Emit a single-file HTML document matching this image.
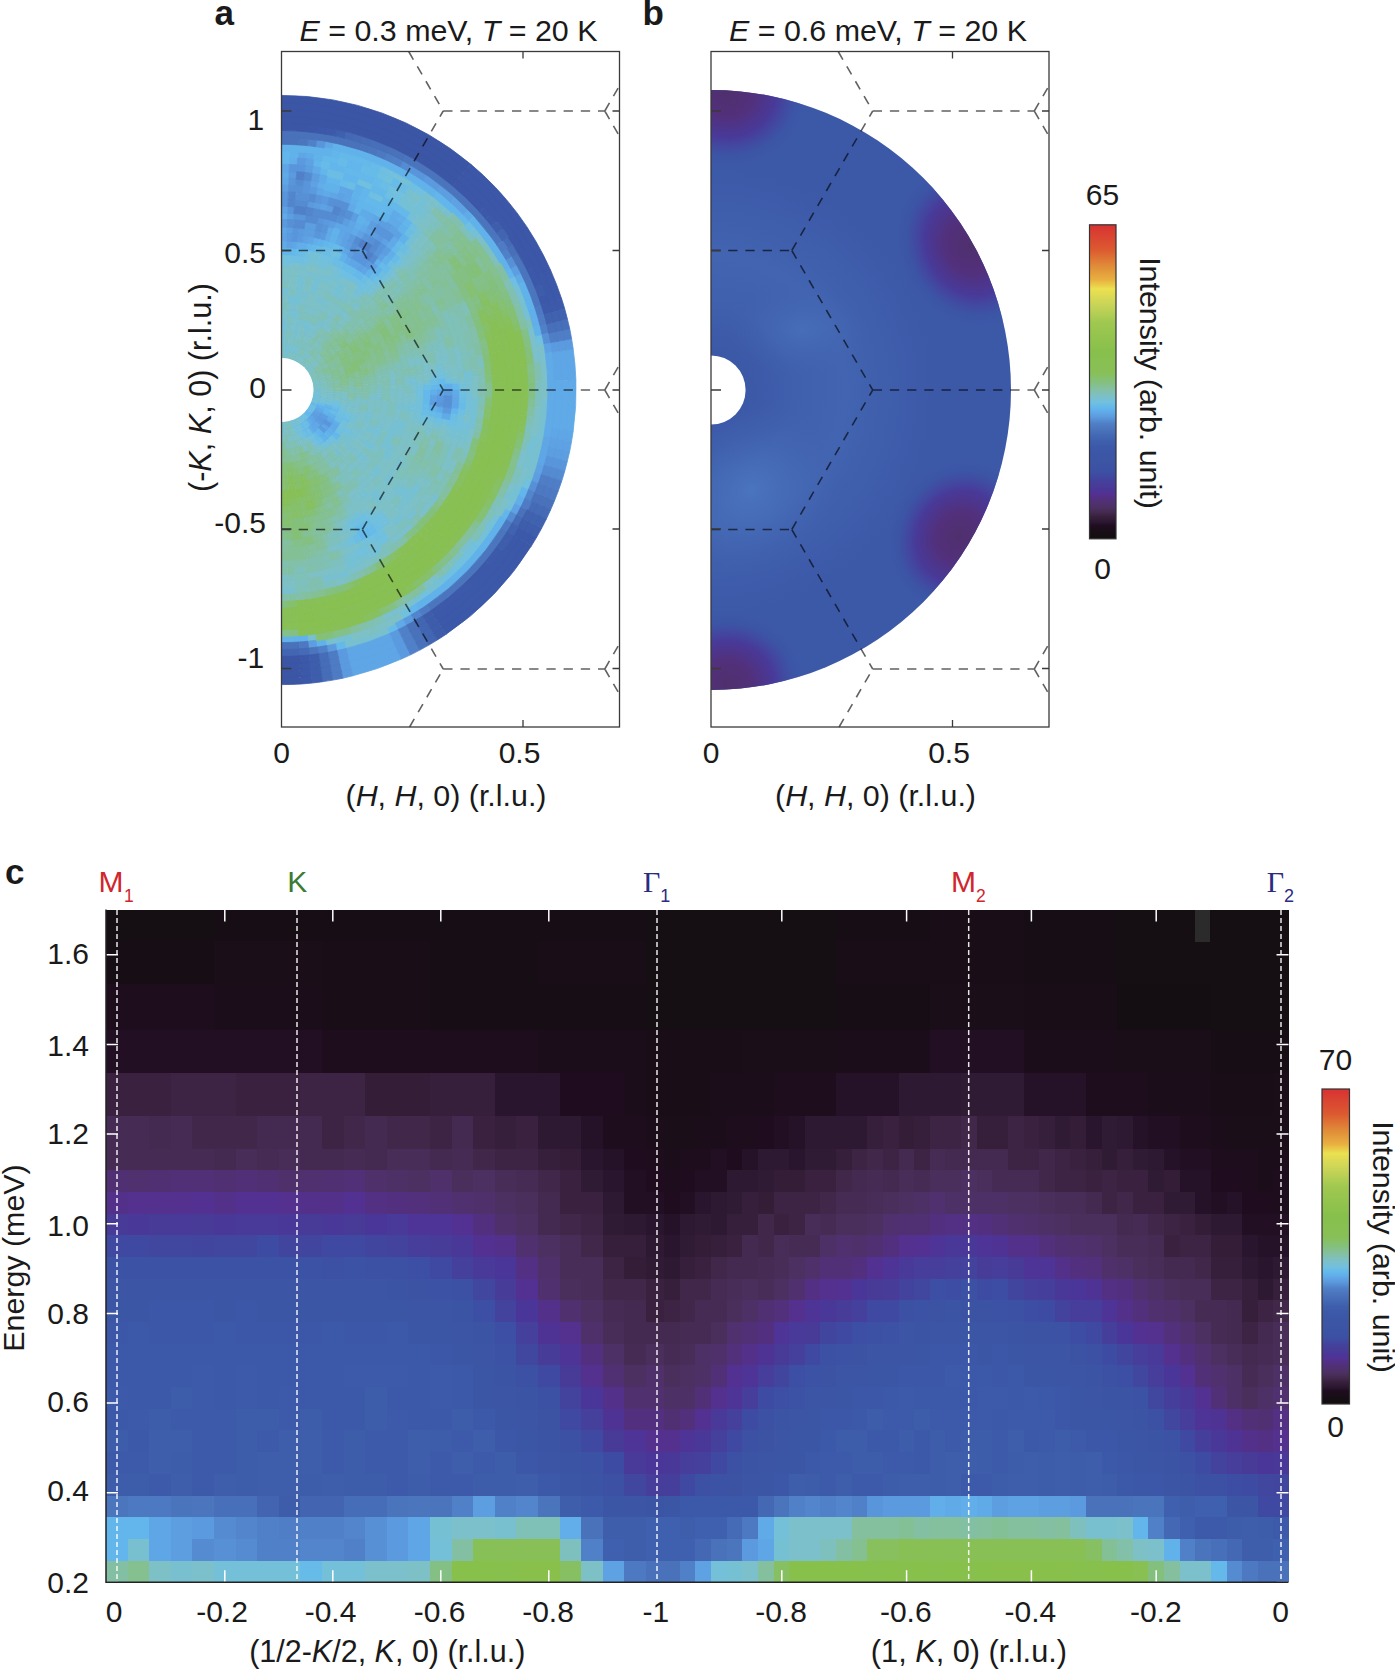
<!DOCTYPE html><html><head><meta charset="utf-8"><title>Figure</title><style>html,body{margin:0;padding:0;background:#fff;width:1395px;height:1672px;overflow:hidden}svg{display:block}text{font-family:"Liberation Sans",Arial,Helvetica,sans-serif;fill:#1a1a1a}</style></head><body><svg width="1395" height="1672" viewBox="0 0 1395 1672"><defs><linearGradient id="cm" x1="0" y1="0" x2="0" y2="1"><stop offset="0.000" stop-color="#d83232"/><stop offset="0.080" stop-color="#dc5a30"/><stop offset="0.130" stop-color="#e08a38"/><stop offset="0.175" stop-color="#e8b040"/><stop offset="0.204" stop-color="#ece050"/><stop offset="0.255" stop-color="#c8d458"/><stop offset="0.310" stop-color="#a0c850"/><stop offset="0.400" stop-color="#88c04c"/><stop offset="0.472" stop-color="#88c058"/><stop offset="0.502" stop-color="#84c080"/><stop offset="0.522" stop-color="#84c0a0"/><stop offset="0.546" stop-color="#7cc0c8"/><stop offset="0.566" stop-color="#70c0e0"/><stop offset="0.582" stop-color="#62b8ec"/><stop offset="0.598" stop-color="#60a8e8"/><stop offset="0.614" stop-color="#5a98dc"/><stop offset="0.632" stop-color="#5080c8"/><stop offset="0.652" stop-color="#4a74bc"/><stop offset="0.672" stop-color="#4468b4"/><stop offset="0.692" stop-color="#3e5eac"/><stop offset="0.712" stop-color="#3c58a8"/><stop offset="0.732" stop-color="#3c56a6"/><stop offset="0.760" stop-color="#3c54a4"/><stop offset="0.787" stop-color="#3c50a4"/><stop offset="0.802" stop-color="#4048a0"/><stop offset="0.816" stop-color="#44409c"/><stop offset="0.830" stop-color="#483c98"/><stop offset="0.844" stop-color="#4a3698"/><stop offset="0.859" stop-color="#543090"/><stop offset="0.873" stop-color="#52307e"/><stop offset="0.887" stop-color="#503070"/><stop offset="0.901" stop-color="#4c3060"/><stop offset="0.916" stop-color="#442a50"/><stop offset="0.930" stop-color="#38203c"/><stop offset="0.945" stop-color="#2c1830"/><stop offset="0.959" stop-color="#200c20"/><stop offset="0.973" stop-color="#1a0e18"/><stop offset="0.987" stop-color="#140e12"/><stop offset="1.000" stop-color="#140e12"/></linearGradient><clipPath id="ca"><rect x="281.5" y="51.5" width="338" height="675.5"/></clipPath><clipPath id="cb"><rect x="711" y="51.5" width="338" height="675.5"/></clipPath></defs><rect width="1395" height="1672" fill="#fff"/><g clip-path="url(#ca)" stroke-width="0.8"><path fill="#78c0cf" stroke="#78c0cf" d="M281.5 429.5A39.5 39.5 0 0 0 284.3 429.4L283.7 421.9A32 32 0 0 1 281.5 422ZM295 427.1A39.5 39.5 0 0 0 300 424.9L296.5 418.3A32 32 0 0 1 292.4 420.1ZM320.8 385.9A39.5 39.5 0 0 0 320.4 383.1L313 384.4A32 32 0 0 1 313.3 386.7ZM300 355.1A39.5 39.5 0 0 0 297.6 353.9L294.5 360.8A32 32 0 0 1 296.5 361.7ZM295 352.9A39.5 39.5 0 0 0 292.4 352L290.3 359.2A32 32 0 0 1 292.4 359.9ZM289.7 351.4A39.5 39.5 0 0 0 284.3 350.6L283.7 358.1A32 32 0 0 1 288.2 358.7ZM294.3 434.6A46.4 46.4 0 0 0 295.8 434.1L293.5 427A38.9 38.9 0 0 1 292.2 427.4ZM327.6 394.8A46.4 46.4 0 0 0 327.8 393.2L320.3 392.7A38.9 38.9 0 0 1 320.2 394.1ZM308.8 352.5A46.4 46.4 0 0 0 306.1 350.7L302.1 357A38.9 38.9 0 0 1 304.4 358.5ZM297.4 346.4A46.4 46.4 0 0 0 294.3 345.4L292.2 352.6A38.9 38.9 0 0 1 294.8 353.5ZM291.1 344.6A46.4 46.4 0 0 0 288 344.1L286.9 351.5A38.9 38.9 0 0 1 289.6 352ZM299.7 440.1A53.3 53.3 0 0 0 301.5 439.4L298.7 432.5A45.8 45.8 0 0 1 297.2 433ZM333.2 402.9A53.3 53.3 0 0 0 333.6 401.1L326.3 399.5A45.8 45.8 0 0 1 325.9 401.1ZM334 399.3A53.3 53.3 0 0 0 334.3 397.4L326.8 396.4A45.8 45.8 0 0 1 326.6 398ZM334.5 395.6A53.3 53.3 0 0 0 334.7 393.7L327.2 393.2A45.8 45.8 0 0 1 327 394.8ZM341.3 396.3A60.2 60.2 0 0 0 341.5 394.2L334.1 393.7A52.7 52.7 0 0 1 333.9 395.5ZM285.7 330A60.2 60.2 0 0 0 281.5 329.8L281.5 337.3A52.7 52.7 0 0 1 285.2 337.4ZM315 448.1A67.1 67.1 0 0 0 317 446.9L313.1 440.5A59.6 59.6 0 0 1 311.3 441.6ZM347.6 401.6A67.1 67.1 0 0 0 347.9 399.3L340.5 398.3A59.6 59.6 0 0 1 340.2 400.3ZM310.9 329.7A67.1 67.1 0 0 0 304.4 327L301.9 334A59.6 59.6 0 0 1 307.6 336.5ZM290.8 323.6A67.1 67.1 0 0 0 286.2 323.1L285.7 330.6A59.6 59.6 0 0 1 289.8 331ZM322.9 451.3A74 74 0 0 0 325 449.8L320.6 443.8A66.5 66.5 0 0 1 318.7 445.1ZM353.9 405.4A74 74 0 0 0 354.3 402.8L347 401.5A66.5 66.5 0 0 1 346.5 403.8ZM306.8 320.5A74 74 0 0 0 296.9 317.6L295.3 325A66.5 66.5 0 0 1 304.2 327.5ZM337.7 448.2A80.9 80.9 0 0 0 348.5 435.2L342.3 431A73.4 73.4 0 0 1 332.5 442.8ZM326.7 323A80.9 80.9 0 0 0 319.5 318.6L315.9 325.2A73.4 73.4 0 0 1 322.5 329.2ZM292.8 309.9A80.9 80.9 0 0 0 287.1 309.3L286.6 316.8A73.4 73.4 0 0 1 291.7 317.3ZM337.9 457.2A87.8 87.8 0 0 0 342.5 453.1L337.3 447.7A80.3 80.3 0 0 1 333.1 451.5ZM348.7 446.4A87.8 87.8 0 0 0 354.3 439.1L348 434.9A80.3 80.3 0 0 1 343 441.6ZM357.5 433.9A87.8 87.8 0 0 0 360.4 428.5L353.6 425.2A80.3 80.3 0 0 1 351 430.1ZM351.8 453.3A94.7 94.7 0 0 0 356.1 448.3L350.2 443.7A87.2 87.2 0 0 1 346.3 448.3ZM363.5 437.3A94.7 94.7 0 0 0 366.6 431.5L359.8 428.2A87.2 87.2 0 0 1 357 433.6ZM369.3 425.5A94.7 94.7 0 0 0 371.5 419.2L364.4 416.9A87.2 87.2 0 0 1 362.3 422.6ZM372.5 416.1A94.7 94.7 0 0 0 373.3 412.9L366.1 411.1A87.2 87.2 0 0 1 365.3 414ZM359.3 455.3A101.5 101.5 0 0 0 361.5 452.5L355.6 447.9A94.1 94.1 0 0 1 353.5 450.5ZM365.7 446.8A101.5 101.5 0 0 0 369.4 440.8L363 437A94.1 94.1 0 0 1 359.5 442.6ZM382.5 400.6A101.5 101.5 0 0 0 382.8 397.1L375.3 396.6A94.1 94.1 0 0 1 375 399.8ZM346.8 312.2A101.5 101.5 0 0 0 341.2 307.8L336.8 313.9A94.1 94.1 0 0 1 342 318ZM329.2 300.3A101.5 101.5 0 0 0 316.2 294.6L313.7 301.6A94.1 94.1 0 0 1 325.7 307ZM309.5 292.4A101.5 101.5 0 0 0 295.6 289.4L294.6 296.9A94.1 94.1 0 0 1 307.4 299.6ZM362.1 462.6A108.4 108.4 0 0 0 364.6 459.7L358.8 454.9A100.9 100.9 0 0 1 356.5 457.5ZM382 430.6A108.4 108.4 0 0 0 384.6 423.5L377.5 421.2A100.9 100.9 0 0 1 375.1 427.8ZM358.7 304.3A115.3 115.3 0 0 0 355.6 301.6L350.8 307.4A107.8 107.8 0 0 1 353.7 309.9ZM349.3 296.7A115.3 115.3 0 0 0 342.6 292.2L338.6 298.5A107.8 107.8 0 0 1 344.9 302.8ZM397.7 427.8A122.2 122.2 0 0 0 400.1 419.6L392.8 417.8A114.7 114.7 0 0 1 390.6 425.5ZM401.9 411.2A122.2 122.2 0 0 0 403.1 402.8L395.6 402A114.7 114.7 0 0 1 394.5 409.9ZM323.3 275.1A122.2 122.2 0 0 0 306.9 270.4L305.4 277.8A114.7 114.7 0 0 1 320.7 282.2ZM374.4 479.7A129.1 129.1 0 0 0 377.5 476.4L371.9 471.4A121.6 121.6 0 0 1 369 474.5ZM393.3 454.6A129.1 129.1 0 0 0 397.6 446.6L390.8 443.3A121.6 121.6 0 0 1 386.8 450.8ZM401.2 438.4A129.1 129.1 0 0 0 404.3 429.9L397.2 427.6A121.6 121.6 0 0 1 394.3 435.6ZM408.7 412.4A129.1 129.1 0 0 0 409.9 403.5L402.5 402.7A121.6 121.6 0 0 1 401.3 411.1ZM308.3 263.7A129.1 129.1 0 0 0 299.5 262.1L298.4 269.6A121.6 121.6 0 0 1 306.8 271ZM361.5 500A136 136 0 0 0 365.2 497.2L360.6 491.3A128.5 128.5 0 0 1 357 494ZM417.4 394.7A136 136 0 0 0 417.5 390L410 390A128.5 128.5 0 0 1 409.9 394.5ZM417.2 380.5A136 136 0 0 0 416.8 375.8L409.3 376.6A128.5 128.5 0 0 1 409.7 381ZM336.8 265.7A136 136 0 0 0 328 262.2L325.5 269.2A128.5 128.5 0 0 1 333.8 272.6ZM400 469.9A142.9 142.9 0 0 0 405.3 461.5L398.8 457.7A135.4 135.4 0 0 1 393.8 465.7ZM420.2 424.6A142.9 142.9 0 0 0 421.3 419.7L414 418.2A135.4 135.4 0 0 1 412.9 422.8ZM380.8 287.2A142.9 142.9 0 0 0 377.1 283.8L372.1 289.4A135.4 135.4 0 0 1 375.6 292.6ZM347.2 524.6A149.8 149.8 0 0 0 351.8 522.3L348.3 515.7A142.3 142.3 0 0 1 343.9 517.9ZM360.9 517A149.8 149.8 0 0 0 365.3 514.2L361.1 508A142.3 142.3 0 0 1 356.9 510.7ZM431.2 384.8A149.8 149.8 0 0 0 430.9 379.5L423.5 380.1A142.3 142.3 0 0 1 423.7 385ZM345.2 533.2A156.7 156.7 0 0 0 350.2 530.8L346.9 524.1A149.2 149.2 0 0 1 342.2 526.3ZM373.6 516.8A156.7 156.7 0 0 0 378 513.5L373.4 507.6A149.2 149.2 0 0 1 369.2 510.7ZM401.5 490.7A156.7 156.7 0 0 0 405 486.5L399.1 481.9A149.2 149.2 0 0 1 395.8 485.9ZM432.1 433.2A156.7 156.7 0 0 0 433.6 427.9L426.3 426.1A149.2 149.2 0 0 1 424.9 431.1ZM443.5 367.2A163.6 163.6 0 0 0 442.6 361.6L435.2 362.9A156.1 156.1 0 0 1 436.1 368.3ZM339.8 550.2A170.5 170.5 0 0 0 345.4 548.1L342.6 541.1A163 163 0 0 1 337.2 543.2ZM399.9 512.6A170.5 170.5 0 0 0 408.2 504.1L402.6 499.1A163 163 0 0 1 394.7 507.3ZM419.4 490.2A170.5 170.5 0 0 0 422.8 485.3L416.6 481.1A163 163 0 0 1 413.4 485.8ZM451.6 378.1A170.5 170.5 0 0 0 451.1 372.2L443.6 373A163 163 0 0 1 444.1 378.6ZM399.9 267.4A170.5 170.5 0 0 0 395.6 263.3L390.6 268.9A163 163 0 0 1 394.7 272.7ZM359.3 549.4A177.4 177.4 0 0 0 364.8 546.6L361.3 540A169.9 169.9 0 0 1 356 542.7ZM452 438.9A177.4 177.4 0 0 0 453.6 432.9L446.3 431.1A169.9 169.9 0 0 1 444.8 436.8ZM344.5 563.2A184.3 184.3 0 0 0 350.5 560.9L347.7 553.9A176.8 176.8 0 0 1 342 556.1ZM368 552.7A184.3 184.3 0 0 0 379.2 546.3L375.2 539.9A176.8 176.8 0 0 1 364.5 546.1ZM409.5 522.6A184.3 184.3 0 0 0 418.4 513.3L412.9 508.3A176.8 176.8 0 0 1 404.3 517.2ZM458.6 440.8A184.3 184.3 0 0 0 460.3 434.6L453 432.8A176.8 176.8 0 0 1 451.4 438.7ZM409.5 257.4A184.3 184.3 0 0 0 404.8 253.1L399.8 258.6A176.8 176.8 0 0 1 404.3 262.8ZM359.3 564.7A191.2 191.2 0 0 0 371.3 558.8L367.7 552.2A183.7 183.7 0 0 1 356.2 557.8ZM436.2 502.4A191.2 191.2 0 0 0 440 496.9L433.8 492.7A183.7 183.7 0 0 1 430.1 498ZM465.3 442.7A191.2 191.2 0 0 0 467 436.3L459.7 434.4A183.7 183.7 0 0 1 458.1 440.6ZM470.8 416.6A191.2 191.2 0 0 0 471.6 410L464.2 409.2A183.7 183.7 0 0 1 463.4 415.6ZM472.7 390A191.2 191.2 0 0 0 472.6 383.3L465.1 383.6A183.7 183.7 0 0 1 465.2 390ZM322.7 583.7A198.1 198.1 0 0 0 342.7 578.4L340.4 571.3A190.6 190.6 0 0 1 321.1 576.4ZM475.2 431.2A198.1 198.1 0 0 0 476.6 424.4L469.2 423.1A190.6 190.6 0 0 1 467.9 429.6ZM281.5 595A205 205 0 0 0 295.8 594.5L295.3 587A197.5 197.5 0 0 1 281.5 587.5ZM426.5 217.1A225.7 225.7 0 0 0 420.4 212.2L415.8 218.1A218.2 218.2 0 0 1 421.7 222.9ZM431 211.9A232.5 232.5 0 0 0 424.7 206.8L420.1 212.7A225.1 225.1 0 0 1 426.2 217.6ZM418.2 201.9A232.5 232.5 0 0 0 411.5 197.2L407.3 203.4A225.1 225.1 0 0 1 413.8 207.9ZM415.4 191.5A239.4 239.4 0 0 0 408.4 186.9L404.4 193.3A231.9 231.9 0 0 1 411.2 197.7ZM464.6 554.8A246.3 246.3 0 0 0 475.6 541.7L469.7 537A238.8 238.8 0 0 1 459 549.8ZM452.6 212.8A246.3 246.3 0 0 0 446.3 206.9L441.3 212.5A238.8 238.8 0 0 1 447.4 218.2ZM433.2 195.9A246.3 246.3 0 0 0 426.3 190.7L421.9 196.8A238.8 238.8 0 0 1 428.5 201.8ZM308 641.8A253.2 253.2 0 0 0 316.7 640.8L315.7 633.3A245.7 245.7 0 0 1 307.2 634.4ZM392.5 617.6A253.2 253.2 0 0 0 400.4 613.6L396.9 607A245.7 245.7 0 0 1 389.2 610.9ZM509.1 501A253.2 253.2 0 0 0 512.8 493L506 490A245.7 245.7 0 0 1 502.4 497.7ZM326.7 646.2A260.1 260.1 0 0 0 335.6 644.4L334 637.1A252.6 252.6 0 0 1 325.4 638.8ZM528.9 470.4A260.1 260.1 0 0 0 533.9 452.9L526.6 451.1A252.6 252.6 0 0 1 521.8 468.1ZM525.9 301A260.1 260.1 0 0 0 522.7 292.6L515.7 295.4A252.6 252.6 0 0 1 518.9 303.6ZM346.1 649.1A267 267 0 0 0 390.1 633.9L387.1 627.1A259.5 259.5 0 0 1 344.3 641.8ZM532.4 481.3A267 267 0 0 0 544.5 436.4L537.1 435.1A259.5 259.5 0 0 1 525.4 478.8ZM545.9 427.2A267 267 0 0 0 548.4 399.3L540.9 399.1A259.5 259.5 0 0 1 538.5 426.1Z"/><path fill="#7bc0ca" stroke="#7bc0ca" d="M284.3 429.4A39.5 39.5 0 0 0 287 429.1L286 421.7A32 32 0 0 1 283.7 421.9ZM315.7 370.3A39.5 39.5 0 0 0 314.2 367.9L308 372.1A32 32 0 0 1 309.2 374ZM310.9 363.6A39.5 39.5 0 0 0 308.9 361.6L303.7 367A32 32 0 0 1 305.3 368.6ZM302.4 356.5A39.5 39.5 0 0 0 300 355.1L296.5 361.7A32 32 0 0 1 298.5 362.9ZM281.5 436.4A46.4 46.4 0 0 0 284.7 436.3L284.2 428.8A38.9 38.9 0 0 1 281.5 428.9ZM327.2 398.1A46.4 46.4 0 0 0 327.4 396.5L320 395.4A38.9 38.9 0 0 1 319.8 396.8ZM327.8 393.2A46.4 46.4 0 0 0 327.9 391.6L320.4 391.4A38.9 38.9 0 0 1 320.3 392.7ZM318.1 361.4A46.4 46.4 0 0 0 316 359L310.4 364A38.9 38.9 0 0 1 312.1 366.1ZM313.7 356.6A46.4 46.4 0 0 0 311.3 354.5L306.5 360.2A38.9 38.9 0 0 1 308.5 362ZM290.8 442.5A53.3 53.3 0 0 0 296.2 441.2L294.1 434A45.8 45.8 0 0 1 289.5 435.1ZM298 440.7A53.3 53.3 0 0 0 299.7 440.1L297.2 433A45.8 45.8 0 0 1 295.6 433.5ZM333.6 401.1A53.3 53.3 0 0 0 334 399.3L326.6 398A45.8 45.8 0 0 1 326.3 399.5ZM334.3 397.4A53.3 53.3 0 0 0 334.5 395.6L327 394.8A45.8 45.8 0 0 1 326.8 396.4ZM334.7 393.7A53.3 53.3 0 0 0 334.8 391.9L327.3 391.6A45.8 45.8 0 0 1 327.2 393.2ZM312.8 346.9A53.3 53.3 0 0 0 309.7 344.8L305.8 351.2A45.8 45.8 0 0 1 308.4 353ZM300.1 447.2A60.2 60.2 0 0 0 302.1 446.5L299.5 439.5A52.7 52.7 0 0 1 297.8 440.1ZM304 445.8A60.2 60.2 0 0 0 306 445L302.9 438.1A52.7 52.7 0 0 1 301.2 438.8ZM307.9 444.1A60.2 60.2 0 0 0 309.8 443.1L306.2 436.5A52.7 52.7 0 0 1 304.6 437.4ZM341.5 394.2A60.2 60.2 0 0 0 341.6 392.1L334.2 391.8A52.7 52.7 0 0 1 334.1 393.7ZM313 449.2A67.1 67.1 0 0 0 315 448.1L311.3 441.6A59.6 59.6 0 0 1 309.5 442.6ZM346.6 406.2A67.1 67.1 0 0 0 347.1 403.9L339.8 402.4A59.6 59.6 0 0 1 339.3 404.4ZM347.9 399.3A67.1 67.1 0 0 0 348.5 392.3L341 392.1A59.6 59.6 0 0 1 340.5 398.3ZM317 333.1A67.1 67.1 0 0 0 310.9 329.7L307.6 336.5A59.6 59.6 0 0 1 313.1 339.5ZM320.7 452.7A74 74 0 0 0 322.9 451.3L318.7 445.1A66.5 66.5 0 0 1 316.7 446.4ZM351.8 412.9A74 74 0 0 0 352.6 410.4L345.4 408.3A66.5 66.5 0 0 1 344.7 410.5ZM320.7 327.3A74 74 0 0 0 311.6 322.4L308.5 329.3A66.5 66.5 0 0 1 316.7 333.6ZM296.9 317.6A74 74 0 0 0 291.8 316.8L290.8 324.2A66.5 66.5 0 0 1 295.3 325ZM326.7 457A80.9 80.9 0 0 0 329 455.4L324.6 449.4A73.4 73.4 0 0 1 322.5 450.8ZM351.5 430.4A80.9 80.9 0 0 0 354.2 425.4L347.4 422.2A73.4 73.4 0 0 1 345 426.7ZM358.4 415A80.9 80.9 0 0 0 359.2 412.3L352 410.2A73.4 73.4 0 0 1 351.3 412.7ZM360 409.6A80.9 80.9 0 0 0 361.9 398.5L354.5 397.7A73.4 73.4 0 0 1 352.7 407.7ZM331.3 326.3A80.9 80.9 0 0 0 326.7 323L322.5 329.2A73.4 73.4 0 0 1 326.7 332.2ZM346.7 448.7A87.8 87.8 0 0 0 348.7 446.4L343 441.6A80.3 80.3 0 0 1 341.1 443.7ZM362.9 422.9A87.8 87.8 0 0 0 366.7 411.2L359.4 409.4A80.3 80.3 0 0 1 355.9 420.1ZM367.9 405.2A87.8 87.8 0 0 0 368.8 399.2L361.3 398.4A80.3 80.3 0 0 1 360.5 403.9ZM333.1 319A87.8 87.8 0 0 0 328 315.6L324 321.9A80.3 80.3 0 0 1 328.7 325.1ZM317.2 309.8A87.8 87.8 0 0 0 305.7 305.6L303.6 312.8A80.3 80.3 0 0 1 314.1 316.7ZM299.7 304.2A87.8 87.8 0 0 0 287.6 302.5L287.1 309.9A80.3 80.3 0 0 1 298.2 311.5ZM360 442.9A94.7 94.7 0 0 0 363.5 437.3L357 433.6A87.2 87.2 0 0 1 353.8 438.7ZM366.6 431.5A94.7 94.7 0 0 0 369.3 425.5L362.3 422.6A87.2 87.2 0 0 1 359.8 428.2ZM373.3 412.9A94.7 94.7 0 0 0 374.7 406.4L367.3 405.1A87.2 87.2 0 0 1 366.1 411.1ZM375.6 399.9A94.7 94.7 0 0 0 376.1 393.3L368.6 393A87.2 87.2 0 0 1 368.2 399.1ZM337.1 313.4A94.7 94.7 0 0 0 331.7 309.7L327.7 316.1A87.2 87.2 0 0 1 332.7 319.5ZM325.9 306.4A94.7 94.7 0 0 0 320 303.5L317 310.4A87.2 87.2 0 0 1 322.4 313ZM307.6 299A94.7 94.7 0 0 0 301.2 297.4L299.6 304.7A87.2 87.2 0 0 1 305.5 306.2ZM344 470A101.5 101.5 0 0 0 346.8 467.8L342 462A94.1 94.1 0 0 1 339.4 464.1ZM357 457.9A101.5 101.5 0 0 0 359.3 455.3L353.5 450.5A94.1 94.1 0 0 1 351.4 452.9ZM382.8 397.1A101.5 101.5 0 0 0 383 393.5L375.5 393.3A94.1 94.1 0 0 1 375.3 396.6ZM349.4 314.5A101.5 101.5 0 0 0 346.8 312.2L342 318A94.1 94.1 0 0 1 344.4 320.1ZM351.2 473.1A108.4 108.4 0 0 0 356.8 468L351.6 462.6A100.9 100.9 0 0 1 346.4 467.3ZM359.5 465.3A108.4 108.4 0 0 0 362.1 462.6L356.5 457.5A100.9 100.9 0 0 1 354.1 460.1ZM375.4 444.2A108.4 108.4 0 0 0 379 437.5L372.2 434.3A100.9 100.9 0 0 1 368.9 440.5ZM384.6 423.5A108.4 108.4 0 0 0 389.3 401.3L381.9 400.6A100.9 100.9 0 0 1 377.5 421.2ZM361.6 473A115.3 115.3 0 0 0 372.4 461L366.5 456.4A107.8 107.8 0 0 1 356.4 467.6ZM377.1 454.5A115.3 115.3 0 0 0 381.4 447.7L374.9 443.9A107.8 107.8 0 0 1 370.9 450.3ZM388.4 433.2A115.3 115.3 0 0 0 393.4 417.9L386.1 416.1A107.8 107.8 0 0 1 381.5 430.4ZM396.8 394A115.3 115.3 0 0 0 396.8 390L389.3 390A107.8 107.8 0 0 1 389.3 393.8ZM396.8 386A115.3 115.3 0 0 0 396.2 377.9L388.8 378.7A107.8 107.8 0 0 1 389.3 386.2ZM361.6 307A115.3 115.3 0 0 0 358.7 304.3L353.7 309.9A107.8 107.8 0 0 1 356.4 312.4ZM335.6 288.2A115.3 115.3 0 0 0 328.4 284.6L325.4 291.5A107.8 107.8 0 0 1 332.1 294.8ZM289.5 274.9A115.3 115.3 0 0 0 281.5 274.7L281.5 282.2A107.8 107.8 0 0 1 289 282.4ZM360.1 483.6A122.2 122.2 0 0 0 366.4 477.9L361.2 472.5A114.7 114.7 0 0 1 355.3 477.9ZM400.1 419.6A122.2 122.2 0 0 0 401.9 411.2L394.5 409.9A114.7 114.7 0 0 1 392.8 417.8ZM403.1 402.8A122.2 122.2 0 0 0 403.7 390L396.2 390A114.7 114.7 0 0 1 395.6 402ZM360.1 296.4A122.2 122.2 0 0 0 353.3 291.1L348.9 297.2A114.7 114.7 0 0 1 355.3 302.1ZM338.9 282.1A122.2 122.2 0 0 0 331.2 278.3L328.2 285.2A114.7 114.7 0 0 1 335.4 288.7ZM306.9 270.4A122.2 122.2 0 0 0 298.5 269L297.5 276.4A114.7 114.7 0 0 1 305.4 277.8ZM353.7 497.1A129.1 129.1 0 0 0 357.4 494.5L353 488.4A121.6 121.6 0 0 1 349.5 490.8ZM361 491.8A129.1 129.1 0 0 0 374.4 479.7L369 474.5A121.6 121.6 0 0 1 356.4 485.8ZM409.9 403.5A129.1 129.1 0 0 0 410.5 394.5L403.1 394.2A121.6 121.6 0 0 1 402.5 402.7ZM410.5 385.5A129.1 129.1 0 0 0 409.9 376.5L402.5 377.3A121.6 121.6 0 0 1 403.1 385.8ZM349.9 280.5A129.1 129.1 0 0 0 342.1 276L338.6 282.6A121.6 121.6 0 0 1 346 286.9ZM334 272A129.1 129.1 0 0 0 317.1 265.9L315 273.1A121.6 121.6 0 0 1 331 278.9ZM299.5 262.1A129.1 129.1 0 0 0 290.5 261.2L290 268.7A121.6 121.6 0 0 1 298.4 269.6ZM353.6 505.4A136 136 0 0 0 361.5 500L357 494A128.5 128.5 0 0 1 349.6 499ZM409.3 436.5A136 136 0 0 0 410.9 432L403.7 429.7A128.5 128.5 0 0 1 402.3 434ZM413.5 422.9A136 136 0 0 0 415.5 413.6L408.1 412.3A128.5 128.5 0 0 1 406.2 421.1ZM416.8 404.2A136 136 0 0 0 417.4 394.7L409.9 394.5A128.5 128.5 0 0 1 409.3 403.4ZM417.5 390A136 136 0 0 0 417.4 385.3L409.9 385.5A128.5 128.5 0 0 1 410 390ZM415.5 366.4A136 136 0 0 0 414.5 361.7L407.2 363.3A128.5 128.5 0 0 1 408.1 367.7ZM365.5 505.6A142.9 142.9 0 0 0 373.4 499.5L368.5 493.7A135.4 135.4 0 0 1 361.1 499.6ZM394.1 478A142.9 142.9 0 0 0 400 469.9L393.8 465.7A135.4 135.4 0 0 1 388.2 473.4ZM424.3 385A142.9 142.9 0 0 0 424.1 380L416.6 380.6A135.4 135.4 0 0 1 416.8 385.3ZM422.2 365.2A142.9 142.9 0 0 0 421.3 360.3L414 361.8A135.4 135.4 0 0 1 414.9 366.5ZM342.4 526.9A149.8 149.8 0 0 0 347.2 524.6L343.9 517.9A142.3 142.3 0 0 1 339.4 520ZM365.3 514.2A149.8 149.8 0 0 0 369.6 511.2L365.2 505.1A142.3 142.3 0 0 1 361.1 508ZM385.6 497.8A149.8 149.8 0 0 0 392.8 490.2L387.3 485.2A142.3 142.3 0 0 1 380.4 492.4ZM430.5 374.3A149.8 149.8 0 0 0 429 364L421.7 365.3A142.3 142.3 0 0 1 423 375.1ZM340.2 535.3A156.7 156.7 0 0 0 345.2 533.2L342.2 526.3A149.2 149.2 0 0 1 337.4 528.3ZM378 513.5A156.7 156.7 0 0 0 382.2 510L377.4 504.3A149.2 149.2 0 0 1 373.4 507.6ZM390.4 502.7A156.7 156.7 0 0 0 398 494.9L392.4 489.8A149.2 149.2 0 0 1 385.2 497.3ZM433.6 427.9A156.7 156.7 0 0 0 434.8 422.6L427.4 421A149.2 149.2 0 0 1 426.3 426.1ZM437.3 373.6A156.7 156.7 0 0 0 436.7 368.2L429.3 369.2A149.2 149.2 0 0 1 429.9 374.4ZM348 539.5A163.6 163.6 0 0 0 353.2 537L349.9 530.3A156.1 156.1 0 0 1 345 532.6ZM442.6 361.6A163.6 163.6 0 0 0 441.5 356L434.2 357.5A156.1 156.1 0 0 1 435.2 362.9ZM399.2 276.4A163.6 163.6 0 0 0 395.1 272.3L389.9 277.7A156.1 156.1 0 0 1 393.8 281.6ZM334.2 552.2A170.5 170.5 0 0 0 339.8 550.2L337.2 543.2A163 163 0 0 1 331.9 545ZM446.9 431.2A170.5 170.5 0 0 0 448.3 425.4L440.9 423.9A163 163 0 0 1 439.7 429.4ZM451.1 372.2A170.5 170.5 0 0 0 450.3 366.3L442.9 367.3A163 163 0 0 1 443.6 373ZM449.4 360.4A170.5 170.5 0 0 0 448.3 354.6L440.9 356.1A163 163 0 0 1 442 361.7ZM348 554.5A177.4 177.4 0 0 0 359.3 549.4L356 542.7A169.9 169.9 0 0 1 345.1 547.5ZM385.8 533.5A177.4 177.4 0 0 0 395.5 525.9L390.7 520.1A169.9 169.9 0 0 1 381.4 527.4ZM404.7 517.6A177.4 177.4 0 0 0 413.3 508.7L407.8 503.7A169.9 169.9 0 0 1 399.5 512.2ZM452.4 459A184.3 184.3 0 0 0 458.6 440.8L451.4 438.7A176.8 176.8 0 0 1 445.4 456.2ZM465.7 383.6A184.3 184.3 0 0 0 465.3 377.1L457.9 377.7A176.8 176.8 0 0 1 458.2 383.8ZM464.8 370.7A184.3 184.3 0 0 0 464 364.4L456.6 365.4A176.8 176.8 0 0 1 457.3 371.5ZM463 358A184.3 184.3 0 0 0 461.8 351.7L454.4 353.2A176.8 176.8 0 0 1 455.6 359.3ZM414.1 262A184.3 184.3 0 0 0 409.5 257.4L404.3 262.8A176.8 176.8 0 0 1 408.7 267.2ZM327.8 575.5A191.2 191.2 0 0 0 334.2 573.8L332.1 566.6A183.7 183.7 0 0 1 325.9 568.2ZM393.9 544.7A191.2 191.2 0 0 0 414.3 527.5L409.1 522.1A183.7 183.7 0 0 1 389.5 538.6ZM423.6 517.9A191.2 191.2 0 0 0 436.2 502.4L430.1 498A183.7 183.7 0 0 1 418 512.9ZM463.3 449.1A191.2 191.2 0 0 0 465.3 442.7L458.1 440.6A183.7 183.7 0 0 1 456.2 446.8ZM469.8 423.2A191.2 191.2 0 0 0 470.8 416.6L463.4 415.6A183.7 183.7 0 0 1 462.4 421.9ZM349.2 576.1A198.1 198.1 0 0 0 368.3 568L365 561.3A190.6 190.6 0 0 1 346.7 569.1ZM471.9 444.6A198.1 198.1 0 0 0 475.2 431.2L467.9 429.6A190.6 190.6 0 0 1 464.7 442.5ZM422.1 222.4A218.8 218.8 0 0 0 416.2 217.6L411.6 223.5A211.3 211.3 0 0 1 417.3 228.2ZM435.4 206.6A239.4 239.4 0 0 0 428.9 201.3L424.3 207.2A231.9 231.9 0 0 1 430.6 212.3ZM422.2 196.3A239.4 239.4 0 0 0 415.4 191.5L411.2 197.7A231.9 231.9 0 0 1 417.8 202.4ZM433.2 584.1A246.3 246.3 0 0 0 439.8 578.7L435 573A238.8 238.8 0 0 1 428.5 578.2ZM439.8 201.3A246.3 246.3 0 0 0 433.2 195.9L428.5 201.8A238.8 238.8 0 0 1 435 207ZM384.5 621.3A253.2 253.2 0 0 0 392.5 617.6L389.2 610.9A245.7 245.7 0 0 1 381.5 614.5ZM400.4 613.6A253.2 253.2 0 0 0 415.7 604.8L411.7 598.4A245.7 245.7 0 0 1 396.9 607ZM512.8 493A253.2 253.2 0 0 0 516.3 484.9L509.3 482.1A245.7 245.7 0 0 1 506 490ZM522.3 468.3A253.2 253.2 0 0 0 527.2 451.3L519.9 449.4A245.7 245.7 0 0 1 515.2 465.9ZM486.4 241.2A253.2 253.2 0 0 0 481 234.1L475.1 238.7A245.7 245.7 0 0 1 480.3 245.6ZM522.7 487.4A260.1 260.1 0 0 0 528.9 470.4L521.8 468.1A252.6 252.6 0 0 1 515.7 484.6ZM540.2 362.8A260.1 260.1 0 0 0 533.9 327.1L526.6 328.9A252.6 252.6 0 0 1 532.7 363.6ZM548.4 380.7A267 267 0 0 0 544.5 343.6L537.1 344.9A259.5 259.5 0 0 1 540.9 380.9Z"/><path fill="#7ec0be" stroke="#7ec0be" d="M287 429.1A39.5 39.5 0 0 0 292.4 428L290.3 420.8A32 32 0 0 1 286 421.7ZM321 388.6A39.5 39.5 0 0 0 320.8 385.9L313.3 386.7A32 32 0 0 1 313.5 388.9ZM319.8 380.4A39.5 39.5 0 0 0 319.1 377.8L311.9 380.1A32 32 0 0 1 312.5 382.3ZM306.9 359.7A39.5 39.5 0 0 0 304.7 358L300.3 364.1A32 32 0 0 1 302.1 365.5ZM297.6 353.9A39.5 39.5 0 0 0 295 352.9L292.4 359.9A32 32 0 0 1 294.5 360.8ZM292.4 352A39.5 39.5 0 0 0 289.7 351.4L288.2 358.7A32 32 0 0 1 290.3 359.2ZM284.3 350.6A39.5 39.5 0 0 0 281.5 350.5L281.5 358A32 32 0 0 1 283.7 358.1ZM288 435.9A46.4 46.4 0 0 0 292.7 435L290.9 427.7A38.9 38.9 0 0 1 286.9 428.5ZM327.8 386.8A46.4 46.4 0 0 0 327.2 381.9L319.8 383.2A38.9 38.9 0 0 1 320.3 387.3ZM311.3 354.5A46.4 46.4 0 0 0 308.8 352.5L304.4 358.5A38.9 38.9 0 0 1 306.5 360.2ZM306.1 350.7A46.4 46.4 0 0 0 303.3 349L299.8 355.7A38.9 38.9 0 0 1 302.1 357ZM334.8 391.9A53.3 53.3 0 0 0 334.8 388.1L327.3 388.4A45.8 45.8 0 0 1 327.3 391.6ZM333.2 377.1A53.3 53.3 0 0 0 332.7 375.3L325.5 377.4A45.8 45.8 0 0 1 325.9 378.9ZM322.3 355.7A53.3 53.3 0 0 0 318.5 351.7L313.3 357.1A45.8 45.8 0 0 1 316.6 360.6ZM309.7 344.8A53.3 53.3 0 0 0 292.6 337.9L291 345.2A45.8 45.8 0 0 1 305.8 351.2ZM288.9 337.2A53.3 53.3 0 0 0 285.2 336.8L284.7 344.3A45.8 45.8 0 0 1 287.9 344.7ZM285.7 450A60.2 60.2 0 0 0 289.9 449.6L288.8 442.2A52.7 52.7 0 0 1 285.2 442.6ZM341.1 398.4A60.2 60.2 0 0 0 341.3 396.3L333.9 395.5A52.7 52.7 0 0 1 333.7 397.3ZM323.3 346.7A60.2 60.2 0 0 0 318.5 342.6L313.9 348.5A52.7 52.7 0 0 1 318.1 352.1ZM313.4 339A60.2 60.2 0 0 0 309.8 336.9L306.2 343.5A52.7 52.7 0 0 1 309.4 345.3ZM306 335A60.2 60.2 0 0 0 302.1 333.5L299.5 340.5A52.7 52.7 0 0 1 302.9 341.9ZM294 331.1A60.2 60.2 0 0 0 285.7 330L285.2 337.4A52.7 52.7 0 0 1 292.5 338.5ZM324.6 338.6A67.1 67.1 0 0 0 320.9 335.7L316.5 341.8A59.6 59.6 0 0 1 319.8 344.4ZM313.9 456.5A74 74 0 0 0 320.7 452.7L316.7 446.4A66.5 66.5 0 0 1 310.6 449.7ZM354.3 402.8A74 74 0 0 0 354.7 400.3L347.3 399.3A66.5 66.5 0 0 1 347 401.5ZM355.4 392.6A74 74 0 0 0 355.4 387.4L347.9 387.7A66.5 66.5 0 0 1 347.9 392.3ZM291.8 316.8A74 74 0 0 0 286.7 316.2L286.1 323.7A66.5 66.5 0 0 1 290.8 324.2ZM331.3 453.7A80.9 80.9 0 0 0 333.5 451.9L328.7 446.2A73.4 73.4 0 0 1 326.7 447.8ZM361.9 398.5A80.9 80.9 0 0 0 362.2 395.6L354.7 395.1A73.4 73.4 0 0 1 354.5 397.7ZM316.9 317.3A80.9 80.9 0 0 0 314.4 316.1L311.3 323A73.4 73.4 0 0 1 313.7 324.1ZM311.8 315A80.9 80.9 0 0 0 298.3 310.9L296.8 318.2A73.4 73.4 0 0 1 309 322ZM330.6 462.8A87.8 87.8 0 0 0 333.1 461L328.7 454.9A80.3 80.3 0 0 1 326.4 456.5ZM342.5 453.1A87.8 87.8 0 0 0 346.7 448.7L341.1 443.7A80.3 80.3 0 0 1 337.3 447.7ZM360.4 428.5A87.8 87.8 0 0 0 362.9 422.9L355.9 420.1A80.3 80.3 0 0 1 353.6 425.2ZM342.5 326.9A87.8 87.8 0 0 0 337.9 322.8L333.1 328.5A80.3 80.3 0 0 1 337.3 332.3ZM335.5 320.8A87.8 87.8 0 0 0 333.1 319L328.7 325.1A80.3 80.3 0 0 1 330.9 326.8ZM322.7 312.5A87.8 87.8 0 0 0 320 311.1L316.7 317.9A80.3 80.3 0 0 1 319.2 319.1ZM305.7 305.6A87.8 87.8 0 0 0 299.7 304.2L298.2 311.5A80.3 80.3 0 0 1 303.6 312.8ZM287.6 302.5A87.8 87.8 0 0 0 281.5 302.2L281.5 309.7A80.3 80.3 0 0 1 287.1 309.9ZM331.7 470.3A94.7 94.7 0 0 0 334.4 468.5L330.2 462.3A87.2 87.2 0 0 1 327.7 463.9ZM339.8 464.6A94.7 94.7 0 0 0 342.3 462.5L337.5 456.8A87.2 87.2 0 0 1 335.2 458.7ZM344.8 460.3A94.7 94.7 0 0 0 347.3 458.1L342 452.7A87.2 87.2 0 0 1 339.8 454.8ZM347.3 321.9A94.7 94.7 0 0 0 344.8 319.7L339.8 325.2A87.2 87.2 0 0 1 342 327.3ZM346.8 467.8A101.5 101.5 0 0 0 349.4 465.5L344.4 459.9A94.1 94.1 0 0 1 342 462ZM375.7 428A101.5 101.5 0 0 0 378.1 421.4L370.9 419.1A94.1 94.1 0 0 1 368.7 425.2ZM380 414.6A101.5 101.5 0 0 0 381.5 407.6L374.1 406.3A94.1 94.1 0 0 1 372.8 412.8ZM383 390A101.5 101.5 0 0 0 382.8 382.9L375.3 383.4A94.1 94.1 0 0 1 375.6 390ZM295.6 289.4A101.5 101.5 0 0 0 288.6 288.7L288.1 296.2A94.1 94.1 0 0 1 294.6 296.9ZM339 482A108.4 108.4 0 0 0 351.2 473.1L346.4 467.3A100.9 100.9 0 0 1 335 475.6ZM367 456.8A108.4 108.4 0 0 0 371.4 450.6L365.2 446.4A100.9 100.9 0 0 1 361 452.1ZM389.9 393.8A108.4 108.4 0 0 0 389.9 390L382.4 390A100.9 100.9 0 0 1 382.4 393.5ZM345.2 302.3A108.4 108.4 0 0 0 325.6 290.9L322.6 297.8A100.9 100.9 0 0 1 340.8 308.3ZM289.1 281.8A108.4 108.4 0 0 0 281.5 281.6L281.5 289.1A100.9 100.9 0 0 1 288.5 289.3ZM346 485.6A115.3 115.3 0 0 0 352.5 480.9L347.9 475A107.8 107.8 0 0 1 341.8 479.4ZM372.4 461A115.3 115.3 0 0 0 377.1 454.5L370.9 450.3A107.8 107.8 0 0 1 366.5 456.4ZM381.4 447.7A115.3 115.3 0 0 0 388.4 433.2L381.5 430.4A107.8 107.8 0 0 1 374.9 443.9ZM393.4 417.9A115.3 115.3 0 0 0 396.2 402.1L388.8 401.3A107.8 107.8 0 0 1 386.1 416.1ZM355.6 301.6A115.3 115.3 0 0 0 352.5 299.1L347.9 305A107.8 107.8 0 0 1 350.8 307.4ZM313.3 279.1A115.3 115.3 0 0 0 305.5 277.2L303.9 284.5A107.8 107.8 0 0 1 311.2 286.3ZM342.6 495.9A122.2 122.2 0 0 0 346.3 493.7L342.3 487.3A114.7 114.7 0 0 1 338.9 489.4ZM366.4 477.9A122.2 122.2 0 0 0 369.4 474.9L364 469.7A114.7 114.7 0 0 1 361.2 472.5ZM372.3 471.8A122.2 122.2 0 0 0 387.4 451.1L380.9 447.4A114.7 114.7 0 0 1 366.8 466.8ZM403.1 377.2A122.2 122.2 0 0 0 402.5 373L395.1 374A114.7 114.7 0 0 1 395.6 378ZM401.9 368.8A122.2 122.2 0 0 0 401.1 364.6L393.7 366.1A114.7 114.7 0 0 1 394.5 370.1ZM363.3 299.2A122.2 122.2 0 0 0 360.1 296.4L355.3 302.1A114.7 114.7 0 0 1 358.3 304.7ZM406.8 421.2A129.1 129.1 0 0 0 408.7 412.4L401.3 411.1A121.6 121.6 0 0 1 399.5 419.4ZM410.5 394.5A129.1 129.1 0 0 0 410.5 385.5L403.1 385.8A121.6 121.6 0 0 1 403.1 394.2ZM374.4 300.3A129.1 129.1 0 0 0 371.2 297.1L366 302.5A121.6 121.6 0 0 1 369 305.5ZM367.9 294A129.1 129.1 0 0 0 364.5 291.1L359.7 296.8A121.6 121.6 0 0 1 362.9 299.6ZM345.4 510.1A136 136 0 0 0 353.6 505.4L349.6 499A128.5 128.5 0 0 1 341.8 503.5ZM376 487.8A136 136 0 0 0 382.6 481L377 476A128.5 128.5 0 0 1 370.8 482.5ZM407.7 457.1A142.9 142.9 0 0 0 410 452.7L403.2 449.4A135.4 135.4 0 0 1 401.1 453.6ZM417.4 434.2A142.9 142.9 0 0 0 418.9 429.4L411.7 427.3A135.4 135.4 0 0 1 410.3 431.8ZM423.6 375.1A142.9 142.9 0 0 0 423 370.1L415.6 371.2A135.4 135.4 0 0 1 416.2 375.8ZM337.6 528.9A149.8 149.8 0 0 0 342.4 526.9L339.4 520A142.3 142.3 0 0 1 334.8 522ZM373.7 508.1A149.8 149.8 0 0 0 377.8 504.8L373 499A142.3 142.3 0 0 1 369.1 502.1ZM399.6 482.2A149.8 149.8 0 0 0 402.7 478.1L396.6 473.7A142.3 142.3 0 0 1 393.6 477.6ZM405.7 473.8A149.8 149.8 0 0 0 411.2 464.9L404.7 461.2A142.3 142.3 0 0 1 399.5 469.6ZM422.3 441.2A149.8 149.8 0 0 0 424 436.3L416.9 434A142.3 142.3 0 0 1 415.2 438.7ZM428 358.9A149.8 149.8 0 0 0 426.9 353.8L419.6 355.6A142.3 142.3 0 0 1 420.7 360.4ZM329.9 539A156.7 156.7 0 0 0 340.2 535.3L337.4 528.3A149.2 149.2 0 0 1 327.6 531.9ZM408.3 482.1A156.7 156.7 0 0 0 411.4 477.6L405.2 473.4A149.2 149.2 0 0 1 402.2 477.7ZM433.6 352.1A156.7 156.7 0 0 0 432.1 346.8L424.9 348.9A149.2 149.2 0 0 1 426.3 353.9ZM401.5 289.3A156.7 156.7 0 0 0 398 285.1L392.4 290.2A149.2 149.2 0 0 1 395.8 294.1ZM394.2 281.1A156.7 156.7 0 0 0 390.4 277.3L385.2 282.7A149.2 149.2 0 0 1 388.8 286.3ZM332.1 545.6A163.6 163.6 0 0 0 342.8 541.7L340 534.7A156.1 156.1 0 0 1 329.7 538.5ZM395.1 507.7A163.6 163.6 0 0 0 403.1 499.5L397.5 494.5A156.1 156.1 0 0 1 389.9 502.3ZM410.4 490.7A163.6 163.6 0 0 0 420.2 476.7L413.9 472.7A156.1 156.1 0 0 1 404.5 486.1ZM433.2 451.3A163.6 163.6 0 0 0 435.2 446L428.2 443.4A156.1 156.1 0 0 1 426.2 448.5ZM438.8 435.1A163.6 163.6 0 0 0 440.2 429.6L433 427.8A156.1 156.1 0 0 1 431.6 433ZM440.2 350.4A163.6 163.6 0 0 0 437.1 339.4L430 341.8A156.1 156.1 0 0 1 433 352.2ZM403.1 280.5A163.6 163.6 0 0 0 399.2 276.4L393.8 281.6A156.1 156.1 0 0 1 397.5 285.5ZM426.1 480.3A170.5 170.5 0 0 0 429.2 475.2L422.7 471.5A163 163 0 0 1 419.7 476.4ZM443.7 442.7A170.5 170.5 0 0 0 445.4 437L438.2 434.9A163 163 0 0 1 436.5 440.4ZM445.4 343A170.5 170.5 0 0 0 439.6 326.1L432.6 328.9A163 163 0 0 1 438.2 345.1ZM421.3 499.2A177.4 177.4 0 0 0 428.6 489.2L422.3 485A169.9 169.9 0 0 1 415.4 494.6ZM431.9 484A177.4 177.4 0 0 0 435.1 478.7L428.6 474.9A169.9 169.9 0 0 1 425.6 480ZM448.2 450.7A177.4 177.4 0 0 0 450.2 444.8L443.1 442.5A169.9 169.9 0 0 1 441.1 448.1ZM457.2 365.3A177.4 177.4 0 0 0 453.6 347.1L446.3 348.9A169.9 169.9 0 0 1 449.7 366.4ZM294.4 573.8A184.3 184.3 0 0 0 307.1 572.5L306.1 565.1A176.8 176.8 0 0 1 293.8 566.4ZM332.3 567.1A184.3 184.3 0 0 0 344.5 563.2L342 556.1A176.8 176.8 0 0 1 330.2 559.9ZM400 531.2A184.3 184.3 0 0 0 409.5 522.6L404.3 517.2A176.8 176.8 0 0 1 395.1 525.4ZM418.4 513.3A184.3 184.3 0 0 0 426.7 503.5L420.8 498.8A176.8 176.8 0 0 1 412.9 508.3ZM430.6 498.3A184.3 184.3 0 0 0 434.3 493.1L428.1 488.9A176.8 176.8 0 0 1 424.5 493.9ZM444.2 476.5A184.3 184.3 0 0 0 447.1 470.8L440.4 467.5A176.8 176.8 0 0 1 437.6 473ZM465.3 377.1A184.3 184.3 0 0 0 464.8 370.7L457.3 371.5A176.8 176.8 0 0 1 457.9 377.7ZM452.4 321A184.3 184.3 0 0 0 449.9 315L443 318.1A176.8 176.8 0 0 1 445.4 323.8ZM418.4 266.7A184.3 184.3 0 0 0 414.1 262L408.7 267.2A176.8 176.8 0 0 1 412.9 271.7ZM288.2 581.1A191.2 191.2 0 0 0 294.8 580.7L294.3 573.2A183.7 183.7 0 0 1 287.9 573.6ZM382.8 552.1A191.2 191.2 0 0 0 393.9 544.7L389.5 538.6A183.7 183.7 0 0 1 378.8 545.8ZM469.8 356.8A191.2 191.2 0 0 0 468.5 350.3L461.2 351.8A183.7 183.7 0 0 1 462.4 358.1ZM295.3 587.6A198.1 198.1 0 0 0 309.1 586.1L308 578.7A190.6 190.6 0 0 1 294.8 580.1ZM374.5 564.9A198.1 198.1 0 0 0 380.5 561.5L376.8 555A190.6 190.6 0 0 1 371 558.3ZM386.5 558A198.1 198.1 0 0 0 392.3 554.2L388.1 548A190.6 190.6 0 0 1 382.5 551.6ZM467.6 457.7A198.1 198.1 0 0 0 469.9 451.2L462.8 448.9A190.6 190.6 0 0 1 460.6 455.2ZM479.1 376.2A198.1 198.1 0 0 0 478.5 369.3L471 370.1A190.6 190.6 0 0 1 471.6 376.7ZM324.1 590.5A205 205 0 0 0 338 587L335.9 579.8A197.5 197.5 0 0 1 322.6 583.2ZM344.8 584.9A205 205 0 0 0 351.6 582.6L349 575.6A197.5 197.5 0 0 1 342.5 577.8ZM485.3 368.6A205 205 0 0 0 483.4 354.4L476 355.7A197.5 197.5 0 0 1 477.9 369.4ZM428.9 247.6A205 205 0 0 0 423.9 242.6L418.7 247.9A197.5 197.5 0 0 1 423.6 252.8ZM433.9 242.8A211.9 211.9 0 0 0 428.7 237.6L423.5 243A204.4 204.4 0 0 1 428.5 248ZM438.3 227.7A225.7 225.7 0 0 0 432.5 222.3L427.5 227.9A218.2 218.2 0 0 1 433 233.1ZM443 222.7A232.5 232.5 0 0 0 437.1 217.2L432.1 222.8A225.1 225.1 0 0 1 437.8 228.1ZM452.6 567.2A246.3 246.3 0 0 0 464.6 554.8L459 549.8A238.8 238.8 0 0 1 447.4 561.8ZM485.7 527.7A246.3 246.3 0 0 0 490.4 520.5L484 516.6A238.8 238.8 0 0 1 479.5 523.6ZM494.8 513.2A246.3 246.3 0 0 0 499 505.6L492.4 502.1A238.8 238.8 0 0 1 488.3 509.4ZM475.6 238.3A246.3 246.3 0 0 0 464.6 225.2L459 230.2A238.8 238.8 0 0 1 469.7 243ZM516.3 484.9A253.2 253.2 0 0 0 522.3 468.3L515.2 465.9A245.7 245.7 0 0 1 509.3 482.1ZM527.2 451.3A253.2 253.2 0 0 0 529.2 442.6L521.9 441.1A245.7 245.7 0 0 1 519.9 449.4ZM530.9 434A253.2 253.2 0 0 0 532.3 425.2L524.8 424.2A245.7 245.7 0 0 1 523.5 432.7ZM500.8 263.4A253.2 253.2 0 0 0 486.4 241.2L480.3 245.6A245.7 245.7 0 0 1 494.3 267.1ZM370.5 634.4A260.1 260.1 0 0 0 378.9 631.2L376.1 624.2A252.6 252.6 0 0 1 367.9 627.4ZM541 408.1A260.1 260.1 0 0 0 541.5 380.9L534 381.2A252.6 252.6 0 0 1 533.5 407.6Z"/><path fill="#74c0d9" stroke="#74c0d9" d="M292.4 428A39.5 39.5 0 0 0 295 427.1L292.4 420.1A32 32 0 0 1 290.3 420.8ZM301.2 424.2A39.5 39.5 0 0 0 302.4 423.5L298.5 417.1A32 32 0 0 1 297.5 417.7ZM318.1 404.8A39.5 39.5 0 0 0 318.6 403.5L311.6 400.9A32 32 0 0 1 311.2 402ZM319.1 402.2A39.5 39.5 0 0 0 320.8 394.1L313.3 393.3A32 32 0 0 1 311.9 399.9ZM301.8 431.7A46.4 46.4 0 0 0 303.3 431L299.8 424.3A38.9 38.9 0 0 1 298.6 425ZM325.6 404.3A46.4 46.4 0 0 0 326.1 402.8L318.9 400.7A38.9 38.9 0 0 1 318.5 402ZM326.5 401.2A46.4 46.4 0 0 0 326.9 399.6L319.5 398.1A38.9 38.9 0 0 1 319.2 399.4ZM311.6 442.1A60.2 60.2 0 0 0 313.4 441L309.4 434.7A52.7 52.7 0 0 1 307.8 435.6ZM340.4 402.5A60.2 60.2 0 0 0 340.8 400.4L333.4 399.1A52.7 52.7 0 0 1 333 401ZM317 446.9A67.1 67.1 0 0 0 319 445.6L314.8 439.4A59.6 59.6 0 0 1 313.1 440.5ZM346 408.5A67.1 67.1 0 0 0 346.6 406.2L339.3 404.4A59.6 59.6 0 0 1 338.8 406.4ZM327 448.3A74 74 0 0 0 329 446.7L324.2 440.9A66.5 66.5 0 0 1 322.4 442.4ZM345.6 427A74 74 0 0 0 348 422.4L341.2 419.1A66.5 66.5 0 0 1 339.1 423.2ZM351 415.3A74 74 0 0 0 351.8 412.9L344.7 410.5A66.5 66.5 0 0 1 344 412.7ZM364.5 291.1A129.1 129.1 0 0 0 357.4 285.5L353 291.6A121.6 121.6 0 0 1 359.7 296.8ZM290.5 261.2A129.1 129.1 0 0 0 281.5 260.9L281.5 268.4A121.6 121.6 0 0 1 290 268.7ZM416.2 408.9A136 136 0 0 0 416.8 404.2L409.3 403.4A128.5 128.5 0 0 1 408.8 407.9ZM372.5 288.9A136 136 0 0 0 368.9 285.8L364.1 291.5A128.5 128.5 0 0 1 367.5 294.5ZM341.1 267.7A136 136 0 0 0 336.8 265.7L333.8 272.6A128.5 128.5 0 0 1 337.8 274.5ZM328 262.2A136 136 0 0 0 319 259.2L316.9 266.5A128.5 128.5 0 0 1 325.5 269.2ZM422.2 414.8A142.9 142.9 0 0 0 424.3 395L416.8 394.7A135.4 135.4 0 0 1 414.9 413.5ZM424.4 390A142.9 142.9 0 0 0 424.3 385L416.8 385.3A135.4 135.4 0 0 1 416.9 390ZM377.1 283.8A142.9 142.9 0 0 0 373.4 280.5L368.5 286.3A135.4 135.4 0 0 1 372.1 289.4ZM316.1 251.3A142.9 142.9 0 0 0 311.2 250.2L309.7 257.5A135.4 135.4 0 0 1 314.3 258.6ZM356.4 519.7A149.8 149.8 0 0 0 360.9 517L356.9 510.7A142.3 142.3 0 0 1 352.7 513.2ZM369.1 519.9A156.7 156.7 0 0 0 373.6 516.8L369.2 510.7A149.2 149.2 0 0 1 364.9 513.7ZM434.8 422.6A156.7 156.7 0 0 0 435.8 417.2L428.4 415.9A149.2 149.2 0 0 1 427.4 421ZM437.8 379.1A156.7 156.7 0 0 0 437.3 373.6L429.9 374.4A149.2 149.2 0 0 1 430.3 379.6ZM390.4 277.3A156.7 156.7 0 0 0 386.4 273.5L381.3 279.1A149.2 149.2 0 0 1 385.2 282.7ZM382.2 518.9A163.6 163.6 0 0 0 386.7 515.3L381.8 509.6A156.1 156.1 0 0 1 377.6 513ZM395.1 272.3A163.6 163.6 0 0 0 391 268.4L386 274A156.1 156.1 0 0 1 389.9 277.7ZM386.5 524.4A170.5 170.5 0 0 0 391.1 520.6L386.3 514.9A163 163 0 0 1 381.9 518.4ZM364.8 546.6A177.4 177.4 0 0 0 370.2 543.6L366.4 537.1A169.9 169.9 0 0 1 361.3 540ZM356.5 558.4A184.3 184.3 0 0 0 362.3 555.6L359 548.9A176.8 176.8 0 0 1 353.4 551.5ZM463 422A184.3 184.3 0 0 0 464 415.6L456.6 414.6A176.8 176.8 0 0 1 455.6 420.7ZM465.8 390A184.3 184.3 0 0 0 465.7 383.6L458.2 383.8A176.8 176.8 0 0 1 458.3 390ZM377.1 555.6A191.2 191.2 0 0 0 382.8 552.1L378.8 545.8A183.7 183.7 0 0 1 373.3 549.1ZM468.5 429.7A191.2 191.2 0 0 0 469.8 423.2L462.4 421.9A183.7 183.7 0 0 1 461.2 428.2ZM471.6 410A191.2 191.2 0 0 0 472.7 390L465.2 390A183.7 183.7 0 0 1 464.2 409.2ZM414 242.8A198.1 198.1 0 0 0 408.8 238.3L404 244A190.6 190.6 0 0 1 409 248.4ZM416.2 217.6A218.8 218.8 0 0 0 410.1 213L405.7 219.1A211.3 211.3 0 0 1 411.6 223.5ZM407.7 202.9A225.7 225.7 0 0 0 401.1 198.6L397.1 205A218.2 218.2 0 0 1 403.5 209.1ZM424.7 206.8A232.5 232.5 0 0 0 418.2 201.9L413.8 207.9A225.1 225.1 0 0 1 420.1 212.7ZM404.7 176.7A246.3 246.3 0 0 0 397.1 172.5L393.6 179.1A238.8 238.8 0 0 1 400.9 183.2ZM481 545.9A253.2 253.2 0 0 0 496.3 524.2L489.9 520.2A245.7 245.7 0 0 1 475.1 541.3ZM511.2 512.1A260.1 260.1 0 0 0 515.3 504L508.6 500.7A252.6 252.6 0 0 1 504.6 508.6Z"/><path fill="#76c0d4" stroke="#76c0d4" d="M300 424.9A39.5 39.5 0 0 0 301.2 424.2L297.5 417.7A32 32 0 0 1 296.5 418.3ZM318.6 403.5A39.5 39.5 0 0 0 319.1 402.2L311.9 399.9A32 32 0 0 1 311.6 400.9ZM320.8 394.1A39.5 39.5 0 0 0 321 388.6L313.5 388.9A32 32 0 0 1 313.3 393.3ZM295.8 434.1A46.4 46.4 0 0 0 297.4 433.6L294.8 426.5A38.9 38.9 0 0 1 293.5 427ZM300.4 432.4A46.4 46.4 0 0 0 301.8 431.7L298.6 425A38.9 38.9 0 0 1 297.3 425.5ZM326.1 402.8A46.4 46.4 0 0 0 326.5 401.2L319.2 399.4A38.9 38.9 0 0 1 318.9 400.7ZM326.9 399.6A46.4 46.4 0 0 0 327.2 398.1L319.8 396.8A38.9 38.9 0 0 1 319.5 398.1ZM300.4 347.6A46.4 46.4 0 0 0 297.4 346.4L294.8 353.5A38.9 38.9 0 0 1 297.3 354.5ZM294.3 345.4A46.4 46.4 0 0 0 291.1 344.6L289.6 352A38.9 38.9 0 0 1 292.2 352.6ZM288 344.1A46.4 46.4 0 0 0 284.7 343.7L284.2 351.2A38.9 38.9 0 0 1 286.9 351.5ZM301.5 439.4A53.3 53.3 0 0 0 303.2 438.7L300.1 431.8A45.8 45.8 0 0 1 298.7 432.5ZM332.7 404.7A53.3 53.3 0 0 0 333.2 402.9L325.9 401.1A45.8 45.8 0 0 1 325.5 402.6ZM285.2 336.8A53.3 53.3 0 0 0 281.5 336.7L281.5 344.2A45.8 45.8 0 0 1 284.7 344.3ZM309.8 443.1A60.2 60.2 0 0 0 311.6 442.1L307.8 435.6A52.7 52.7 0 0 1 306.2 436.5ZM298.1 332.2A60.2 60.2 0 0 0 294 331.1L292.5 338.5A52.7 52.7 0 0 1 296 339.4ZM300 325.5A67.1 67.1 0 0 0 295.4 324.4L293.9 331.7A59.6 59.6 0 0 1 297.9 332.7ZM286.2 323.1A67.1 67.1 0 0 0 281.5 322.9L281.5 330.4A59.6 59.6 0 0 1 285.7 330.6ZM325 449.8A74 74 0 0 0 327 448.3L322.4 442.4A66.5 66.5 0 0 1 320.6 443.8ZM353.3 407.9A74 74 0 0 0 353.9 405.4L346.5 403.8A66.5 66.5 0 0 1 346 406.1ZM311.6 322.4A74 74 0 0 0 306.8 320.5L304.2 327.5A66.5 66.5 0 0 1 308.5 329.3ZM286.7 316.2A74 74 0 0 0 281.5 316L281.5 323.5A66.5 66.5 0 0 1 286.1 323.7ZM354.2 425.4A80.9 80.9 0 0 0 358.4 415L351.3 412.7A73.4 73.4 0 0 1 347.4 422.2ZM298.3 310.9A80.9 80.9 0 0 0 292.8 309.9L291.7 317.3A73.4 73.4 0 0 1 296.8 318.2ZM354.3 439.1A87.8 87.8 0 0 0 357.5 433.9L351 430.1A80.3 80.3 0 0 1 348 434.9ZM371.5 419.2A94.7 94.7 0 0 0 372.5 416.1L365.3 414A87.2 87.2 0 0 1 364.4 416.9ZM301.2 297.4A94.7 94.7 0 0 0 288.1 295.6L287.6 303.1A87.2 87.2 0 0 1 299.6 304.7ZM372.8 434.5A101.5 101.5 0 0 0 375.7 428L368.7 425.2A94.1 94.1 0 0 1 366 431.2ZM288.6 288.7A101.5 101.5 0 0 0 281.5 288.5L281.5 295.9A94.1 94.1 0 0 1 288.1 296.2ZM364.6 459.7A108.4 108.4 0 0 0 367 456.8L361 452.1A100.9 100.9 0 0 1 358.8 454.9ZM371.4 450.6A108.4 108.4 0 0 0 375.4 444.2L368.9 440.5A100.9 100.9 0 0 1 365.2 446.4ZM379 437.5A108.4 108.4 0 0 0 382 430.6L375.1 427.8A100.9 100.9 0 0 1 372.2 434.3ZM318.6 288.1A108.4 108.4 0 0 0 311.4 285.8L309.3 293A100.9 100.9 0 0 1 316 295.1ZM304 283.9A108.4 108.4 0 0 0 296.6 282.6L295.5 290A100.9 100.9 0 0 1 302.5 291.3ZM342.6 292.2A115.3 115.3 0 0 0 335.6 288.2L332.1 294.8A107.8 107.8 0 0 1 338.6 298.5ZM320.9 281.6A115.3 115.3 0 0 0 313.3 279.1L311.2 286.3A107.8 107.8 0 0 1 318.4 288.7ZM305.5 277.2A115.3 115.3 0 0 0 297.6 275.8L296.5 283.2A107.8 107.8 0 0 1 303.9 284.5ZM387.4 451.1A122.2 122.2 0 0 0 397.7 427.8L390.6 425.5A114.7 114.7 0 0 1 380.9 447.4ZM346.3 286.3A122.2 122.2 0 0 0 338.9 282.1L335.4 288.7A114.7 114.7 0 0 1 342.3 292.7ZM331.2 278.3A122.2 122.2 0 0 0 323.3 275.1L320.7 282.2A114.7 114.7 0 0 1 328.2 285.2ZM377.5 476.4A129.1 129.1 0 0 0 383.3 469.5L377.3 464.9A121.6 121.6 0 0 1 371.9 471.4ZM388.6 462.2A129.1 129.1 0 0 0 393.3 454.6L386.8 450.8A121.6 121.6 0 0 1 382.3 458ZM404.3 429.9A129.1 129.1 0 0 0 406.8 421.2L399.5 419.4A121.6 121.6 0 0 1 397.2 427.6ZM342.1 276A129.1 129.1 0 0 0 334 272L331 278.9A121.6 121.6 0 0 1 338.6 282.6ZM365.2 497.2A136 136 0 0 0 368.9 494.2L364.1 488.5A128.5 128.5 0 0 1 360.6 491.3ZM415.5 413.6A136 136 0 0 0 416.2 408.9L408.8 407.9A128.5 128.5 0 0 1 408.1 412.3ZM417.4 385.3A136 136 0 0 0 417.2 380.5L409.7 381A128.5 128.5 0 0 1 409.9 385.5ZM376 292.2A136 136 0 0 0 372.5 288.9L367.5 294.5A128.5 128.5 0 0 1 370.8 297.5ZM319 259.2A136 136 0 0 0 309.8 257L308.2 264.3A128.5 128.5 0 0 1 316.9 266.5ZM373.4 499.5A142.9 142.9 0 0 0 380.8 492.8L375.6 487.4A135.4 135.4 0 0 1 368.5 493.7ZM387.7 485.6A142.9 142.9 0 0 0 394.1 478L388.2 473.4A135.4 135.4 0 0 1 382.1 480.6ZM421.3 419.7A142.9 142.9 0 0 0 422.2 414.8L414.9 413.5A135.4 135.4 0 0 1 414 418.2ZM320.9 252.6A142.9 142.9 0 0 0 316.1 251.3L314.3 258.6A135.4 135.4 0 0 1 318.8 259.8ZM351.8 522.3A149.8 149.8 0 0 0 356.4 519.7L352.7 513.2A142.3 142.3 0 0 1 348.3 515.7ZM377.8 504.8A149.8 149.8 0 0 0 385.6 497.8L380.4 492.4A142.3 142.3 0 0 1 373 499ZM426.9 426.2A149.8 149.8 0 0 0 428 421.1L420.7 419.6A142.3 142.3 0 0 1 419.6 424.4ZM385.6 282.2A149.8 149.8 0 0 0 381.7 278.7L376.7 284.2A142.3 142.3 0 0 1 380.4 287.6ZM398 494.9A156.7 156.7 0 0 0 401.5 490.7L395.8 485.9A149.2 149.2 0 0 1 392.4 489.8ZM353.2 537A163.6 163.6 0 0 0 358.3 534.5L354.8 527.8A156.1 156.1 0 0 1 349.9 530.3ZM403.1 499.5A163.6 163.6 0 0 0 410.4 490.7L404.5 486.1A156.1 156.1 0 0 1 397.5 494.5ZM440.2 429.6A163.6 163.6 0 0 0 441.5 424L434.2 422.5A156.1 156.1 0 0 1 433 427.8ZM444.2 372.9A163.6 163.6 0 0 0 443.5 367.2L436.1 368.3A156.1 156.1 0 0 1 436.8 373.7ZM345.4 548.1A170.5 170.5 0 0 0 350.8 545.8L347.8 538.9A163 163 0 0 1 342.6 541.1ZM408.2 504.1A170.5 170.5 0 0 0 419.4 490.2L413.4 485.8A163 163 0 0 1 402.6 499.1ZM395.5 525.9A177.4 177.4 0 0 0 404.7 517.6L399.5 512.2A169.9 169.9 0 0 1 390.7 520.1ZM453.6 432.9A177.4 177.4 0 0 0 455 426.9L447.7 425.3A169.9 169.9 0 0 1 446.3 431.1ZM458.8 383.8A177.4 177.4 0 0 0 458.5 377.6L451 378.1A169.9 169.9 0 0 1 451.3 384.1ZM350.5 560.9A184.3 184.3 0 0 0 356.5 558.4L353.4 551.5A176.8 176.8 0 0 1 347.7 553.9ZM460.3 434.6A184.3 184.3 0 0 0 461.8 428.3L454.4 426.8A176.8 176.8 0 0 1 453 432.8ZM346.9 569.6A191.2 191.2 0 0 0 359.3 564.7L356.2 557.8A183.7 183.7 0 0 1 344.3 562.6ZM371.3 558.8A191.2 191.2 0 0 0 377.1 555.6L373.3 549.1A183.7 183.7 0 0 1 367.7 552.2ZM467 436.3A191.2 191.2 0 0 0 468.5 429.7L461.2 428.2A183.7 183.7 0 0 1 459.7 434.4ZM472.6 383.3A191.2 191.2 0 0 0 471.6 370L464.2 370.8A183.7 183.7 0 0 1 465.1 383.6ZM414.3 252.5A191.2 191.2 0 0 0 409.4 247.9L404.4 253.5A183.7 183.7 0 0 1 409.1 257.9ZM342.7 578.4A198.1 198.1 0 0 0 349.2 576.1L346.7 569.1A190.6 190.6 0 0 1 340.4 571.3ZM476.6 424.4A198.1 198.1 0 0 0 479.5 396.9L472 396.7A190.6 190.6 0 0 1 469.2 423.1ZM418.7 237.7A205 205 0 0 0 413.3 233L408.4 238.7A197.5 197.5 0 0 1 413.6 243.2ZM423.3 232.6A211.9 211.9 0 0 0 417.7 227.7L412.9 233.4A204.4 204.4 0 0 1 418.2 238.1ZM420.4 212.2A225.7 225.7 0 0 0 407.7 202.9L403.5 209.1A218.2 218.2 0 0 1 415.8 218.1ZM411.5 197.2A232.5 232.5 0 0 0 404.7 192.8L400.8 199.1A225.1 225.1 0 0 1 407.3 203.4ZM428.9 201.3A239.4 239.4 0 0 0 422.2 196.3L417.8 202.4A231.9 231.9 0 0 1 424.3 207.2ZM446.3 206.9A246.3 246.3 0 0 0 439.8 201.3L435 207A238.8 238.8 0 0 1 441.3 212.5ZM412 181.1A246.3 246.3 0 0 0 404.7 176.7L400.9 183.2A238.8 238.8 0 0 1 408.1 187.5ZM415.7 604.8A253.2 253.2 0 0 0 423.1 599.9L418.9 593.7A245.7 245.7 0 0 1 411.7 598.4ZM430.3 594.9A253.2 253.2 0 0 0 444.3 584L439.5 578.2A245.7 245.7 0 0 1 425.9 588.8ZM496.3 524.2A253.2 253.2 0 0 0 500.8 516.6L494.3 512.9A245.7 245.7 0 0 1 489.9 520.2ZM481 234.1A253.2 253.2 0 0 0 475.5 227.2L469.7 232A245.7 245.7 0 0 1 475.1 238.7ZM335.6 644.4A260.1 260.1 0 0 0 353.2 640L351.1 632.8A252.6 252.6 0 0 1 334 637.1ZM515.3 504A260.1 260.1 0 0 0 522.7 487.4L515.7 484.6A252.6 252.6 0 0 1 508.6 500.7ZM533.9 452.9A260.1 260.1 0 0 0 537.7 435.2L530.3 433.9A252.6 252.6 0 0 1 526.6 451.1ZM531.5 318.3A260.1 260.1 0 0 0 525.9 301L518.9 303.6A252.6 252.6 0 0 1 524.3 320.4ZM522.7 292.6A260.1 260.1 0 0 0 519.1 284.2L512.3 287.2A252.6 252.6 0 0 1 515.7 295.4ZM544.5 436.4A267 267 0 0 0 545.9 427.2L538.5 426.1A259.5 259.5 0 0 1 537.1 435.1Z"/><path fill="#71c0de" stroke="#71c0de" d="M302.4 423.5A39.5 39.5 0 0 0 303.6 422.7L299.4 416.5A32 32 0 0 1 298.5 417.1ZM304.7 422A39.5 39.5 0 0 0 305.8 421.1L301.2 415.2A32 32 0 0 1 300.3 415.9ZM306.9 420.3A39.5 39.5 0 0 0 307.9 419.4L302.9 413.8A32 32 0 0 1 302.1 414.5ZM316.4 408.5A39.5 39.5 0 0 0 317 407.3L310.3 404A32 32 0 0 1 309.8 405ZM297.4 433.6A46.4 46.4 0 0 0 300.4 432.4L297.3 425.5A38.9 38.9 0 0 1 294.8 426.5ZM303.2 438.7A53.3 53.3 0 0 0 304.9 437.9L301.6 431.2A45.8 45.8 0 0 1 300.1 431.8ZM309.7 435.2A53.3 53.3 0 0 0 311.3 434.2L307.1 428A45.8 45.8 0 0 1 305.8 428.8ZM332.2 406.5A53.3 53.3 0 0 0 332.7 404.7L325.5 402.6A45.8 45.8 0 0 1 325 404.1ZM313.4 441A60.2 60.2 0 0 0 315.2 439.9L311 433.7A52.7 52.7 0 0 1 309.4 434.7ZM339.3 406.6A60.2 60.2 0 0 0 340.4 402.5L333 401A52.7 52.7 0 0 1 332.1 404.5ZM344.5 412.9A67.1 67.1 0 0 0 346 408.5L338.8 406.4A59.6 59.6 0 0 1 337.5 410.4ZM329 446.7A74 74 0 0 0 331 445L326 439.4A66.5 66.5 0 0 1 324.2 440.9ZM332.9 443.2A74 74 0 0 0 336.5 439.5L330.9 434.5A66.5 66.5 0 0 1 327.7 437.8ZM342.8 431.4A74 74 0 0 0 345.6 427L339.1 423.2A66.5 66.5 0 0 1 336.6 427.2ZM350.1 417.7A74 74 0 0 0 351 415.3L344 412.7A66.5 66.5 0 0 1 343.1 414.9ZM348.5 435.2A80.9 80.9 0 0 0 351.5 430.4L345 426.7A73.4 73.4 0 0 1 342.3 431ZM368.9 285.8A136 136 0 0 0 365.2 282.8L360.6 288.7A128.5 128.5 0 0 1 364.1 291.5ZM345.4 269.9A136 136 0 0 0 341.1 267.7L337.8 274.5A128.5 128.5 0 0 1 341.8 276.5ZM309.8 257A136 136 0 0 0 305.1 256L303.8 263.4A128.5 128.5 0 0 1 308.2 264.3ZM291 254.3A136 136 0 0 0 281.5 254L281.5 261.5A128.5 128.5 0 0 1 290.5 261.8ZM424.3 395A142.9 142.9 0 0 0 424.4 390L416.9 390A135.4 135.4 0 0 1 416.8 394.7ZM373.4 280.5A142.9 142.9 0 0 0 369.5 277.4L364.9 283.3A135.4 135.4 0 0 1 368.5 286.3ZM330.4 255.7A142.9 142.9 0 0 0 320.9 252.6L318.8 259.8A135.4 135.4 0 0 1 327.8 262.7ZM311.2 250.2A142.9 142.9 0 0 0 306.3 249.3L305 256.6A135.4 135.4 0 0 1 309.7 257.5ZM428 421.1A149.8 149.8 0 0 0 429 416L421.7 414.7A142.3 142.3 0 0 1 420.7 419.6ZM337.6 251.1A149.8 149.8 0 0 0 332.7 249.2L330.2 256.3A142.3 142.3 0 0 1 334.8 258ZM350.2 530.8A156.7 156.7 0 0 0 355.1 528.4L351.6 521.7A149.2 149.2 0 0 1 346.9 524.1ZM373 525.6A163.6 163.6 0 0 0 382.2 518.9L377.6 513A156.1 156.1 0 0 1 368.8 519.4ZM444.7 378.6A163.6 163.6 0 0 0 444.2 372.9L436.8 373.7A156.1 156.1 0 0 1 437.2 379.1ZM350.8 545.8A170.5 170.5 0 0 0 356.2 543.2L353 536.5A163 163 0 0 1 347.8 538.9ZM381.7 527.9A170.5 170.5 0 0 0 386.5 524.4L381.9 518.4A163 163 0 0 1 377.3 521.9ZM448.3 425.4A170.5 170.5 0 0 0 449.4 419.6L442 418.3A163 163 0 0 1 440.9 423.9ZM451.9 384A170.5 170.5 0 0 0 451.6 378.1L444.1 378.6A163 163 0 0 1 444.4 384.3ZM370.2 543.6A177.4 177.4 0 0 0 375.5 540.4L371.5 534.1A169.9 169.9 0 0 1 366.4 537.1ZM380.7 537.1A177.4 177.4 0 0 0 385.8 533.5L381.4 527.4A169.9 169.9 0 0 1 376.5 530.8ZM404.7 262.4A177.4 177.4 0 0 0 400.2 258.2L395.2 263.7A169.9 169.9 0 0 1 399.5 267.8ZM362.3 555.6A184.3 184.3 0 0 0 368 552.7L364.5 546.1A176.8 176.8 0 0 1 359 548.9ZM379.2 546.3A184.3 184.3 0 0 0 389.8 539.1L385.4 533A176.8 176.8 0 0 1 375.2 539.9ZM461.8 428.3A184.3 184.3 0 0 0 463 422L455.6 420.7A176.8 176.8 0 0 1 454.4 426.8ZM404.8 253.1A184.3 184.3 0 0 0 400 248.8L395.1 254.6A176.8 176.8 0 0 1 399.8 258.6ZM384.2 196.8A218.8 218.8 0 0 0 377.4 193.4L374.1 200.1A211.3 211.3 0 0 1 380.7 203.5ZM373.3 183.9A225.7 225.7 0 0 0 358.7 178L356.1 185A218.2 218.2 0 0 1 370.2 190.7ZM404.7 192.8A232.5 232.5 0 0 0 390.7 184.7L387.2 191.3A225.1 225.1 0 0 1 400.8 199.1ZM393.9 178.6A239.4 239.4 0 0 0 386.5 174.8L383.2 181.5A231.9 231.9 0 0 1 390.4 185.2ZM426.3 190.7A246.3 246.3 0 0 0 419.2 185.8L415.1 192A238.8 238.8 0 0 1 421.9 196.8ZM397.1 172.5A246.3 246.3 0 0 0 389.5 168.6L386.2 175.3A238.8 238.8 0 0 1 393.6 179.1ZM423.1 599.9A253.2 253.2 0 0 0 430.3 594.9L425.9 588.8A245.7 245.7 0 0 1 418.9 593.7ZM457.4 572.2A253.2 253.2 0 0 0 481 545.9L475.1 541.3A245.7 245.7 0 0 1 452.2 566.8ZM403.6 619.7A260.1 260.1 0 0 0 411.6 615.3L407.8 608.8A252.6 252.6 0 0 1 400.1 613.1ZM529.1 490A267 267 0 0 0 532.4 481.3L525.4 478.8A259.5 259.5 0 0 1 522.1 487.2ZM544.5 343.6A267 267 0 0 0 542.7 334.5L535.4 336A259.5 259.5 0 0 1 537.1 344.9Z"/><path fill="#6ebfe2" stroke="#6ebfe2" d="M303.6 422.7A39.5 39.5 0 0 0 304.7 422L300.3 415.9A32 32 0 0 1 299.4 416.5ZM305.8 421.1A39.5 39.5 0 0 0 306.9 420.3L302.1 414.5A32 32 0 0 1 301.2 415.2ZM307.9 419.4A39.5 39.5 0 0 0 308.9 418.4L303.7 413A32 32 0 0 1 302.9 413.8ZM315.7 409.7A39.5 39.5 0 0 0 316.4 408.5L309.8 405A32 32 0 0 1 309.2 406ZM306.1 429.3A46.4 46.4 0 0 0 307.4 428.5L303.2 422.2A38.9 38.9 0 0 1 302.1 423ZM304.9 437.9A53.3 53.3 0 0 0 306.5 437L303 430.4A45.8 45.8 0 0 1 301.6 431.2ZM315.2 439.9A60.2 60.2 0 0 0 316.9 438.7L312.5 432.6A52.7 52.7 0 0 1 311 433.7ZM338.7 408.6A60.2 60.2 0 0 0 339.3 406.6L332.1 404.5A52.7 52.7 0 0 1 331.6 406.3ZM319 445.6A67.1 67.1 0 0 0 320.9 444.3L316.5 438.2A59.6 59.6 0 0 1 314.8 439.4ZM342.8 417.3A67.1 67.1 0 0 0 344.5 412.9L337.5 410.4A59.6 59.6 0 0 1 335.9 414.2ZM331 445A74 74 0 0 0 332.9 443.2L327.7 437.8A66.5 66.5 0 0 1 326 439.4ZM339.8 435.5A74 74 0 0 0 342.8 431.4L336.6 427.2A66.5 66.5 0 0 1 333.9 430.9ZM349.1 420.1A74 74 0 0 0 350.1 417.7L343.1 414.9A66.5 66.5 0 0 1 342.2 417ZM365.2 282.8A136 136 0 0 0 345.4 269.9L341.8 276.5A128.5 128.5 0 0 1 360.6 288.7ZM305.1 256A136 136 0 0 0 291 254.3L290.5 261.8A128.5 128.5 0 0 1 303.8 263.4ZM335 257.5A142.9 142.9 0 0 0 330.4 255.7L327.8 262.7A135.4 135.4 0 0 1 332.2 264.4ZM381.7 278.7A149.8 149.8 0 0 0 377.8 275.2L373 281A142.3 142.3 0 0 1 376.7 284.2ZM342.4 253.1A149.8 149.8 0 0 0 337.6 251.1L334.8 258A142.3 142.3 0 0 1 339.4 260ZM355.1 528.4A156.7 156.7 0 0 0 369.1 519.9L364.9 513.7A149.2 149.2 0 0 1 351.6 521.7ZM441.5 424A163.6 163.6 0 0 0 442.6 418.4L435.2 417.1A156.1 156.1 0 0 1 434.2 422.5ZM376.8 531.3A170.5 170.5 0 0 0 381.7 527.9L377.3 521.9A163 163 0 0 1 372.6 525.1ZM395.6 263.3A170.5 170.5 0 0 0 391.1 259.4L386.3 265.1A163 163 0 0 1 390.6 268.9ZM375.5 540.4A177.4 177.4 0 0 0 380.7 537.1L376.5 530.8A169.9 169.9 0 0 1 371.5 534.1ZM455 426.9A177.4 177.4 0 0 0 456.2 420.8L448.8 419.5A169.9 169.9 0 0 1 447.7 425.3ZM464 415.6A184.3 184.3 0 0 0 464.8 409.3L457.3 408.5A176.8 176.8 0 0 1 456.6 414.6ZM465.7 396.4A184.3 184.3 0 0 0 465.8 390L458.3 390A176.8 176.8 0 0 1 458.2 396.2ZM417.7 227.7A211.9 211.9 0 0 0 411.9 223L407.3 229A204.4 204.4 0 0 1 412.9 233.4ZM377.4 193.4A218.8 218.8 0 0 0 370.5 190.2L367.4 197A211.3 211.3 0 0 1 374.1 200.1ZM401.1 198.6A225.7 225.7 0 0 0 387.4 190.8L383.9 197.4A218.2 218.2 0 0 1 397.1 205ZM386.5 174.8A239.4 239.4 0 0 0 378.9 171.3L375.8 178.1A231.9 231.9 0 0 1 383.2 181.5ZM419.2 185.8A246.3 246.3 0 0 0 412 181.1L408.1 187.5A238.8 238.8 0 0 1 415.1 192ZM389.5 168.6A246.3 246.3 0 0 0 381.7 165L378.6 171.8A238.8 238.8 0 0 1 386.2 175.3ZM444.3 584A253.2 253.2 0 0 0 457.4 572.2L452.2 566.8A245.7 245.7 0 0 1 439.5 578.2ZM475.5 227.2A253.2 253.2 0 0 0 469.7 220.6L464.1 225.6A245.7 245.7 0 0 1 469.7 232ZM519.1 284.2A260.1 260.1 0 0 0 515.3 276L508.6 279.3A252.6 252.6 0 0 1 512.3 287.2Z"/><path fill="#64b9ea" stroke="#64b9ea" d="M308.9 418.4A39.5 39.5 0 0 0 311.8 415.4L306 410.6A32 32 0 0 1 303.7 413ZM317 407.3A39.5 39.5 0 0 0 318.1 404.8L311.2 402A32 32 0 0 1 310.3 404ZM310.1 426.6A46.4 46.4 0 0 0 311.3 425.5L306.5 419.8A38.9 38.9 0 0 1 305.4 420.6ZM330.2 411.7A53.3 53.3 0 0 0 330.9 410L324 407.2A45.8 45.8 0 0 1 323.3 408.6ZM335.6 416.4A60.2 60.2 0 0 0 336.5 414.5L329.6 411.4A52.7 52.7 0 0 1 328.9 413.1ZM336.5 439.5A74 74 0 0 0 338.2 437.5L332.4 432.7A66.5 66.5 0 0 1 330.9 434.5ZM365.5 274.4A142.9 142.9 0 0 0 357.2 268.8L353.3 275.2A135.4 135.4 0 0 1 361.1 280.4ZM296.4 247.9A142.9 142.9 0 0 0 291.5 247.4L290.9 254.9A135.4 135.4 0 0 1 295.7 255.3ZM430.5 405.7A149.8 149.8 0 0 0 431.3 390L423.8 390A142.3 142.3 0 0 1 423 404.9ZM317.7 244.6A149.8 149.8 0 0 0 312.6 243.5L311.1 250.8A142.3 142.3 0 0 1 315.9 251.9ZM438.2 390A156.7 156.7 0 0 0 438.1 384.5L430.6 384.8A149.2 149.2 0 0 1 430.7 390ZM335.1 242.7A156.7 156.7 0 0 0 329.9 241L327.6 248.1A149.2 149.2 0 0 1 332.5 249.8ZM442.6 418.4A163.6 163.6 0 0 0 443.5 412.8L436.1 411.7A156.1 156.1 0 0 1 435.2 417.1ZM361.5 540.5A170.5 170.5 0 0 0 371.8 534.6L367.9 528.2A163 163 0 0 1 358 533.9ZM458.9 390A177.4 177.4 0 0 0 458.8 383.8L451.3 384.1A169.9 169.9 0 0 1 451.4 390ZM400 248.8A184.3 184.3 0 0 0 395 244.8L390.3 250.7A176.8 176.8 0 0 1 395.1 254.6ZM384 212.5A205 205 0 0 0 377.7 209L374.2 215.6A197.5 197.5 0 0 1 380.2 219ZM387.4 206.5A211.9 211.9 0 0 0 367.7 196.5L364.6 203.3A204.4 204.4 0 0 1 383.7 213ZM410.1 213A218.8 218.8 0 0 0 384.2 196.8L380.7 203.5A211.3 211.3 0 0 1 405.7 219.1ZM387.4 190.8A225.7 225.7 0 0 0 373.3 183.9L370.2 190.7A218.2 218.2 0 0 1 383.9 197.4ZM376.1 177.6A232.5 232.5 0 0 0 345.6 166.5L343.5 173.7A225.1 225.1 0 0 1 373 184.4ZM339.4 157.7A239.4 239.4 0 0 0 323.1 154.2L321.8 161.6A231.9 231.9 0 0 1 337.6 164.9ZM373.8 161.6A246.3 246.3 0 0 0 341.1 151L339.3 158.3A238.8 238.8 0 0 1 371 168.5ZM469.7 220.6A253.2 253.2 0 0 0 463.7 214.1L458.3 219.3A245.7 245.7 0 0 1 464.1 225.6ZM337 651.2A267 267 0 0 0 346.1 649.1L344.3 641.8A259.5 259.5 0 0 1 335.5 643.9Z"/><path fill="#62b6ec" stroke="#62b6ec" d="M311.8 415.4A39.5 39.5 0 0 0 312.6 414.3L306.7 409.7A32 32 0 0 1 306 410.6ZM328.5 415A53.3 53.3 0 0 0 330.2 411.7L323.3 408.6A45.8 45.8 0 0 1 321.9 411.5ZM331.6 408.2A53.3 53.3 0 0 0 332.2 406.5L325 404.1A45.8 45.8 0 0 1 324.5 405.7ZM318.5 437.4A60.2 60.2 0 0 0 321.8 434.7L316.8 429.2A52.7 52.7 0 0 1 313.9 431.5ZM337.3 412.5A60.2 60.2 0 0 0 338 410.6L331 408A52.7 52.7 0 0 1 330.3 409.7ZM328.1 438.2A67.1 67.1 0 0 0 329.7 436.6L324.4 431.4A59.6 59.6 0 0 1 322.9 432.9ZM338.2 437.5A74 74 0 0 0 339.8 435.5L333.9 430.9A66.5 66.5 0 0 1 332.4 432.7ZM291.5 247.4A142.9 142.9 0 0 0 281.5 247.1L281.5 254.6A135.4 135.4 0 0 1 290.9 254.9ZM312.6 243.5A149.8 149.8 0 0 0 307.5 242.5L306.2 249.8A142.3 142.3 0 0 1 311.1 250.8ZM345.2 246.8A156.7 156.7 0 0 0 340.2 244.7L337.4 251.7A149.2 149.2 0 0 1 342.2 253.7ZM329.9 241A156.7 156.7 0 0 0 324.7 239.4L322.6 246.6A149.2 149.2 0 0 1 327.6 248.1ZM445.1 390A163.6 163.6 0 0 0 445 384.3L437.5 384.6A156.1 156.1 0 0 1 437.6 390ZM457.2 414.7A177.4 177.4 0 0 0 457.9 408.5L450.5 407.8A169.9 169.9 0 0 1 449.7 413.6ZM362.1 209.1A198.1 198.1 0 0 0 355.7 206.3L352.9 213.3A190.6 190.6 0 0 1 359 215.9ZM377.7 209A205 205 0 0 0 358.3 200L355.5 206.9A197.5 197.5 0 0 1 374.2 215.6ZM411.9 223A211.9 211.9 0 0 0 406 218.6L401.6 224.7A204.4 204.4 0 0 1 407.3 229ZM393.8 210.3A211.9 211.9 0 0 0 387.4 206.5L383.7 213A204.4 204.4 0 0 1 389.8 216.7ZM367.7 196.5A211.9 211.9 0 0 0 360.9 193.6L358.1 200.5A204.4 204.4 0 0 1 364.6 203.3ZM370.5 190.2A218.8 218.8 0 0 0 363.4 187.2L360.6 194.1A211.3 211.3 0 0 1 367.4 197ZM341.8 179.7A218.8 218.8 0 0 0 327 176L325.4 183.4A211.3 211.3 0 0 1 339.7 186.9ZM358.7 178A225.7 225.7 0 0 0 343.7 173.1L341.6 180.3A218.2 218.2 0 0 1 356.1 185ZM328.4 169.3A225.7 225.7 0 0 0 320.7 167.8L319.4 175.2A218.2 218.2 0 0 1 326.9 176.6ZM345.6 166.5A232.5 232.5 0 0 0 329.8 162.5L328.3 169.9A225.1 225.1 0 0 1 343.5 173.7ZM321.9 161A232.5 232.5 0 0 0 313.9 159.7L312.8 167.1A225.1 225.1 0 0 1 320.6 168.4ZM289.6 157.6A232.5 232.5 0 0 0 281.5 157.5L281.5 164.9A225.1 225.1 0 0 1 289.4 165.1ZM363.4 165A239.4 239.4 0 0 0 347.5 159.8L345.4 167A231.9 231.9 0 0 1 360.8 172ZM289.9 150.7A239.4 239.4 0 0 0 281.5 150.6L281.5 158.1A231.9 231.9 0 0 1 289.6 158.2ZM341.1 151A246.3 246.3 0 0 0 332.7 149L331.2 156.4A238.8 238.8 0 0 1 339.3 158.3ZM463.7 214.1A253.2 253.2 0 0 0 437.4 190.5L432.8 196.4A245.7 245.7 0 0 1 458.3 219.3ZM411.6 615.3A260.1 260.1 0 0 0 419.3 610.6L415.4 604.2A252.6 252.6 0 0 1 407.8 608.8ZM506.8 520.1A260.1 260.1 0 0 0 511.2 512.1L504.6 508.6A252.6 252.6 0 0 1 500.3 516.3ZM515.3 276A260.1 260.1 0 0 0 511.2 267.9L504.6 271.4A252.6 252.6 0 0 1 508.6 279.3ZM525.4 498.6A267 267 0 0 0 529.1 490L522.1 487.2A259.5 259.5 0 0 1 518.6 495.6Z"/><path fill="#67bbe8" stroke="#67bbe8" d="M312.6 414.3A39.5 39.5 0 0 0 313.5 413.2L307.4 408.8A32 32 0 0 1 306.7 409.7ZM314.2 412.1A39.5 39.5 0 0 0 315 410.9L308.6 407A32 32 0 0 1 308 407.9ZM304.7 430.2A46.4 46.4 0 0 0 306.1 429.3L302.1 423A38.9 38.9 0 0 1 300.9 423.7ZM308.8 427.5A46.4 46.4 0 0 0 310.1 426.6L305.4 420.6A38.9 38.9 0 0 1 304.4 421.5ZM324.5 407.4A46.4 46.4 0 0 0 325.1 405.9L318 403.3A38.9 38.9 0 0 1 317.6 404.6ZM308.1 436.1A53.3 53.3 0 0 0 309.7 435.2L305.8 428.8A45.8 45.8 0 0 1 304.4 429.7ZM316.9 438.7A60.2 60.2 0 0 0 318.5 437.4L313.9 431.5A52.7 52.7 0 0 1 312.5 432.6ZM338 410.6A60.2 60.2 0 0 0 338.7 408.6L331.6 406.3A52.7 52.7 0 0 1 331 408ZM322.8 442.9A67.1 67.1 0 0 0 324.6 441.4L319.8 435.6A59.6 59.6 0 0 1 318.2 436.9ZM339.6 423.5A67.1 67.1 0 0 0 340.7 421.5L334.1 418A59.6 59.6 0 0 1 333.1 419.8ZM357.2 268.8A142.9 142.9 0 0 0 344.2 261.5L340.9 268.3A135.4 135.4 0 0 1 353.3 275.2ZM301.4 248.5A142.9 142.9 0 0 0 296.4 247.9L295.7 255.3A135.4 135.4 0 0 1 300.3 255.9ZM429.9 410.8A149.8 149.8 0 0 0 430.5 405.7L423 404.9A142.3 142.3 0 0 1 422.4 409.8ZM377.8 275.2A149.8 149.8 0 0 0 373.7 271.9L369.1 277.9A142.3 142.3 0 0 1 373 281ZM322.8 246A149.8 149.8 0 0 0 317.7 244.6L315.9 251.9A142.3 142.3 0 0 1 320.7 253.2ZM435.8 417.2A156.7 156.7 0 0 0 436.7 411.8L429.3 410.8A149.2 149.2 0 0 1 428.4 415.9ZM340.2 244.7A156.7 156.7 0 0 0 335.1 242.7L332.5 249.8A149.2 149.2 0 0 1 337.4 251.7ZM358.3 534.5A163.6 163.6 0 0 0 368.2 528.7L364.2 522.4A156.1 156.1 0 0 1 354.8 527.8ZM445 384.3A163.6 163.6 0 0 0 444.7 378.6L437.2 379.1A156.1 156.1 0 0 1 437.5 384.6ZM391 268.4A163.6 163.6 0 0 0 382.2 261.1L377.6 267A156.1 156.1 0 0 1 386 274ZM371.8 534.6A170.5 170.5 0 0 0 376.8 531.3L372.6 525.1A163 163 0 0 1 367.9 528.2ZM400.2 258.2A177.4 177.4 0 0 0 395.5 254.1L390.7 259.9A169.9 169.9 0 0 1 395.2 263.7ZM464.8 409.3A184.3 184.3 0 0 0 465.3 402.9L457.9 402.3A176.8 176.8 0 0 1 457.3 408.5ZM404.4 243.5A191.2 191.2 0 0 0 399.2 239.3L394.6 245.3A183.7 183.7 0 0 1 399.6 249.3ZM349.1 181.9A218.8 218.8 0 0 0 341.8 179.7L339.7 186.9A211.3 211.3 0 0 1 346.8 189.1ZM383.4 181A232.5 232.5 0 0 0 376.1 177.6L373 184.4A225.1 225.1 0 0 1 380.2 187.7ZM329.8 162.5A232.5 232.5 0 0 0 321.9 161L320.6 168.4A225.1 225.1 0 0 1 328.3 169.9ZM401.2 182.6A239.4 239.4 0 0 0 393.9 178.6L390.4 185.2A231.9 231.9 0 0 1 397.5 189.1ZM378.9 171.3A239.4 239.4 0 0 0 363.4 165L360.8 172A231.9 231.9 0 0 1 375.8 178.1ZM347.5 159.8A239.4 239.4 0 0 0 339.4 157.7L337.6 164.9A231.9 231.9 0 0 1 345.4 167ZM381.7 165A246.3 246.3 0 0 0 373.8 161.6L371 168.5A238.8 238.8 0 0 1 378.6 171.8ZM390.1 633.9A267 267 0 0 0 398.6 630L395.3 623.3A259.5 259.5 0 0 1 387.1 627.1Z"/><path fill="#6bbde4" stroke="#6bbde4" d="M313.5 413.2A39.5 39.5 0 0 0 314.2 412.1L308 407.9A32 32 0 0 1 307.4 408.8ZM315 410.9A39.5 39.5 0 0 0 315.7 409.7L309.2 406A32 32 0 0 1 308.6 407ZM303.3 431A46.4 46.4 0 0 0 304.7 430.2L300.9 423.7A38.9 38.9 0 0 1 299.8 424.3ZM307.4 428.5A46.4 46.4 0 0 0 308.8 427.5L304.4 421.5A38.9 38.9 0 0 1 303.2 422.2ZM325.1 405.9A46.4 46.4 0 0 0 325.6 404.3L318.5 402A38.9 38.9 0 0 1 318 403.3ZM306.5 437A53.3 53.3 0 0 0 308.1 436.1L304.4 429.7A45.8 45.8 0 0 1 303 430.4ZM311.3 434.2A53.3 53.3 0 0 0 312.8 433.1L308.4 427A45.8 45.8 0 0 1 307.1 428ZM336.5 414.5A60.2 60.2 0 0 0 337.3 412.5L330.3 409.7A52.7 52.7 0 0 1 329.6 411.4ZM320.9 444.3A67.1 67.1 0 0 0 322.8 442.9L318.2 436.9A59.6 59.6 0 0 1 316.5 438.2ZM340.7 421.5A67.1 67.1 0 0 0 342.8 417.3L335.9 414.2A59.6 59.6 0 0 1 334.1 418ZM348 422.4A74 74 0 0 0 349.1 420.1L342.2 417A66.5 66.5 0 0 1 341.2 419.1ZM369.5 277.4A142.9 142.9 0 0 0 365.5 274.4L361.1 280.4A135.4 135.4 0 0 1 364.9 283.3ZM344.2 261.5A142.9 142.9 0 0 0 335 257.5L332.2 264.4A135.4 135.4 0 0 1 340.9 268.3ZM306.3 249.3A142.9 142.9 0 0 0 301.4 248.5L300.3 255.9A135.4 135.4 0 0 1 305 256.6ZM429 416A149.8 149.8 0 0 0 429.9 410.8L422.4 409.8A142.3 142.3 0 0 1 421.7 414.7ZM431.3 390A149.8 149.8 0 0 0 431.2 384.8L423.7 385A142.3 142.3 0 0 1 423.8 390ZM332.7 249.2A149.8 149.8 0 0 0 322.8 246L320.7 253.2A142.3 142.3 0 0 1 330.2 256.3ZM438.1 384.5A156.7 156.7 0 0 0 437.8 379.1L430.3 379.6A149.2 149.2 0 0 1 430.6 384.8ZM386.4 273.5A156.7 156.7 0 0 0 382.2 270L377.4 275.7A149.2 149.2 0 0 1 381.3 279.1ZM368.2 528.7A163.6 163.6 0 0 0 373 525.6L368.8 519.4A156.1 156.1 0 0 1 364.2 522.4ZM356.2 543.2A170.5 170.5 0 0 0 361.5 540.5L358 533.9A163 163 0 0 1 353 536.5ZM456.2 420.8A177.4 177.4 0 0 0 457.2 414.7L449.7 413.6A169.9 169.9 0 0 1 448.8 419.5ZM465.3 402.9A184.3 184.3 0 0 0 465.7 396.4L458.2 396.2A176.8 176.8 0 0 1 457.9 402.3ZM409.4 247.9A191.2 191.2 0 0 0 404.4 243.5L399.6 249.3A183.7 183.7 0 0 1 404.4 253.5ZM413.3 233A205 205 0 0 0 407.7 228.5L403.1 234.4A197.5 197.5 0 0 1 408.4 238.7ZM356.3 184.4A218.8 218.8 0 0 0 349.1 181.9L346.8 189.1A211.3 211.3 0 0 1 353.8 191.5ZM343.7 173.1A225.7 225.7 0 0 0 328.4 169.3L326.9 176.6A218.2 218.2 0 0 1 341.6 180.3ZM390.7 184.7A232.5 232.5 0 0 0 383.4 181L380.2 187.7A225.1 225.1 0 0 1 387.2 191.3ZM408.4 186.9A239.4 239.4 0 0 0 401.2 182.6L397.5 189.1A231.9 231.9 0 0 1 404.4 193.3Z"/><path fill="#7dc0c5" stroke="#7dc0c5" d="M320.4 383.1A39.5 39.5 0 0 0 319.8 380.4L312.5 382.3A32 32 0 0 1 313 384.4ZM318.1 375.2A39.5 39.5 0 0 0 317 372.7L310.3 376A32 32 0 0 1 311.2 378ZM314.2 367.9A39.5 39.5 0 0 0 310.9 363.6L305.3 368.6A32 32 0 0 1 308 372.1ZM304.7 358A39.5 39.5 0 0 0 302.4 356.5L298.5 362.9A32 32 0 0 1 300.3 364.1ZM284.7 436.3A46.4 46.4 0 0 0 288 435.9L286.9 428.5A38.9 38.9 0 0 1 284.2 428.8ZM292.7 435A46.4 46.4 0 0 0 294.3 434.6L292.2 427.4A38.9 38.9 0 0 1 290.9 427.7ZM327.4 396.5A46.4 46.4 0 0 0 327.6 394.8L320.2 394.1A38.9 38.9 0 0 1 320 395.4ZM327.9 391.6A46.4 46.4 0 0 0 327.8 386.8L320.3 387.3A38.9 38.9 0 0 1 320.4 391.4ZM327.2 381.9A46.4 46.4 0 0 0 326.5 378.8L319.2 380.6A38.9 38.9 0 0 1 319.8 383.2ZM320 364.1A46.4 46.4 0 0 0 318.1 361.4L312.1 366.1A38.9 38.9 0 0 1 313.7 368.3ZM284.7 343.7A46.4 46.4 0 0 0 281.5 343.6L281.5 351.1A38.9 38.9 0 0 1 284.2 351.2ZM281.5 443.3A53.3 53.3 0 0 0 285.2 443.2L284.7 435.7A45.8 45.8 0 0 1 281.5 435.8ZM288.9 442.8A53.3 53.3 0 0 0 290.8 442.5L289.5 435.1A45.8 45.8 0 0 1 287.9 435.3ZM296.2 441.2A53.3 53.3 0 0 0 298 440.7L295.6 433.5A45.8 45.8 0 0 1 294.1 434ZM292.6 337.9A53.3 53.3 0 0 0 288.9 337.2L287.9 344.7A45.8 45.8 0 0 1 291 345.2ZM298.1 447.8A60.2 60.2 0 0 0 300.1 447.2L297.8 440.1A52.7 52.7 0 0 1 296 440.6ZM302.1 446.5A60.2 60.2 0 0 0 304 445.8L301.2 438.8A52.7 52.7 0 0 1 299.5 439.5ZM306 445A60.2 60.2 0 0 0 307.9 444.1L304.6 437.4A52.7 52.7 0 0 1 302.9 438.1ZM340.8 400.4A60.2 60.2 0 0 0 341.1 398.4L333.7 397.3A52.7 52.7 0 0 1 333.4 399.1ZM318.5 342.6A60.2 60.2 0 0 0 316.9 341.3L312.5 347.4A52.7 52.7 0 0 1 313.9 348.5ZM309.8 336.9A60.2 60.2 0 0 0 306 335L302.9 341.9A52.7 52.7 0 0 1 306.2 343.5ZM302.1 333.5A60.2 60.2 0 0 0 298.1 332.2L296 339.4A52.7 52.7 0 0 1 299.5 340.5ZM304.4 453A67.1 67.1 0 0 0 308.8 451.3L305.7 444.4A59.6 59.6 0 0 1 301.9 446ZM347.1 403.9A67.1 67.1 0 0 0 347.6 401.6L340.2 400.3A59.6 59.6 0 0 1 339.8 402.4ZM304.4 327A67.1 67.1 0 0 0 300 325.5L297.9 332.7A59.6 59.6 0 0 1 301.9 334ZM295.4 324.4A67.1 67.1 0 0 0 290.8 323.6L289.8 331A59.6 59.6 0 0 1 293.9 331.7ZM352.6 410.4A74 74 0 0 0 353.3 407.9L346 406.1A66.5 66.5 0 0 1 345.4 408.3ZM324.4 458.6A80.9 80.9 0 0 0 326.7 457L322.5 450.8A73.4 73.4 0 0 1 320.4 452.2ZM333.5 451.9A80.9 80.9 0 0 0 337.7 448.2L332.5 442.8A73.4 73.4 0 0 1 328.7 446.2ZM359.2 412.3A80.9 80.9 0 0 0 360 409.6L352.7 407.7A73.4 73.4 0 0 1 352 410.2ZM333.5 328.1A80.9 80.9 0 0 0 331.3 326.3L326.7 332.2A73.4 73.4 0 0 1 328.7 333.8ZM287.1 309.3A80.9 80.9 0 0 0 281.5 309.1L281.5 316.6A73.4 73.4 0 0 1 286.6 316.8ZM320 311.1A87.8 87.8 0 0 0 317.2 309.8L314.1 316.7A80.3 80.3 0 0 1 316.7 317.9ZM334.4 468.5A94.7 94.7 0 0 0 337.1 466.6L332.7 460.5A87.2 87.2 0 0 1 330.2 462.3ZM347.3 458.1A94.7 94.7 0 0 0 351.8 453.3L346.3 448.3A87.2 87.2 0 0 1 342 452.7ZM356.1 448.3A94.7 94.7 0 0 0 360 442.9L353.8 438.7A87.2 87.2 0 0 1 350.2 443.7ZM374.7 406.4A94.7 94.7 0 0 0 375.6 399.9L368.2 399.1A87.2 87.2 0 0 1 367.3 405.1ZM344.8 319.7A94.7 94.7 0 0 0 342.3 317.5L337.5 323.2A87.2 87.2 0 0 1 339.8 325.2ZM331.7 309.7A94.7 94.7 0 0 0 325.9 306.4L322.4 313A87.2 87.2 0 0 1 327.7 316.1ZM320 303.5A94.7 94.7 0 0 0 307.6 299L305.5 306.2A87.2 87.2 0 0 1 317 310.4ZM288.1 295.6A94.7 94.7 0 0 0 281.5 295.3L281.5 302.8A87.2 87.2 0 0 1 287.6 303.1ZM341.2 472.2A101.5 101.5 0 0 0 344 470L339.4 464.1A94.1 94.1 0 0 1 336.8 466.1ZM349.4 465.5A101.5 101.5 0 0 0 352 463L346.8 457.7A94.1 94.1 0 0 1 344.4 459.9ZM361.5 452.5A101.5 101.5 0 0 0 365.7 446.8L359.5 442.6A94.1 94.1 0 0 1 355.6 447.9ZM369.4 440.8A101.5 101.5 0 0 0 372.8 434.5L366 431.2A94.1 94.1 0 0 1 363 437ZM378.1 421.4A101.5 101.5 0 0 0 380 414.6L372.8 412.8A94.1 94.1 0 0 1 370.9 419.1ZM381.5 407.6A101.5 101.5 0 0 0 382.5 400.6L375 399.8A94.1 94.1 0 0 1 374.1 406.3ZM383 393.5A101.5 101.5 0 0 0 383 390L375.6 390A94.1 94.1 0 0 1 375.5 393.3ZM352 317A101.5 101.5 0 0 0 349.4 314.5L344.4 320.1A94.1 94.1 0 0 1 346.8 322.3ZM341.2 307.8A101.5 101.5 0 0 0 329.2 300.3L325.7 307A94.1 94.1 0 0 1 336.8 313.9ZM316.2 294.6A101.5 101.5 0 0 0 309.5 292.4L307.4 299.6A94.1 94.1 0 0 1 313.7 301.6ZM356.8 468A108.4 108.4 0 0 0 359.5 465.3L354.1 460.1A100.9 100.9 0 0 1 351.6 462.6ZM325.6 290.9A108.4 108.4 0 0 0 318.6 288.1L316 295.1A100.9 100.9 0 0 1 322.6 297.8ZM311.4 285.8A108.4 108.4 0 0 0 304 283.9L302.5 291.3A100.9 100.9 0 0 1 309.3 293ZM296.6 282.6A108.4 108.4 0 0 0 289.1 281.8L288.5 289.3A100.9 100.9 0 0 1 295.5 290ZM352.5 480.9A115.3 115.3 0 0 0 355.6 478.4L350.8 472.6A107.8 107.8 0 0 1 347.9 475ZM396.2 402.1A115.3 115.3 0 0 0 396.8 394L389.3 393.8A107.8 107.8 0 0 1 388.8 401.3ZM396.8 390A115.3 115.3 0 0 0 396.8 386L389.3 386.2A107.8 107.8 0 0 1 389.3 390ZM396.2 377.9A115.3 115.3 0 0 0 395.1 370L387.7 371.3A107.8 107.8 0 0 1 388.8 378.7ZM352.5 299.1A115.3 115.3 0 0 0 349.3 296.7L344.9 302.8A107.8 107.8 0 0 1 347.9 305ZM328.4 284.6A115.3 115.3 0 0 0 320.9 281.6L318.4 288.7A107.8 107.8 0 0 1 325.4 291.5ZM297.6 275.8A115.3 115.3 0 0 0 289.5 274.9L289 282.4A107.8 107.8 0 0 1 296.5 283.2ZM369.4 474.9A122.2 122.2 0 0 0 372.3 471.8L366.8 466.8A114.7 114.7 0 0 1 364 469.7ZM403.7 390A122.2 122.2 0 0 0 403.7 385.7L396.2 386A114.7 114.7 0 0 1 396.2 390ZM353.3 291.1A122.2 122.2 0 0 0 346.3 286.3L342.3 292.7A114.7 114.7 0 0 1 348.9 297.2ZM298.5 269A122.2 122.2 0 0 0 281.5 267.8L281.5 275.3A114.7 114.7 0 0 1 297.5 276.4ZM349.9 499.5A129.1 129.1 0 0 0 353.7 497.1L349.5 490.8A121.6 121.6 0 0 1 346 493.1ZM357.4 494.5A129.1 129.1 0 0 0 361 491.8L356.4 485.8A121.6 121.6 0 0 1 353 488.4ZM383.3 469.5A129.1 129.1 0 0 0 388.6 462.2L382.3 458A121.6 121.6 0 0 1 377.3 464.9ZM357.4 285.5A129.1 129.1 0 0 0 349.9 280.5L346 286.9A121.6 121.6 0 0 1 353 291.6ZM317.1 265.9A129.1 129.1 0 0 0 308.3 263.7L306.8 271A121.6 121.6 0 0 1 315 273.1ZM368.9 494.2A136 136 0 0 0 376 487.8L370.8 482.5A128.5 128.5 0 0 1 364.1 488.5ZM382.6 481A136 136 0 0 0 409.3 436.5L402.3 434A128.5 128.5 0 0 1 377 476ZM410.9 432A136 136 0 0 0 413.5 422.9L406.2 421.1A128.5 128.5 0 0 1 403.7 429.7ZM414.5 361.7A136 136 0 0 0 413.5 357.1L406.2 358.9A128.5 128.5 0 0 1 407.2 363.3ZM348.6 516.2A142.9 142.9 0 0 0 365.5 505.6L361.1 499.6A135.4 135.4 0 0 1 345.1 509.6ZM380.8 492.8A142.9 142.9 0 0 0 387.7 485.6L382.1 480.6A135.4 135.4 0 0 1 375.6 487.4ZM405.3 461.5A142.9 142.9 0 0 0 407.7 457.1L401.1 453.6A135.4 135.4 0 0 1 398.8 457.7ZM410 452.7A142.9 142.9 0 0 0 417.4 434.2L410.3 431.8A135.4 135.4 0 0 1 403.2 449.4ZM418.9 429.4A142.9 142.9 0 0 0 420.2 424.6L412.9 422.8A135.4 135.4 0 0 1 411.7 427.3ZM424.1 380A142.9 142.9 0 0 0 423.6 375.1L416.2 375.8A135.4 135.4 0 0 1 416.6 380.6ZM421.3 360.3A142.9 142.9 0 0 0 420.2 355.4L412.9 357.2A135.4 135.4 0 0 1 414 361.8ZM369.6 511.2A149.8 149.8 0 0 0 373.7 508.1L369.1 502.1A142.3 142.3 0 0 1 365.2 505.1ZM392.8 490.2A149.8 149.8 0 0 0 399.6 482.2L393.6 477.6A142.3 142.3 0 0 1 387.3 485.2ZM416.1 455.7A149.8 149.8 0 0 0 420.4 446.1L413.5 443.3A142.3 142.3 0 0 1 409.4 452.4ZM425.5 431.3A149.8 149.8 0 0 0 426.9 426.2L419.6 424.4A142.3 142.3 0 0 1 418.3 429.2ZM430.9 379.5A149.8 149.8 0 0 0 430.5 374.3L423 375.1A142.3 142.3 0 0 1 423.5 380.1ZM429 364A149.8 149.8 0 0 0 428 358.9L420.7 360.4A142.3 142.3 0 0 1 421.7 365.3ZM382.2 510A156.7 156.7 0 0 0 390.4 502.7L385.2 497.3A149.2 149.2 0 0 1 377.4 504.3ZM405 486.5A156.7 156.7 0 0 0 408.3 482.1L402.2 477.7A149.2 149.2 0 0 1 399.1 481.9ZM430.5 438.4A156.7 156.7 0 0 0 432.1 433.2L424.9 431.1A149.2 149.2 0 0 1 423.4 436.1ZM436.7 368.2A156.7 156.7 0 0 0 435.8 362.8L428.4 364.1A149.2 149.2 0 0 1 429.3 369.2ZM342.8 541.7A163.6 163.6 0 0 0 348 539.5L345 532.6A156.1 156.1 0 0 1 340 534.7ZM386.7 515.3A163.6 163.6 0 0 0 395.1 507.7L389.9 502.3A156.1 156.1 0 0 1 381.8 509.6ZM435.2 446A163.6 163.6 0 0 0 437.1 440.6L430 438.2A156.1 156.1 0 0 1 428.2 443.4ZM441.5 356A163.6 163.6 0 0 0 440.2 350.4L433 352.2A156.1 156.1 0 0 1 434.2 357.5ZM328.5 553.9A170.5 170.5 0 0 0 334.2 552.2L331.9 545A163 163 0 0 1 326.4 546.7ZM391.1 520.6A170.5 170.5 0 0 0 399.9 512.6L394.7 507.3A163 163 0 0 1 386.3 514.9ZM422.8 485.3A170.5 170.5 0 0 0 426.1 480.3L419.7 476.4A163 163 0 0 1 416.6 481.1ZM445.4 437A170.5 170.5 0 0 0 446.9 431.2L439.7 429.4A163 163 0 0 1 438.2 434.9ZM450.3 366.3A170.5 170.5 0 0 0 449.4 360.4L442 361.7A163 163 0 0 1 442.9 367.3ZM448.3 354.6A170.5 170.5 0 0 0 445.4 343L438.2 345.1A163 163 0 0 1 440.9 356.1ZM342.2 556.7A177.4 177.4 0 0 0 348 554.5L345.1 547.5A169.9 169.9 0 0 1 339.6 549.6ZM413.3 508.7A177.4 177.4 0 0 0 421.3 499.2L415.4 494.6A169.9 169.9 0 0 1 407.8 503.7ZM428.6 489.2A177.4 177.4 0 0 0 431.9 484L425.6 480A169.9 169.9 0 0 1 422.3 485ZM450.2 444.8A177.4 177.4 0 0 0 452 438.9L444.8 436.8A169.9 169.9 0 0 1 443.1 442.5ZM458.5 377.6A177.4 177.4 0 0 0 457.2 365.3L449.7 366.4A169.9 169.9 0 0 1 451 378.1ZM409.1 266.8A177.4 177.4 0 0 0 404.7 262.4L399.5 267.8A169.9 169.9 0 0 1 403.7 272ZM389.8 539.1A184.3 184.3 0 0 0 400 531.2L395.1 525.4A176.8 176.8 0 0 1 385.4 533ZM426.7 503.5A184.3 184.3 0 0 0 430.6 498.3L424.5 493.9A176.8 176.8 0 0 1 420.8 498.8ZM441.1 482.1A184.3 184.3 0 0 0 444.2 476.5L437.6 473A176.8 176.8 0 0 1 434.6 478.4ZM447.1 470.8A184.3 184.3 0 0 0 452.4 459L445.4 456.2A176.8 176.8 0 0 1 440.4 467.5ZM464 364.4A184.3 184.3 0 0 0 463 358L455.6 359.3A176.8 176.8 0 0 1 456.6 365.4ZM461.8 351.7A184.3 184.3 0 0 0 460.3 345.4L453 347.2A176.8 176.8 0 0 1 454.4 353.2ZM281.5 581.2A191.2 191.2 0 0 0 288.2 581.1L287.9 573.6A183.7 183.7 0 0 1 281.5 573.7ZM308.1 579.3A191.2 191.2 0 0 0 327.8 575.5L325.9 568.2A183.7 183.7 0 0 1 307.1 571.9ZM334.2 573.8A191.2 191.2 0 0 0 346.9 569.6L344.3 562.6A183.7 183.7 0 0 1 332.1 566.6ZM453.3 473.8A191.2 191.2 0 0 0 458.8 461.6L451.8 458.8A183.7 183.7 0 0 1 446.6 470.5ZM419 257.2A191.2 191.2 0 0 0 414.3 252.5L409.1 257.9A183.7 183.7 0 0 1 413.6 262.4ZM281.5 588.1A198.1 198.1 0 0 0 295.3 587.6L294.8 580.1A190.6 190.6 0 0 1 281.5 580.6ZM368.3 568A198.1 198.1 0 0 0 374.5 564.9L371 558.3A190.6 190.6 0 0 1 365 561.3ZM469.9 451.2A198.1 198.1 0 0 0 471.9 444.6L464.7 442.5A190.6 190.6 0 0 1 462.8 448.9ZM479.5 396.9A198.1 198.1 0 0 0 479.1 376.2L471.6 376.7A190.6 190.6 0 0 1 472 396.7ZM424 252.4A198.1 198.1 0 0 0 414 242.8L409 248.4A190.6 190.6 0 0 1 418.6 257.6ZM338 587A205 205 0 0 0 344.8 584.9L342.5 577.8A197.5 197.5 0 0 1 335.9 579.8ZM423.9 242.6A205 205 0 0 0 418.7 237.7L413.6 243.2A197.5 197.5 0 0 1 418.7 247.9ZM428.7 237.6A211.9 211.9 0 0 0 423.3 232.6L418.2 238.1A204.4 204.4 0 0 1 423.5 243ZM427.9 227.4A218.8 218.8 0 0 0 422.1 222.4L417.3 228.2A211.3 211.3 0 0 1 422.9 233ZM432.5 222.3A225.7 225.7 0 0 0 426.5 217.1L421.7 222.9A218.2 218.2 0 0 1 427.5 227.9ZM437.1 217.2A232.5 232.5 0 0 0 431 211.9L426.2 217.6A225.1 225.1 0 0 1 432.1 222.8ZM426.3 589.3A246.3 246.3 0 0 0 433.2 584.1L428.5 578.2A238.8 238.8 0 0 1 421.9 583.2ZM500.8 516.6A253.2 253.2 0 0 0 509.1 501L502.4 497.7A245.7 245.7 0 0 1 494.3 512.9ZM353.2 640A260.1 260.1 0 0 0 370.5 634.4L367.9 627.4A252.6 252.6 0 0 1 351.1 632.8ZM378.9 631.2A260.1 260.1 0 0 0 403.6 619.7L400.1 613.1A252.6 252.6 0 0 1 376.1 624.2ZM537.7 435.2A260.1 260.1 0 0 0 541 408.1L533.5 407.6A252.6 252.6 0 0 1 530.3 433.9ZM548.4 399.3A267 267 0 0 0 548.4 380.7L540.9 380.9A259.5 259.5 0 0 1 540.9 399.1Z"/><path fill="#7fc0b7" stroke="#7fc0b7" d="M319.1 377.8A39.5 39.5 0 0 0 318.1 375.2L311.2 378A32 32 0 0 1 311.9 380.1ZM317 372.7A39.5 39.5 0 0 0 315.7 370.3L309.2 374A32 32 0 0 1 310.3 376ZM308.9 361.6A39.5 39.5 0 0 0 306.9 359.7L302.1 365.5A32 32 0 0 1 303.7 367ZM325.6 375.7A46.4 46.4 0 0 0 324.5 372.6L317.6 375.4A38.9 38.9 0 0 1 318.5 378ZM303.3 349A46.4 46.4 0 0 0 300.4 347.6L297.3 354.5A38.9 38.9 0 0 1 299.8 355.7ZM332.7 375.3A53.3 53.3 0 0 0 332.2 373.5L325 375.9A45.8 45.8 0 0 1 325.5 377.4ZM329.4 366.6A53.3 53.3 0 0 0 327.6 363.4L321.2 367.1A45.8 45.8 0 0 1 322.7 369.9ZM324.6 358.7A53.3 53.3 0 0 0 322.3 355.7L316.6 360.6A45.8 45.8 0 0 1 318.5 363.1ZM289.9 449.6A60.2 60.2 0 0 0 294 448.9L292.5 441.5A52.7 52.7 0 0 1 288.8 442.2ZM311.6 457.6A74 74 0 0 0 313.9 456.5L310.6 449.7A66.5 66.5 0 0 1 308.5 450.7ZM354.7 400.3A74 74 0 0 0 355.1 397.7L347.6 396.9A66.5 66.5 0 0 1 347.3 399.3ZM325 330.2A74 74 0 0 0 320.7 327.3L316.7 333.6A66.5 66.5 0 0 1 320.6 336.2ZM329 455.4A80.9 80.9 0 0 0 331.3 453.7L326.7 447.8A73.4 73.4 0 0 1 324.6 449.4ZM362.2 395.6A80.9 80.9 0 0 0 362.3 392.8L354.8 392.6A73.4 73.4 0 0 1 354.7 395.1ZM319.5 318.6A80.9 80.9 0 0 0 316.9 317.3L313.7 324.1A73.4 73.4 0 0 1 315.9 325.2ZM314.4 316.1A80.9 80.9 0 0 0 311.8 315L309 322A73.4 73.4 0 0 1 311.3 323ZM328 464.4A87.8 87.8 0 0 0 330.6 462.8L326.4 456.5A80.3 80.3 0 0 1 324 458.1ZM335.5 459.2A87.8 87.8 0 0 0 337.9 457.2L333.1 451.5A80.3 80.3 0 0 1 330.9 453.2ZM366.7 411.2A87.8 87.8 0 0 0 367.9 405.2L360.5 403.9A80.3 80.3 0 0 1 359.4 409.4ZM337.9 322.8A87.8 87.8 0 0 0 335.5 320.8L330.9 326.8A80.3 80.3 0 0 1 333.1 328.5ZM328 315.6A87.8 87.8 0 0 0 322.7 312.5L319.2 319.1A80.3 80.3 0 0 1 324 321.9ZM337.1 466.6A94.7 94.7 0 0 0 339.8 464.6L335.2 458.7A87.2 87.2 0 0 1 332.7 460.5ZM342.3 462.5A94.7 94.7 0 0 0 344.8 460.3L339.8 454.8A87.2 87.2 0 0 1 337.5 456.8ZM376.1 393.3A94.7 94.7 0 0 0 376.1 386.7L368.6 387A87.2 87.2 0 0 1 368.6 393ZM352 463A101.5 101.5 0 0 0 357 457.9L351.4 452.9A94.1 94.1 0 0 1 346.8 457.7ZM382.8 382.9A101.5 101.5 0 0 0 382.1 375.9L374.6 376.9A94.1 94.1 0 0 1 375.3 383.4ZM354.5 319.5A101.5 101.5 0 0 0 352 317L346.8 322.3A94.1 94.1 0 0 1 349.2 324.7ZM389.3 401.3A108.4 108.4 0 0 0 389.9 393.8L382.4 393.5A100.9 100.9 0 0 1 381.9 400.6ZM389.9 390A108.4 108.4 0 0 0 389.9 386.2L382.4 386.5A100.9 100.9 0 0 1 382.4 390ZM389.3 378.7A108.4 108.4 0 0 0 388.9 374.9L381.5 376A100.9 100.9 0 0 1 381.9 379.4ZM364.6 320.3A108.4 108.4 0 0 0 362.1 317.4L356.5 322.5A100.9 100.9 0 0 1 358.8 325.1ZM351.2 306.9A108.4 108.4 0 0 0 345.2 302.3L340.8 308.3A100.9 100.9 0 0 1 346.4 312.7ZM342.6 487.8A115.3 115.3 0 0 0 346 485.6L341.8 479.4A107.8 107.8 0 0 1 338.6 481.5ZM355.6 478.4A115.3 115.3 0 0 0 361.6 473L356.4 467.6A107.8 107.8 0 0 1 350.8 472.6ZM338.9 497.9A122.2 122.2 0 0 0 342.6 495.9L338.9 489.4A114.7 114.7 0 0 1 335.4 491.3ZM356.8 486.3A122.2 122.2 0 0 0 360.1 483.6L355.3 477.9A114.7 114.7 0 0 1 352.1 480.4ZM403.7 385.7A122.2 122.2 0 0 0 403.4 381.5L396 382A114.7 114.7 0 0 1 396.2 386ZM402.5 373A122.2 122.2 0 0 0 401.9 368.8L394.5 370.1A114.7 114.7 0 0 1 395.1 374ZM401.1 364.6A122.2 122.2 0 0 0 400.1 360.4L392.8 362.2A114.7 114.7 0 0 1 393.7 366.1ZM369.4 305.1A122.2 122.2 0 0 0 363.3 299.2L358.3 304.7A114.7 114.7 0 0 1 364 310.3ZM397.6 446.6A129.1 129.1 0 0 0 401.2 438.4L394.3 435.6A121.6 121.6 0 0 1 390.8 443.3ZM409.9 376.5A129.1 129.1 0 0 0 409.4 372L401.9 373.1A121.6 121.6 0 0 1 402.5 377.3ZM408.7 367.6A129.1 129.1 0 0 0 405.6 354.4L398.4 356.5A121.6 121.6 0 0 1 401.3 368.9ZM377.5 303.6A129.1 129.1 0 0 0 374.4 300.3L369 305.5A121.6 121.6 0 0 1 371.9 308.6ZM371.2 297.1A129.1 129.1 0 0 0 367.9 294L362.9 299.6A121.6 121.6 0 0 1 366 302.5ZM416.8 375.8A136 136 0 0 0 416.2 371.1L408.8 372.1A128.5 128.5 0 0 1 409.3 376.6ZM413.5 357.1A136 136 0 0 0 412.3 352.5L405 354.6A128.5 128.5 0 0 1 406.2 358.9ZM335 522.5A142.9 142.9 0 0 0 339.6 520.6L336.6 513.7A135.4 135.4 0 0 1 332.2 515.6ZM344.2 518.5A142.9 142.9 0 0 0 348.6 516.2L345.1 509.6A135.4 135.4 0 0 1 340.9 511.7ZM423 370.1A142.9 142.9 0 0 0 422.2 365.2L414.9 366.5A135.4 135.4 0 0 1 415.6 371.2ZM420.2 355.4A142.9 142.9 0 0 0 418.9 350.6L411.7 352.7A135.4 135.4 0 0 1 412.9 357.2ZM391 298.1A142.9 142.9 0 0 0 387.7 294.4L382.1 299.4A135.4 135.4 0 0 1 385.2 303ZM384.3 290.7A142.9 142.9 0 0 0 380.8 287.2L375.6 292.6A135.4 135.4 0 0 1 378.9 295.9ZM402.7 478.1A149.8 149.8 0 0 0 405.7 473.8L399.5 469.6A142.3 142.3 0 0 1 396.6 473.7ZM411.2 464.9A149.8 149.8 0 0 0 416.1 455.7L409.4 452.4A142.3 142.3 0 0 1 404.7 461.2ZM420.4 446.1A149.8 149.8 0 0 0 422.3 441.2L415.2 438.7A142.3 142.3 0 0 1 413.5 443.3ZM424 436.3A149.8 149.8 0 0 0 425.5 431.3L418.3 429.2A142.3 142.3 0 0 1 416.9 434ZM396.3 293.7A149.8 149.8 0 0 0 392.8 289.8L387.3 294.8A142.3 142.3 0 0 1 390.5 298.5ZM389.3 285.9A149.8 149.8 0 0 0 385.6 282.2L380.4 287.6A142.3 142.3 0 0 1 383.9 291.1ZM411.4 477.6A156.7 156.7 0 0 0 414.4 473L408 469.1A149.2 149.2 0 0 1 405.2 473.4ZM432.1 346.8A156.7 156.7 0 0 0 430.5 341.6L423.4 343.9A149.2 149.2 0 0 1 424.9 348.9ZM326.6 547.3A163.6 163.6 0 0 0 332.1 545.6L329.7 538.5A156.1 156.1 0 0 1 324.5 540.1ZM420.2 476.7A163.6 163.6 0 0 0 423.2 471.8L416.7 468.1A156.1 156.1 0 0 1 413.9 472.7ZM428.5 461.7A163.6 163.6 0 0 0 433.2 451.3L426.2 448.5A156.1 156.1 0 0 1 421.8 458.4ZM406.8 284.8A163.6 163.6 0 0 0 403.1 280.5L397.5 285.5A156.1 156.1 0 0 1 401.1 289.7ZM429.2 475.2A170.5 170.5 0 0 0 432 470L425.4 466.5A163 163 0 0 1 422.7 471.5ZM404.1 271.6A170.5 170.5 0 0 0 399.9 267.4L394.7 272.7A163 163 0 0 1 398.8 276.8ZM324.4 562.1A177.4 177.4 0 0 0 330.4 560.5L328.3 553.3A169.9 169.9 0 0 1 322.6 554.8ZM440.9 467.8A177.4 177.4 0 0 0 448.2 450.7L441.1 448.1A169.9 169.9 0 0 1 434.2 464.5ZM450.2 335.2A177.4 177.4 0 0 0 448.2 329.3L441.1 331.9A169.9 169.9 0 0 1 443.1 337.5ZM440.9 312.2A177.4 177.4 0 0 0 438.1 306.7L431.5 310.2A169.9 169.9 0 0 1 434.2 315.5ZM417.4 276A177.4 177.4 0 0 0 409.1 266.8L403.7 272A169.9 169.9 0 0 1 411.6 280.8ZM326.1 568.8A184.3 184.3 0 0 0 332.3 567.1L330.2 559.9A176.8 176.8 0 0 1 324.3 561.5ZM434.3 493.1A184.3 184.3 0 0 0 437.8 487.7L431.4 483.7A176.8 176.8 0 0 1 428.1 488.9ZM460.3 345.4A184.3 184.3 0 0 0 452.4 321L445.4 323.8A176.8 176.8 0 0 1 453 347.2ZM449.9 315A184.3 184.3 0 0 0 447.1 309.2L440.4 312.5A176.8 176.8 0 0 1 443 318.1ZM294.8 580.7A191.2 191.2 0 0 0 308.1 579.3L307.1 571.9A183.7 183.7 0 0 1 294.3 573.2ZM414.3 527.5A191.2 191.2 0 0 0 419 522.8L413.6 517.6A183.7 183.7 0 0 1 409.1 522.1ZM440 496.9A191.2 191.2 0 0 0 450.3 479.8L443.7 476.2A183.7 183.7 0 0 1 433.8 492.7ZM471.6 370A191.2 191.2 0 0 0 469.8 356.8L462.4 358.1A183.7 183.7 0 0 1 464.2 370.8ZM468.5 350.3A191.2 191.2 0 0 0 456.2 312.2L449.3 315.3A183.7 183.7 0 0 1 461.2 351.8ZM423.6 262.1A191.2 191.2 0 0 0 419 257.2L413.6 262.4A183.7 183.7 0 0 1 418 267.1ZM380.5 561.5A198.1 198.1 0 0 0 386.5 558L382.5 551.6A190.6 190.6 0 0 1 376.8 555ZM465.2 464.2A198.1 198.1 0 0 0 467.6 457.7L460.6 455.2A190.6 190.6 0 0 1 458.2 461.4ZM476.6 355.6A198.1 198.1 0 0 0 475.2 348.8L467.9 350.4A190.6 190.6 0 0 1 469.2 356.9ZM469.9 328.8A198.1 198.1 0 0 0 467.6 322.3L460.6 324.8A190.6 190.6 0 0 1 462.8 331.1ZM428.7 257.5A198.1 198.1 0 0 0 424 252.4L418.6 257.6A190.6 190.6 0 0 1 423.1 262.5ZM295.8 594.5A205 205 0 0 0 310 593L309 585.6A197.5 197.5 0 0 1 295.3 587ZM351.6 582.6A205 205 0 0 0 358.3 580L355.5 573.1A197.5 197.5 0 0 1 349 575.6ZM484.5 418.5A205 205 0 0 0 485.3 411.4L477.9 410.6A197.5 197.5 0 0 1 477.1 417.5ZM486 404.3A205 205 0 0 0 486.3 397.2L478.9 396.9A197.5 197.5 0 0 1 478.5 403.8ZM486.3 382.8A205 205 0 0 0 486 375.7L478.5 376.2A197.5 197.5 0 0 1 478.9 383.1ZM471.5 313.2A205 205 0 0 0 465.7 300.1L459 303.4A197.5 197.5 0 0 1 464.6 316ZM438.9 248.2A211.9 211.9 0 0 0 433.9 242.8L428.5 248A204.4 204.4 0 0 1 433.4 253.3ZM433.5 232.6A218.8 218.8 0 0 0 427.9 227.4L422.9 233A211.3 211.3 0 0 1 428.3 238ZM446.3 573.1A246.3 246.3 0 0 0 452.6 567.2L447.4 561.8A238.8 238.8 0 0 1 441.3 567.5ZM475.6 541.7A246.3 246.3 0 0 0 485.7 527.7L479.5 523.6A238.8 238.8 0 0 1 469.7 537ZM490.4 520.5A246.3 246.3 0 0 0 494.8 513.2L488.3 509.4A238.8 238.8 0 0 1 484 516.6ZM499 505.6A246.3 246.3 0 0 0 502.9 498L496.2 494.7A238.8 238.8 0 0 1 492.4 502.1ZM376.4 624.8A253.2 253.2 0 0 0 384.5 621.3L381.5 614.5A245.7 245.7 0 0 1 373.6 617.8ZM529.2 442.6A253.2 253.2 0 0 0 530.9 434L523.5 432.7A245.7 245.7 0 0 1 521.9 441.1ZM512.8 287A253.2 253.2 0 0 0 509.1 279L502.4 282.3A245.7 245.7 0 0 1 506 290ZM533.9 327.1A260.1 260.1 0 0 0 531.5 318.3L524.3 320.4A252.6 252.6 0 0 1 526.6 328.9Z"/><path fill="#61aeea" stroke="#61aeea" d="M311.3 425.5A46.4 46.4 0 0 0 312.5 424.5L307.5 418.9A38.9 38.9 0 0 1 306.5 419.8ZM323.2 410.3A46.4 46.4 0 0 0 323.9 408.9L317 405.8A38.9 38.9 0 0 1 316.5 407.1ZM312.8 433.1A53.3 53.3 0 0 0 314.3 432L309.7 426.1A45.8 45.8 0 0 1 308.4 427ZM327.6 416.6A53.3 53.3 0 0 0 328.5 415L321.9 411.5A45.8 45.8 0 0 1 321.2 412.9ZM333.6 420.1A60.2 60.2 0 0 0 334.6 418.3L328 414.7A52.7 52.7 0 0 1 327.1 416.3ZM326.4 439.8A67.1 67.1 0 0 0 328.1 438.2L322.9 432.9A59.6 59.6 0 0 1 321.4 434.3ZM331.3 434.9A67.1 67.1 0 0 0 334.4 431.3L328.4 426.7A59.6 59.6 0 0 1 325.8 429.9ZM338.4 425.5A67.1 67.1 0 0 0 339.6 423.5L333.1 419.8A59.6 59.6 0 0 1 332 421.6ZM307.5 242.5A149.8 149.8 0 0 0 297.2 241L296.4 248.5A142.3 142.3 0 0 1 306.2 249.8ZM438.1 395.5A156.7 156.7 0 0 0 438.2 390L430.7 390A149.2 149.2 0 0 1 430.6 395.2ZM319.4 237.9A156.7 156.7 0 0 0 314.1 236.7L312.5 244.1A149.2 149.2 0 0 1 317.6 245.2ZM382.2 261.1A163.6 163.6 0 0 0 377.7 257.6L373.3 263.7A156.1 156.1 0 0 1 377.6 267ZM452 390A170.5 170.5 0 0 0 451.9 384L444.4 384.3A163 163 0 0 1 444.5 390ZM395.5 254.1A177.4 177.4 0 0 0 390.7 250.2L386.1 256.1A169.9 169.9 0 0 1 390.7 259.9ZM362.3 224.4A184.3 184.3 0 0 0 356.5 221.6L353.4 228.5A176.8 176.8 0 0 1 359 231.1ZM371.3 221.2A191.2 191.2 0 0 0 365.3 218.2L362 224.9A183.7 183.7 0 0 1 367.7 227.8ZM358.3 200A205 205 0 0 0 351.6 197.4L349 204.4A197.5 197.5 0 0 1 355.5 206.9ZM406 218.6A211.9 211.9 0 0 0 400 214.4L395.8 220.6A204.4 204.4 0 0 1 401.6 224.7ZM325.5 182.8A211.9 211.9 0 0 0 318.3 181.4L317 188.7A204.4 204.4 0 0 1 324 190.1ZM297.7 158A232.5 232.5 0 0 0 289.6 157.6L289.4 165.1A225.1 225.1 0 0 1 297.2 165.5ZM521.5 507.1A267 267 0 0 0 525.4 498.6L518.6 495.6A259.5 259.5 0 0 1 514.8 503.8ZM540.6 325.4A267 267 0 0 0 535.5 307.5L528.3 309.8A259.5 259.5 0 0 1 533.3 327.2Z"/><path fill="#60aae8" stroke="#60aae8" d="M312.5 424.5A46.4 46.4 0 0 0 313.7 423.4L308.5 418A38.9 38.9 0 0 1 307.5 418.9ZM321.7 413.2A46.4 46.4 0 0 0 323.2 410.3L316.5 407.1A38.9 38.9 0 0 1 315.2 409.4ZM314.3 432A53.3 53.3 0 0 0 317.2 429.6L312.1 424A45.8 45.8 0 0 1 309.7 426.1ZM318.5 428.3A53.3 53.3 0 0 0 319.8 427L314.4 421.8A45.8 45.8 0 0 1 313.3 422.9ZM332.5 421.9A60.2 60.2 0 0 0 333.6 420.1L327.1 416.3A52.7 52.7 0 0 1 326.2 417.9ZM334.4 431.3A67.1 67.1 0 0 0 338.4 425.5L332 421.6A59.6 59.6 0 0 1 328.4 426.7ZM351.8 257.7A149.8 149.8 0 0 0 347.2 255.4L343.9 262.1A142.3 142.3 0 0 1 348.3 264.3ZM286.7 240.3A149.8 149.8 0 0 0 281.5 240.2L281.5 247.7A142.3 142.3 0 0 1 286.5 247.8ZM443.5 412.8A163.6 163.6 0 0 0 444.2 407.1L436.8 406.3A156.1 156.1 0 0 1 436.1 411.7ZM342.8 238.3A163.6 163.6 0 0 0 337.5 236.3L334.9 243.3A156.1 156.1 0 0 1 340 245.3ZM332.1 234.4A163.6 163.6 0 0 0 326.6 232.7L324.5 239.9A156.1 156.1 0 0 1 329.7 241.5ZM449.4 419.6A170.5 170.5 0 0 0 450.3 413.7L442.9 412.7A163 163 0 0 1 442 418.3ZM334.2 227.8A170.5 170.5 0 0 0 328.5 226.1L326.4 233.3A163 163 0 0 1 331.9 235ZM458.8 396.2A177.4 177.4 0 0 0 458.9 390L451.4 390A169.9 169.9 0 0 1 451.3 395.9ZM359.3 230.6A177.4 177.4 0 0 0 353.7 227.9L350.6 234.8A169.9 169.9 0 0 1 356 237.3ZM287.7 212.7A177.4 177.4 0 0 0 281.5 212.6L281.5 220.1A169.9 169.9 0 0 1 287.4 220.2ZM395 244.8A184.3 184.3 0 0 0 389.8 240.9L385.4 247A176.8 176.8 0 0 1 390.3 250.7ZM368 227.3A184.3 184.3 0 0 0 362.3 224.4L359 231.1A176.8 176.8 0 0 1 364.5 233.9ZM399.2 239.3A191.2 191.2 0 0 0 393.9 235.3L389.5 241.4A183.7 183.7 0 0 1 394.6 245.3ZM374.5 215.1A198.1 198.1 0 0 0 362.1 209.1L359 215.9A190.6 190.6 0 0 1 371 221.7ZM355.7 206.3A198.1 198.1 0 0 0 349.2 203.9L346.7 210.9A190.6 190.6 0 0 1 352.9 213.3ZM402 224.2A205 205 0 0 0 390.1 216.2L386.1 222.5A197.5 197.5 0 0 1 397.6 230.2ZM331.1 191.1A205 205 0 0 0 324.1 189.5L322.6 196.8A197.5 197.5 0 0 1 329.3 198.4ZM400 214.4A211.9 211.9 0 0 0 393.8 210.3L389.8 216.7A204.4 204.4 0 0 1 395.8 220.6ZM327 176A218.8 218.8 0 0 0 319.5 174.6L318.2 181.9A211.3 211.3 0 0 1 325.4 183.4ZM289.1 171.4A218.8 218.8 0 0 0 281.5 171.2L281.5 178.7A211.3 211.3 0 0 1 288.9 178.9ZM320.7 167.8A225.7 225.7 0 0 0 312.9 166.5L311.9 174A218.2 218.2 0 0 1 319.4 175.2ZM314.8 152.9A239.4 239.4 0 0 0 306.5 151.9L305.7 159.3A231.9 231.9 0 0 1 313.8 160.3ZM474.8 215.9A260.1 260.1 0 0 0 468.6 209.3L463.2 214.5A252.6 252.6 0 0 1 469.2 221ZM398.6 630A267 267 0 0 0 406.9 625.8L403.3 619.1A259.5 259.5 0 0 1 395.3 623.3ZM525.4 281.4A267 267 0 0 0 521.5 272.9L514.8 276.2A259.5 259.5 0 0 1 518.6 284.4ZM551.3 437.6A273.9 273.9 0 0 0 552.8 351.9L545.3 352.9A266.4 266.4 0 0 1 543.9 436.3ZM559.6 429.1A280.8 280.8 0 0 0 562.1 380.2L554.6 380.5A273.3 273.3 0 0 1 552.2 428ZM566.4 430A287.7 287.7 0 0 0 569 380L561.5 380.2A280.2 280.2 0 0 1 559 429ZM573.2 431A294.6 294.6 0 0 0 575.9 379.7L568.4 380A287.1 287.1 0 0 1 565.8 430Z"/><path fill="#5fa6e6" stroke="#5fa6e6" d="M313.7 423.4A46.4 46.4 0 0 0 316 421L310.4 416A38.9 38.9 0 0 1 308.5 418ZM317.2 429.6A53.3 53.3 0 0 0 318.5 428.3L313.3 422.9A45.8 45.8 0 0 1 312.1 424ZM319.8 427A53.3 53.3 0 0 0 321.1 425.7L315.5 420.6A45.8 45.8 0 0 1 314.4 421.8ZM326.2 430.3A60.2 60.2 0 0 0 327.6 428.7L321.9 423.9A52.7 52.7 0 0 1 320.7 425.3ZM331.4 423.7A60.2 60.2 0 0 0 332.5 421.9L326.2 417.9A52.7 52.7 0 0 1 325.2 419.5ZM369.6 268.8A149.8 149.8 0 0 0 365.3 265.8L361.1 272A142.3 142.3 0 0 1 365.2 274.9ZM360.9 263A149.8 149.8 0 0 0 351.8 257.7L348.3 264.3A142.3 142.3 0 0 1 356.9 269.3ZM297.2 241A149.8 149.8 0 0 0 292 240.6L291.4 248A142.3 142.3 0 0 1 296.4 248.5ZM350.2 249.2A156.7 156.7 0 0 0 345.2 246.8L342.2 253.7A149.2 149.2 0 0 1 346.9 255.9ZM314.1 236.7A156.7 156.7 0 0 0 308.7 235.7L307.4 243.1A149.2 149.2 0 0 1 312.5 244.1ZM445 395.7A163.6 163.6 0 0 0 445.1 390L437.6 390A156.1 156.1 0 0 1 437.5 395.4ZM287.2 226.5A163.6 163.6 0 0 0 281.5 226.4L281.5 233.9A156.1 156.1 0 0 1 286.9 234ZM345.4 231.9A170.5 170.5 0 0 0 339.8 229.8L337.2 236.8A163 163 0 0 1 342.6 238.9ZM457.9 408.5A177.4 177.4 0 0 0 458.8 396.2L451.3 395.9A169.9 169.9 0 0 1 450.5 407.8ZM353.7 227.9A177.4 177.4 0 0 0 336.3 221.3L334 228.4A169.9 169.9 0 0 1 350.6 234.8ZM356.5 221.6A184.3 184.3 0 0 0 350.5 219.1L347.7 226.1A176.8 176.8 0 0 1 353.4 228.5ZM380.5 218.5A198.1 198.1 0 0 0 374.5 215.1L371 221.7A190.6 190.6 0 0 1 376.8 225ZM351.6 197.4A205 205 0 0 0 344.8 195.1L342.5 202.2A197.5 197.5 0 0 1 349 204.4ZM338 193A205 205 0 0 0 331.1 191.1L329.3 198.4A197.5 197.5 0 0 1 335.9 200.2ZM324.1 189.5A205 205 0 0 0 317.1 188.1L315.8 195.5A197.5 197.5 0 0 1 322.6 196.8ZM354 190.9A211.9 211.9 0 0 0 339.9 186.3L337.8 193.5A204.4 204.4 0 0 1 351.4 198ZM288.9 178.3A211.9 211.9 0 0 0 281.5 178.1L281.5 185.6A204.4 204.4 0 0 1 288.6 185.8ZM289.4 164.5A225.7 225.7 0 0 0 281.5 164.3L281.5 171.8A218.2 218.2 0 0 1 289.1 172ZM306.5 151.9A239.4 239.4 0 0 0 298.2 151.1L297.7 158.6A231.9 231.9 0 0 1 305.7 159.3ZM334.1 142.3A253.2 253.2 0 0 0 325.5 140.6L324.2 148A245.7 245.7 0 0 1 332.6 149.6ZM347.8 655.8A273.9 273.9 0 0 0 392.9 640.2L389.9 633.4A266.4 266.4 0 0 1 346 648.5ZM544.8 465.5A273.9 273.9 0 0 0 551.3 437.6L543.9 436.3A266.4 266.4 0 0 1 537.6 463.4ZM349.4 662.5A280.8 280.8 0 0 0 395.7 646.5L392.7 639.7A273.3 273.3 0 0 1 347.6 655.2ZM558 438.8A280.8 280.8 0 0 0 559.6 429.1L552.2 428A273.3 273.3 0 0 1 550.7 437.5ZM562.1 380.2A280.8 280.8 0 0 0 559.6 350.9L552.2 352A273.3 273.3 0 0 1 554.6 380.5ZM351.1 669.2A287.7 287.7 0 0 0 398.5 652.8L395.5 646A280.2 280.2 0 0 1 349.3 661.9ZM564.8 440A287.7 287.7 0 0 0 566.4 430L559 429A280.2 280.2 0 0 1 557.5 438.7ZM569 380A287.7 287.7 0 0 0 566.4 350L559 351A280.2 280.2 0 0 1 561.5 380.2ZM352.8 675.8A294.6 294.6 0 0 0 401.3 659.1L398.3 652.3A287.1 287.1 0 0 1 351 668.6ZM571.6 441.2A294.6 294.6 0 0 0 573.2 431L565.8 430A287.1 287.1 0 0 1 564.2 439.9ZM575.9 379.7A294.6 294.6 0 0 0 573.2 349L565.8 350A287.1 287.1 0 0 1 568.4 380Z"/><path fill="#5ea2e4" stroke="#5ea2e4" d="M316 421A46.4 46.4 0 0 0 317 419.8L311.3 415A38.9 38.9 0 0 1 310.4 416ZM320 415.9A46.4 46.4 0 0 0 321.7 413.2L315.2 409.4A38.9 38.9 0 0 1 313.7 411.7ZM327.6 428.7A60.2 60.2 0 0 0 328.9 427L323 422.4A52.7 52.7 0 0 1 321.9 423.9ZM365.3 265.8A149.8 149.8 0 0 0 360.9 263L356.9 269.3A142.3 142.3 0 0 1 361.1 272ZM292 240.6A149.8 149.8 0 0 0 286.7 240.3L286.5 247.8A142.3 142.3 0 0 1 291.4 248ZM437.8 400.9A156.7 156.7 0 0 0 438.1 395.5L430.6 395.2A149.2 149.2 0 0 1 430.3 400.4ZM378 266.5A156.7 156.7 0 0 0 373.6 263.2L369.2 269.3A149.2 149.2 0 0 1 373.4 272.4ZM308.7 235.7A156.7 156.7 0 0 0 303.3 234.8L302.3 242.2A149.2 149.2 0 0 1 307.4 243.1ZM287 233.4A156.7 156.7 0 0 0 281.5 233.3L281.5 240.8A149.2 149.2 0 0 1 286.7 240.9ZM348 240.5A163.6 163.6 0 0 0 342.8 238.3L340 245.3A156.1 156.1 0 0 1 345 247.4ZM386.5 255.6A170.5 170.5 0 0 0 381.7 252.1L377.3 258.1A163 163 0 0 1 381.9 261.6ZM350.8 234.2A170.5 170.5 0 0 0 345.4 231.9L342.6 238.9A163 163 0 0 1 347.8 241.1ZM364.8 233.4A177.4 177.4 0 0 0 359.3 230.6L356 237.3A169.9 169.9 0 0 1 361.3 240ZM389.8 240.9A184.3 184.3 0 0 0 384.6 237.2L380.4 243.4A176.8 176.8 0 0 1 385.4 247ZM373.6 230.4A184.3 184.3 0 0 0 368 227.3L364.5 233.9A176.8 176.8 0 0 1 369.9 236.9ZM287.9 205.8A184.3 184.3 0 0 0 281.5 205.7L281.5 213.2A176.8 176.8 0 0 1 287.7 213.3ZM327.8 204.5A191.2 191.2 0 0 0 321.2 203L319.7 210.3A183.7 183.7 0 0 1 325.9 211.8ZM403.4 233.9A198.1 198.1 0 0 0 392.3 225.8L388.1 232A190.6 190.6 0 0 1 398.8 239.8ZM344.8 195.1A205 205 0 0 0 338 193L335.9 200.2A197.5 197.5 0 0 1 342.5 202.2ZM318.3 181.4A211.9 211.9 0 0 0 311 180.2L309.9 187.6A204.4 204.4 0 0 1 317 188.7ZM313.9 159.7A232.5 232.5 0 0 0 305.8 158.7L305 166.2A225.1 225.1 0 0 1 312.8 167.1ZM468.6 209.3A260.1 260.1 0 0 0 455.6 196.7L450.5 202.3A252.6 252.6 0 0 1 463.2 214.5ZM517.3 515.4A267 267 0 0 0 521.5 507.1L514.8 503.8A259.5 259.5 0 0 1 510.6 511.8ZM542 474.6A273.9 273.9 0 0 0 544.8 465.5L537.6 463.4A266.4 266.4 0 0 1 534.9 472.3ZM552.8 351.9A273.9 273.9 0 0 0 551.3 342.4L543.9 343.7A266.4 266.4 0 0 1 545.3 352.9ZM556.2 448.4A280.8 280.8 0 0 0 558 438.8L550.7 437.5A273.3 273.3 0 0 1 548.8 446.8ZM562.9 449.8A287.7 287.7 0 0 0 564.8 440L557.5 438.7A280.2 280.2 0 0 1 555.6 448.3ZM569.7 451.3A294.6 294.6 0 0 0 571.6 441.2L564.2 439.9A287.1 287.1 0 0 1 562.3 449.7Z"/><path fill="#5c9ee0" stroke="#5c9ee0" d="M317 419.8A46.4 46.4 0 0 0 320 415.9L313.7 411.7A38.9 38.9 0 0 1 311.3 415ZM321.1 425.7A53.3 53.3 0 0 0 322.3 424.3L316.6 419.4A45.8 45.8 0 0 1 315.5 420.6ZM325.7 419.8A53.3 53.3 0 0 0 327.6 416.6L321.2 412.9A45.8 45.8 0 0 1 319.5 415.6ZM323.3 433.3A60.2 60.2 0 0 0 324.8 431.8L319.4 426.6A52.7 52.7 0 0 1 318.1 427.9ZM437.3 406.4A156.7 156.7 0 0 0 437.8 400.9L430.3 400.4A149.2 149.2 0 0 1 429.9 405.6ZM355.1 251.6A156.7 156.7 0 0 0 350.2 249.2L346.9 255.9A149.2 149.2 0 0 1 351.6 258.3ZM353.2 243A163.6 163.6 0 0 0 348 240.5L345 247.4A156.1 156.1 0 0 1 349.9 249.7ZM315.5 230A163.6 163.6 0 0 0 304.3 228L303.2 235.4A156.1 156.1 0 0 1 314 237.3ZM292.9 226.8A163.6 163.6 0 0 0 287.2 226.5L286.9 234A156.1 156.1 0 0 1 292.4 234.3ZM451.9 396A170.5 170.5 0 0 0 452 390L444.5 390A163 163 0 0 1 444.4 395.7ZM316.9 223.2A170.5 170.5 0 0 0 305.2 221.2L304.2 228.6A163 163 0 0 1 315.4 230.6ZM390.7 250.2A177.4 177.4 0 0 0 385.8 246.5L381.4 252.6A169.9 169.9 0 0 1 386.1 256.1ZM336.3 221.3A177.4 177.4 0 0 0 330.4 219.5L328.3 226.7A169.9 169.9 0 0 1 334 228.4ZM293.9 213A177.4 177.4 0 0 0 287.7 212.7L287.4 220.2A169.9 169.9 0 0 1 293.4 220.5ZM379.2 233.7A184.3 184.3 0 0 0 373.6 230.4L369.9 236.9A176.8 176.8 0 0 1 375.2 240.1ZM350.5 219.1A184.3 184.3 0 0 0 344.5 216.8L342 223.9A176.8 176.8 0 0 1 347.7 226.1ZM377.1 224.4A191.2 191.2 0 0 0 371.3 221.2L367.7 227.8A183.7 183.7 0 0 1 373.3 230.9ZM359.3 215.3A191.2 191.2 0 0 0 353.1 212.7L350.3 219.7A183.7 183.7 0 0 1 356.2 222.2ZM334.2 206.2A191.2 191.2 0 0 0 327.8 204.5L325.9 211.8A183.7 183.7 0 0 1 332.1 213.4ZM321.2 203A191.2 191.2 0 0 0 314.7 201.7L313.4 209.1A183.7 183.7 0 0 1 319.7 210.3ZM392.3 225.8A198.1 198.1 0 0 0 380.5 218.5L376.8 225A190.6 190.6 0 0 1 388.1 232ZM288.7 185.2A205 205 0 0 0 281.5 185L281.5 192.5A197.5 197.5 0 0 1 288.4 192.6ZM319.5 174.6A218.8 218.8 0 0 0 311.9 173.4L310.9 180.8A211.3 211.3 0 0 1 318.2 181.9ZM312.9 166.5A225.7 225.7 0 0 0 305.1 165.6L304.3 173A218.2 218.2 0 0 1 311.9 174ZM308.7 648.7A260.1 260.1 0 0 0 317.7 647.6L316.7 640.2A252.6 252.6 0 0 1 307.9 641.2ZM455.6 196.7A260.1 260.1 0 0 0 441.6 185L437 190.9A252.6 252.6 0 0 1 450.5 202.3ZM521.5 272.9A267 267 0 0 0 517.3 264.6L510.6 268.2A259.5 259.5 0 0 1 514.8 276.2ZM538.9 483.7A273.9 273.9 0 0 0 542 474.6L534.9 472.3A266.4 266.4 0 0 1 531.9 481.1ZM554 457.9A280.8 280.8 0 0 0 556.2 448.4L548.8 446.8A273.3 273.3 0 0 1 546.7 456.1ZM560.7 459.6A287.7 287.7 0 0 0 562.9 449.8L555.6 448.3A280.2 280.2 0 0 1 553.4 457.8ZM567.3 461.3A294.6 294.6 0 0 0 569.7 451.3L562.3 449.7A287.1 287.1 0 0 1 560.1 459.5Z"/><path fill="#61b2ea" stroke="#61b2ea" d="M323.9 408.9A46.4 46.4 0 0 0 324.5 407.4L317.6 404.6A38.9 38.9 0 0 1 317 405.8ZM330.9 410A53.3 53.3 0 0 0 331.6 408.2L324.5 405.7A45.8 45.8 0 0 1 324 407.2ZM321.8 434.7A60.2 60.2 0 0 0 323.3 433.3L318.1 427.9A52.7 52.7 0 0 1 316.8 429.2ZM334.6 418.3A60.2 60.2 0 0 0 335.6 416.4L328.9 413.1A52.7 52.7 0 0 1 328 414.7ZM324.6 441.4A67.1 67.1 0 0 0 326.4 439.8L321.4 434.3A59.6 59.6 0 0 1 319.8 435.6ZM329.7 436.6A67.1 67.1 0 0 0 331.3 434.9L325.8 429.9A59.6 59.6 0 0 1 324.4 431.4ZM373.7 271.9A149.8 149.8 0 0 0 369.6 268.8L365.2 274.9A142.3 142.3 0 0 1 369.1 277.9ZM347.2 255.4A149.8 149.8 0 0 0 342.4 253.1L339.4 260A142.3 142.3 0 0 1 343.9 262.1ZM436.7 411.8A156.7 156.7 0 0 0 437.3 406.4L429.9 405.6A149.2 149.2 0 0 1 429.3 410.8ZM382.2 270A156.7 156.7 0 0 0 378 266.5L373.4 272.4A149.2 149.2 0 0 1 377.4 275.7ZM324.7 239.4A156.7 156.7 0 0 0 319.4 237.9L317.6 245.2A149.2 149.2 0 0 1 322.6 246.6ZM337.5 236.3A163.6 163.6 0 0 0 332.1 234.4L329.7 241.5A156.1 156.1 0 0 1 334.9 243.3ZM391.1 259.4A170.5 170.5 0 0 0 386.5 255.6L381.9 261.6A163 163 0 0 1 386.3 265.1ZM339.8 229.8A170.5 170.5 0 0 0 334.2 227.8L331.9 235A163 163 0 0 1 337.2 236.8ZM365.3 218.2A191.2 191.2 0 0 0 359.3 215.3L356.2 222.2A183.7 183.7 0 0 1 362 224.9ZM408.8 238.3A198.1 198.1 0 0 0 403.4 233.9L398.8 239.8A190.6 190.6 0 0 1 404 244ZM407.7 228.5A205 205 0 0 0 402 224.2L397.6 230.2A197.5 197.5 0 0 1 403.1 234.4ZM390.1 216.2A205 205 0 0 0 384 212.5L380.2 219A197.5 197.5 0 0 1 386.1 222.5ZM360.9 193.6A211.9 211.9 0 0 0 354 190.9L351.4 198A204.4 204.4 0 0 1 358.1 200.5ZM339.9 186.3A211.9 211.9 0 0 0 325.5 182.8L324 190.1A204.4 204.4 0 0 1 337.8 193.5ZM363.4 187.2A218.8 218.8 0 0 0 356.3 184.4L353.8 191.5A211.3 211.3 0 0 1 360.6 194.1ZM323.1 154.2A239.4 239.4 0 0 0 314.8 152.9L313.8 160.3A231.9 231.9 0 0 1 321.8 161.6ZM298.2 151.1A239.4 239.4 0 0 0 289.9 150.7L289.6 158.2A231.9 231.9 0 0 1 297.7 158.6ZM332.7 149A246.3 246.3 0 0 0 281.5 143.7L281.5 151.2A238.8 238.8 0 0 1 331.2 156.4ZM281.5 643.2A253.2 253.2 0 0 0 308 641.8L307.2 634.4A245.7 245.7 0 0 1 281.5 635.7ZM437.4 190.5A253.2 253.2 0 0 0 334.1 142.3L332.6 149.6A245.7 245.7 0 0 1 432.8 196.4ZM317.7 647.6A260.1 260.1 0 0 0 326.7 646.2L325.4 638.8A252.6 252.6 0 0 1 316.7 640.2ZM419.3 610.6A260.1 260.1 0 0 0 506.8 520.1L500.3 516.3A252.6 252.6 0 0 1 415.4 604.2ZM511.2 267.9A260.1 260.1 0 0 0 474.8 215.9L469.2 221A252.6 252.6 0 0 1 504.6 271.4ZM542.7 334.5A267 267 0 0 0 540.6 325.4L533.3 327.2A259.5 259.5 0 0 1 535.4 336ZM535.5 307.5A267 267 0 0 0 525.4 281.4L518.6 284.4A259.5 259.5 0 0 1 528.3 309.8Z"/><path fill="#81c0b1" stroke="#81c0b1" d="M326.5 378.8A46.4 46.4 0 0 0 325.6 375.7L318.5 378A38.9 38.9 0 0 1 319.2 380.6ZM324.5 372.6A46.4 46.4 0 0 0 323.2 369.7L316.5 372.9A38.9 38.9 0 0 1 317.6 375.4ZM320.8 365.4A46.4 46.4 0 0 0 320 364.1L313.7 368.3A38.9 38.9 0 0 1 314.5 369.4ZM314.9 357.8A46.4 46.4 0 0 0 313.7 356.6L308.5 362A38.9 38.9 0 0 1 309.5 363ZM285.2 443.2A53.3 53.3 0 0 0 288.9 442.8L287.9 435.3A45.8 45.8 0 0 1 284.7 435.7ZM334.8 388.1A53.3 53.3 0 0 0 334 380.7L326.6 382A45.8 45.8 0 0 1 327.3 388.4ZM325.7 360.2A53.3 53.3 0 0 0 324.6 358.7L318.5 363.1A45.8 45.8 0 0 1 319.5 364.4ZM317.2 350.4A53.3 53.3 0 0 0 312.8 346.9L308.4 353A45.8 45.8 0 0 1 312.1 356ZM294 448.9A60.2 60.2 0 0 0 298.1 447.8L296 440.6A52.7 52.7 0 0 1 292.5 441.5ZM341.3 383.7A60.2 60.2 0 0 0 341.1 381.6L333.7 382.7A52.7 52.7 0 0 1 333.9 384.5ZM324.8 348.2A60.2 60.2 0 0 0 323.3 346.7L318.1 352.1A52.7 52.7 0 0 1 319.4 353.4ZM316.9 341.3A60.2 60.2 0 0 0 313.4 339L309.4 345.3A52.7 52.7 0 0 1 312.5 347.4ZM293.1 456.1A67.1 67.1 0 0 0 295.4 455.6L293.9 448.3A59.6 59.6 0 0 1 291.8 448.7ZM308.8 451.3A67.1 67.1 0 0 0 313 449.2L309.5 442.6A59.6 59.6 0 0 1 305.7 444.4ZM320.9 335.7A67.1 67.1 0 0 0 317 333.1L313.1 339.5A59.6 59.6 0 0 1 316.5 341.8ZM355.4 387.4A74 74 0 0 0 355.3 384.8L347.8 385.4A66.5 66.5 0 0 1 347.9 387.7ZM332.9 336.8A74 74 0 0 0 325 330.2L320.6 336.2A66.5 66.5 0 0 1 327.7 342.2ZM362.3 392.8A80.9 80.9 0 0 0 362.4 390L354.9 390A73.4 73.4 0 0 1 354.8 392.6ZM333.1 461A87.8 87.8 0 0 0 335.5 459.2L330.9 453.2A80.3 80.3 0 0 1 328.7 454.9ZM368.8 399.2A87.8 87.8 0 0 0 369.2 393.1L361.7 392.8A80.3 80.3 0 0 1 361.3 398.4ZM369.2 386.9A87.8 87.8 0 0 0 369 383.9L361.6 384.4A80.3 80.3 0 0 1 361.7 387.2ZM344.6 329A87.8 87.8 0 0 0 342.5 326.9L337.3 332.3A80.3 80.3 0 0 1 339.2 334.2ZM376.1 386.7A94.7 94.7 0 0 0 375.9 383.4L368.4 383.9A87.2 87.2 0 0 1 368.6 387ZM354 329.2A94.7 94.7 0 0 0 351.8 326.7L346.3 331.7A87.2 87.2 0 0 1 348.3 334ZM349.6 324.2A94.7 94.7 0 0 0 347.3 321.9L342 327.3A87.2 87.2 0 0 1 344.2 329.5ZM342.3 317.5A94.7 94.7 0 0 0 337.1 313.4L332.7 319.5A87.2 87.2 0 0 1 337.5 323.2ZM382.1 375.9A101.5 101.5 0 0 0 381.5 372.4L374.1 373.7A94.1 94.1 0 0 1 374.6 376.9ZM359.3 324.7A101.5 101.5 0 0 0 354.5 319.5L349.2 324.7A94.1 94.1 0 0 1 353.5 329.5ZM335.7 483.9A108.4 108.4 0 0 0 339 482L335 475.6A100.9 100.9 0 0 1 332 477.4ZM389.9 386.2A108.4 108.4 0 0 0 389.3 378.7L381.9 379.4A100.9 100.9 0 0 1 382.4 386.5ZM388.9 374.9A108.4 108.4 0 0 0 387.6 367.5L380.2 369A100.9 100.9 0 0 1 381.5 376ZM367 323.2A108.4 108.4 0 0 0 364.6 320.3L358.8 325.1A100.9 100.9 0 0 1 361 327.9ZM359.5 314.7A108.4 108.4 0 0 0 351.2 306.9L346.4 312.7A100.9 100.9 0 0 1 354.1 319.9ZM395.1 370A115.3 115.3 0 0 0 394.3 366L387 367.6A107.8 107.8 0 0 1 387.7 371.3ZM349.9 491.3A122.2 122.2 0 0 0 356.8 486.3L352.1 480.4A114.7 114.7 0 0 1 345.7 485.1ZM403.4 381.5A122.2 122.2 0 0 0 403.1 377.2L395.6 378A114.7 114.7 0 0 1 396 382ZM375.1 311.4A122.2 122.2 0 0 0 369.4 305.1L364 310.3A114.7 114.7 0 0 1 369.4 316.2ZM342.1 504A129.1 129.1 0 0 0 349.9 499.5L346 493.1A121.6 121.6 0 0 1 338.6 497.4ZM409.4 372A129.1 129.1 0 0 0 408.7 367.6L401.3 368.9A121.6 121.6 0 0 1 401.9 373.1ZM380.4 307A129.1 129.1 0 0 0 377.5 303.6L371.9 308.6A121.6 121.6 0 0 1 374.7 311.8ZM416.2 371.1A136 136 0 0 0 415.5 366.4L408.1 367.7A128.5 128.5 0 0 1 408.8 372.1ZM412.3 352.5A136 136 0 0 0 409.3 343.5L402.3 346A128.5 128.5 0 0 1 405 354.6ZM391.5 310A136 136 0 0 0 388.7 306.3L382.8 310.9A128.5 128.5 0 0 1 385.5 314.5ZM379.3 295.5A136 136 0 0 0 376 292.2L370.8 297.5A128.5 128.5 0 0 1 374 300.7ZM418.9 350.6A142.9 142.9 0 0 0 417.4 345.8L410.3 348.2A135.4 135.4 0 0 1 411.7 352.7ZM394.1 302A142.9 142.9 0 0 0 391 298.1L385.2 303A135.4 135.4 0 0 1 388.2 306.6ZM387.7 294.4A142.9 142.9 0 0 0 384.3 290.7L378.9 295.9A135.4 135.4 0 0 1 382.1 299.4ZM332.7 530.8A149.8 149.8 0 0 0 337.6 528.9L334.8 522A142.3 142.3 0 0 1 330.2 523.7ZM426.9 353.8A149.8 149.8 0 0 0 425.5 348.7L418.3 350.8A142.3 142.3 0 0 1 419.6 355.6ZM399.6 297.8A149.8 149.8 0 0 0 396.3 293.7L390.5 298.5A142.3 142.3 0 0 1 393.6 302.4ZM392.8 289.8A149.8 149.8 0 0 0 389.3 285.9L383.9 291.1A142.3 142.3 0 0 1 387.3 294.8ZM324.7 540.6A156.7 156.7 0 0 0 329.9 539L327.6 531.9A149.2 149.2 0 0 1 322.6 533.4ZM414.4 473A156.7 156.7 0 0 0 419.9 463.6L413.2 460.1A149.2 149.2 0 0 1 408 469.1ZM428.8 443.6A156.7 156.7 0 0 0 430.5 438.4L423.4 436.1A149.2 149.2 0 0 1 421.7 441ZM435.8 362.8A156.7 156.7 0 0 0 433.6 352.1L426.3 353.9A149.2 149.2 0 0 1 428.4 364.1ZM405 293.5A156.7 156.7 0 0 0 401.5 289.3L395.8 294.1A149.2 149.2 0 0 1 399.1 298.1ZM398 285.1A156.7 156.7 0 0 0 394.2 281.1L388.8 286.3A149.2 149.2 0 0 1 392.4 290.2ZM423.2 471.8A163.6 163.6 0 0 0 426 466.8L419.3 463.3A156.1 156.1 0 0 1 416.7 468.1ZM437.1 440.6A163.6 163.6 0 0 0 438.8 435.1L431.6 433A156.1 156.1 0 0 1 430 438.2ZM410.4 289.3A163.6 163.6 0 0 0 406.8 284.8L401.1 289.7A156.1 156.1 0 0 1 404.5 293.9ZM432 470A170.5 170.5 0 0 0 437.3 459.3L430.4 456.3A163 163 0 0 1 425.4 466.5ZM412.1 280.4A170.5 170.5 0 0 0 408.2 275.9L402.6 280.9A163 163 0 0 1 406.4 285.2ZM281.5 567.4A177.4 177.4 0 0 0 287.7 567.3L287.4 559.8A169.9 169.9 0 0 1 281.5 559.9ZM306.2 565.7A177.4 177.4 0 0 0 324.4 562.1L322.6 554.8A169.9 169.9 0 0 1 305.1 558.2ZM336.3 558.7A177.4 177.4 0 0 0 342.2 556.7L339.6 549.6A169.9 169.9 0 0 1 334 551.6ZM448.2 329.3A177.4 177.4 0 0 0 446 323.5L439 326.4A169.9 169.9 0 0 1 441.1 331.9ZM438.1 306.7A177.4 177.4 0 0 0 435.1 301.3L428.6 305.1A169.9 169.9 0 0 1 431.5 310.2ZM313.5 571.5A184.3 184.3 0 0 0 326.1 568.8L324.3 561.5A176.8 176.8 0 0 1 312.2 564.1ZM437.8 487.7A184.3 184.3 0 0 0 441.1 482.1L434.6 478.4A176.8 176.8 0 0 1 431.4 483.7ZM419 522.8A191.2 191.2 0 0 0 423.6 517.9L418 512.9A183.7 183.7 0 0 1 413.6 517.6ZM450.3 479.8A191.2 191.2 0 0 0 453.3 473.8L446.6 470.5A183.7 183.7 0 0 1 443.7 476.2ZM458.8 461.6A191.2 191.2 0 0 0 463.3 449.1L456.2 446.8A183.7 183.7 0 0 1 451.8 458.8ZM456.2 312.2A191.2 191.2 0 0 0 453.3 306.2L446.6 309.5A183.7 183.7 0 0 1 449.3 315.3ZM309.1 586.1A198.1 198.1 0 0 0 322.7 583.7L321.1 576.4A190.6 190.6 0 0 1 308 578.7ZM392.3 554.2A198.1 198.1 0 0 0 403.4 546.1L398.8 540.2A190.6 190.6 0 0 1 388.1 548ZM478.5 369.3A198.1 198.1 0 0 0 476.6 355.6L469.2 356.9A190.6 190.6 0 0 1 471 370.1ZM475.2 348.8A198.1 198.1 0 0 0 469.9 328.8L462.8 331.1A190.6 190.6 0 0 1 467.9 350.4ZM467.6 322.3A198.1 198.1 0 0 0 459.5 303.2L452.8 306.5A190.6 190.6 0 0 1 460.6 324.8ZM310 593A205 205 0 0 0 324.1 590.5L322.6 583.2A197.5 197.5 0 0 1 309 585.6ZM358.3 580A205 205 0 0 0 364.9 577.2L361.8 570.4A197.5 197.5 0 0 1 355.5 573.1ZM482 432.6A205 205 0 0 0 483.4 425.6L476 424.3A197.5 197.5 0 0 1 474.7 431.1ZM485.3 411.4A205 205 0 0 0 486 404.3L478.5 403.8A197.5 197.5 0 0 1 477.9 410.6ZM486.3 397.2A205 205 0 0 0 486.3 382.8L478.9 383.1A197.5 197.5 0 0 1 478.9 396.9ZM486 375.7A205 205 0 0 0 485.3 368.6L477.9 369.4A197.5 197.5 0 0 1 478.5 376.2ZM433.8 252.8A205 205 0 0 0 428.9 247.6L423.6 252.8A197.5 197.5 0 0 1 428.3 257.9ZM448.8 228.5A232.5 232.5 0 0 0 443 222.7L437.8 228.1A225.1 225.1 0 0 1 443.4 233.7ZM441.7 212.1A239.4 239.4 0 0 0 435.4 206.6L430.6 212.3A231.9 231.9 0 0 1 436.7 217.6ZM439.8 578.7A246.3 246.3 0 0 0 446.3 573.1L441.3 567.5A238.8 238.8 0 0 1 435 573ZM464.6 225.2A246.3 246.3 0 0 0 452.6 212.8L447.4 218.2A238.8 238.8 0 0 1 459 230.2ZM368.1 628A253.2 253.2 0 0 0 376.4 624.8L373.6 617.8A245.7 245.7 0 0 1 365.5 620.9ZM532.3 425.2A253.2 253.2 0 0 0 533.3 416.5L525.9 415.7A245.7 245.7 0 0 1 524.8 424.2ZM519.5 303.4A253.2 253.2 0 0 0 512.8 287L506 290A245.7 245.7 0 0 1 512.4 306ZM541.5 380.9A260.1 260.1 0 0 0 540.2 362.8L532.7 363.6A252.6 252.6 0 0 1 534 381.2Z"/><path fill="#83c0a3" stroke="#83c0a3" d="M323.2 369.7A46.4 46.4 0 0 0 322.5 368.2L315.8 371.7A38.9 38.9 0 0 1 316.5 372.9ZM333.6 378.9A53.3 53.3 0 0 0 333.2 377.1L325.9 378.9A45.8 45.8 0 0 1 326.3 380.5ZM332.2 373.5A53.3 53.3 0 0 0 331.6 371.8L324.5 374.3A45.8 45.8 0 0 1 325 375.9ZM327.6 363.4A53.3 53.3 0 0 0 325.7 360.2L319.5 364.4A45.8 45.8 0 0 1 321.2 367.1ZM281.5 450.2A60.2 60.2 0 0 0 285.7 450L285.2 442.6A52.7 52.7 0 0 1 281.5 442.7ZM341.6 387.9A60.2 60.2 0 0 0 341.5 385.8L334.1 386.3A52.7 52.7 0 0 1 334.2 388.2ZM337.3 367.5A60.2 60.2 0 0 0 335.6 363.6L328.9 366.9A52.7 52.7 0 0 1 330.3 370.3ZM286.2 456.9A67.1 67.1 0 0 0 290.8 456.4L289.8 449A59.6 59.6 0 0 1 285.7 449.4ZM295.4 455.6A67.1 67.1 0 0 0 297.7 455.1L295.9 447.8A59.6 59.6 0 0 1 293.9 448.3ZM348.5 387.7A67.1 67.1 0 0 0 348.4 385.3L340.9 385.8A59.6 59.6 0 0 1 341 387.9ZM335.8 350.6A67.1 67.1 0 0 0 334.4 348.7L328.4 353.3A59.6 59.6 0 0 1 329.7 355ZM299.4 461.8A74 74 0 0 0 301.9 461.1L299.8 453.9A66.5 66.5 0 0 1 297.6 454.5ZM355.1 382.3A74 74 0 0 0 354.3 377.2L347 378.5A66.5 66.5 0 0 1 347.6 383.1ZM341.3 346.5A74 74 0 0 0 339.8 344.5L333.9 349.1A66.5 66.5 0 0 1 335.3 350.9ZM309.2 466A80.9 80.9 0 0 0 311.8 465L309 458A73.4 73.4 0 0 1 306.6 458.9ZM316.9 462.7A80.9 80.9 0 0 0 321.9 460L318.2 453.5A73.4 73.4 0 0 1 313.7 455.9ZM337.7 331.8A80.9 80.9 0 0 0 335.6 329.9L330.6 335.5A73.4 73.4 0 0 1 332.5 337.2ZM320 468.9A87.8 87.8 0 0 0 325.4 466L321.6 459.5A80.3 80.3 0 0 1 316.7 462.1ZM368.8 380.8A87.8 87.8 0 0 0 367.9 374.8L360.5 376.1A80.3 80.3 0 0 1 361.3 381.6ZM352.5 338.4A87.8 87.8 0 0 0 350.7 336L344.7 340.6A80.3 80.3 0 0 1 346.4 342.8ZM323 475.1A94.7 94.7 0 0 0 325.9 473.6L322.4 467A87.2 87.2 0 0 1 319.7 468.3ZM328.8 472A94.7 94.7 0 0 0 331.7 470.3L327.7 463.9A87.2 87.2 0 0 1 325.1 465.5ZM375.2 376.8A94.7 94.7 0 0 0 374.7 373.6L367.3 374.9A87.2 87.2 0 0 1 367.8 377.9ZM332.3 477.9A101.5 101.5 0 0 0 335.3 476.1L331.3 469.8A94.1 94.1 0 0 1 328.5 471.5ZM338.3 474.2A101.5 101.5 0 0 0 341.2 472.2L336.8 466.1A94.1 94.1 0 0 1 334.1 468ZM380.8 368.9A101.5 101.5 0 0 0 380 365.4L372.8 367.2A94.1 94.1 0 0 1 373.5 370.4ZM371.4 329.4A108.4 108.4 0 0 0 369.2 326.3L363.2 330.7A100.9 100.9 0 0 1 365.2 333.6ZM393.4 362.1A115.3 115.3 0 0 0 392.4 358.2L385.2 360.3A107.8 107.8 0 0 1 386.1 363.9ZM377.1 325.5A115.3 115.3 0 0 0 374.8 322.2L368.7 326.6A107.8 107.8 0 0 1 370.9 329.7ZM372.4 319A115.3 115.3 0 0 0 369.9 315.9L364.1 320.7A107.8 107.8 0 0 1 366.5 323.6ZM404.3 350.1A129.1 129.1 0 0 0 402.8 345.8L395.8 348.4A121.6 121.6 0 0 1 397.2 352.4ZM386 314.1A129.1 129.1 0 0 0 383.3 310.5L377.3 315.1A121.6 121.6 0 0 1 379.9 318.5ZM336.8 514.3A136 136 0 0 0 341.1 512.3L337.8 505.5A128.5 128.5 0 0 1 333.8 507.4ZM409.3 343.5A136 136 0 0 0 407.6 339L400.7 341.9A128.5 128.5 0 0 1 402.3 346ZM394.3 313.9A136 136 0 0 0 391.5 310L385.5 314.5A128.5 128.5 0 0 1 388.1 318.1ZM385.7 302.6A136 136 0 0 0 382.6 299L377 304A128.5 128.5 0 0 1 380 307.4ZM415.8 341.1A142.9 142.9 0 0 0 414 336.5L407.1 339.3A135.4 135.4 0 0 1 408.8 343.7ZM400 310.1A142.9 142.9 0 0 0 397.1 306L391.1 310.4A135.4 135.4 0 0 1 393.8 314.3ZM317.7 535.4A149.8 149.8 0 0 0 322.8 534L320.7 526.8A142.3 142.3 0 0 1 315.9 528.1ZM281.5 546.7A156.7 156.7 0 0 0 287 546.6L286.7 539.1A149.2 149.2 0 0 1 281.5 539.2ZM422.3 458.7A156.7 156.7 0 0 0 426.8 448.7L419.8 445.9A149.2 149.2 0 0 1 415.6 455.4ZM430.5 341.6A156.7 156.7 0 0 0 428.8 336.4L421.7 339A149.2 149.2 0 0 1 423.4 343.9ZM413.9 293.8A163.6 163.6 0 0 0 410.4 289.3L404.5 293.9A156.1 156.1 0 0 1 407.8 298.2ZM311.1 557.9A170.5 170.5 0 0 0 316.9 556.8L315.4 549.4A163 163 0 0 1 309.8 550.5ZM439.6 453.9A170.5 170.5 0 0 0 443.7 442.7L436.5 440.4A163 163 0 0 1 432.6 451.1ZM429.2 304.8A170.5 170.5 0 0 0 422.8 294.7L416.6 298.9A163 163 0 0 1 422.7 308.5ZM287.9 574.2A184.3 184.3 0 0 0 294.4 573.8L293.8 566.4A176.8 176.8 0 0 1 287.7 566.7ZM441.1 297.9A184.3 184.3 0 0 0 437.8 292.3L431.4 296.3A176.8 176.8 0 0 1 434.6 301.6ZM426.7 276.5A184.3 184.3 0 0 0 422.7 271.5L416.9 276.4A176.8 176.8 0 0 1 420.8 281.2ZM453.3 306.2A191.2 191.2 0 0 0 450.3 300.2L443.7 303.8A183.7 183.7 0 0 1 446.6 309.5ZM447.1 294.4A191.2 191.2 0 0 0 440 283.1L433.8 287.3A183.7 183.7 0 0 1 440.6 298.2ZM432.2 272.3A191.2 191.2 0 0 0 428 267.1L422.2 271.9A183.7 183.7 0 0 1 426.2 276.9ZM449.5 495A198.1 198.1 0 0 0 453 489L446.5 485.3A190.6 190.6 0 0 1 443.1 491ZM459.5 303.2A198.1 198.1 0 0 0 456.4 297L449.8 300.5A190.6 190.6 0 0 1 452.8 306.5ZM433.2 262.7A198.1 198.1 0 0 0 428.7 257.5L423.1 262.5A190.6 190.6 0 0 1 427.5 267.5ZM364.9 577.2A205 205 0 0 0 371.4 574.2L368.1 567.5A197.5 197.5 0 0 1 361.8 570.4ZM480.4 439.6A205 205 0 0 0 482 432.6L474.7 431.1A197.5 197.5 0 0 1 473.1 437.8ZM483.4 354.4A205 205 0 0 0 480.4 340.4L473.1 342.2A197.5 197.5 0 0 1 476 355.7ZM476.4 326.7A205 205 0 0 0 471.5 313.2L464.6 316A197.5 197.5 0 0 1 469.3 329ZM459 287.5A205 205 0 0 0 451.4 275.4L445.2 279.6A197.5 197.5 0 0 1 452.5 291.3ZM447.3 269.5A205 205 0 0 0 443 263.8L437.1 268.4A197.5 197.5 0 0 1 441.3 273.9ZM288.9 601.7A211.9 211.9 0 0 0 296.3 601.3L295.8 593.9A204.4 204.4 0 0 1 288.6 594.2ZM449.1 249.4A218.8 218.8 0 0 0 444.1 243.6L438.5 248.6A211.3 211.3 0 0 1 443.3 254.2ZM438.9 238A218.8 218.8 0 0 0 433.5 232.6L428.3 238A211.3 211.3 0 0 1 433.5 243.2ZM459.3 251.1A225.7 225.7 0 0 0 454.4 245L448.6 249.8A218.2 218.2 0 0 1 453.4 255.7ZM443.8 233.2A225.7 225.7 0 0 0 438.3 227.7L433 233.1A218.2 218.2 0 0 1 438.4 238.5ZM453.7 223.7A239.4 239.4 0 0 0 447.8 217.8L442.6 223.2A231.9 231.9 0 0 1 448.3 228.9ZM419.2 594.2A246.3 246.3 0 0 0 426.3 589.3L421.9 583.2A238.8 238.8 0 0 1 415.1 588ZM506.5 490.2A246.3 246.3 0 0 0 509.9 482.3L503 479.5A238.8 238.8 0 0 1 499.7 487.1ZM533.3 416.5A253.2 253.2 0 0 0 534.1 407.7L526.6 407.1A245.7 245.7 0 0 1 525.9 415.7ZM527.2 328.7A253.2 253.2 0 0 0 524.9 320.2L517.7 322.3A245.7 245.7 0 0 1 519.9 330.6ZM509.1 279A253.2 253.2 0 0 0 500.8 263.4L494.3 267.1A245.7 245.7 0 0 1 502.4 282.3Z"/><path fill="#82c0aa" stroke="#82c0aa" d="M322.5 368.2A46.4 46.4 0 0 0 320.8 365.4L314.5 369.4A38.9 38.9 0 0 1 315.8 371.7ZM316 359A46.4 46.4 0 0 0 314.9 357.8L309.5 363A38.9 38.9 0 0 1 310.4 364ZM334 380.7A53.3 53.3 0 0 0 333.6 378.9L326.3 380.5A45.8 45.8 0 0 1 326.6 382ZM318.5 351.7A53.3 53.3 0 0 0 317.2 350.4L312.1 356A45.8 45.8 0 0 1 313.3 357.1ZM341.6 392.1A60.2 60.2 0 0 0 341.6 387.9L334.2 388.2A52.7 52.7 0 0 1 334.2 391.8ZM341.1 381.6A60.2 60.2 0 0 0 340.8 379.6L333.4 380.9A52.7 52.7 0 0 1 333.7 382.7ZM326.2 349.7A60.2 60.2 0 0 0 324.8 348.2L319.4 353.4A52.7 52.7 0 0 1 320.7 354.7ZM290.8 456.4A67.1 67.1 0 0 0 293.1 456.1L291.8 448.7A59.6 59.6 0 0 1 289.8 449ZM297.7 455.1A67.1 67.1 0 0 0 300 454.5L297.9 447.3A59.6 59.6 0 0 1 295.9 447.8ZM348.5 392.3A67.1 67.1 0 0 0 348.5 387.7L341 387.9A59.6 59.6 0 0 1 341 392.1ZM328.1 341.8A67.1 67.1 0 0 0 324.6 338.6L319.8 344.4A59.6 59.6 0 0 1 322.9 347.1ZM355.1 397.7A74 74 0 0 0 355.4 392.6L347.9 392.3A66.5 66.5 0 0 1 347.6 396.9ZM355.3 384.8A74 74 0 0 0 355.1 382.3L347.6 383.1A66.5 66.5 0 0 1 347.8 385.4ZM311.8 465A80.9 80.9 0 0 0 314.4 463.9L311.3 457A73.4 73.4 0 0 1 309 458ZM321.9 460A80.9 80.9 0 0 0 324.4 458.6L320.4 452.2A73.4 73.4 0 0 1 318.2 453.5ZM362.4 390A80.9 80.9 0 0 0 362.3 387.2L354.8 387.4A73.4 73.4 0 0 1 354.9 390ZM335.6 329.9A80.9 80.9 0 0 0 333.5 328.1L328.7 333.8A73.4 73.4 0 0 1 330.6 335.5ZM325.4 466A87.8 87.8 0 0 0 328 464.4L324 458.1A80.3 80.3 0 0 1 321.6 459.5ZM369.2 393.1A87.8 87.8 0 0 0 369.2 386.9L361.7 387.2A80.3 80.3 0 0 1 361.7 392.8ZM369 383.9A87.8 87.8 0 0 0 368.8 380.8L361.3 381.6A80.3 80.3 0 0 1 361.6 384.4ZM346.7 331.3A87.8 87.8 0 0 0 344.6 329L339.2 334.2A80.3 80.3 0 0 1 341.1 336.3ZM375.9 383.4A94.7 94.7 0 0 0 375.2 376.8L367.8 377.9A87.2 87.2 0 0 1 368.4 383.9ZM356.1 331.7A94.7 94.7 0 0 0 354 329.2L348.3 334A87.2 87.2 0 0 1 350.2 336.3ZM351.8 326.7A94.7 94.7 0 0 0 349.6 324.2L344.2 329.5A87.2 87.2 0 0 1 346.3 331.7ZM381.5 372.4A101.5 101.5 0 0 0 380.8 368.9L373.5 370.4A94.1 94.1 0 0 1 374.1 373.7ZM361.5 327.5A101.5 101.5 0 0 0 359.3 324.7L353.5 329.5A94.1 94.1 0 0 1 355.6 332.1ZM332.4 485.7A108.4 108.4 0 0 0 335.7 483.9L332 477.4A100.9 100.9 0 0 1 328.9 479.1ZM387.6 367.5A108.4 108.4 0 0 0 386.7 363.8L379.4 365.6A100.9 100.9 0 0 1 380.2 369ZM369.2 326.3A108.4 108.4 0 0 0 367 323.2L361 327.9A100.9 100.9 0 0 1 363.2 330.7ZM362.1 317.4A108.4 108.4 0 0 0 359.5 314.7L354.1 319.9A100.9 100.9 0 0 1 356.5 322.5ZM394.3 366A115.3 115.3 0 0 0 393.4 362.1L386.1 363.9A107.8 107.8 0 0 1 387 367.6ZM374.8 322.2A115.3 115.3 0 0 0 372.4 319L366.5 323.6A107.8 107.8 0 0 1 368.7 326.6ZM369.9 315.9A115.3 115.3 0 0 0 361.6 307L356.4 312.4A107.8 107.8 0 0 1 364.1 320.7ZM346.3 493.7A122.2 122.2 0 0 0 349.9 491.3L345.7 485.1A114.7 114.7 0 0 1 342.3 487.3ZM377.8 314.7A122.2 122.2 0 0 0 375.1 311.4L369.4 316.2A114.7 114.7 0 0 1 371.9 319.4ZM329.9 509.7A129.1 129.1 0 0 0 334 508L331 501.1A121.6 121.6 0 0 1 327.1 502.8ZM405.6 354.4A129.1 129.1 0 0 0 404.3 350.1L397.2 352.4A121.6 121.6 0 0 1 398.4 356.5ZM383.3 310.5A129.1 129.1 0 0 0 380.4 307L374.7 311.8A121.6 121.6 0 0 1 377.3 315.1ZM341.1 512.3A136 136 0 0 0 345.4 510.1L341.8 503.5A128.5 128.5 0 0 1 337.8 505.5ZM382.6 299A136 136 0 0 0 379.3 295.5L374 300.7A128.5 128.5 0 0 1 377 304ZM330.4 524.3A142.9 142.9 0 0 0 335 522.5L332.2 515.6A135.4 135.4 0 0 1 327.8 517.3ZM339.6 520.6A142.9 142.9 0 0 0 344.2 518.5L340.9 511.7A135.4 135.4 0 0 1 336.6 513.7ZM417.4 345.8A142.9 142.9 0 0 0 415.8 341.1L408.8 343.7A135.4 135.4 0 0 1 410.3 348.2ZM397.1 306A142.9 142.9 0 0 0 394.1 302L388.2 306.6A135.4 135.4 0 0 1 391.1 310.4ZM425.5 348.7A149.8 149.8 0 0 0 424 343.7L416.9 346A142.3 142.3 0 0 1 418.3 350.8ZM419.9 463.6A156.7 156.7 0 0 0 422.3 458.7L415.6 455.4A149.2 149.2 0 0 1 413.2 460.1ZM426.8 448.7A156.7 156.7 0 0 0 428.8 443.6L421.7 441A149.2 149.2 0 0 1 419.8 445.9ZM426 466.8A163.6 163.6 0 0 0 428.5 461.7L421.8 458.4A156.1 156.1 0 0 1 419.3 463.3ZM437.1 339.4A163.6 163.6 0 0 0 433.2 328.7L426.2 331.5A156.1 156.1 0 0 1 430 341.8ZM316.9 556.8A170.5 170.5 0 0 0 328.5 553.9L326.4 546.7A163 163 0 0 1 315.4 549.4ZM437.3 459.3A170.5 170.5 0 0 0 439.6 453.9L432.6 451.1A163 163 0 0 1 430.4 456.3ZM415.9 285A170.5 170.5 0 0 0 412.1 280.4L406.4 285.2A163 163 0 0 1 409.9 289.6ZM408.2 275.9A170.5 170.5 0 0 0 404.1 271.6L398.8 276.8A163 163 0 0 1 402.6 280.9ZM287.7 567.3A177.4 177.4 0 0 0 306.2 565.7L305.1 558.2A169.9 169.9 0 0 1 287.4 559.8ZM330.4 560.5A177.4 177.4 0 0 0 336.3 558.7L334 551.6A169.9 169.9 0 0 1 328.3 553.3ZM435.1 478.7A177.4 177.4 0 0 0 440.9 467.8L434.2 464.5A169.9 169.9 0 0 1 428.6 474.9ZM453.6 347.1A177.4 177.4 0 0 0 450.2 335.2L443.1 337.5A169.9 169.9 0 0 1 446.3 348.9ZM446 323.5A177.4 177.4 0 0 0 440.9 312.2L434.2 315.5A169.9 169.9 0 0 1 439 326.4ZM435.1 301.3A177.4 177.4 0 0 0 428.6 290.8L422.3 295A169.9 169.9 0 0 1 428.6 305.1ZM421.3 280.8A177.4 177.4 0 0 0 417.4 276L411.6 280.8A169.9 169.9 0 0 1 415.4 285.4ZM281.5 574.3A184.3 184.3 0 0 0 287.9 574.2L287.7 566.7A176.8 176.8 0 0 1 281.5 566.8ZM307.1 572.5A184.3 184.3 0 0 0 313.5 571.5L312.2 564.1A176.8 176.8 0 0 1 306.1 565.1ZM434.3 286.9A184.3 184.3 0 0 0 426.7 276.5L420.8 281.2A176.8 176.8 0 0 1 428.1 291.1ZM422.7 271.5A184.3 184.3 0 0 0 418.4 266.7L412.9 271.7A176.8 176.8 0 0 1 416.9 276.4ZM428 267.1A191.2 191.2 0 0 0 423.6 262.1L418 267.1A183.7 183.7 0 0 1 422.2 271.9ZM403.4 546.1A198.1 198.1 0 0 0 408.8 541.7L404 536A190.6 190.6 0 0 1 398.8 540.2ZM483.4 425.6A205 205 0 0 0 484.5 418.5L477.1 417.5A197.5 197.5 0 0 1 476 424.3ZM480.4 340.4A205 205 0 0 0 476.4 326.7L469.3 329A197.5 197.5 0 0 1 473.1 342.2ZM281.5 601.9A211.9 211.9 0 0 0 288.9 601.7L288.6 594.2A204.4 204.4 0 0 1 281.5 594.4ZM296.3 601.3A211.9 211.9 0 0 0 303.6 600.7L302.9 593.2A204.4 204.4 0 0 1 295.8 593.9ZM454.4 245A225.7 225.7 0 0 0 449.2 239L443.6 244A218.2 218.2 0 0 1 448.6 249.8ZM454.3 234.4A232.5 232.5 0 0 0 448.8 228.5L443.4 233.7A225.1 225.1 0 0 1 448.7 239.4ZM447.8 217.8A239.4 239.4 0 0 0 441.7 212.1L436.7 217.6A231.9 231.9 0 0 1 442.6 223.2ZM404.7 603.3A246.3 246.3 0 0 0 412 598.9L408.1 592.5A238.8 238.8 0 0 1 400.9 596.8ZM502.9 498A246.3 246.3 0 0 0 506.5 490.2L499.7 487.1A238.8 238.8 0 0 1 496.2 494.7ZM359.8 630.8A253.2 253.2 0 0 0 368.1 628L365.5 620.9A245.7 245.7 0 0 1 357.4 623.7ZM524.9 320.2A253.2 253.2 0 0 0 519.5 303.4L512.4 306A245.7 245.7 0 0 1 517.7 322.3Z"/><path fill="#5b9ade" stroke="#5b9ade" d="M322.3 424.3A53.3 53.3 0 0 0 325.7 419.8L319.5 415.6A45.8 45.8 0 0 1 316.6 419.4ZM324.8 431.8A60.2 60.2 0 0 0 326.2 430.3L320.7 425.3A52.7 52.7 0 0 1 319.4 426.6ZM373.6 263.2A156.7 156.7 0 0 0 369.1 260.1L364.9 266.3A149.2 149.2 0 0 1 369.2 269.3ZM303.3 234.8A156.7 156.7 0 0 0 297.9 234.2L297.1 241.6A149.2 149.2 0 0 1 302.3 242.2ZM292.4 233.7A156.7 156.7 0 0 0 287 233.4L286.7 240.9A149.2 149.2 0 0 1 291.9 241.2ZM444.7 401.4A163.6 163.6 0 0 0 445 395.7L437.5 395.4A156.1 156.1 0 0 1 437.2 400.9ZM363.3 248.3A163.6 163.6 0 0 0 358.3 245.5L354.8 252.2A156.1 156.1 0 0 1 359.6 254.8ZM326.6 232.7A163.6 163.6 0 0 0 321.1 231.3L319.3 238.5A156.1 156.1 0 0 1 324.5 239.9ZM304.3 228A163.6 163.6 0 0 0 298.6 227.3L297.8 234.7A156.1 156.1 0 0 1 303.2 235.4ZM450.3 413.7A170.5 170.5 0 0 0 451.1 407.8L443.6 407A163 163 0 0 1 442.9 412.7ZM356.2 236.8A170.5 170.5 0 0 0 350.8 234.2L347.8 241.1A163 163 0 0 1 353 243.5ZM287.5 219.6A170.5 170.5 0 0 0 281.5 219.5L281.5 227A163 163 0 0 1 287.2 227.1ZM330.4 219.5A177.4 177.4 0 0 0 324.4 217.9L322.6 225.2A169.9 169.9 0 0 1 328.3 226.7ZM384.6 237.2A184.3 184.3 0 0 0 379.2 233.7L375.2 240.1A176.8 176.8 0 0 1 380.4 243.4ZM314.7 201.7A191.2 191.2 0 0 0 308.1 200.7L307.1 208.1A183.7 183.7 0 0 1 313.4 209.1ZM329.4 197.8A198.1 198.1 0 0 0 322.7 196.3L321.1 203.6A190.6 190.6 0 0 1 327.6 205.1ZM317.1 188.1A205 205 0 0 0 310 187L309 194.4A197.5 197.5 0 0 1 315.8 195.5ZM296.8 171.8A218.8 218.8 0 0 0 289.1 171.4L288.9 178.9A211.3 211.3 0 0 1 296.2 179.3ZM305.8 158.7A232.5 232.5 0 0 0 297.7 158L297.2 165.5A225.1 225.1 0 0 1 305 166.2ZM441.6 185A260.1 260.1 0 0 0 427 174.3L422.8 180.6A252.6 252.6 0 0 1 437 190.9ZM327.9 653A267 267 0 0 0 337 651.2L335.5 643.9A259.5 259.5 0 0 1 326.6 645.6ZM406.9 625.8A267 267 0 0 0 415 621.2L411.3 614.8A259.5 259.5 0 0 1 403.3 619.1ZM338.5 657.9A273.9 273.9 0 0 0 347.8 655.8L346 648.5A266.4 266.4 0 0 1 336.9 650.6ZM392.9 640.2A273.9 273.9 0 0 0 401.6 636.2L398.3 629.5A266.4 266.4 0 0 1 389.9 633.4ZM339.9 664.7A280.8 280.8 0 0 0 349.4 662.5L347.6 655.2A273.3 273.3 0 0 1 338.3 657.3ZM395.7 646.5A280.8 280.8 0 0 0 404.6 642.4L401.3 635.7A273.3 273.3 0 0 1 392.7 639.7ZM559.6 350.9A280.8 280.8 0 0 0 558 341.2L550.7 342.5A273.3 273.3 0 0 1 552.2 352ZM341.3 671.4A287.7 287.7 0 0 0 351.1 669.2L349.3 661.9A280.2 280.2 0 0 1 339.8 664.1ZM398.5 652.8A287.7 287.7 0 0 0 407.6 648.6L404.3 641.9A280.2 280.2 0 0 1 395.5 646ZM566.4 350A287.7 287.7 0 0 0 564.8 340L557.5 341.3A280.2 280.2 0 0 1 559 351ZM342.8 678.2A294.6 294.6 0 0 0 352.8 675.8L351 668.6A287.1 287.1 0 0 1 341.2 670.8ZM401.3 659.1A294.6 294.6 0 0 0 410.6 654.8L407.4 648A287.1 287.1 0 0 1 398.3 652.3ZM573.2 349A294.6 294.6 0 0 0 571.6 338.8L564.2 340.1A287.1 287.1 0 0 1 565.8 350Z"/><path fill="#84c09d" stroke="#84c09d" d="M331.6 371.8A53.3 53.3 0 0 0 330.9 370L324 372.8A45.8 45.8 0 0 1 324.5 374.3ZM341.5 385.8A60.2 60.2 0 0 0 341.3 383.7L333.9 384.5A52.7 52.7 0 0 1 334.1 386.3ZM340.8 379.6A60.2 60.2 0 0 0 339.9 375.4L332.6 377.3A52.7 52.7 0 0 1 333.4 380.9ZM335.6 363.6A60.2 60.2 0 0 0 333.6 359.9L327.1 363.7A52.7 52.7 0 0 1 328.9 366.9ZM331.4 356.3A60.2 60.2 0 0 0 328.9 353L323 357.6A52.7 52.7 0 0 1 325.2 360.5ZM327.6 351.3A60.2 60.2 0 0 0 326.2 349.7L320.7 354.7A52.7 52.7 0 0 1 321.9 356.1ZM300 454.5A67.1 67.1 0 0 0 304.4 453L301.9 446A59.6 59.6 0 0 1 297.9 447.3ZM348.4 385.3A67.1 67.1 0 0 0 348.2 383L340.8 383.8A59.6 59.6 0 0 1 340.9 385.8ZM346.6 373.8A67.1 67.1 0 0 0 344.5 367.1L337.5 369.6A59.6 59.6 0 0 1 339.3 375.6ZM341.8 360.6A67.1 67.1 0 0 0 339.6 356.5L333.1 360.2A59.6 59.6 0 0 1 335 363.9ZM337.1 352.5A67.1 67.1 0 0 0 335.8 350.6L329.7 355A59.6 59.6 0 0 1 330.9 356.7ZM334.4 348.7A67.1 67.1 0 0 0 328.1 341.8L322.9 347.1A59.6 59.6 0 0 1 328.4 353.3ZM291.8 463.2A74 74 0 0 0 299.4 461.8L297.6 454.5A66.5 66.5 0 0 1 290.8 455.8ZM309.2 458.6A74 74 0 0 0 311.6 457.6L308.5 450.7A66.5 66.5 0 0 1 306.4 451.6ZM342.8 348.6A74 74 0 0 0 341.3 346.5L335.3 350.9A66.5 66.5 0 0 1 336.6 352.8ZM338.2 342.5A74 74 0 0 0 336.5 340.5L330.9 345.5A66.5 66.5 0 0 1 332.4 347.3ZM334.7 338.6A74 74 0 0 0 332.9 336.8L327.7 342.2A66.5 66.5 0 0 1 329.3 343.8ZM314.4 463.9A80.9 80.9 0 0 0 316.9 462.7L313.7 455.9A73.4 73.4 0 0 1 311.3 457ZM362.3 387.2A80.9 80.9 0 0 0 362.2 384.4L354.7 384.9A73.4 73.4 0 0 1 354.8 387.4ZM361.9 381.5A80.9 80.9 0 0 0 361.6 378.7L354.2 379.8A73.4 73.4 0 0 1 354.5 382.3ZM361.1 376A80.9 80.9 0 0 0 360.6 373.2L353.3 374.7A73.4 73.4 0 0 1 353.8 377.3ZM339.7 333.8A80.9 80.9 0 0 0 337.7 331.8L332.5 337.2A73.4 73.4 0 0 1 334.3 339ZM317.2 470.2A87.8 87.8 0 0 0 320 468.9L316.7 462.1A80.3 80.3 0 0 1 314.1 463.3ZM354.3 340.9A87.8 87.8 0 0 0 352.5 338.4L346.4 342.8A80.3 80.3 0 0 1 348 345.1ZM320 476.5A94.7 94.7 0 0 0 323 475.1L319.7 468.3A87.2 87.2 0 0 1 317 469.6ZM325.9 473.6A94.7 94.7 0 0 0 328.8 472L325.1 465.5A87.2 87.2 0 0 1 322.4 467ZM373.3 367.1A94.7 94.7 0 0 0 372.5 363.9L365.3 366A87.2 87.2 0 0 1 366.1 368.9ZM358.1 334.4A94.7 94.7 0 0 0 356.1 331.7L350.2 336.3A87.2 87.2 0 0 1 352 338.8ZM329.2 479.7A101.5 101.5 0 0 0 332.3 477.9L328.5 471.5A94.1 94.1 0 0 1 325.7 473ZM335.3 476.1A101.5 101.5 0 0 0 338.3 474.2L334.1 468A94.1 94.1 0 0 1 331.3 469.8ZM363.7 330.3A101.5 101.5 0 0 0 361.5 327.5L355.6 332.1A94.1 94.1 0 0 1 357.6 334.7ZM339.2 489.9A115.3 115.3 0 0 0 342.6 487.8L338.6 481.5A107.8 107.8 0 0 1 335.4 483.4ZM392.4 358.2A115.3 115.3 0 0 0 389.9 350.6L382.8 353.1A107.8 107.8 0 0 1 385.2 360.3ZM335.1 499.9A122.2 122.2 0 0 0 338.9 497.9L335.4 491.3A114.7 114.7 0 0 1 331.8 493.1ZM400.1 360.4A122.2 122.2 0 0 0 399 356.3L391.8 358.4A114.7 114.7 0 0 1 392.8 362.2ZM380.4 318.2A122.2 122.2 0 0 0 377.8 314.7L371.9 319.4A114.7 114.7 0 0 1 374.3 322.6ZM325.7 511.3A129.1 129.1 0 0 0 329.9 509.7L327.1 502.8A121.6 121.6 0 0 1 323.1 504.3ZM402.8 345.8A129.1 129.1 0 0 0 401.2 341.6L394.3 344.4A121.6 121.6 0 0 1 395.8 348.4ZM393.3 325.4A129.1 129.1 0 0 0 388.6 317.8L382.3 322A121.6 121.6 0 0 1 386.8 329.2ZM407.6 339A136 136 0 0 0 405.8 334.7L398.9 337.7A128.5 128.5 0 0 1 400.7 341.9ZM325.7 525.9A142.9 142.9 0 0 0 330.4 524.3L327.8 517.3A135.4 135.4 0 0 1 323.3 518.8ZM312.6 536.5A149.8 149.8 0 0 0 317.7 535.4L315.9 528.1A142.3 142.3 0 0 1 311.1 529.2ZM327.8 532.5A149.8 149.8 0 0 0 332.7 530.8L330.2 523.7A142.3 142.3 0 0 1 325.5 525.4ZM424 343.7A149.8 149.8 0 0 0 422.3 338.8L415.2 341.3A142.3 142.3 0 0 1 416.9 346ZM402.7 301.9A149.8 149.8 0 0 0 399.6 297.8L393.6 302.4A142.3 142.3 0 0 1 396.6 306.3ZM287 546.6A156.7 156.7 0 0 0 292.4 546.3L291.9 538.8A149.2 149.2 0 0 1 286.7 539.1ZM319.4 542.1A156.7 156.7 0 0 0 324.7 540.6L322.6 533.4A149.2 149.2 0 0 1 317.6 534.8ZM428.8 336.4A156.7 156.7 0 0 0 426.8 331.3L419.8 334.1A149.2 149.2 0 0 1 421.7 339ZM408.3 297.9A156.7 156.7 0 0 0 405 293.5L399.1 298.1A149.2 149.2 0 0 1 402.2 302.3ZM281.5 553.6A163.6 163.6 0 0 0 287.2 553.5L286.9 546A156.1 156.1 0 0 1 281.5 546.1ZM309.9 551.1A163.6 163.6 0 0 0 315.5 550L314 542.7A156.1 156.1 0 0 1 308.6 543.7ZM321.1 548.7A163.6 163.6 0 0 0 326.6 547.3L324.5 540.1A156.1 156.1 0 0 1 319.3 541.5ZM433.2 328.7A163.6 163.6 0 0 0 431 323.5L424.1 326.5A156.1 156.1 0 0 1 426.2 331.5ZM428.5 318.3A163.6 163.6 0 0 0 423.2 308.2L416.7 311.9A156.1 156.1 0 0 1 421.8 321.6ZM417.1 298.5A163.6 163.6 0 0 0 413.9 293.8L407.8 298.2A156.1 156.1 0 0 1 410.9 302.7ZM305.2 558.8A170.5 170.5 0 0 0 311.1 557.9L309.8 550.5A163 163 0 0 1 304.2 551.4ZM439.6 326.1A170.5 170.5 0 0 0 437.3 320.7L430.4 323.7A163 163 0 0 1 432.6 328.9ZM434.7 315.3A170.5 170.5 0 0 0 432 310L425.4 313.5A163 163 0 0 1 428 318.5ZM419.4 289.8A170.5 170.5 0 0 0 415.9 285L409.9 289.6A163 163 0 0 1 413.4 294.2ZM425 285.7A177.4 177.4 0 0 0 421.3 280.8L415.4 285.4A169.9 169.9 0 0 1 418.9 290.1ZM447.1 309.2A184.3 184.3 0 0 0 444.2 303.5L437.6 307A176.8 176.8 0 0 1 440.4 312.5ZM437.8 292.3A184.3 184.3 0 0 0 434.3 286.9L428.1 291.1A176.8 176.8 0 0 1 431.4 296.3ZM450.3 300.2A191.2 191.2 0 0 0 447.1 294.4L440.6 298.2A183.7 183.7 0 0 1 443.7 303.8ZM436.2 277.6A191.2 191.2 0 0 0 432.2 272.3L426.2 276.9A183.7 183.7 0 0 1 430.1 282ZM445.7 500.8A198.1 198.1 0 0 0 449.5 495L443.1 491A190.6 190.6 0 0 1 439.5 496.6ZM456.4 483A198.1 198.1 0 0 0 459.5 476.8L452.8 473.5A190.6 190.6 0 0 1 449.8 479.5ZM462.4 470.6A198.1 198.1 0 0 0 465.2 464.2L458.2 461.4A190.6 190.6 0 0 1 455.6 467.5ZM456.4 297A198.1 198.1 0 0 0 449.5 285L443.1 289A190.6 190.6 0 0 1 449.8 300.5ZM445.7 279.2A198.1 198.1 0 0 0 433.2 262.7L427.5 267.5A190.6 190.6 0 0 1 439.5 283.4ZM451.4 275.4A205 205 0 0 0 447.3 269.5L441.3 273.9A197.5 197.5 0 0 1 445.2 279.6ZM438.5 258.2A205 205 0 0 0 433.8 252.8L428.3 257.9A197.5 197.5 0 0 1 432.8 263.1ZM303.6 600.7A211.9 211.9 0 0 0 311 599.8L309.9 592.4A204.4 204.4 0 0 1 302.9 593.2ZM452.9 265.5A211.9 211.9 0 0 0 448.5 259.6L442.5 264.2A204.4 204.4 0 0 1 446.8 269.9ZM444.1 243.6A218.8 218.8 0 0 0 438.9 238L433.5 243.2A211.3 211.3 0 0 1 438.5 248.6ZM449.2 239A225.7 225.7 0 0 0 443.8 233.2L438.4 238.5A218.2 218.2 0 0 1 443.6 244ZM459.4 550.2A239.4 239.4 0 0 0 475.2 530.7L469.1 526.3A231.9 231.9 0 0 1 453.9 545.2ZM484.6 263.1A239.4 239.4 0 0 0 480 256.1L473.8 260.3A231.9 231.9 0 0 1 478.2 267.1ZM459.4 229.8A239.4 239.4 0 0 0 453.7 223.7L448.3 228.9A231.9 231.9 0 0 1 453.9 234.8ZM397.1 607.5A246.3 246.3 0 0 0 404.7 603.3L400.9 596.8A238.8 238.8 0 0 1 393.6 600.9ZM412 598.9A246.3 246.3 0 0 0 419.2 594.2L415.1 588A238.8 238.8 0 0 1 408.1 592.5ZM351.3 633.4A253.2 253.2 0 0 0 359.8 630.8L357.4 623.7A245.7 245.7 0 0 1 349.2 626.2Z"/><path fill="#84c096" stroke="#84c096" d="M330.9 370A53.3 53.3 0 0 0 329.4 366.6L322.7 369.9A45.8 45.8 0 0 1 324 372.8ZM339.9 375.4A60.2 60.2 0 0 0 339.3 373.4L332.1 375.5A52.7 52.7 0 0 1 332.6 377.3ZM338.7 371.4A60.2 60.2 0 0 0 337.3 367.5L330.3 370.3A52.7 52.7 0 0 1 331.6 373.7ZM328.9 353A60.2 60.2 0 0 0 327.6 351.3L321.9 356.1A52.7 52.7 0 0 1 323 357.6ZM344.5 367.1A67.1 67.1 0 0 0 341.8 360.6L335 363.9A59.6 59.6 0 0 1 337.5 369.6ZM281.5 464A74 74 0 0 0 291.8 463.2L290.8 455.8A66.5 66.5 0 0 1 281.5 456.5ZM306.8 459.5A74 74 0 0 0 309.2 458.6L306.4 451.6A66.5 66.5 0 0 1 304.2 452.5ZM339.8 344.5A74 74 0 0 0 338.2 342.5L332.4 347.3A66.5 66.5 0 0 1 333.9 349.1ZM336.5 340.5A74 74 0 0 0 334.7 338.6L329.3 343.8A66.5 66.5 0 0 1 330.9 345.5ZM303.8 467.7A80.9 80.9 0 0 0 309.2 466L306.6 458.9A73.4 73.4 0 0 1 301.7 460.5ZM362.2 384.4A80.9 80.9 0 0 0 361.9 381.5L354.5 382.3A73.4 73.4 0 0 1 354.7 384.9ZM361.6 378.7A80.9 80.9 0 0 0 361.1 376L353.8 377.3A73.4 73.4 0 0 1 354.2 379.8ZM360.6 373.2A80.9 80.9 0 0 0 360 370.4L352.7 372.3A73.4 73.4 0 0 1 353.3 374.7ZM343.4 338A80.9 80.9 0 0 0 339.7 333.8L334.3 339A73.4 73.4 0 0 1 337.7 342.8ZM314.4 471.4A87.8 87.8 0 0 0 317.2 470.2L314.1 463.3A80.3 80.3 0 0 1 311.6 464.4ZM366.7 368.8A87.8 87.8 0 0 0 365.9 365.8L358.7 367.9A80.3 80.3 0 0 1 359.4 370.6ZM350.7 336A87.8 87.8 0 0 0 346.7 331.3L341.1 336.3A80.3 80.3 0 0 1 344.7 340.6ZM374.7 373.6A94.7 94.7 0 0 0 374.1 370.3L366.8 371.9A87.2 87.2 0 0 1 367.3 374.9ZM372.5 363.9A94.7 94.7 0 0 0 371.5 360.8L364.4 363.1A87.2 87.2 0 0 1 365.3 366ZM360 337.1A94.7 94.7 0 0 0 358.1 334.4L352 338.8A87.2 87.2 0 0 1 353.8 341.3ZM378.1 358.6A101.5 101.5 0 0 0 376.9 355.3L369.9 357.8A94.1 94.1 0 0 1 370.9 360.9ZM365.7 333.2A101.5 101.5 0 0 0 363.7 330.3L357.6 334.7A94.1 94.1 0 0 1 359.5 337.4ZM386.7 363.8A108.4 108.4 0 0 0 385.7 360.1L378.5 362.2A100.9 100.9 0 0 1 379.4 365.6ZM379 342.5A108.4 108.4 0 0 0 375.4 335.8L368.9 339.5A100.9 100.9 0 0 1 372.2 345.7ZM335.6 491.8A115.3 115.3 0 0 0 339.2 489.9L335.4 483.4A107.8 107.8 0 0 1 332.1 485.2ZM389.9 350.6A115.3 115.3 0 0 0 388.4 346.8L381.5 349.6A107.8 107.8 0 0 1 382.8 353.1ZM327.3 503.3A122.2 122.2 0 0 0 331.2 501.7L328.2 494.8A114.7 114.7 0 0 1 324.5 496.4ZM399 356.3A122.2 122.2 0 0 0 397.7 352.2L390.6 354.5A114.7 114.7 0 0 1 391.8 358.4ZM382.8 321.6A122.2 122.2 0 0 0 380.4 318.2L374.3 322.6A114.7 114.7 0 0 1 376.6 325.8ZM338.1 506.1A129.1 129.1 0 0 0 342.1 504L338.6 497.4A121.6 121.6 0 0 1 334.8 499.3ZM388.6 317.8A129.1 129.1 0 0 0 386 314.1L379.9 318.5A121.6 121.6 0 0 1 382.3 322ZM323.5 519.4A136 136 0 0 0 328 517.8L325.5 510.8A128.5 128.5 0 0 1 321.2 512.2ZM332.5 516.1A136 136 0 0 0 336.8 514.3L333.8 507.4A128.5 128.5 0 0 1 329.6 509.2ZM405.8 334.7A136 136 0 0 0 403.8 330.4L397 333.7A128.5 128.5 0 0 1 398.9 337.7ZM388.7 306.3A136 136 0 0 0 385.7 302.6L380 307.4A128.5 128.5 0 0 1 382.8 310.9ZM316.1 528.7A142.9 142.9 0 0 0 325.7 525.9L323.3 518.8A135.4 135.4 0 0 1 314.3 521.4ZM302.3 538.4A149.8 149.8 0 0 0 312.6 536.5L311.1 529.2A142.3 142.3 0 0 1 301.3 530.9ZM322.8 534A149.8 149.8 0 0 0 327.8 532.5L325.5 525.4A142.3 142.3 0 0 1 320.7 526.8ZM422.3 338.8A149.8 149.8 0 0 0 420.4 333.9L413.5 336.7A142.3 142.3 0 0 1 415.2 341.3ZM416.1 324.3A149.8 149.8 0 0 0 411.2 315.1L404.7 318.8A142.3 142.3 0 0 1 409.4 327.6ZM405.7 306.2A149.8 149.8 0 0 0 402.7 301.9L396.6 306.3A142.3 142.3 0 0 1 399.5 310.4ZM314.1 543.3A156.7 156.7 0 0 0 319.4 542.1L317.6 534.8A149.2 149.2 0 0 1 312.5 535.9ZM426.8 331.3A156.7 156.7 0 0 0 424.7 326.3L417.8 329.3A149.2 149.2 0 0 1 419.8 334.1ZM417.2 311.6A156.7 156.7 0 0 0 408.3 297.9L402.2 302.3A149.2 149.2 0 0 1 410.7 315.4ZM287.2 553.5A163.6 163.6 0 0 0 309.9 551.1L308.6 543.7A156.1 156.1 0 0 1 286.9 546ZM315.5 550A163.6 163.6 0 0 0 321.1 548.7L319.3 541.5A156.1 156.1 0 0 1 314 542.7ZM431 323.5A163.6 163.6 0 0 0 428.5 318.3L421.8 321.6A156.1 156.1 0 0 1 424.1 326.5ZM281.5 560.5A170.5 170.5 0 0 0 305.2 558.8L304.2 551.4A163 163 0 0 1 281.5 553ZM437.3 320.7A170.5 170.5 0 0 0 434.7 315.3L428 318.5A163 163 0 0 1 430.4 323.7ZM432 310A170.5 170.5 0 0 0 429.2 304.8L422.7 308.5A163 163 0 0 1 425.4 313.5ZM422.8 294.7A170.5 170.5 0 0 0 419.4 289.8L413.4 294.2A163 163 0 0 1 416.6 298.9ZM428.6 290.8A177.4 177.4 0 0 0 425 285.7L418.9 290.1A169.9 169.9 0 0 1 422.3 295ZM444.2 303.5A184.3 184.3 0 0 0 441.1 297.9L434.6 301.6A176.8 176.8 0 0 1 437.6 307ZM440 283.1A191.2 191.2 0 0 0 436.2 277.6L430.1 282A183.7 183.7 0 0 1 433.8 287.3ZM441.7 506.4A198.1 198.1 0 0 0 445.7 500.8L439.5 496.6A190.6 190.6 0 0 1 435.7 502ZM453 489A198.1 198.1 0 0 0 456.4 483L449.8 479.5A190.6 190.6 0 0 1 446.5 485.3ZM459.5 476.8A198.1 198.1 0 0 0 462.4 470.6L455.6 467.5A190.6 190.6 0 0 1 452.8 473.5ZM449.5 285A198.1 198.1 0 0 0 445.7 279.2L439.5 283.4A190.6 190.6 0 0 1 443.1 289ZM371.4 574.2A205 205 0 0 0 377.7 571L374.2 564.4A197.5 197.5 0 0 1 368.1 567.5ZM465.7 300.1A205 205 0 0 0 459 287.5L452.5 291.3A197.5 197.5 0 0 1 459 303.4ZM443 263.8A205 205 0 0 0 438.5 258.2L432.8 263.1A197.5 197.5 0 0 1 437.1 268.4ZM311 599.8A211.9 211.9 0 0 0 318.3 598.6L317 591.3A204.4 204.4 0 0 1 309.9 592.4ZM493.2 397.4A211.9 211.9 0 0 0 493.2 382.6L485.7 382.9A204.4 204.4 0 0 1 485.7 397.1ZM457.1 271.5A211.9 211.9 0 0 0 452.9 265.5L446.8 269.9A204.4 204.4 0 0 1 450.9 275.7ZM443.8 253.8A211.9 211.9 0 0 0 438.9 248.2L433.4 253.3A204.4 204.4 0 0 1 438.1 258.6ZM453.9 255.3A218.8 218.8 0 0 0 449.1 249.4L443.3 254.2A211.3 211.3 0 0 1 448 259.9ZM464.1 257.4A225.7 225.7 0 0 0 459.3 251.1L453.4 255.7A218.2 218.2 0 0 1 458 261.8ZM459.6 240.5A232.5 232.5 0 0 0 454.3 234.4L448.7 239.4A225.1 225.1 0 0 1 453.9 245.3ZM475.2 530.7A239.4 239.4 0 0 0 480 523.9L473.8 519.7A231.9 231.9 0 0 1 469.1 526.3ZM488.9 270.3A239.4 239.4 0 0 0 484.6 263.1L478.2 267.1A231.9 231.9 0 0 1 482.4 274ZM464.9 236.1A239.4 239.4 0 0 0 459.4 229.8L453.9 234.8A231.9 231.9 0 0 1 459.2 240.9ZM480.8 245.2A246.3 246.3 0 0 0 475.6 238.3L469.7 243A238.8 238.8 0 0 1 474.7 249.6ZM534.1 407.7A253.2 253.2 0 0 0 534.6 398.8L527.1 398.6A245.7 245.7 0 0 1 526.6 407.1Z"/><path fill="#5995da" stroke="#5995da" d="M328.9 427A60.2 60.2 0 0 0 331.4 423.7L325.2 419.5A52.7 52.7 0 0 1 323 422.4ZM369.1 260.1A156.7 156.7 0 0 0 355.1 251.6L351.6 258.3A149.2 149.2 0 0 1 364.9 266.3ZM297.9 234.2A156.7 156.7 0 0 0 292.4 233.7L291.9 241.2A149.2 149.2 0 0 1 297.1 241.6ZM444.2 407.1A163.6 163.6 0 0 0 444.7 401.4L437.2 400.9A156.1 156.1 0 0 1 436.8 406.3ZM368.2 251.3A163.6 163.6 0 0 0 363.3 248.3L359.6 254.8A156.1 156.1 0 0 1 364.2 257.6ZM321.1 231.3A163.6 163.6 0 0 0 315.5 230L314 237.3A156.1 156.1 0 0 1 319.3 238.5ZM298.6 227.3A163.6 163.6 0 0 0 292.9 226.8L292.4 234.3A156.1 156.1 0 0 1 297.8 234.7ZM381.7 252.1A170.5 170.5 0 0 0 376.8 248.7L372.6 254.9A163 163 0 0 1 377.3 258.1ZM328.5 226.1A170.5 170.5 0 0 0 322.7 224.6L320.9 231.8A163 163 0 0 1 326.4 233.3ZM385.8 246.5A177.4 177.4 0 0 0 380.7 242.9L376.5 249.2A169.9 169.9 0 0 1 381.4 252.6ZM370.2 236.4A177.4 177.4 0 0 0 364.8 233.4L361.3 240A169.9 169.9 0 0 1 366.4 242.9ZM324.4 217.9A177.4 177.4 0 0 0 318.4 216.5L316.8 223.8A169.9 169.9 0 0 1 322.6 225.2ZM306.2 214.3A177.4 177.4 0 0 0 293.9 213L293.4 220.5A169.9 169.9 0 0 1 305.1 221.8ZM294.4 206.2A184.3 184.3 0 0 0 287.9 205.8L287.7 213.3A176.8 176.8 0 0 1 293.8 213.6ZM393.9 235.3A191.2 191.2 0 0 0 377.1 224.4L373.3 230.9A183.7 183.7 0 0 1 389.5 241.4ZM288.2 198.9A191.2 191.2 0 0 0 281.5 198.8L281.5 206.3A183.7 183.7 0 0 1 287.9 206.4ZM322.7 196.3A198.1 198.1 0 0 0 315.9 194.9L314.6 202.3A190.6 190.6 0 0 1 321.1 203.6ZM288.4 192A198.1 198.1 0 0 0 281.5 191.9L281.5 199.4A190.6 190.6 0 0 1 288.2 199.5ZM310 187A205 205 0 0 0 302.9 186.2L302.1 193.6A197.5 197.5 0 0 1 309 194.4ZM311 180.2A211.9 211.9 0 0 0 303.6 179.3L302.9 186.8A204.4 204.4 0 0 1 309.9 187.6ZM296.3 178.7A211.9 211.9 0 0 0 288.9 178.3L288.6 185.8A204.4 204.4 0 0 1 295.8 186.1ZM305.1 165.6A225.7 225.7 0 0 0 289.4 164.5L289.1 172A218.2 218.2 0 0 1 304.3 173ZM325.5 140.6A253.2 253.2 0 0 0 316.7 139.2L315.7 146.7A245.7 245.7 0 0 1 324.2 148ZM427 174.3A260.1 260.1 0 0 0 411.6 164.7L407.8 171.2A252.6 252.6 0 0 1 422.8 180.6ZM551.4 467.4A280.8 280.8 0 0 0 554 457.9L546.7 456.1A273.3 273.3 0 0 1 544.2 465.3ZM558.1 469.3A287.7 287.7 0 0 0 560.7 459.6L553.4 457.8A280.2 280.2 0 0 1 550.9 467.2ZM564.7 471.2A294.6 294.6 0 0 0 567.3 461.3L560.1 459.5A287.1 287.1 0 0 1 557.5 469.1Z"/><path fill="#84c090" stroke="#84c090" d="M339.3 373.4A60.2 60.2 0 0 0 338.7 371.4L331.6 373.7A52.7 52.7 0 0 1 332.1 375.5ZM333.6 359.9A60.2 60.2 0 0 0 331.4 356.3L325.2 360.5A52.7 52.7 0 0 1 327.1 363.7ZM281.5 457.1A67.1 67.1 0 0 0 286.2 456.9L285.7 449.4A59.6 59.6 0 0 1 281.5 449.6ZM348.2 383A67.1 67.1 0 0 0 347.1 376.1L339.8 377.6A59.6 59.6 0 0 1 340.8 383.8ZM339.6 356.5A67.1 67.1 0 0 0 337.1 352.5L330.9 356.7A59.6 59.6 0 0 1 333.1 360.2ZM304.4 460.3A74 74 0 0 0 306.8 459.5L304.2 452.5A66.5 66.5 0 0 1 302 453.2ZM344.2 350.8A74 74 0 0 0 342.8 348.6L336.6 352.8A66.5 66.5 0 0 1 337.9 354.8ZM350.1 347.1A80.9 80.9 0 0 0 348.5 344.8L342.3 349A73.4 73.4 0 0 1 343.7 351.1ZM345.2 340.2A80.9 80.9 0 0 0 343.4 338L337.7 342.8A73.4 73.4 0 0 1 339.3 344.8ZM311.5 472.5A87.8 87.8 0 0 0 314.4 471.4L311.6 464.4A80.3 80.3 0 0 1 309 465.4ZM365.9 365.8A87.8 87.8 0 0 0 365 362.9L357.8 365.2A80.3 80.3 0 0 1 358.7 367.9ZM374.1 370.3A94.7 94.7 0 0 0 373.3 367.1L366.1 368.9A87.2 87.2 0 0 1 366.8 371.9ZM380 365.4A101.5 101.5 0 0 0 378.1 358.6L370.9 360.9A94.1 94.1 0 0 1 372.8 367.2ZM376.9 355.3A101.5 101.5 0 0 0 374.3 348.7L367.4 351.7A94.1 94.1 0 0 1 369.9 357.8ZM385.7 360.1A108.4 108.4 0 0 0 384.6 356.5L377.5 358.8A100.9 100.9 0 0 1 378.5 362.2ZM373.5 332.5A108.4 108.4 0 0 0 371.4 329.4L365.2 333.6A100.9 100.9 0 0 1 367.1 336.5ZM332.1 493.7A115.3 115.3 0 0 0 335.6 491.8L332.1 485.2A107.8 107.8 0 0 1 328.8 486.9ZM388.4 346.8A115.3 115.3 0 0 0 381.4 332.3L374.9 336.1A107.8 107.8 0 0 1 381.5 349.6ZM323.3 504.9A122.2 122.2 0 0 0 327.3 503.3L324.5 496.4A114.7 114.7 0 0 1 320.7 497.8ZM331.2 501.7A122.2 122.2 0 0 0 335.1 499.9L331.8 493.1A114.7 114.7 0 0 1 328.2 494.8ZM397.7 352.2A122.2 122.2 0 0 0 396.4 348.2L389.3 350.8A114.7 114.7 0 0 1 390.6 354.5ZM321.4 512.8A129.1 129.1 0 0 0 325.7 511.3L323.1 504.3A121.6 121.6 0 0 1 319.1 505.7ZM334 508A129.1 129.1 0 0 0 338.1 506.1L334.8 499.3A121.6 121.6 0 0 1 331 501.1ZM397.6 333.4A129.1 129.1 0 0 0 393.3 325.4L386.8 329.2A121.6 121.6 0 0 1 390.8 336.7ZM314.4 522A136 136 0 0 0 323.5 519.4L321.2 512.2A128.5 128.5 0 0 1 312.6 514.7ZM328 517.8A136 136 0 0 0 332.5 516.1L329.6 509.2A128.5 128.5 0 0 1 325.5 510.8ZM311.2 529.8A142.9 142.9 0 0 0 316.1 528.7L314.3 521.4A135.4 135.4 0 0 1 309.7 522.5ZM410 327.3A142.9 142.9 0 0 0 405.3 318.5L398.8 322.3A135.4 135.4 0 0 1 403.2 330.6ZM402.7 314.3A142.9 142.9 0 0 0 400 310.1L393.8 314.3A135.4 135.4 0 0 1 396.3 318.2ZM281.5 539.8A149.8 149.8 0 0 0 286.7 539.7L286.5 532.2A142.3 142.3 0 0 1 281.5 532.3ZM420.4 333.9A149.8 149.8 0 0 0 416.1 324.3L409.4 327.6A142.3 142.3 0 0 1 413.5 336.7ZM408.5 310.6A149.8 149.8 0 0 0 405.7 306.2L399.5 310.4A142.3 142.3 0 0 1 402.2 314.6ZM424.7 326.3A156.7 156.7 0 0 0 417.2 311.6L410.7 315.4A149.2 149.2 0 0 1 417.8 329.3ZM423.2 308.2A163.6 163.6 0 0 0 417.1 298.5L410.9 302.7A156.1 156.1 0 0 1 416.7 311.9ZM318.3 598.6A211.9 211.9 0 0 0 325.5 597.2L324 589.9A204.4 204.4 0 0 1 317 591.3ZM448.5 259.6A211.9 211.9 0 0 0 443.8 253.8L438.1 258.6A204.4 204.4 0 0 1 442.5 264.2ZM468.6 263.8A225.7 225.7 0 0 0 464.1 257.4L458 261.8A218.2 218.2 0 0 1 462.4 268ZM464.7 246.8A232.5 232.5 0 0 0 459.6 240.5L453.9 245.3A225.1 225.1 0 0 1 458.8 251.4ZM453.7 556.3A239.4 239.4 0 0 0 459.4 550.2L453.9 545.2A231.9 231.9 0 0 1 448.3 551.1ZM475.2 249.3A239.4 239.4 0 0 0 464.9 236.1L459.2 240.9A231.9 231.9 0 0 1 469.1 253.7ZM509.9 482.3A246.3 246.3 0 0 0 513 474.3L505.9 471.7A238.8 238.8 0 0 1 503 479.5ZM515.8 466.1A246.3 246.3 0 0 0 518.3 457.9L511.1 455.8A238.8 238.8 0 0 1 508.7 463.8ZM499 274.4A246.3 246.3 0 0 0 480.8 245.2L474.7 249.6A238.8 238.8 0 0 1 492.4 277.9Z"/><path fill="#84c08a" stroke="#84c08a" d="M347.1 376.1A67.1 67.1 0 0 0 346.6 373.8L339.3 375.6A59.6 59.6 0 0 1 339.8 377.6ZM301.9 461.1A74 74 0 0 0 304.4 460.3L302 453.2A66.5 66.5 0 0 1 299.8 453.9ZM354.3 377.2A74 74 0 0 0 353.3 372.1L346 373.9A66.5 66.5 0 0 1 347 378.5ZM345.6 353A74 74 0 0 0 344.2 350.8L337.9 354.8A66.5 66.5 0 0 1 339.1 356.8ZM298.3 469.1A80.9 80.9 0 0 0 303.8 467.7L301.7 460.5A73.4 73.4 0 0 1 296.8 461.8ZM356.5 359.7A80.9 80.9 0 0 0 350.1 347.1L343.7 351.1A73.4 73.4 0 0 1 349.5 362.5ZM367.9 374.8A87.8 87.8 0 0 0 367.3 371.8L360 373.3A80.3 80.3 0 0 1 360.5 376.1ZM371.5 360.8A94.7 94.7 0 0 0 370.4 357.6L363.4 360.2A87.2 87.2 0 0 1 364.4 363.1ZM366.6 348.5A94.7 94.7 0 0 0 360 337.1L353.8 341.3A87.2 87.2 0 0 1 359.8 351.8ZM326 481.3A101.5 101.5 0 0 0 329.2 479.7L325.7 473A94.1 94.1 0 0 1 322.7 474.5ZM374.3 348.7A101.5 101.5 0 0 0 372.8 345.5L366 348.8A94.1 94.1 0 0 1 367.4 351.7ZM367.6 336.2A101.5 101.5 0 0 0 365.7 333.2L359.5 337.4A94.1 94.1 0 0 1 361.3 340.2ZM329 487.5A108.4 108.4 0 0 0 332.4 485.7L328.9 479.1A100.9 100.9 0 0 1 325.8 480.7ZM384.6 356.5A108.4 108.4 0 0 0 382 349.4L375.1 352.2A100.9 100.9 0 0 1 377.5 358.8ZM375.4 335.8A108.4 108.4 0 0 0 373.5 332.5L367.1 336.5A100.9 100.9 0 0 1 368.9 339.5ZM328.4 495.4A115.3 115.3 0 0 0 332.1 493.7L328.8 486.9A107.8 107.8 0 0 1 325.4 488.5ZM381.4 332.3A115.3 115.3 0 0 0 377.1 325.5L370.9 329.7A107.8 107.8 0 0 1 374.9 336.1ZM396.4 348.2A122.2 122.2 0 0 0 393.2 340.3L386.3 343.3A114.7 114.7 0 0 1 389.3 350.8ZM317.1 514.1A129.1 129.1 0 0 0 321.4 512.8L319.1 505.7A121.6 121.6 0 0 1 315 506.9ZM401.2 341.6A129.1 129.1 0 0 0 399.5 337.5L392.6 340.5A121.6 121.6 0 0 1 394.3 344.4ZM309.8 523A136 136 0 0 0 314.4 522L312.6 514.7A128.5 128.5 0 0 1 308.2 515.7ZM399.3 322A136 136 0 0 0 394.3 313.9L388.1 318.1A128.5 128.5 0 0 1 392.8 325.7ZM281.5 532.9A142.9 142.9 0 0 0 286.5 532.8L286.2 525.3A135.4 135.4 0 0 1 281.5 525.4ZM405.3 318.5A142.9 142.9 0 0 0 402.7 314.3L396.3 318.2A135.4 135.4 0 0 1 398.8 322.3ZM286.7 539.7A149.8 149.8 0 0 0 292 539.4L291.4 532A142.3 142.3 0 0 1 286.5 532.2ZM411.2 315.1A149.8 149.8 0 0 0 408.5 310.6L402.2 314.6A142.3 142.3 0 0 1 404.7 318.8ZM292.4 546.3A156.7 156.7 0 0 0 303.3 545.2L302.3 537.8A149.2 149.2 0 0 1 291.9 538.8ZM408.8 541.7A198.1 198.1 0 0 0 414 537.2L409 531.6A190.6 190.6 0 0 1 404 536ZM437.6 511.9A198.1 198.1 0 0 0 441.7 506.4L435.7 502A190.6 190.6 0 0 1 431.7 507.3ZM488.7 346A211.9 211.9 0 0 0 487.1 338.7L479.8 340.6A204.4 204.4 0 0 1 481.4 347.5ZM477.9 310.6A211.9 211.9 0 0 0 471.9 297.1L465.2 300.4A204.4 204.4 0 0 1 471 313.4ZM480.7 284.1A225.7 225.7 0 0 0 476.9 277.2L470.4 280.9A218.2 218.2 0 0 1 474.1 287.6ZM486.8 280.8A232.5 232.5 0 0 0 482.9 273.7L476.4 277.5A225.1 225.1 0 0 1 480.2 284.3ZM469.6 253.3A232.5 232.5 0 0 0 464.7 246.8L458.8 251.4A225.1 225.1 0 0 1 463.6 257.7ZM441.7 567.9A239.4 239.4 0 0 0 453.7 556.3L448.3 551.1A231.9 231.9 0 0 1 436.7 562.4ZM480 256.1A239.4 239.4 0 0 0 475.2 249.3L469.1 253.7A231.9 231.9 0 0 1 473.8 260.3ZM281.5 636.3A246.3 246.3 0 0 0 290.1 636.2L289.8 628.7A238.8 238.8 0 0 1 281.5 628.8ZM513 474.3A246.3 246.3 0 0 0 515.8 466.1L508.7 463.8A238.8 238.8 0 0 1 505.9 471.7ZM518.3 457.9A246.3 246.3 0 0 0 520.5 449.6L513.2 447.8A238.8 238.8 0 0 1 511.1 455.8ZM506.5 289.8A246.3 246.3 0 0 0 499 274.4L492.4 277.9A238.8 238.8 0 0 1 499.7 292.9ZM334.1 637.7A253.2 253.2 0 0 0 351.3 633.4L349.2 626.2A245.7 245.7 0 0 1 332.6 630.4ZM534.1 372.3A253.2 253.2 0 0 0 533.3 363.5L525.9 364.3A245.7 245.7 0 0 1 526.6 372.9ZM529.2 337.4A253.2 253.2 0 0 0 527.2 328.7L519.9 330.6A245.7 245.7 0 0 1 521.9 338.9Z"/><path fill="#84c07d" stroke="#84c07d" d="M353.3 372.1A74 74 0 0 0 352.6 369.6L345.4 371.7A66.5 66.5 0 0 1 346 373.9ZM348 357.6A74 74 0 0 0 346.8 355.3L340.2 358.8A66.5 66.5 0 0 1 341.2 360.9ZM281.5 470.9A80.9 80.9 0 0 0 284.3 470.8L284.1 463.3A73.4 73.4 0 0 1 281.5 463.4ZM292.8 470.1A80.9 80.9 0 0 0 295.5 469.6L294.2 462.3A73.4 73.4 0 0 1 291.7 462.7ZM360 370.4A80.9 80.9 0 0 0 359.2 367.7L352 369.8A73.4 73.4 0 0 1 352.7 372.3ZM348.5 344.8A80.9 80.9 0 0 0 346.9 342.5L340.9 346.9A73.4 73.4 0 0 1 342.3 349ZM365 362.9A87.8 87.8 0 0 0 362.9 357.1L355.9 359.9A80.3 80.3 0 0 1 357.8 365.2ZM357.5 346.1A87.8 87.8 0 0 0 355.9 343.5L349.6 347.5A80.3 80.3 0 0 1 351 349.9ZM307.6 481A94.7 94.7 0 0 0 310.7 480L308.4 472.9A87.2 87.2 0 0 1 305.5 473.8ZM313.9 478.9A94.7 94.7 0 0 0 317 477.8L314.1 470.8A87.2 87.2 0 0 1 311.3 471.9ZM369.3 354.5A94.7 94.7 0 0 0 366.6 348.5L359.8 351.8A87.2 87.2 0 0 1 362.3 357.4ZM372.8 345.5A101.5 101.5 0 0 0 369.4 339.2L363 343A94.1 94.1 0 0 1 366 348.8ZM320.9 498.4A115.3 115.3 0 0 0 324.7 496.9L321.9 490A107.8 107.8 0 0 1 318.4 491.3ZM319.3 506.2A122.2 122.2 0 0 0 323.3 504.9L320.7 497.8A114.7 114.7 0 0 1 317 499.1ZM391.4 336.4A122.2 122.2 0 0 0 385.2 325.2L378.8 329.2A114.7 114.7 0 0 1 384.6 339.7ZM291 525.7A136 136 0 0 0 305.1 524L303.8 516.6A128.5 128.5 0 0 1 290.5 518.2ZM419.1 532.5A198.1 198.1 0 0 0 424 527.6L418.6 522.4A190.6 190.6 0 0 1 413.9 527.1ZM428.7 522.5A198.1 198.1 0 0 0 437.6 511.9L431.7 507.3A190.6 190.6 0 0 1 423.1 517.5ZM377.7 571A205 205 0 0 0 384 567.5L380.2 561A197.5 197.5 0 0 1 374.2 564.4ZM478.5 446.5A205 205 0 0 0 480.4 439.6L473.1 437.8A197.5 197.5 0 0 1 471.3 444.4ZM332.8 595.6A211.9 211.9 0 0 0 347 591.5L344.7 584.4A204.4 204.4 0 0 1 330.9 588.3ZM493.2 382.6A211.9 211.9 0 0 0 492.8 375.2L485.4 375.7A204.4 204.4 0 0 1 485.7 382.9ZM485.2 331.6A211.9 211.9 0 0 0 480.6 317.5L473.5 320.1A204.4 204.4 0 0 1 478 333.7ZM281.5 608.8A218.8 218.8 0 0 0 289.1 608.6L288.9 601.1A211.3 211.3 0 0 1 281.5 601.3ZM484.3 308.1A218.8 218.8 0 0 0 481.3 301L474.5 304.1A211.3 211.3 0 0 1 477.4 310.9ZM458.5 261.4A218.8 218.8 0 0 0 453.9 255.3L448 259.9A211.3 211.3 0 0 1 452.4 265.8ZM476.9 277.2A225.7 225.7 0 0 0 468.6 263.8L462.4 268A218.2 218.2 0 0 1 470.4 280.9ZM478.7 266.8A232.5 232.5 0 0 0 474.3 260L468.1 264.2A225.1 225.1 0 0 1 472.4 270.7ZM500.2 292.6A239.4 239.4 0 0 0 492.9 277.6L486.3 281.1A231.9 231.9 0 0 1 493.4 295.7ZM513 305.7A246.3 246.3 0 0 0 509.9 297.7L503 300.5A238.8 238.8 0 0 1 505.9 308.3ZM325.5 639.4A253.2 253.2 0 0 0 334.1 637.7L332.6 630.4A245.7 245.7 0 0 1 324.2 632ZM534.7 390A253.2 253.2 0 0 0 534.6 381.2L527.1 381.4A245.7 245.7 0 0 1 527.2 390ZM532.3 354.8A253.2 253.2 0 0 0 530.9 346L523.5 347.3A245.7 245.7 0 0 1 524.8 355.8Z"/><path fill="#85c078" stroke="#85c078" d="M352.6 369.6A74 74 0 0 0 351.8 367.1L344.7 369.5A66.5 66.5 0 0 1 345.4 371.7ZM284.3 470.8A80.9 80.9 0 0 0 292.8 470.1L291.7 462.7A73.4 73.4 0 0 1 284.1 463.3ZM359.2 367.7A80.9 80.9 0 0 0 356.5 359.7L349.5 362.5A73.4 73.4 0 0 1 352 369.8ZM281.5 477.8A87.8 87.8 0 0 0 287.6 477.5L287.1 470.1A80.3 80.3 0 0 1 281.5 470.3ZM308.6 473.5A87.8 87.8 0 0 0 311.5 472.5L309 465.4A80.3 80.3 0 0 1 306.3 466.3ZM360.4 351.5A87.8 87.8 0 0 0 357.5 346.1L351 349.9A80.3 80.3 0 0 1 353.6 354.8ZM319.5 484.2A101.5 101.5 0 0 0 322.8 482.8L319.8 475.9A94.1 94.1 0 0 1 316.7 477.2ZM315 493.1A108.4 108.4 0 0 0 322.1 490.5L319.3 483.6A100.9 100.9 0 0 1 312.7 486ZM281.5 519.1A129.1 129.1 0 0 0 286 519L285.7 511.6A121.6 121.6 0 0 1 281.5 511.6ZM312.7 515.3A129.1 129.1 0 0 0 317.1 514.1L315 506.9A121.6 121.6 0 0 1 310.9 508ZM291.5 532.6A142.9 142.9 0 0 0 311.2 529.8L309.7 522.5A135.4 135.4 0 0 1 290.9 525.1ZM292 539.4A149.8 149.8 0 0 0 302.3 538.4L301.3 530.9A142.3 142.3 0 0 1 291.4 532ZM424 527.6A198.1 198.1 0 0 0 428.7 522.5L423.1 517.5A190.6 190.6 0 0 1 418.6 522.4ZM471.5 466.8A205 205 0 0 0 474.1 460.1L467.1 457.5A197.5 197.5 0 0 1 464.6 464ZM476.4 453.3A205 205 0 0 0 478.5 446.5L471.3 444.4A197.5 197.5 0 0 1 469.3 451ZM492.8 404.8A211.9 211.9 0 0 0 493.2 397.4L485.7 397.1A204.4 204.4 0 0 1 485.4 404.3ZM492.8 375.2A211.9 211.9 0 0 0 490.1 353.2L482.8 354.5A204.4 204.4 0 0 1 485.4 375.7ZM487.1 338.7A211.9 211.9 0 0 0 485.2 331.6L478 333.7A204.4 204.4 0 0 1 479.8 340.6ZM462.9 267.7A218.8 218.8 0 0 0 458.5 261.4L452.4 265.8A211.3 211.3 0 0 1 456.6 271.9ZM493.9 295.4A232.5 232.5 0 0 0 490.5 288.1L483.8 291.3A225.1 225.1 0 0 1 487.1 298.5ZM482.9 273.7A232.5 232.5 0 0 0 478.7 266.8L472.4 270.7A225.1 225.1 0 0 1 476.4 277.5ZM480 523.9A239.4 239.4 0 0 0 484.6 516.9L478.2 512.9A231.9 231.9 0 0 1 473.8 519.7ZM503.5 300.3A239.4 239.4 0 0 0 500.2 292.6L493.4 295.7A231.9 231.9 0 0 1 496.6 303.1ZM381.7 615A246.3 246.3 0 0 0 389.5 611.4L386.2 604.7A238.8 238.8 0 0 1 378.6 608.2ZM520.5 449.6A246.3 246.3 0 0 0 522.5 441.2L515.1 439.7A238.8 238.8 0 0 1 513.2 447.8ZM316.7 640.8A253.2 253.2 0 0 0 325.5 639.4L324.2 632A245.7 245.7 0 0 1 315.7 633.3ZM533.3 363.5A253.2 253.2 0 0 0 532.3 354.8L524.8 355.8A245.7 245.7 0 0 1 525.9 364.3Z"/><path fill="#84c083" stroke="#84c083" d="M351.8 367.1A74 74 0 0 0 348 357.6L341.2 360.9A66.5 66.5 0 0 1 344.7 369.5ZM346.8 355.3A74 74 0 0 0 345.6 353L339.1 356.8A66.5 66.5 0 0 1 340.2 358.8ZM295.5 469.6A80.9 80.9 0 0 0 298.3 469.1L296.8 461.8A73.4 73.4 0 0 1 294.2 462.3ZM346.9 342.5A80.9 80.9 0 0 0 345.2 340.2L339.3 344.8A73.4 73.4 0 0 1 340.9 346.9ZM299.7 475.8A87.8 87.8 0 0 0 305.7 474.4L303.6 467.2A80.3 80.3 0 0 1 298.2 468.5ZM367.3 371.8A87.8 87.8 0 0 0 366.7 368.8L359.4 370.6A80.3 80.3 0 0 1 360 373.3ZM362.9 357.1A87.8 87.8 0 0 0 360.4 351.5L353.6 354.8A80.3 80.3 0 0 1 355.9 359.9ZM355.9 343.5A87.8 87.8 0 0 0 354.3 340.9L348 345.1A80.3 80.3 0 0 1 349.6 347.5ZM310.7 480A94.7 94.7 0 0 0 313.9 478.9L311.3 471.9A87.2 87.2 0 0 1 308.4 472.9ZM317 477.8A94.7 94.7 0 0 0 320 476.5L317 469.6A87.2 87.2 0 0 1 314.1 470.8ZM370.4 357.6A94.7 94.7 0 0 0 369.3 354.5L362.3 357.4A87.2 87.2 0 0 1 363.4 360.2ZM322.8 482.8A101.5 101.5 0 0 0 326 481.3L322.7 474.5A94.1 94.1 0 0 1 319.8 475.9ZM369.4 339.2A101.5 101.5 0 0 0 367.6 336.2L361.3 340.2A94.1 94.1 0 0 1 363 343ZM322.1 490.5A108.4 108.4 0 0 0 329 487.5L325.8 480.7A100.9 100.9 0 0 1 319.3 483.6ZM382 349.4A108.4 108.4 0 0 0 379 342.5L372.2 345.7A100.9 100.9 0 0 1 375.1 352.2ZM324.7 496.9A115.3 115.3 0 0 0 328.4 495.4L325.4 488.5A107.8 107.8 0 0 1 321.9 490ZM393.2 340.3A122.2 122.2 0 0 0 391.4 336.4L384.6 339.7A114.7 114.7 0 0 1 386.3 343.3ZM385.2 325.2A122.2 122.2 0 0 0 382.8 321.6L376.6 325.8A114.7 114.7 0 0 1 378.8 329.2ZM399.5 337.5A129.1 129.1 0 0 0 397.6 333.4L390.8 336.7A121.6 121.6 0 0 1 392.6 340.5ZM305.1 524A136 136 0 0 0 309.8 523L308.2 515.7A128.5 128.5 0 0 1 303.8 516.6ZM403.8 330.4A136 136 0 0 0 399.3 322L392.8 325.7A128.5 128.5 0 0 1 397 333.7ZM286.5 532.8A142.9 142.9 0 0 0 291.5 532.6L290.9 525.1A135.4 135.4 0 0 1 286.2 525.3ZM414 336.5A142.9 142.9 0 0 0 410 327.3L403.2 330.6A135.4 135.4 0 0 1 407.1 339.3ZM303.3 545.2A156.7 156.7 0 0 0 314.1 543.3L312.5 535.9A149.2 149.2 0 0 1 302.3 537.8ZM414 537.2A198.1 198.1 0 0 0 419.1 532.5L413.9 527.1A190.6 190.6 0 0 1 409 531.6ZM474.1 460.1A205 205 0 0 0 476.4 453.3L469.3 451A197.5 197.5 0 0 1 467.1 457.5ZM325.5 597.2A211.9 211.9 0 0 0 332.8 595.6L330.9 588.3A204.4 204.4 0 0 1 324 589.9ZM490.1 353.2A211.9 211.9 0 0 0 488.7 346L481.4 347.5A204.4 204.4 0 0 1 482.8 354.5ZM480.6 317.5A211.9 211.9 0 0 0 477.9 310.6L471 313.4A204.4 204.4 0 0 1 473.5 320.1ZM471.9 297.1A211.9 211.9 0 0 0 457.1 271.5L450.9 275.7A204.4 204.4 0 0 1 465.2 300.4ZM481.3 301A218.8 218.8 0 0 0 478.1 294.1L471.4 297.4A211.3 211.3 0 0 1 474.5 304.1ZM470.9 280.6A218.8 218.8 0 0 0 462.9 267.7L456.6 271.9A211.3 211.3 0 0 1 464.5 284.4ZM484.3 291.1A225.7 225.7 0 0 0 480.7 284.1L474.1 287.6A218.2 218.2 0 0 1 477.6 294.4ZM490.5 288.1A232.5 232.5 0 0 0 486.8 280.8L480.2 284.3A225.1 225.1 0 0 1 483.8 291.3ZM474.3 260A232.5 232.5 0 0 0 469.6 253.3L463.6 257.7A225.1 225.1 0 0 1 468.1 264.2ZM435.4 573.4A239.4 239.4 0 0 0 441.7 567.9L436.7 562.4A231.9 231.9 0 0 1 430.6 567.7ZM492.9 277.6A239.4 239.4 0 0 0 488.9 270.3L482.4 274A231.9 231.9 0 0 1 486.3 281.1ZM290.1 636.2A246.3 246.3 0 0 0 298.7 635.7L298.2 628.3A238.8 238.8 0 0 1 289.8 628.7ZM389.5 611.4A246.3 246.3 0 0 0 397.1 607.5L393.6 600.9A238.8 238.8 0 0 1 386.2 604.7ZM509.9 297.7A246.3 246.3 0 0 0 506.5 289.8L499.7 292.9A238.8 238.8 0 0 1 503 300.5ZM534.6 398.8A253.2 253.2 0 0 0 534.7 390L527.2 390A245.7 245.7 0 0 1 527.1 398.6ZM534.6 381.2A253.2 253.2 0 0 0 534.1 372.3L526.6 372.9A245.7 245.7 0 0 1 527.1 381.4ZM530.9 346A253.2 253.2 0 0 0 529.2 337.4L521.9 338.9A245.7 245.7 0 0 1 523.5 347.3Z"/><path fill="#86c06d" stroke="#86c06d" d="M287.6 477.5A87.8 87.8 0 0 0 290.7 477.3L289.9 469.8A80.3 80.3 0 0 1 287.1 470.1ZM284.8 484.6A94.7 94.7 0 0 0 288.1 484.4L287.6 476.9A87.2 87.2 0 0 1 284.5 477.1ZM285 491.5A101.5 101.5 0 0 0 288.6 491.3L288.1 483.8A94.1 94.1 0 0 1 284.8 484ZM299.1 490A101.5 101.5 0 0 0 302.6 489.3L301.1 482A94.1 94.1 0 0 1 297.8 482.6ZM309.5 487.6A101.5 101.5 0 0 0 312.9 486.6L310.6 479.4A94.1 94.1 0 0 1 307.4 480.4ZM301.5 503.6A115.3 115.3 0 0 0 305.5 502.8L303.9 495.5A107.8 107.8 0 0 1 300.2 496.2ZM309.4 501.9A115.3 115.3 0 0 0 317.1 499.7L314.8 492.6A107.8 107.8 0 0 1 307.6 494.6ZM290 511.9A122.2 122.2 0 0 0 302.7 510.4L301.4 503A114.7 114.7 0 0 1 289.5 504.5ZM299.5 517.9A129.1 129.1 0 0 0 303.9 517.2L302.6 509.8A121.6 121.6 0 0 1 298.4 510.4ZM286.2 525.9A136 136 0 0 0 291 525.7L290.5 518.2A128.5 128.5 0 0 1 286 518.4ZM390.1 563.8A205 205 0 0 0 396.1 559.9L391.9 553.7A197.5 197.5 0 0 1 386.1 557.5ZM492.2 412.1A211.9 211.9 0 0 0 492.8 404.8L485.4 404.3A204.4 204.4 0 0 1 484.7 411.4ZM289.1 608.6A218.8 218.8 0 0 0 296.8 608.2L296.2 600.7A211.3 211.3 0 0 1 288.9 601.1ZM493.5 312.8A225.7 225.7 0 0 0 490.7 305.5L483.8 308.3A218.2 218.2 0 0 1 486.5 315.4ZM487.6 298.2A225.7 225.7 0 0 0 484.3 291.1L477.6 294.4A218.2 218.2 0 0 1 480.8 301.3ZM428.9 578.7A239.4 239.4 0 0 0 435.4 573.4L430.6 567.7A231.9 231.9 0 0 1 424.3 572.8ZM488.9 509.7A239.4 239.4 0 0 0 492.9 502.4L486.3 498.9A231.9 231.9 0 0 1 482.4 506ZM522.5 441.2A246.3 246.3 0 0 0 524.1 432.8L516.7 431.5A238.8 238.8 0 0 1 515.1 439.7Z"/><path fill="#86c068" stroke="#86c068" d="M290.7 477.3A87.8 87.8 0 0 0 293.7 476.9L292.7 469.5A80.3 80.3 0 0 1 289.9 469.8ZM294.7 483.7A94.7 94.7 0 0 0 301.2 482.6L299.6 475.3A87.2 87.2 0 0 1 293.6 476.3ZM304.4 481.8A94.7 94.7 0 0 0 307.6 481L305.5 473.8A87.2 87.2 0 0 1 302.6 474.6ZM295.6 490.6A101.5 101.5 0 0 0 299.1 490L297.8 482.6A94.1 94.1 0 0 1 294.6 483.1ZM307.7 495.2A108.4 108.4 0 0 0 311.4 494.2L309.3 487A100.9 100.9 0 0 1 305.9 487.9ZM297.6 504.2A115.3 115.3 0 0 0 301.5 503.6L300.2 496.2A107.8 107.8 0 0 1 296.5 496.8ZM305.5 502.8A115.3 115.3 0 0 0 309.4 501.9L307.6 494.6A107.8 107.8 0 0 1 303.9 495.5ZM281.5 512.2A122.2 122.2 0 0 0 290 511.9L289.5 504.5A114.7 114.7 0 0 1 281.5 504.7ZM290.5 518.8A129.1 129.1 0 0 0 299.5 517.9L298.4 510.4A121.6 121.6 0 0 1 290 511.3ZM468.7 473.4A205 205 0 0 0 471.5 466.8L464.6 464A197.5 197.5 0 0 1 461.9 470.3ZM491.3 419.5A211.9 211.9 0 0 0 492.2 412.1L484.7 411.4A204.4 204.4 0 0 1 483.9 418.4ZM491.8 329.7A218.8 218.8 0 0 0 489.6 322.4L482.4 324.7A211.3 211.3 0 0 1 484.6 331.8ZM415.4 588.5A239.4 239.4 0 0 0 428.9 578.7L424.3 572.8A231.9 231.9 0 0 1 411.2 582.3ZM496.7 495A239.4 239.4 0 0 0 500.2 487.4L493.4 484.3A231.9 231.9 0 0 1 490 491.7ZM509.2 316A239.4 239.4 0 0 0 506.5 308.1L499.5 310.7A231.9 231.9 0 0 1 502.1 318.3ZM520.5 330.4A246.3 246.3 0 0 0 518.3 322.1L511.1 324.2A238.8 238.8 0 0 1 513.2 332.2Z"/><path fill="#85c073" stroke="#85c073" d="M293.7 476.9A87.8 87.8 0 0 0 299.7 475.8L298.2 468.5A80.3 80.3 0 0 1 292.7 469.5ZM305.7 474.4A87.8 87.8 0 0 0 308.6 473.5L306.3 466.3A80.3 80.3 0 0 1 303.6 467.2ZM281.5 484.7A94.7 94.7 0 0 0 284.8 484.6L284.5 477.1A87.2 87.2 0 0 1 281.5 477.2ZM281.5 491.5A101.5 101.5 0 0 0 285 491.5L284.8 484A94.1 94.1 0 0 1 281.5 484.1ZM312.9 486.6A101.5 101.5 0 0 0 319.5 484.2L316.7 477.2A94.1 94.1 0 0 1 310.6 479.4ZM311.4 494.2A108.4 108.4 0 0 0 315 493.1L312.7 486A100.9 100.9 0 0 1 309.3 487ZM317.1 499.7A115.3 115.3 0 0 0 320.9 498.4L318.4 491.3A107.8 107.8 0 0 1 314.8 492.6ZM302.7 510.4A122.2 122.2 0 0 0 306.9 509.6L305.4 502.2A114.7 114.7 0 0 1 301.4 503ZM315.2 507.5A122.2 122.2 0 0 0 319.3 506.2L317 499.1A114.7 114.7 0 0 1 313.1 500.3ZM286 519A129.1 129.1 0 0 0 290.5 518.8L290 511.3A121.6 121.6 0 0 1 285.7 511.6ZM303.9 517.2A129.1 129.1 0 0 0 312.7 515.3L310.9 508A121.6 121.6 0 0 1 302.6 509.8ZM281.5 526A136 136 0 0 0 286.2 525.9L286 518.4A128.5 128.5 0 0 1 281.5 518.5ZM384 567.5A205 205 0 0 0 390.1 563.8L386.1 557.5A197.5 197.5 0 0 1 380.2 561ZM347 591.5A211.9 211.9 0 0 0 354 589.1L351.4 582A204.4 204.4 0 0 1 344.7 584.4ZM478.1 294.1A218.8 218.8 0 0 0 470.9 280.6L464.5 284.4A211.3 211.3 0 0 1 471.4 297.4ZM497.1 302.9A232.5 232.5 0 0 0 493.9 295.4L487.1 298.5A225.1 225.1 0 0 1 490.2 305.7ZM484.6 516.9A239.4 239.4 0 0 0 488.9 509.7L482.4 506A231.9 231.9 0 0 1 478.2 512.9ZM506.5 308.1A239.4 239.4 0 0 0 503.5 300.3L496.6 303.1A231.9 231.9 0 0 1 499.5 310.7ZM518.3 322.1A246.3 246.3 0 0 0 513 305.7L505.9 308.3A238.8 238.8 0 0 1 511.1 324.2Z"/><path fill="#87c063" stroke="#87c063" d="M288.1 484.4A94.7 94.7 0 0 0 294.7 483.7L293.6 476.3A87.2 87.2 0 0 1 287.6 476.9ZM301.2 482.6A94.7 94.7 0 0 0 304.4 481.8L302.6 474.6A87.2 87.2 0 0 1 299.6 475.3ZM288.6 491.3A101.5 101.5 0 0 0 292.1 491L291.3 483.5A94.1 94.1 0 0 1 288.1 483.8ZM306.1 488.5A101.5 101.5 0 0 0 309.5 487.6L307.4 480.4A94.1 94.1 0 0 1 304.3 481.3ZM304 496.1A108.4 108.4 0 0 0 307.7 495.2L305.9 487.9A100.9 100.9 0 0 1 302.5 488.7ZM289.5 505.1A115.3 115.3 0 0 0 297.6 504.2L296.5 496.8A107.8 107.8 0 0 1 289 497.6ZM311.1 508.6A122.2 122.2 0 0 0 315.2 507.5L313.1 500.3A114.7 114.7 0 0 1 309.3 501.3ZM396.1 559.9A205 205 0 0 0 402 555.8L397.6 549.8A197.5 197.5 0 0 1 391.9 553.7ZM462.5 486.2A205 205 0 0 0 465.7 479.9L459 476.6A197.5 197.5 0 0 1 455.9 482.7ZM354 589.1A211.9 211.9 0 0 0 360.9 586.4L358.1 579.5A204.4 204.4 0 0 1 351.4 582ZM488.7 434A211.9 211.9 0 0 0 490.1 426.8L482.8 425.5A204.4 204.4 0 0 1 481.4 432.5ZM487.1 315.2A218.8 218.8 0 0 0 484.3 308.1L477.4 310.9A211.3 211.3 0 0 1 480 317.7ZM496.1 320.3A225.7 225.7 0 0 0 493.5 312.8L486.5 315.4A218.2 218.2 0 0 1 489 322.6ZM490.7 305.5A225.7 225.7 0 0 0 487.6 298.2L480.8 301.3A218.2 218.2 0 0 1 483.8 308.3ZM500 310.5A232.5 232.5 0 0 0 497.1 302.9L490.2 305.7A225.1 225.1 0 0 1 493 313ZM492.9 502.4A239.4 239.4 0 0 0 496.7 495L490 491.7A231.9 231.9 0 0 1 486.3 498.9ZM500.2 487.4A239.4 239.4 0 0 0 503.5 479.7L496.6 476.9A231.9 231.9 0 0 1 493.4 484.3ZM373.8 618.4A246.3 246.3 0 0 0 381.7 615L378.6 608.2A238.8 238.8 0 0 1 371 611.5Z"/><path fill="#87c05d" stroke="#87c05d" d="M292.1 491A101.5 101.5 0 0 0 295.6 490.6L294.6 483.1A94.1 94.1 0 0 1 291.3 483.5ZM302.6 489.3A101.5 101.5 0 0 0 306.1 488.5L304.3 481.3A94.1 94.1 0 0 1 301.1 482ZM281.5 505.3A115.3 115.3 0 0 0 285.5 505.3L285.3 497.8A107.8 107.8 0 0 1 281.5 497.8ZM306.9 509.6A122.2 122.2 0 0 0 311.1 508.6L309.3 501.3A114.7 114.7 0 0 1 305.4 502.2ZM459 492.5A205 205 0 0 0 462.5 486.2L455.9 482.7A197.5 197.5 0 0 1 452.5 488.7ZM465.7 479.9A205 205 0 0 0 468.7 473.4L461.9 470.3A197.5 197.5 0 0 1 459 476.6ZM487.1 441.3A211.9 211.9 0 0 0 488.7 434L481.4 432.5A204.4 204.4 0 0 1 479.8 439.4ZM490.1 426.8A211.9 211.9 0 0 0 491.3 419.5L483.9 418.4A204.4 204.4 0 0 1 482.8 425.5ZM493.8 337.1A218.8 218.8 0 0 0 491.8 329.7L484.6 331.8A211.3 211.3 0 0 1 486.5 338.9ZM489.6 322.4A218.8 218.8 0 0 0 487.1 315.2L480 317.7A211.3 211.3 0 0 1 482.4 324.7ZM505 325.9A232.5 232.5 0 0 0 500 310.5L493 313A225.1 225.1 0 0 1 497.8 328ZM408.4 593.1A239.4 239.4 0 0 0 415.4 588.5L411.2 582.3A231.9 231.9 0 0 1 404.4 586.7ZM511.7 324A239.4 239.4 0 0 0 509.2 316L502.1 318.3A231.9 231.9 0 0 1 504.5 326.1ZM365.8 621.5A246.3 246.3 0 0 0 373.8 618.4L371 611.5A238.8 238.8 0 0 1 363.2 614.4ZM524.1 432.8A246.3 246.3 0 0 0 525.4 424.3L518 423.2A238.8 238.8 0 0 1 516.7 431.5Z"/><path fill="#88c058" stroke="#88c058" d="M281.5 498.4A108.4 108.4 0 0 0 285.3 498.4L285 490.9A100.9 100.9 0 0 1 281.5 490.9ZM296.6 497.4A108.4 108.4 0 0 0 304 496.1L302.5 488.7A100.9 100.9 0 0 1 295.5 490ZM285.5 505.3A115.3 115.3 0 0 0 289.5 505.1L289 497.6A107.8 107.8 0 0 1 285.3 497.8ZM360.9 586.4A211.9 211.9 0 0 0 367.7 583.5L364.6 576.7A204.4 204.4 0 0 1 358.1 579.5ZM296.8 608.2A218.8 218.8 0 0 0 304.4 607.6L303.6 600.1A211.3 211.3 0 0 1 296.2 600.7ZM281.5 622.5A232.5 232.5 0 0 0 289.6 622.4L289.4 614.9A225.1 225.1 0 0 1 281.5 615.1ZM525.4 424.3A246.3 246.3 0 0 0 526.5 415.7L519 415A238.8 238.8 0 0 1 518 423.2Z"/><path fill="#88c057" stroke="#88c057" d="M285.3 498.4A108.4 108.4 0 0 0 296.6 497.4L295.5 490A100.9 100.9 0 0 1 285 490.9ZM402 555.8A205 205 0 0 0 413.3 547L408.4 541.3A197.5 197.5 0 0 1 397.6 549.8ZM483 455.5A211.9 211.9 0 0 0 487.1 441.3L479.8 439.4A204.4 204.4 0 0 1 475.9 453.2ZM304.4 607.6A218.8 218.8 0 0 0 319.5 605.4L318.2 598.1A211.3 211.3 0 0 1 303.6 600.1ZM495.5 344.5A218.8 218.8 0 0 0 493.8 337.1L486.5 338.9A211.3 211.3 0 0 1 488.1 346.1ZM281.5 615.7A225.7 225.7 0 0 0 289.4 615.5L289.1 608A218.2 218.2 0 0 1 281.5 608.2ZM289.6 622.4A232.5 232.5 0 0 0 297.7 622L297.2 614.5A225.1 225.1 0 0 1 289.4 614.9ZM454.3 545.6A232.5 232.5 0 0 0 469.6 526.7L463.6 522.3A225.1 225.1 0 0 1 448.7 540.6ZM507.1 333.7A232.5 232.5 0 0 0 505 325.9L497.8 328A225.1 225.1 0 0 1 499.9 335.6ZM281.5 629.4A239.4 239.4 0 0 0 289.9 629.3L289.6 621.8A231.9 231.9 0 0 1 281.5 621.9ZM503.5 479.7A239.4 239.4 0 0 0 511.7 456L504.5 453.9A231.9 231.9 0 0 1 496.6 476.9ZM513.8 332.1A239.4 239.4 0 0 0 511.7 324L504.5 326.1A231.9 231.9 0 0 1 506.6 333.9ZM332.7 631A246.3 246.3 0 0 0 365.8 621.5L363.2 614.4A238.8 238.8 0 0 1 331.2 623.6ZM526.5 415.7A246.3 246.3 0 0 0 527.7 398.6L520.2 398.3A238.8 238.8 0 0 1 519 415ZM525.4 355.7A246.3 246.3 0 0 0 524.1 347.2L516.7 348.5A238.8 238.8 0 0 1 518 356.8ZM522.5 338.8A246.3 246.3 0 0 0 520.5 330.4L513.2 332.2A238.8 238.8 0 0 1 515.1 340.3Z"/><path fill="#548bd1" stroke="#548bd1" d="M377.7 257.6A163.6 163.6 0 0 0 373 254.4L368.8 260.6A156.1 156.1 0 0 1 373.3 263.7ZM376.8 248.7A170.5 170.5 0 0 0 371.8 245.4L367.9 251.8A163 163 0 0 1 372.6 254.9ZM361.5 239.5A170.5 170.5 0 0 0 356.2 236.8L353 243.5A163 163 0 0 1 358 246.1ZM305.2 221.2A170.5 170.5 0 0 0 293.4 219.9L292.9 227.4A163 163 0 0 1 304.2 228.6ZM380.7 242.9A177.4 177.4 0 0 0 375.5 239.6L371.5 245.9A169.9 169.9 0 0 1 376.5 249.2ZM318.4 216.5A177.4 177.4 0 0 0 306.2 214.3L305.1 221.8A169.9 169.9 0 0 1 316.8 223.8ZM338.4 214.7A184.3 184.3 0 0 0 313.5 208.5L312.2 215.9A176.8 176.8 0 0 1 336.1 221.9ZM346.9 210.4A191.2 191.2 0 0 0 340.6 208.2L338.3 215.3A183.7 183.7 0 0 1 344.3 217.4ZM308.1 200.7A191.2 191.2 0 0 0 294.8 199.3L294.3 206.8A183.7 183.7 0 0 1 307.1 208.1ZM315.9 194.9A198.1 198.1 0 0 0 309.1 193.9L308 201.3A190.6 190.6 0 0 1 314.6 202.3ZM303.6 179.3A211.9 211.9 0 0 0 296.3 178.7L295.8 186.1A204.4 204.4 0 0 1 302.9 186.8ZM311.9 173.4A218.8 218.8 0 0 0 304.4 172.4L303.6 179.9A211.3 211.3 0 0 1 310.9 180.8ZM411.6 164.7A260.1 260.1 0 0 0 403.6 160.3L400.1 166.9A252.6 252.6 0 0 1 407.8 171.2ZM512.7 523.5A267 267 0 0 0 517.3 515.4L510.6 511.8A259.5 259.5 0 0 1 506.3 519.8ZM548.6 476.8A280.8 280.8 0 0 0 551.4 467.4L544.2 465.3A273.3 273.3 0 0 1 541.4 474.5ZM555.1 478.9A287.7 287.7 0 0 0 558.1 469.3L550.9 467.2A280.2 280.2 0 0 1 548 476.6ZM561.7 481A294.6 294.6 0 0 0 564.7 471.2L557.5 469.1A287.1 287.1 0 0 1 554.6 478.7Z"/><path fill="#5080c8" stroke="#5080c8" d="M373 254.4A163.6 163.6 0 0 0 368.2 251.3L364.2 257.6A156.1 156.1 0 0 1 368.8 260.6ZM366.7 242.3A170.5 170.5 0 0 0 361.5 239.5L358 246.1A163 163 0 0 1 363 248.8ZM307.1 207.5A184.3 184.3 0 0 0 294.4 206.2L293.8 213.6A176.8 176.8 0 0 1 306.1 214.9ZM304.4 172.4A218.8 218.8 0 0 0 296.8 171.8L296.2 179.3A211.3 211.3 0 0 1 303.6 179.9ZM316.7 139.2A253.2 253.2 0 0 0 308 138.2L307.2 145.6A245.7 245.7 0 0 1 315.7 146.7ZM403.6 160.3A260.1 260.1 0 0 0 395.5 156.2L392.2 162.9A252.6 252.6 0 0 1 400.1 166.9ZM318.7 654.4A267 267 0 0 0 327.9 653L326.6 645.6A259.5 259.5 0 0 1 317.6 647ZM512.7 256.5A267 267 0 0 0 507.9 248.5L501.6 252.5A259.5 259.5 0 0 1 506.3 260.2ZM401.6 636.2A273.9 273.9 0 0 0 410.1 631.9L406.6 625.2A266.4 266.4 0 0 1 398.3 629.5ZM549.4 333A273.9 273.9 0 0 0 547.3 323.7L540 325.5A266.4 266.4 0 0 1 542.1 334.6ZM404.6 642.4A280.8 280.8 0 0 0 413.3 637.9L409.8 631.3A273.3 273.3 0 0 1 401.3 635.7ZM407.6 648.6A287.7 287.7 0 0 0 416.6 644L413.1 637.4A280.2 280.2 0 0 1 404.3 641.9ZM410.6 654.8A294.6 294.6 0 0 0 419.8 650.1L416.3 643.5A287.1 287.1 0 0 1 407.4 648Z"/><path fill="#5790d5" stroke="#5790d5" d="M358.3 245.5A163.6 163.6 0 0 0 353.2 243L349.9 249.7A156.1 156.1 0 0 1 354.8 252.2ZM451.1 407.8A170.5 170.5 0 0 0 451.9 396L444.4 395.7A163 163 0 0 1 443.6 407ZM322.7 224.6A170.5 170.5 0 0 0 316.9 223.2L315.4 230.6A163 163 0 0 1 320.9 231.8ZM293.4 219.9A170.5 170.5 0 0 0 287.5 219.6L287.2 227.1A163 163 0 0 1 292.9 227.4ZM375.5 239.6A177.4 177.4 0 0 0 370.2 236.4L366.4 242.9A169.9 169.9 0 0 1 371.5 245.9ZM344.5 216.8A184.3 184.3 0 0 0 338.4 214.7L336.1 221.9A176.8 176.8 0 0 1 342 223.9ZM353.1 212.7A191.2 191.2 0 0 0 346.9 210.4L344.3 217.4A183.7 183.7 0 0 1 350.3 219.7ZM349.2 203.9A198.1 198.1 0 0 0 329.4 197.8L327.6 205.1A190.6 190.6 0 0 1 346.7 210.9ZM309.1 193.9A198.1 198.1 0 0 0 295.3 192.4L294.8 199.9A190.6 190.6 0 0 1 308 201.3ZM302.9 186.2A205 205 0 0 0 288.7 185.2L288.4 192.6A197.5 197.5 0 0 1 302.1 193.6ZM517.3 264.6A267 267 0 0 0 512.7 256.5L506.3 260.2A259.5 259.5 0 0 1 510.6 268.2ZM535.5 492.6A273.9 273.9 0 0 0 538.9 483.7L531.9 481.1A266.4 266.4 0 0 1 528.5 489.8ZM551.3 342.4A273.9 273.9 0 0 0 549.4 333L542.1 334.6A266.4 266.4 0 0 1 543.9 343.7Z"/><path fill="#4f7ec6" stroke="#4f7ec6" d="M371.8 245.4A170.5 170.5 0 0 0 366.7 242.3L363 248.8A163 163 0 0 1 367.9 251.8ZM395.5 156.2A260.1 260.1 0 0 0 387.3 152.4L384.3 159.2A252.6 252.6 0 0 1 392.2 162.9ZM545.4 486A280.8 280.8 0 0 0 548.6 476.8L541.4 474.5A273.3 273.3 0 0 1 538.3 483.5ZM558 341.2A280.8 280.8 0 0 0 556.2 331.6L548.8 333.2A273.3 273.3 0 0 1 550.7 342.5ZM551.9 488.4A287.7 287.7 0 0 0 555.1 478.9L548 476.6A280.2 280.2 0 0 1 544.8 485.8ZM564.8 340A287.7 287.7 0 0 0 562.9 330.2L555.6 331.7A280.2 280.2 0 0 1 557.5 341.3ZM558.3 490.8A294.6 294.6 0 0 0 561.7 481L554.6 478.7A287.1 287.1 0 0 1 551.3 488.2ZM571.6 338.8A294.6 294.6 0 0 0 569.7 328.7L562.3 330.3A287.1 287.1 0 0 1 564.2 340.1Z"/><path fill="#5285cc" stroke="#5285cc" d="M313.5 208.5A184.3 184.3 0 0 0 307.1 207.5L306.1 214.9A176.8 176.8 0 0 1 312.2 215.9ZM340.6 208.2A191.2 191.2 0 0 0 334.2 206.2L332.1 213.4A183.7 183.7 0 0 1 338.3 215.3ZM294.8 199.3A191.2 191.2 0 0 0 288.2 198.9L287.9 206.4A183.7 183.7 0 0 1 294.3 206.8ZM295.3 192.4A198.1 198.1 0 0 0 288.4 192L288.2 199.5A190.6 190.6 0 0 1 294.8 199.9ZM415 621.2A267 267 0 0 0 423 616.4L419 610.1A259.5 259.5 0 0 1 411.3 614.8ZM531.7 501.4A273.9 273.9 0 0 0 535.5 492.6L528.5 489.8A266.4 266.4 0 0 1 524.9 498.4Z"/><path fill="#88c056" stroke="#88c056" d="M413.3 547A205 205 0 0 0 418.7 542.3L413.6 536.8A197.5 197.5 0 0 1 408.4 541.3ZM423.9 537.4A205 205 0 0 0 428.9 532.4L423.6 527.2A197.5 197.5 0 0 1 418.7 532.1ZM433.8 527.2A205 205 0 0 0 451.4 504.6L445.2 500.4A197.5 197.5 0 0 1 428.3 522.1ZM367.7 583.5A211.9 211.9 0 0 0 374.4 580.4L371.1 573.7A204.4 204.4 0 0 1 364.6 576.7ZM319.5 605.4A218.8 218.8 0 0 0 327 604L325.4 596.6A211.3 211.3 0 0 1 318.2 598.1ZM500.1 382.4A218.8 218.8 0 0 0 499.7 374.7L492.2 375.3A211.3 211.3 0 0 1 492.6 382.6ZM496.9 352A218.8 218.8 0 0 0 495.5 344.5L488.1 346.1A211.3 211.3 0 0 1 489.6 353.3ZM502.2 343.1A225.7 225.7 0 0 0 500.4 335.4L493.2 337.2A218.2 218.2 0 0 1 494.9 344.6ZM498.4 327.8A225.7 225.7 0 0 0 496.1 320.3L489 322.6A218.2 218.2 0 0 1 491.2 329.9ZM448.8 551.5A232.5 232.5 0 0 0 454.3 545.6L448.7 540.6A225.1 225.1 0 0 1 443.4 546.3ZM469.6 526.7A232.5 232.5 0 0 0 474.3 520L468.1 515.8A225.1 225.1 0 0 1 463.6 522.3ZM509 341.7A232.5 232.5 0 0 0 507.1 333.7L499.9 335.6A225.1 225.1 0 0 1 501.6 343.2ZM401.2 597.4A239.4 239.4 0 0 0 408.4 593.1L404.4 586.7A231.9 231.9 0 0 1 397.5 590.9ZM511.7 456A239.4 239.4 0 0 0 513.8 447.9L506.6 446.1A231.9 231.9 0 0 1 504.5 453.9ZM324.3 632.6A246.3 246.3 0 0 0 332.7 631L331.2 623.6A238.8 238.8 0 0 1 323 625.2ZM526.5 364.3A246.3 246.3 0 0 0 525.4 355.7L518 356.8A238.8 238.8 0 0 1 519 365ZM524.1 347.2A246.3 246.3 0 0 0 522.5 338.8L515.1 340.3A238.8 238.8 0 0 1 516.7 348.5Z"/><path fill="#88c055" stroke="#88c055" d="M418.7 542.3A205 205 0 0 0 423.9 537.4L418.7 532.1A197.5 197.5 0 0 1 413.6 536.8ZM428.9 532.4A205 205 0 0 0 433.8 527.2L428.3 522.1A197.5 197.5 0 0 1 423.6 527.2ZM451.4 504.6A205 205 0 0 0 459 492.5L452.5 488.7A197.5 197.5 0 0 1 445.2 500.4ZM374.4 580.4A211.9 211.9 0 0 0 381 577.1L377.4 570.4A204.4 204.4 0 0 1 371.1 573.7ZM406 561.4A211.9 211.9 0 0 0 417.7 552.3L412.9 546.6A204.4 204.4 0 0 1 401.6 555.3ZM471.9 482.9A211.9 211.9 0 0 0 477.9 469.4L471 466.6A204.4 204.4 0 0 1 465.2 479.6ZM480.6 462.5A211.9 211.9 0 0 0 483 455.5L475.9 453.2A204.4 204.4 0 0 1 473.5 459.9ZM327 604A218.8 218.8 0 0 0 334.4 602.3L332.6 595A211.3 211.3 0 0 1 325.4 596.6ZM493.8 442.9A218.8 218.8 0 0 0 496.9 428L489.6 426.7A211.3 211.3 0 0 1 486.5 441.1ZM499.7 405.3A218.8 218.8 0 0 0 500.1 382.4L492.6 382.6A211.3 211.3 0 0 1 492.2 404.7ZM499.7 374.7A218.8 218.8 0 0 0 496.9 352L489.6 353.3A211.3 211.3 0 0 1 492.2 375.3ZM289.4 615.5A225.7 225.7 0 0 0 297.2 615.1L296.7 607.6A218.2 218.2 0 0 1 289.1 608ZM503.7 350.8A225.7 225.7 0 0 0 502.2 343.1L494.9 344.6A218.2 218.2 0 0 1 496.3 352.1ZM500.4 335.4A225.7 225.7 0 0 0 498.4 327.8L491.2 329.9A218.2 218.2 0 0 1 493.2 337.2ZM313.9 620.3A232.5 232.5 0 0 0 329.8 617.5L328.3 610.1A225.1 225.1 0 0 1 312.8 612.9ZM345.6 613.5A232.5 232.5 0 0 0 361 608.5L358.5 601.5A225.1 225.1 0 0 1 343.5 606.3ZM443 557.3A232.5 232.5 0 0 0 448.8 551.5L443.4 546.3A225.1 225.1 0 0 1 437.8 551.9ZM482.9 506.3A232.5 232.5 0 0 0 497.1 477.1L490.2 474.3A225.1 225.1 0 0 1 476.4 502.5ZM510.5 430.4A232.5 232.5 0 0 0 512.8 414.3L505.3 413.5A225.1 225.1 0 0 1 503.1 429.1ZM512.8 365.7A232.5 232.5 0 0 0 509 341.7L501.6 343.2A225.1 225.1 0 0 1 505.3 366.5ZM289.9 629.3A239.4 239.4 0 0 0 298.2 628.9L297.7 621.4A231.9 231.9 0 0 1 289.6 621.8ZM393.9 601.4A239.4 239.4 0 0 0 401.2 597.4L397.5 590.9A231.9 231.9 0 0 1 390.4 594.8ZM513.8 447.9A239.4 239.4 0 0 0 517.3 431.6L509.9 430.3A231.9 231.9 0 0 1 506.6 446.1ZM298.7 635.7A246.3 246.3 0 0 0 324.3 632.6L323 625.2A238.8 238.8 0 0 1 298.2 628.3ZM527.7 398.6A246.3 246.3 0 0 0 526.5 364.3L519 365A238.8 238.8 0 0 1 520.2 398.3Z"/><path fill="#88c054" stroke="#88c054" d="M381 577.1A211.9 211.9 0 0 0 387.4 573.5L383.7 567A204.4 204.4 0 0 1 377.4 570.4ZM428.7 542.4A211.9 211.9 0 0 0 438.9 531.8L433.4 526.7A204.4 204.4 0 0 1 423.5 537ZM477.9 469.4A211.9 211.9 0 0 0 480.6 462.5L473.5 459.9A204.4 204.4 0 0 1 471 466.6ZM334.4 602.3A218.8 218.8 0 0 0 349.1 598.1L346.8 590.9A211.3 211.3 0 0 1 332.6 595ZM410.1 567A218.8 218.8 0 0 0 422.1 557.6L417.3 551.8A211.3 211.3 0 0 1 405.7 560.9ZM453.9 524.7A218.8 218.8 0 0 0 462.9 512.3L456.6 508.1A211.3 211.3 0 0 1 448 520.1ZM470.9 499.4A218.8 218.8 0 0 0 478.1 485.9L471.4 482.6A211.3 211.3 0 0 1 464.5 495.6ZM481.3 479A218.8 218.8 0 0 0 484.3 471.9L477.4 469.1A211.3 211.3 0 0 1 474.5 475.9ZM499.1 412.9A218.8 218.8 0 0 0 499.7 405.3L492.2 404.7A211.3 211.3 0 0 1 491.6 412.1ZM297.2 615.1A225.7 225.7 0 0 0 305.1 614.4L304.3 607A218.2 218.2 0 0 1 296.7 607.6ZM312.9 613.5A225.7 225.7 0 0 0 328.4 610.7L326.9 603.4A218.2 218.2 0 0 1 311.9 606ZM507 382.1A225.7 225.7 0 0 0 505.9 366.4L498.5 367.2A218.2 218.2 0 0 1 499.5 382.4ZM329.8 617.5A232.5 232.5 0 0 0 345.6 613.5L343.5 606.3A225.1 225.1 0 0 1 328.3 610.1ZM424.7 573.2A232.5 232.5 0 0 0 431 568.1L426.2 562.4A225.1 225.1 0 0 1 420.1 567.3ZM437.1 562.8A232.5 232.5 0 0 0 443 557.3L437.8 551.9A225.1 225.1 0 0 1 432.1 557.2ZM474.3 520A232.5 232.5 0 0 0 478.7 513.2L472.4 509.3A225.1 225.1 0 0 1 468.1 515.8ZM497.1 477.1A232.5 232.5 0 0 0 502.7 461.9L495.5 459.5A225.1 225.1 0 0 1 490.2 474.3ZM512.8 414.3A232.5 232.5 0 0 0 512.8 365.7L505.3 366.5A225.1 225.1 0 0 1 505.3 413.5ZM386.5 605.2A239.4 239.4 0 0 0 393.9 601.4L390.4 594.8A231.9 231.9 0 0 1 383.2 598.5ZM520.8 398.4A239.4 239.4 0 0 0 520.8 381.6L513.3 381.9A231.9 231.9 0 0 1 513.3 398.1ZM519.6 365A239.4 239.4 0 0 0 517.3 348.4L509.9 349.7A231.9 231.9 0 0 1 512.2 365.8Z"/><path fill="#88c053" stroke="#88c053" d="M387.4 573.5A211.9 211.9 0 0 0 406 561.4L401.6 555.3A204.4 204.4 0 0 1 383.7 567ZM438.9 531.8A211.9 211.9 0 0 0 471.9 482.9L465.2 479.6A204.4 204.4 0 0 1 433.4 526.7ZM349.1 598.1A218.8 218.8 0 0 0 390.9 579.4L387.1 573A211.3 211.3 0 0 1 346.8 590.9ZM397.4 575.5A218.8 218.8 0 0 0 410.1 567L405.7 560.9A211.3 211.3 0 0 1 393.5 569.2ZM422.1 557.6A218.8 218.8 0 0 0 444.1 536.4L438.5 531.4A211.3 211.3 0 0 1 417.3 551.8ZM478.1 485.9A218.8 218.8 0 0 0 481.3 479L474.5 475.9A211.3 211.3 0 0 1 471.4 482.6ZM489.6 457.6A218.8 218.8 0 0 0 493.8 442.9L486.5 441.1A211.3 211.3 0 0 1 482.4 455.3ZM496.9 428A218.8 218.8 0 0 0 499.1 412.9L491.6 412.1A211.3 211.3 0 0 1 489.6 426.7ZM305.1 614.4A225.7 225.7 0 0 0 312.9 613.5L311.9 606A218.2 218.2 0 0 1 304.3 607ZM373.3 596.1A225.7 225.7 0 0 0 387.4 589.2L383.9 582.6A218.2 218.2 0 0 1 370.2 589.3ZM401.1 581.4A225.7 225.7 0 0 0 414.1 572.6L409.7 566.5A218.2 218.2 0 0 1 397.1 575ZM438.3 552.3A225.7 225.7 0 0 0 449.2 541L443.6 536A218.2 218.2 0 0 1 433 546.9ZM468.6 516.2A225.7 225.7 0 0 0 476.9 502.8L470.4 499.1A218.2 218.2 0 0 1 462.4 512ZM484.3 488.9A225.7 225.7 0 0 0 496.1 459.7L489 457.4A218.2 218.2 0 0 1 477.6 485.6ZM503.7 429.2A225.7 225.7 0 0 0 507 382.1L499.5 382.4A218.2 218.2 0 0 1 496.3 427.9ZM505.9 366.4A225.7 225.7 0 0 0 503.7 350.8L496.3 352.1A218.2 218.2 0 0 1 498.5 367.2ZM297.7 622A232.5 232.5 0 0 0 305.8 621.3L305 613.8A225.1 225.1 0 0 1 297.2 614.5ZM361 608.5A232.5 232.5 0 0 0 404.7 587.2L400.8 580.9A225.1 225.1 0 0 1 358.5 601.5ZM411.5 582.8A232.5 232.5 0 0 0 424.7 573.2L420.1 567.3A225.1 225.1 0 0 1 407.3 576.6ZM431 568.1A232.5 232.5 0 0 0 437.1 562.8L432.1 557.2A225.1 225.1 0 0 1 426.2 562.4ZM478.7 513.2A232.5 232.5 0 0 0 482.9 506.3L476.4 502.5A225.1 225.1 0 0 1 472.4 509.3ZM502.7 461.9A232.5 232.5 0 0 0 510.5 430.4L503.1 429.1A225.1 225.1 0 0 1 495.5 459.5ZM298.2 628.9A239.4 239.4 0 0 0 314.8 627.1L313.8 619.7A231.9 231.9 0 0 1 297.7 621.4ZM331.3 624.2A239.4 239.4 0 0 0 386.5 605.2L383.2 598.5A231.9 231.9 0 0 1 329.7 616.9ZM517.3 431.6A239.4 239.4 0 0 0 520.8 398.4L513.3 398.1A231.9 231.9 0 0 1 509.9 430.3ZM520.8 381.6A239.4 239.4 0 0 0 519.6 365L512.2 365.8A231.9 231.9 0 0 1 513.3 381.9ZM515.7 340.2A239.4 239.4 0 0 0 513.8 332.1L506.6 333.9A231.9 231.9 0 0 1 508.4 341.8Z"/><path fill="#88c051" stroke="#88c051" d="M417.7 552.3A211.9 211.9 0 0 0 428.7 542.4L423.5 537A204.4 204.4 0 0 1 412.9 546.6ZM444.1 536.4A218.8 218.8 0 0 0 453.9 524.7L448 520.1A211.3 211.3 0 0 1 438.5 531.4ZM484.3 471.9A218.8 218.8 0 0 0 489.6 457.6L482.4 455.3A211.3 211.3 0 0 1 477.4 469.1ZM351.2 604.6A225.7 225.7 0 0 0 358.7 602L356.1 595A218.2 218.2 0 0 1 348.9 597.5ZM426.5 562.9A225.7 225.7 0 0 0 438.3 552.3L433 546.9A218.2 218.2 0 0 1 421.7 557.1ZM459.3 528.9A225.7 225.7 0 0 0 468.6 516.2L462.4 512A218.2 218.2 0 0 1 453.4 524.3ZM476.9 502.8A225.7 225.7 0 0 0 484.3 488.9L477.6 485.6A218.2 218.2 0 0 1 470.4 499.1ZM500.4 444.6A225.7 225.7 0 0 0 503.7 429.2L496.3 427.9A218.2 218.2 0 0 1 493.2 442.8Z"/><path fill="#88c052" stroke="#88c052" d="M390.9 579.4A218.8 218.8 0 0 0 397.4 575.5L393.5 569.2A211.3 211.3 0 0 1 387.1 573ZM462.9 512.3A218.8 218.8 0 0 0 470.9 499.4L464.5 495.6A211.3 211.3 0 0 1 456.6 508.1ZM328.4 610.7A225.7 225.7 0 0 0 351.2 604.6L348.9 597.5A218.2 218.2 0 0 1 326.9 603.4ZM358.7 602A225.7 225.7 0 0 0 373.3 596.1L370.2 589.3A218.2 218.2 0 0 1 356.1 595ZM387.4 589.2A225.7 225.7 0 0 0 401.1 581.4L397.1 575A218.2 218.2 0 0 1 383.9 582.6ZM414.1 572.6A225.7 225.7 0 0 0 426.5 562.9L421.7 557.1A218.2 218.2 0 0 1 409.7 566.5ZM449.2 541A225.7 225.7 0 0 0 459.3 528.9L453.4 524.3A218.2 218.2 0 0 1 443.6 536ZM496.1 459.7A225.7 225.7 0 0 0 500.4 444.6L493.2 442.8A218.2 218.2 0 0 1 489 457.4ZM305.8 621.3A232.5 232.5 0 0 0 313.9 620.3L312.8 612.9A225.1 225.1 0 0 1 305 613.8ZM404.7 587.2A232.5 232.5 0 0 0 411.5 582.8L407.3 576.6A225.1 225.1 0 0 1 400.8 580.9ZM314.8 627.1A239.4 239.4 0 0 0 331.3 624.2L329.7 616.9A231.9 231.9 0 0 1 313.8 619.7ZM517.3 348.4A239.4 239.4 0 0 0 515.7 340.2L508.4 341.8A231.9 231.9 0 0 1 509.9 349.7Z"/><path fill="#4b76be" stroke="#4b76be" d="M308 138.2A253.2 253.2 0 0 0 299.2 137.4L298.6 144.9A245.7 245.7 0 0 1 307.2 145.6ZM378.9 148.8A260.1 260.1 0 0 0 370.5 145.6L367.9 152.6A252.6 252.6 0 0 1 376.1 155.8ZM309.4 655.6A267 267 0 0 0 318.7 654.4L317.6 647A259.5 259.5 0 0 1 308.6 648.1ZM430.8 611.4A267 267 0 0 0 507.9 531.5L501.6 527.5A259.5 259.5 0 0 1 426.6 605.2ZM502.9 240.7A267 267 0 0 0 497.5 233L491.5 237.5A259.5 259.5 0 0 1 496.7 244.9ZM542 305.4A273.9 273.9 0 0 0 531.7 278.6L524.9 281.6A266.4 266.4 0 0 1 534.9 307.7Z"/><path fill="#4972ba" stroke="#4972ba" d="M299.2 137.4A253.2 253.2 0 0 0 281.5 136.8L281.5 144.3A245.7 245.7 0 0 1 298.6 144.9ZM281.5 650.1A260.1 260.1 0 0 0 299.6 649.5L299.1 642A252.6 252.6 0 0 1 281.5 642.6ZM361.9 142.6A260.1 260.1 0 0 0 281.5 129.9L281.5 137.4A252.6 252.6 0 0 1 359.6 149.7ZM406.9 154.2A267 267 0 0 0 390.1 146.1L387.1 152.9A259.5 259.5 0 0 1 403.3 160.9ZM410.1 631.9A273.9 273.9 0 0 0 418.5 627.2L414.7 620.7A266.4 266.4 0 0 1 406.6 625.2ZM523.4 518.6A273.9 273.9 0 0 0 527.7 510.1L521 506.8A266.4 266.4 0 0 1 516.7 515.1ZM413.3 637.9A280.8 280.8 0 0 0 421.9 633.2L418.2 626.7A273.3 273.3 0 0 1 409.8 631.3ZM538 504.2A280.8 280.8 0 0 0 541.9 495.2L534.9 492.4A273.3 273.3 0 0 1 531.2 501.2ZM416.6 644A287.7 287.7 0 0 0 425.4 639.2L421.6 632.7A280.2 280.2 0 0 1 413.1 637.4ZM544.3 507A287.7 287.7 0 0 0 548.3 497.8L541.3 495A280.2 280.2 0 0 1 537.5 504ZM419.8 650.1A294.6 294.6 0 0 0 428.8 645.1L425.1 638.6A287.1 287.1 0 0 1 416.3 643.5ZM550.6 509.8A294.6 294.6 0 0 0 554.6 500.4L547.7 497.6A287.1 287.1 0 0 1 543.8 506.8Z"/><path fill="#4c79c1" stroke="#4c79c1" d="M299.6 649.5A260.1 260.1 0 0 0 308.7 648.7L307.9 641.2A252.6 252.6 0 0 1 299.1 642ZM387.3 152.4A260.1 260.1 0 0 0 378.9 148.8L376.1 155.8A252.6 252.6 0 0 1 384.3 159.2ZM507.9 531.5A267 267 0 0 0 512.7 523.5L506.3 519.8A259.5 259.5 0 0 1 501.6 527.5ZM544.8 314.5A273.9 273.9 0 0 0 542 305.4L534.9 307.7A266.4 266.4 0 0 1 537.6 316.6ZM541.9 495.2A280.8 280.8 0 0 0 545.4 486L538.3 483.5A273.3 273.3 0 0 1 534.9 492.4ZM548.3 497.8A287.7 287.7 0 0 0 551.9 488.4L544.8 485.8A280.2 280.2 0 0 1 541.3 495ZM554.6 500.4A294.6 294.6 0 0 0 558.3 490.8L551.3 488.2A287.1 287.1 0 0 1 547.7 497.6Z"/><path fill="#4a74bc" stroke="#4a74bc" d="M370.5 145.6A260.1 260.1 0 0 0 361.9 142.6L359.6 149.7A252.6 252.6 0 0 1 367.9 152.6ZM497.5 233A267 267 0 0 0 406.9 154.2L403.3 160.9A259.5 259.5 0 0 1 491.5 237.5ZM531.7 278.6A273.9 273.9 0 0 0 518.7 253L512.2 256.8A266.4 266.4 0 0 1 524.9 281.6Z"/><path fill="#4366b2" stroke="#4366b2" d="M281.5 657A267 267 0 0 0 300.1 656.4L299.6 648.9A259.5 259.5 0 0 1 281.5 649.5ZM418.5 627.2A273.9 273.9 0 0 0 426.7 622.3L422.7 615.9A266.4 266.4 0 0 1 414.7 620.7ZM421.9 633.2A280.8 280.8 0 0 0 430.3 628.1L426.3 621.8A273.3 273.3 0 0 1 418.2 626.7ZM425.4 639.2A287.7 287.7 0 0 0 434 634L430 627.6A280.2 280.2 0 0 1 421.6 632.7ZM428.8 645.1A294.6 294.6 0 0 0 437.6 639.8L433.6 633.5A287.1 287.1 0 0 1 425.1 638.6Z"/><path fill="#456ab6" stroke="#456ab6" d="M300.1 656.4A267 267 0 0 0 309.4 655.6L308.6 648.1A259.5 259.5 0 0 1 299.6 648.9ZM364 136A267 267 0 0 0 355.1 133.3L353 140.5A259.5 259.5 0 0 1 361.7 143.2ZM518.7 527A273.9 273.9 0 0 0 523.4 518.6L516.7 515.1A266.4 266.4 0 0 1 512.2 523.2ZM513.8 244.8A273.9 273.9 0 0 0 508.6 236.8L502.4 241A266.4 266.4 0 0 1 507.4 248.8ZM533.9 513.1A280.8 280.8 0 0 0 538 504.2L531.2 501.2A273.3 273.3 0 0 1 527.2 509.8ZM540.1 516.1A287.7 287.7 0 0 0 544.3 507L537.5 504A280.2 280.2 0 0 1 533.4 512.8ZM546.3 519.1A294.6 294.6 0 0 0 550.6 509.8L543.8 506.8A287.1 287.1 0 0 1 539.5 515.9Z"/><path fill="#4e7bc3" stroke="#4e7bc3" d="M423 616.4A267 267 0 0 0 430.8 611.4L426.6 605.2A259.5 259.5 0 0 1 419 610.1ZM507.9 248.5A267 267 0 0 0 502.9 240.7L496.7 244.9A259.5 259.5 0 0 1 501.6 252.5ZM329.1 659.8A273.9 273.9 0 0 0 338.5 657.9L336.9 650.6A266.4 266.4 0 0 1 327.8 652.4ZM527.7 510.1A273.9 273.9 0 0 0 531.7 501.4L524.9 498.4A266.4 266.4 0 0 1 521 506.8ZM547.3 323.7A273.9 273.9 0 0 0 544.8 314.5L537.6 316.6A266.4 266.4 0 0 1 540 325.5ZM330.3 666.5A280.8 280.8 0 0 0 339.9 664.7L338.3 657.3A273.3 273.3 0 0 1 329 659.2ZM331.5 673.3A287.7 287.7 0 0 0 341.3 671.4L339.8 664.1A280.2 280.2 0 0 1 330.2 666ZM332.7 680.1A294.6 294.6 0 0 0 342.8 678.2L341.2 670.8A287.1 287.1 0 0 1 331.4 672.7Z"/><path fill="#486fb9" stroke="#486fb9" d="M390.1 146.1A267 267 0 0 0 372.8 139.1L370.3 146.1A259.5 259.5 0 0 1 387.1 152.9ZM518.7 253A273.9 273.9 0 0 0 513.8 244.8L507.4 248.8A266.4 266.4 0 0 1 512.2 256.8ZM556.2 331.6A280.8 280.8 0 0 0 554 322.1L546.7 323.9A273.3 273.3 0 0 1 548.8 333.2ZM562.9 330.2A287.7 287.7 0 0 0 560.7 320.4L553.4 322.2A280.2 280.2 0 0 1 555.6 331.7ZM569.7 328.7A294.6 294.6 0 0 0 567.3 318.7L560.1 320.5A287.1 287.1 0 0 1 562.3 330.3Z"/><path fill="#466db7" stroke="#466db7" d="M372.8 139.1A267 267 0 0 0 364 136L361.7 143.2A259.5 259.5 0 0 1 370.3 146.1ZM319.6 661.3A273.9 273.9 0 0 0 329.1 659.8L327.8 652.4A266.4 266.4 0 0 1 318.6 653.8ZM320.6 668.1A280.8 280.8 0 0 0 330.3 666.5L329 659.2A273.3 273.3 0 0 1 319.5 660.7ZM321.5 674.9A287.7 287.7 0 0 0 331.5 673.3L330.2 666A280.2 280.2 0 0 1 320.5 667.5ZM322.5 681.7A294.6 294.6 0 0 0 332.7 680.1L331.4 672.7A287.1 287.1 0 0 1 321.5 674.3Z"/><path fill="#4468b4" stroke="#4468b4" d="M355.1 133.3A267 267 0 0 0 346.1 130.9L344.3 138.2A259.5 259.5 0 0 1 353 140.5Z"/><path fill="#3f60ae" stroke="#3f60ae" d="M346.1 130.9A267 267 0 0 0 337 128.8L335.5 136.1A259.5 259.5 0 0 1 344.3 138.2Z"/><path fill="#3d5aaa" stroke="#3d5aaa" d="M337 128.8A267 267 0 0 0 327.9 127L326.6 134.4A259.5 259.5 0 0 1 335.5 136.1ZM434.7 617.1A273.9 273.9 0 0 0 471.8 587L466.6 581.6A266.4 266.4 0 0 1 430.5 610.9ZM491.3 566.1A273.9 273.9 0 0 0 503.1 551L497 546.6A266.4 266.4 0 0 1 485.6 561.3ZM497.3 221.4A273.9 273.9 0 0 0 491.3 213.9L485.6 218.7A266.4 266.4 0 0 1 491.4 226ZM551.4 312.6A280.8 280.8 0 0 0 548.6 303.2L541.4 305.5A273.3 273.3 0 0 1 544.2 314.7ZM558.1 310.7A287.7 287.7 0 0 0 555.1 301.1L548 303.4A280.2 280.2 0 0 1 550.9 312.8ZM564.7 308.8A294.6 294.6 0 0 0 561.7 299L554.6 301.3A287.1 287.1 0 0 1 557.5 310.9Z"/><path fill="#3c58a8" stroke="#3c58a8" d="M327.9 127A267 267 0 0 0 318.7 125.6L317.6 133A259.5 259.5 0 0 1 326.6 134.4ZM300.6 663.2A273.9 273.9 0 0 0 310.1 662.4L309.3 655A266.4 266.4 0 0 1 300.1 655.8ZM491.3 213.9A273.9 273.9 0 0 0 485.1 206.7L479.5 211.7A266.4 266.4 0 0 1 485.6 218.7ZM301.1 670.1A280.8 280.8 0 0 0 310.9 669.3L310.1 661.8A273.3 273.3 0 0 1 300.6 662.7ZM438.5 622.8A280.8 280.8 0 0 0 519.6 538.8L513.3 534.8A273.3 273.3 0 0 1 434.3 616.6ZM541.9 284.8A280.8 280.8 0 0 0 533.9 266.9L527.2 270.2A273.3 273.3 0 0 1 534.9 287.6ZM301.6 677A287.7 287.7 0 0 0 311.6 676.1L310.8 668.7A280.2 280.2 0 0 1 301 669.5ZM442.4 628.5A287.7 287.7 0 0 0 525.5 542.5L519.1 538.5A280.2 280.2 0 0 1 438.2 622.3ZM555.1 301.1A287.7 287.7 0 0 0 544.3 273L537.5 276A280.2 280.2 0 0 1 548 303.4ZM302.1 683.9A294.6 294.6 0 0 0 312.3 683L311.5 675.5A287.1 287.1 0 0 1 301.5 676.4ZM446.2 634.2A294.6 294.6 0 0 0 531.3 546.1L525 542.1A287.1 287.1 0 0 1 442 628ZM561.7 299A294.6 294.6 0 0 0 550.6 270.2L543.8 273.2A287.1 287.1 0 0 1 554.6 301.3Z"/><path fill="#3c57a7" stroke="#3c57a7" d="M318.7 125.6A267 267 0 0 0 309.4 124.4L308.6 131.9A259.5 259.5 0 0 1 317.6 133ZM485.1 206.7A273.9 273.9 0 0 0 457.6 180.2L452.8 185.9A266.4 266.4 0 0 1 479.5 211.7ZM533.9 266.9A280.8 280.8 0 0 0 462 174.9L457.2 180.6A273.3 273.3 0 0 1 527.2 270.2ZM544.3 273A287.7 287.7 0 0 0 466.4 169.6L461.6 175.3A280.2 280.2 0 0 1 537.5 276ZM550.6 270.2A294.6 294.6 0 0 0 470.9 164.3L466 170.1A287.1 287.1 0 0 1 543.8 273.2Z"/><path fill="#3c56a6" stroke="#3c56a6" d="M309.4 124.4A267 267 0 0 0 281.5 123L281.5 130.5A259.5 259.5 0 0 1 308.6 131.9ZM281.5 663.9A273.9 273.9 0 0 0 300.6 663.2L300.1 655.8A266.4 266.4 0 0 1 281.5 656.4ZM457.6 180.2A273.9 273.9 0 0 0 281.5 116.1L281.5 123.6A266.4 266.4 0 0 1 452.8 185.9ZM281.5 670.8A280.8 280.8 0 0 0 301.1 670.1L300.6 662.7A273.3 273.3 0 0 1 281.5 663.3ZM462 174.9A280.8 280.8 0 0 0 281.5 109.2L281.5 116.7A273.3 273.3 0 0 1 457.2 180.6ZM281.5 677.7A287.7 287.7 0 0 0 301.6 677L301 669.5A280.2 280.2 0 0 1 281.5 670.2ZM466.4 169.6A287.7 287.7 0 0 0 281.5 102.3L281.5 109.8A280.2 280.2 0 0 1 461.6 175.3ZM281.5 684.6A294.6 294.6 0 0 0 302.1 683.9L301.5 676.4A287.1 287.1 0 0 1 281.5 677.1ZM470.9 164.3A294.6 294.6 0 0 0 281.5 95.4L281.5 102.9A287.1 287.1 0 0 1 466 170.1Z"/><path fill="#3e5eac" stroke="#3e5eac" d="M310.1 662.4A273.9 273.9 0 0 0 319.6 661.3L318.6 653.8A266.4 266.4 0 0 1 309.3 655ZM508.6 543.2A273.9 273.9 0 0 0 513.8 535.2L507.4 531.2A266.4 266.4 0 0 1 502.4 539ZM503.1 229A273.9 273.9 0 0 0 497.3 221.4L491.4 226A266.4 266.4 0 0 1 497 233.4ZM310.9 669.3A280.8 280.8 0 0 0 320.6 668.1L319.5 660.7A273.3 273.3 0 0 1 310.1 661.8ZM311.6 676.1A287.7 287.7 0 0 0 321.5 674.9L320.5 667.5A280.2 280.2 0 0 1 310.8 668.7ZM312.3 683A294.6 294.6 0 0 0 322.5 681.7L321.5 674.3A287.1 287.1 0 0 1 311.5 675.5Z"/><path fill="#3e5dab" stroke="#3e5dab" d="M426.7 622.3A273.9 273.9 0 0 0 434.7 617.1L430.5 610.9A266.4 266.4 0 0 1 422.7 615.9ZM503.1 551A273.9 273.9 0 0 0 508.6 543.2L502.4 539A266.4 266.4 0 0 1 497 546.6ZM524.7 530.4A280.8 280.8 0 0 0 529.4 521.8L522.8 518.3A273.3 273.3 0 0 1 518.2 526.7ZM530.7 533.9A287.7 287.7 0 0 0 535.5 525.1L528.9 521.6A280.2 280.2 0 0 1 524.2 530.1ZM536.6 537.3A294.6 294.6 0 0 0 541.6 528.3L535 524.8A287.1 287.1 0 0 1 530.1 533.6Z"/><path fill="#3c59a9" stroke="#3c59a9" d="M471.8 587A273.9 273.9 0 0 0 491.3 566.1L485.6 561.3A266.4 266.4 0 0 1 466.6 581.6ZM519.6 538.8A280.8 280.8 0 0 0 524.7 530.4L518.2 526.7A273.3 273.3 0 0 1 513.3 534.8ZM548.6 303.2A280.8 280.8 0 0 0 545.4 294L538.3 296.5A273.3 273.3 0 0 1 541.4 305.5ZM525.5 542.5A287.7 287.7 0 0 0 530.7 533.9L524.2 530.1A280.2 280.2 0 0 1 519.1 538.5ZM531.3 546.1A294.6 294.6 0 0 0 536.6 537.3L530.1 533.6A287.1 287.1 0 0 1 525 542.1Z"/><path fill="#4062af" stroke="#4062af" d="M513.8 535.2A273.9 273.9 0 0 0 518.7 527L512.2 523.2A266.4 266.4 0 0 1 507.4 531.2ZM529.4 521.8A280.8 280.8 0 0 0 533.9 513.1L527.2 509.8A273.3 273.3 0 0 1 522.8 518.3ZM554 322.1A280.8 280.8 0 0 0 551.4 312.6L544.2 314.7A273.3 273.3 0 0 1 546.7 323.9ZM535.5 525.1A287.7 287.7 0 0 0 540.1 516.1L533.4 512.8A280.2 280.2 0 0 1 528.9 521.6ZM560.7 320.4A287.7 287.7 0 0 0 558.1 310.7L550.9 312.8A280.2 280.2 0 0 1 553.4 322.2ZM541.6 528.3A294.6 294.6 0 0 0 546.3 519.1L539.5 515.9A287.1 287.1 0 0 1 535 524.8ZM567.3 318.7A294.6 294.6 0 0 0 564.7 308.8L557.5 310.9A287.1 287.1 0 0 1 560.1 320.5Z"/><path fill="#4264b1" stroke="#4264b1" d="M508.6 236.8A273.9 273.9 0 0 0 503.1 229L497 233.4A266.4 266.4 0 0 1 502.4 241Z"/><path fill="#3d5caa" stroke="#3d5caa" d="M430.3 628.1A280.8 280.8 0 0 0 438.5 622.8L434.3 616.6A273.3 273.3 0 0 1 426.3 621.8ZM545.4 294A280.8 280.8 0 0 0 541.9 284.8L534.9 287.6A273.3 273.3 0 0 1 538.3 296.5ZM434 634A287.7 287.7 0 0 0 442.4 628.5L438.2 622.3A280.2 280.2 0 0 1 430 627.6ZM437.6 639.8A294.6 294.6 0 0 0 446.2 634.2L442 628A287.1 287.1 0 0 1 433.6 633.5Z"/><circle cx="281.5" cy="390" r="32" fill="#fff"/></g><path d="M362.3 529.5L443.2 669M409.6 727L443.2 669M408.7 51.5L443.2 111M362.3 250.5L443.2 390M443.2 390L604.8 390M604.8 669L619.5 694.3M604.8 111L619.5 136.3M604.8 390L619.5 364.7M604.8 111L619.5 85.7M604.8 390L619.5 415.3M362.3 250.5L443.2 111M281.5 250.5L362.3 250.5M281.5 529.5L362.3 529.5M362.3 529.5L443.2 390M604.8 669L619.5 643.7M443.2 111L604.8 111M443.2 669L604.8 669" fill="none" stroke="#000" stroke-opacity="0.62" stroke-width="1.6" stroke-dasharray="9.3 7.9"/><rect x="281.5" y="51.5" width="338" height="675.5" fill="none" stroke="#3a3a3a" stroke-width="1.3"/><path d="M281.5 111h10M619.5 111h-7M281.5 250.5h10M619.5 250.5h-7M281.5 390h10M619.5 390h-7M281.5 529h10M619.5 529h-7M281.5 668.5h10M619.5 668.5h-7M523 727v-7M523 51.5v7" stroke="#3a3a3a" stroke-width="1.3" fill="none"/><text x="448.5" y="40.5" font-size="30.4" text-anchor="middle"><tspan font-style="italic">E</tspan> = 0.3 meV, <tspan font-style="italic">T</tspan> = 20 K</text><text x="214.5" y="25.4" font-size="35" text-anchor="start" font-weight="bold">a</text><text x="281.5" y="763" font-size="30" text-anchor="middle">0</text><text x="519.5" y="763" font-size="30" text-anchor="middle">0.5</text><text x="446" y="806" font-size="30.4" text-anchor="middle">(<tspan font-style="italic">H</tspan>, <tspan font-style="italic">H</tspan>, 0) (r.l.u.)</text><g clip-path="url(#cb)" stroke-width="0.8"><defs><radialGradient id="bsp"><stop offset="0" stop-color="#4f306d" stop-opacity="1"/><stop offset="0.3" stop-color="#52307c" stop-opacity="1"/><stop offset="0.55" stop-color="#493898" stop-opacity="0.95"/><stop offset="0.78" stop-color="#3c53a4" stop-opacity="0.7"/><stop offset="1" stop-color="#3c59a8" stop-opacity="0"/></radialGradient><radialGradient id="bli"><stop offset="0" stop-color="#4569b5" stop-opacity="0"/><stop offset="0.12" stop-color="#3d5caa" stop-opacity="0.0"/><stop offset="0.28" stop-color="#4366b3" stop-opacity="0.55"/><stop offset="0.45" stop-color="#4569b5" stop-opacity="0.7"/><stop offset="0.62" stop-color="#4264b1" stop-opacity="0.35"/><stop offset="0.8" stop-color="#3c59a8" stop-opacity="0"/></radialGradient><radialGradient id="bl2"><stop offset="0" stop-color="#4e7bc3" stop-opacity="0.75"/><stop offset="0.5" stop-color="#486fb9" stop-opacity="0.45"/><stop offset="1" stop-color="#4264b1" stop-opacity="0"/></radialGradient><clipPath id="bclip"><path d="M711 90A300 300 0 0 1 711 690Z"/></clipPath></defs><g clip-path="url(#bclip)"><rect x="711" y="90" width="300" height="600" fill="#3c59a8"/><circle cx="711" cy="390" r="300" fill="url(#bli)"/><ellipse cx="751" cy="490" rx="95" ry="80" fill="url(#bl2)" transform="rotate(-40 751 490)"/><ellipse cx="801" cy="330" rx="70" ry="45" fill="url(#bl2)" opacity="0.6"/><ellipse cx="969.9" cy="246.5" rx="78" ry="92" fill="url(#bsp)" transform="rotate(-29 969.9 246.5)"/><ellipse cx="959.1" cy="536.2" rx="76" ry="86" fill="url(#bsp)" transform="rotate(30.5 959.1 536.2)"/><ellipse cx="726.6" cy="92.4" rx="82" ry="90" fill="url(#bsp)" transform="rotate(-87 726.6 92.4)"/><ellipse cx="726.4" cy="683.6" rx="78" ry="86" fill="url(#bsp)" transform="rotate(87 726.4 683.6)"/></g><circle cx="711" cy="390" r="34.6" fill="#fff"/></g><path d="M791.8 529.5L872.7 669M839.1 727L872.7 669M838.2 51.5L872.7 111M791.8 250.5L872.7 390M872.7 390L1034.3 390M1034.3 669L1049 694.3M1034.3 111L1049 136.3M1034.3 390L1049 364.7M1034.3 111L1049 85.7M1034.3 390L1049 415.3M791.8 250.5L872.7 111M711 250.5L791.8 250.5M711 529.5L791.8 529.5M791.8 529.5L872.7 390M1034.3 669L1049 643.7M872.7 111L1034.3 111M872.7 669L1034.3 669" fill="none" stroke="#000" stroke-opacity="0.62" stroke-width="1.6" stroke-dasharray="9.3 7.9"/><rect x="711" y="51.5" width="338" height="675.5" fill="none" stroke="#3a3a3a" stroke-width="1.3"/><path d="M711 111h10M1049 111h-7M711 250.5h10M1049 250.5h-7M711 390h10M1049 390h-7M711 529h10M1049 529h-7M711 668.5h10M1049 668.5h-7M952.5 727v-7M952.5 51.5v7" stroke="#3a3a3a" stroke-width="1.3" fill="none"/><text x="878" y="40.5" font-size="30.4" text-anchor="middle"><tspan font-style="italic">E</tspan> = 0.6 meV, <tspan font-style="italic">T</tspan> = 20 K</text><text x="642.5" y="25.4" font-size="35" text-anchor="start" font-weight="bold">b</text><text x="711" y="763" font-size="30" text-anchor="middle">0</text><text x="949" y="763" font-size="30" text-anchor="middle">0.5</text><text x="875.5" y="806" font-size="30.4" text-anchor="middle">(<tspan font-style="italic">H</tspan>, <tspan font-style="italic">H</tspan>, 0) (r.l.u.)</text><text x="264.3" y="130" font-size="30" text-anchor="end">1</text><text x="266" y="262.8" font-size="30" text-anchor="end">0.5</text><text x="266" y="397.8" font-size="30" text-anchor="end">0</text><text x="266" y="533.3" font-size="30" text-anchor="end">-0.5</text><text x="264.3" y="667.6" font-size="30" text-anchor="end">-1</text><text transform="translate(211 387.5) rotate(-90)" font-size="30.6" text-anchor="middle">(-<tspan font-style="italic">K</tspan>, <tspan font-style="italic">K</tspan>, 0) (r.l.u.)</text><rect x="1089.5" y="224.8" width="26.5" height="314" fill="url(#cm)" stroke="#333" stroke-width="1.2"/><text x="1102.5" y="205" font-size="30" text-anchor="middle">65</text><text x="1102.5" y="578.5" font-size="30" text-anchor="middle">0</text><text transform="translate(1140 383) rotate(90)" font-size="30.4" text-anchor="middle">Intensity (arb. unit)</text><g shape-rendering="crispEdges"><rect x="106" y="909.5" width="1182.5" height="672.7" fill="#140e12"/><path fill="#150e13" d="M106 909.5H214V941H106ZM646 909.5H742.3V941H646ZM742.3 909.5H836V941H742.3ZM1117.2 909.5H1210.9V941H1117.2ZM1210.9 909.5H1288.5V941H1210.9ZM646 941H742.3V984H646ZM742.3 941H836V984H742.3ZM1117.2 941H1210.9V984H1117.2ZM1210.9 941H1288.5V984H1210.9ZM646 984H742.3V1029.5H646ZM742.3 984H836V1029.5H742.3ZM1210.9 984H1288.5V1029.5H1210.9Z"/><path fill="#170e15" d="M214 909.5H322V941H214ZM322 909.5H430V941H322ZM430 909.5H538V941H430ZM538 909.5H646V941H538ZM836 909.5H929.7V941H836ZM1023.5 909.5H1117.2V941H1023.5ZM106 941H214V984H106ZM430 941H538V984H430ZM1023.5 941H1117.2V984H1023.5ZM430 984H538V1029.5H430ZM538 984H646V1029.5H538ZM836 984H929.7V1029.5H836ZM1210.9 1029.5H1288.5V1073.4H1210.9Z"/><path fill="#190e17" d="M929.7 909.5H1023.5V941H929.7ZM322 941H430V984H322ZM538 941H646V984H538ZM836 941H929.7V984H836ZM929.7 941H1023.5V984H929.7ZM322 984H430V1029.5H322ZM1023.5 984H1117.2V1029.5H1023.5ZM646 1029.5H742.3V1073.4H646ZM646 1073.4H711.1V1116H646ZM1210.9 1073.4H1273.4V1116H1210.9Z"/><path fill="#1a0e19" d="M214 941H322V984H214ZM929.7 984H1023.5V1029.5H929.7ZM742.3 1029.5H836V1073.4H742.3ZM1117.2 1029.5H1210.9V1073.4H1117.2ZM1273.4 1073.4H1288.5V1116H1273.4ZM664.2 1116H679.8V1148.6H664.2ZM679.8 1116H695.4V1148.6H679.8ZM1226.5 1116H1242.1V1148.6H1226.5ZM1242.1 1116H1257.8V1148.6H1242.1ZM1257.8 1116H1273.4V1148.6H1257.8ZM1273.4 1116H1288.5V1148.6H1273.4Z"/><path fill="#1e0d1d" d="M106 984H214V1029.5H106ZM322 1029.5H430V1073.4H322ZM430 1029.5H538V1073.4H430ZM773.5 1073.4H836V1116H773.5ZM1085.9 1073.4H1148.4V1116H1085.9ZM602.8 1116H624.4V1148.6H602.8ZM624.4 1116H646V1148.6H624.4ZM726.7 1116H742.3V1148.6H726.7ZM742.3 1116H757.9V1148.6H742.3ZM1179.7 1116H1195.3V1148.6H1179.7ZM1195.3 1116H1210.9V1148.6H1195.3ZM646 1148.6H664.2V1170.3H646ZM679.8 1148.6H695.4V1170.3H679.8ZM695.4 1148.6H711.1V1170.3H695.4ZM1210.9 1148.6H1226.5V1170.3H1210.9ZM1226.5 1148.6H1242.1V1170.3H1226.5ZM1242.1 1148.6H1257.8V1170.3H1242.1ZM664.2 1170.3H679.8V1192H664.2ZM1242.1 1170.3H1257.8V1192H1242.1ZM1273.4 1170.3H1288.5V1192H1273.4ZM1273.4 1192H1288.5V1213.6H1273.4Z"/><path fill="#1c0d1b" d="M214 984H322V1029.5H214ZM538 1029.5H646V1073.4H538ZM836 1029.5H929.7V1073.4H836ZM1023.5 1029.5H1117.2V1073.4H1023.5ZM624.4 1073.4H646V1116H624.4ZM711.1 1073.4H773.5V1116H711.1ZM1148.4 1073.4H1210.9V1116H1148.4ZM646 1116H664.2V1148.6H646ZM695.4 1116H711.1V1148.6H695.4ZM711.1 1116H726.7V1148.6H711.1ZM1210.9 1116H1226.5V1148.6H1210.9ZM664.2 1148.6H679.8V1170.3H664.2ZM1257.8 1148.6H1273.4V1170.3H1257.8ZM1273.4 1148.6H1288.5V1170.3H1273.4ZM1257.8 1170.3H1273.4V1192H1257.8Z"/><path fill="#140e12" d="M1117.2 984H1210.9V1029.5H1117.2Z"/><path fill="#230f23" d="M106 1029.5H214V1073.4H106ZM214 1029.5H322V1073.4H214ZM929.7 1029.5H1023.5V1073.4H929.7ZM773.5 1116H789.2V1148.6H773.5ZM1148.4 1116H1164V1148.6H1148.4ZM1164 1116H1179.7V1148.6H1164ZM711.1 1148.6H726.7V1170.3H711.1ZM1179.7 1148.6H1195.3V1170.3H1179.7ZM1195.3 1148.6H1210.9V1170.3H1195.3ZM624.4 1170.3H646V1192H624.4ZM695.4 1170.3H711.1V1192H695.4ZM711.1 1170.3H726.7V1192H711.1ZM624.4 1192H646V1213.6H624.4ZM646 1192H664.2V1213.6H646ZM679.8 1192H695.4V1213.6H679.8ZM1210.9 1192H1226.5V1213.6H1210.9ZM1242.1 1213.6H1257.8V1235.3H1242.1ZM1257.8 1213.6H1273.4V1235.3H1257.8ZM1273.4 1213.6H1288.5V1235.3H1273.4Z"/><path fill="#3a213f" d="M106 1073.4H170.8V1116H106ZM235.6 1073.4H300.4V1116H235.6ZM473.2 1116H494.8V1148.6H473.2ZM516.4 1116H538V1148.6H516.4ZM882.9 1116H898.5V1148.6H882.9ZM1023.5 1116H1039.1V1148.6H1023.5ZM1070.3 1148.6H1085.9V1170.3H1070.3ZM559.6 1170.3H581.2V1192H559.6ZM804.8 1170.3H820.4V1192H804.8ZM820.4 1170.3H836V1192H820.4ZM1085.9 1170.3H1101.6V1192H1085.9ZM1117.2 1170.3H1132.8V1192H1117.2ZM1132.8 1170.3H1148.4V1192H1132.8ZM559.6 1192H581.2V1213.6H559.6ZM581.2 1192H602.8V1213.6H581.2ZM1132.8 1192H1148.4V1213.6H1132.8ZM1148.4 1192H1164V1213.6H1148.4ZM773.5 1213.6H789.2V1235.3H773.5ZM1179.7 1213.6H1195.3V1235.3H1179.7ZM726.7 1235.3H742.3V1257H726.7ZM1164 1235.3H1179.7V1257H1164ZM695.4 1257H711.1V1278.7H695.4ZM646 1278.7H664.2V1300.4H646ZM646 1300.4H664.2V1322H646Z"/><path fill="#3d2445" d="M170.8 1073.4H235.6V1116H170.8ZM300.4 1073.4H365.2V1116H300.4ZM322 1116H343.6V1148.6H322ZM430 1116H451.6V1148.6H430ZM929.7 1116H945.4V1148.6H929.7ZM945.4 1116H961V1148.6H945.4ZM1007.8 1116H1023.5V1148.6H1007.8ZM494.8 1148.6H516.4V1170.3H494.8ZM516.4 1148.6H538V1170.3H516.4ZM851.6 1148.6H867.3V1170.3H851.6ZM882.9 1148.6H898.5V1170.3H882.9ZM914.1 1148.6H929.7V1170.3H914.1ZM1007.8 1148.6H1023.5V1170.3H1007.8ZM1023.5 1148.6H1039.1V1170.3H1023.5ZM1054.7 1148.6H1070.3V1170.3H1054.7ZM1054.7 1170.3H1070.3V1192H1054.7ZM1070.3 1170.3H1085.9V1192H1070.3ZM1101.6 1170.3H1117.2V1192H1101.6ZM773.5 1192H789.2V1213.6H773.5ZM789.2 1192H804.8V1213.6H789.2ZM804.8 1192H820.4V1213.6H804.8ZM1101.6 1192H1117.2V1213.6H1101.6ZM581.2 1213.6H602.8V1235.3H581.2ZM789.2 1213.6H804.8V1235.3H789.2ZM1164 1213.6H1179.7V1235.3H1164ZM1179.7 1235.3H1195.3V1257H1179.7ZM1195.3 1235.3H1210.9V1257H1195.3ZM602.8 1257H624.4V1278.7H602.8ZM1210.9 1278.7H1226.5V1300.4H1210.9ZM1226.5 1278.7H1242.1V1300.4H1226.5ZM664.2 1300.4H679.8V1322H664.2ZM1257.8 1300.4H1273.4V1322H1257.8ZM1242.1 1322H1257.8V1343.7H1242.1Z"/><path fill="#331d37" d="M365.2 1073.4H430V1116H365.2ZM898.5 1116H914.1V1148.6H898.5ZM1070.3 1116H1085.9V1148.6H1070.3ZM559.6 1148.6H581.2V1170.3H559.6ZM773.5 1170.3H789.2V1192H773.5ZM789.2 1170.3H804.8V1192H789.2ZM1164 1170.3H1179.7V1192H1164ZM757.9 1192H773.5V1213.6H757.9ZM1195.3 1213.6H1210.9V1235.3H1195.3ZM695.4 1235.3H711.1V1257H695.4ZM1210.9 1235.3H1226.5V1257H1210.9ZM1226.5 1235.3H1242.1V1257H1226.5ZM624.4 1257H646V1278.7H624.4Z"/><path fill="#361f3a" d="M430 1073.4H494.8V1116H430ZM494.8 1116H516.4V1148.6H494.8ZM867.3 1116H882.9V1148.6H867.3ZM914.1 1116H929.7V1148.6H914.1ZM976.6 1116H992.2V1148.6H976.6ZM992.2 1116H1007.8V1148.6H992.2ZM1039.1 1116H1054.7V1148.6H1039.1ZM538 1148.6H559.6V1170.3H538ZM836 1148.6H851.6V1170.3H836ZM1085.9 1148.6H1101.6V1170.3H1085.9ZM1117.2 1148.6H1132.8V1170.3H1117.2ZM742.3 1192H757.9V1213.6H742.3ZM726.7 1213.6H742.3V1235.3H726.7ZM742.3 1213.6H757.9V1235.3H742.3ZM602.8 1235.3H624.4V1257H602.8ZM624.4 1235.3H646V1257H624.4ZM711.1 1235.3H726.7V1257H711.1ZM679.8 1257H695.4V1278.7H679.8ZM1210.9 1257H1226.5V1278.7H1210.9ZM1226.5 1257H1242.1V1278.7H1226.5ZM664.2 1278.7H679.8V1300.4H664.2ZM1242.1 1278.7H1257.8V1300.4H1242.1ZM1273.4 1278.7H1288.5V1300.4H1273.4ZM1242.1 1300.4H1257.8V1322H1242.1Z"/><path fill="#29152d" d="M494.8 1073.4H559.6V1116H494.8ZM1085.9 1116H1101.6V1148.6H1085.9ZM581.2 1148.6H602.8V1170.3H581.2ZM789.2 1148.6H804.8V1170.3H789.2ZM602.8 1170.3H624.4V1192H602.8ZM695.4 1192H711.1V1213.6H695.4ZM646 1213.6H664.2V1235.3H646ZM664.2 1235.3H679.8V1257H664.2ZM1242.1 1235.3H1257.8V1257H1242.1ZM1257.8 1257H1273.4V1278.7H1257.8Z"/><path fill="#200c1f" d="M559.6 1073.4H624.4V1116H559.6ZM757.9 1116H773.5V1148.6H757.9ZM624.4 1148.6H646V1170.3H624.4ZM726.7 1148.6H742.3V1170.3H726.7ZM646 1170.3H664.2V1192H646ZM679.8 1170.3H695.4V1192H679.8ZM1210.9 1170.3H1226.5V1192H1210.9ZM1226.5 1170.3H1242.1V1192H1226.5ZM664.2 1192H679.8V1213.6H664.2ZM1242.1 1192H1257.8V1213.6H1242.1ZM1257.8 1192H1273.4V1213.6H1257.8Z"/><path fill="#261228" d="M836 1073.4H898.5V1116H836ZM1023.5 1073.4H1085.9V1116H1023.5ZM581.2 1116H602.8V1148.6H581.2ZM789.2 1116H804.8V1148.6H789.2ZM1132.8 1116H1148.4V1148.6H1132.8ZM602.8 1148.6H624.4V1170.3H602.8ZM742.3 1148.6H757.9V1170.3H742.3ZM1164 1148.6H1179.7V1170.3H1164ZM1179.7 1170.3H1195.3V1192H1179.7ZM1195.3 1170.3H1210.9V1192H1195.3ZM1195.3 1192H1210.9V1213.6H1195.3ZM1226.5 1192H1242.1V1213.6H1226.5ZM664.2 1213.6H679.8V1235.3H664.2ZM1257.8 1235.3H1273.4V1257H1257.8ZM1273.4 1235.3H1288.5V1257H1273.4Z"/><path fill="#2d1931" d="M898.5 1073.4H961V1116H898.5ZM538 1116H559.6V1148.6H538ZM559.6 1116H581.2V1148.6H559.6ZM804.8 1116H820.4V1148.6H804.8ZM820.4 1116H836V1148.6H820.4ZM836 1116H851.6V1148.6H836ZM851.6 1116H867.3V1148.6H851.6ZM1117.2 1116H1132.8V1148.6H1117.2ZM757.9 1148.6H773.5V1170.3H757.9ZM773.5 1148.6H789.2V1170.3H773.5ZM1148.4 1148.6H1164V1170.3H1148.4ZM726.7 1170.3H742.3V1192H726.7ZM742.3 1170.3H757.9V1192H742.3ZM602.8 1192H624.4V1213.6H602.8ZM711.1 1192H726.7V1213.6H711.1ZM624.4 1213.6H646V1235.3H624.4ZM679.8 1213.6H695.4V1235.3H679.8ZM711.1 1213.6H726.7V1235.3H711.1ZM1210.9 1213.6H1226.5V1235.3H1210.9ZM1226.5 1213.6H1242.1V1235.3H1226.5ZM646 1235.3H664.2V1257H646ZM664.2 1257H679.8V1278.7H664.2ZM1242.1 1257H1257.8V1278.7H1242.1ZM1273.4 1257H1288.5V1278.7H1273.4ZM1257.8 1278.7H1273.4V1300.4H1257.8Z"/><path fill="#301b34" d="M961 1073.4H1023.5V1116H961ZM1054.7 1116H1070.3V1148.6H1054.7ZM1101.6 1116H1117.2V1148.6H1101.6ZM804.8 1148.6H820.4V1170.3H804.8ZM820.4 1148.6H836V1170.3H820.4ZM1101.6 1148.6H1117.2V1170.3H1101.6ZM1132.8 1148.6H1148.4V1170.3H1132.8ZM581.2 1170.3H602.8V1192H581.2ZM757.9 1170.3H773.5V1192H757.9ZM1148.4 1170.3H1164V1192H1148.4ZM726.7 1192H742.3V1213.6H726.7ZM1164 1192H1179.7V1213.6H1164ZM1179.7 1192H1195.3V1213.6H1179.7ZM602.8 1213.6H624.4V1235.3H602.8ZM695.4 1213.6H711.1V1235.3H695.4ZM679.8 1235.3H695.4V1257H679.8ZM646 1257H664.2V1278.7H646Z"/><path fill="#462c54" d="M106 1116H127.6V1148.6H106ZM127.6 1116H149.2V1148.6H127.6ZM170.8 1116H192.4V1148.6H170.8ZM106 1148.6H127.6V1170.3H106ZM127.6 1148.6H149.2V1170.3H127.6ZM149.2 1148.6H170.8V1170.3H149.2ZM170.8 1148.6H192.4V1170.3H170.8ZM192.4 1148.6H214V1170.3H192.4ZM257.2 1148.6H278.8V1170.3H257.2ZM343.6 1148.6H365.2V1170.3H343.6ZM451.6 1148.6H473.2V1170.3H451.6ZM929.7 1148.6H945.4V1170.3H929.7ZM516.4 1170.3H538V1192H516.4ZM867.3 1170.3H882.9V1192H867.3ZM914.1 1170.3H929.7V1192H914.1ZM992.2 1170.3H1007.8V1192H992.2ZM1007.8 1170.3H1023.5V1192H1007.8ZM1023.5 1170.3H1039.1V1192H1023.5ZM836 1192H851.6V1213.6H836ZM851.6 1192H867.3V1213.6H851.6ZM820.4 1213.6H836V1235.3H820.4ZM1132.8 1213.6H1148.4V1235.3H1132.8ZM789.2 1235.3H804.8V1257H789.2ZM804.8 1235.3H820.4V1257H804.8ZM1148.4 1235.3H1164V1257H1148.4ZM757.9 1257H773.5V1278.7H757.9ZM711.1 1278.7H726.7V1300.4H711.1ZM602.8 1300.4H624.4V1322H602.8ZM695.4 1300.4H711.1V1322H695.4ZM711.1 1300.4H726.7V1322H711.1ZM1195.3 1300.4H1210.9V1322H1195.3ZM1210.9 1300.4H1226.5V1322H1210.9ZM679.8 1322H695.4V1343.7H679.8ZM695.4 1322H711.1V1343.7H695.4ZM1210.9 1322H1226.5V1343.7H1210.9ZM624.4 1343.7H646V1365.4H624.4ZM664.2 1343.7H679.8V1365.4H664.2ZM1257.8 1343.7H1273.4V1365.4H1257.8ZM1242.1 1365.4H1257.8V1387.1H1242.1Z"/><path fill="#442a50" d="M149.2 1116H170.8V1148.6H149.2ZM257.2 1116H278.8V1148.6H257.2ZM278.8 1116H300.4V1148.6H278.8ZM300.4 1116H322V1148.6H300.4ZM365.2 1116H386.8V1148.6H365.2ZM451.6 1116H473.2V1148.6H451.6ZM214 1148.6H235.6V1170.3H214ZM300.4 1148.6H322V1170.3H300.4ZM322 1148.6H343.6V1170.3H322ZM365.2 1148.6H386.8V1170.3H365.2ZM430 1148.6H451.6V1170.3H430ZM898.5 1148.6H914.1V1170.3H898.5ZM945.4 1148.6H961V1170.3H945.4ZM961 1148.6H976.6V1170.3H961ZM976.6 1148.6H992.2V1170.3H976.6ZM992.2 1148.6H1007.8V1170.3H992.2ZM851.6 1170.3H867.3V1192H851.6ZM882.9 1170.3H898.5V1192H882.9ZM538 1192H559.6V1213.6H538ZM1085.9 1192H1101.6V1213.6H1085.9ZM538 1213.6H559.6V1235.3H538ZM1117.2 1213.6H1132.8V1235.3H1117.2ZM742.3 1235.3H757.9V1257H742.3ZM726.7 1257H742.3V1278.7H726.7ZM742.3 1257H757.9V1278.7H742.3ZM1164 1257H1179.7V1278.7H1164ZM1179.7 1257H1195.3V1278.7H1179.7ZM624.4 1300.4H646V1322H624.4ZM1226.5 1300.4H1242.1V1322H1226.5ZM624.4 1322H646V1343.7H624.4ZM646 1322H664.2V1343.7H646ZM664.2 1322H679.8V1343.7H664.2ZM1226.5 1322H1242.1V1343.7H1226.5ZM1257.8 1322H1273.4V1343.7H1257.8ZM1242.1 1343.7H1257.8V1365.4H1242.1Z"/><path fill="#41274a" d="M192.4 1116H214V1148.6H192.4ZM214 1116H235.6V1148.6H214ZM235.6 1116H257.2V1148.6H235.6ZM343.6 1116H365.2V1148.6H343.6ZM386.8 1116H408.4V1148.6H386.8ZM408.4 1116H430V1148.6H408.4ZM961 1116H976.6V1148.6H961ZM473.2 1148.6H494.8V1170.3H473.2ZM867.3 1148.6H882.9V1170.3H867.3ZM1039.1 1148.6H1054.7V1170.3H1039.1ZM538 1170.3H559.6V1192H538ZM836 1170.3H851.6V1192H836ZM1039.1 1170.3H1054.7V1192H1039.1ZM820.4 1192H836V1213.6H820.4ZM1117.2 1192H1132.8V1213.6H1117.2ZM559.6 1213.6H581.2V1235.3H559.6ZM757.9 1213.6H773.5V1235.3H757.9ZM1148.4 1213.6H1164V1235.3H1148.4ZM581.2 1235.3H602.8V1257H581.2ZM757.9 1235.3H773.5V1257H757.9ZM711.1 1257H726.7V1278.7H711.1ZM1195.3 1257H1210.9V1278.7H1195.3ZM602.8 1278.7H624.4V1300.4H602.8ZM624.4 1278.7H646V1300.4H624.4ZM679.8 1278.7H695.4V1300.4H679.8ZM695.4 1278.7H711.1V1300.4H695.4ZM679.8 1300.4H695.4V1322H679.8ZM1273.4 1300.4H1288.5V1322H1273.4Z"/><path fill="#482d59" d="M235.6 1148.6H257.2V1170.3H235.6ZM278.8 1148.6H300.4V1170.3H278.8ZM386.8 1148.6H408.4V1170.3H386.8ZM408.4 1148.6H430V1170.3H408.4ZM494.8 1170.3H516.4V1192H494.8ZM898.5 1170.3H914.1V1192H898.5ZM867.3 1192H882.9V1213.6H867.3ZM1054.7 1192H1070.3V1213.6H1054.7ZM1070.3 1192H1085.9V1213.6H1070.3ZM804.8 1213.6H820.4V1235.3H804.8ZM559.6 1235.3H581.2V1257H559.6ZM773.5 1235.3H789.2V1257H773.5ZM1117.2 1235.3H1132.8V1257H1117.2ZM1132.8 1235.3H1148.4V1257H1132.8ZM559.6 1257H581.2V1278.7H559.6ZM581.2 1257H602.8V1278.7H581.2ZM773.5 1257H789.2V1278.7H773.5ZM1148.4 1257H1164V1278.7H1148.4ZM581.2 1278.7H602.8V1300.4H581.2ZM726.7 1278.7H742.3V1300.4H726.7ZM757.9 1278.7H773.5V1300.4H757.9ZM1179.7 1278.7H1195.3V1300.4H1179.7ZM1195.3 1278.7H1210.9V1300.4H1195.3ZM602.8 1322H624.4V1343.7H602.8ZM1273.4 1322H1288.5V1343.7H1273.4ZM679.8 1343.7H695.4V1365.4H679.8ZM1226.5 1343.7H1242.1V1365.4H1226.5ZM1273.4 1343.7H1288.5V1365.4H1273.4Z"/><path fill="#503073" d="M106 1170.3H127.6V1192H106ZM149.2 1170.3H170.8V1192H149.2ZM214 1170.3H235.6V1192H214ZM257.2 1170.3H278.8V1192H257.2ZM322 1170.3H343.6V1192H322ZM898.5 1213.6H914.1V1235.3H898.5ZM914.1 1213.6H929.7V1235.3H914.1ZM867.3 1235.3H882.9V1257H867.3ZM1054.7 1235.3H1070.3V1257H1054.7ZM757.9 1300.4H773.5V1322H757.9ZM602.8 1365.4H624.4V1387.1H602.8ZM664.2 1408.8H679.8V1430.4H664.2ZM1257.8 1408.8H1273.4V1430.4H1257.8Z"/><path fill="#50306f" d="M127.6 1170.3H149.2V1192H127.6ZM300.4 1170.3H322V1192H300.4ZM451.6 1192H473.2V1213.6H451.6ZM929.7 1192H945.4V1213.6H929.7ZM882.9 1213.6H898.5V1235.3H882.9ZM1007.8 1213.6H1023.5V1235.3H1007.8ZM516.4 1235.3H538V1257H516.4ZM836 1235.3H851.6V1257H836ZM1070.3 1235.3H1085.9V1257H1070.3ZM538 1278.7H559.6V1300.4H538ZM789.2 1278.7H804.8V1300.4H789.2ZM1132.8 1278.7H1148.4V1300.4H1132.8ZM559.6 1300.4H581.2V1322H559.6ZM1148.4 1300.4H1164V1322H1148.4ZM726.7 1322H742.3V1343.7H726.7ZM1179.7 1322H1195.3V1343.7H1179.7ZM1195.3 1343.7H1210.9V1365.4H1195.3ZM1210.9 1365.4H1226.5V1387.1H1210.9ZM624.4 1387.1H646V1408.8H624.4ZM646 1387.1H664.2V1408.8H646ZM1273.4 1387.1H1288.5V1408.8H1273.4Z"/><path fill="#513077" d="M170.8 1170.3H192.4V1192H170.8ZM192.4 1170.3H214V1192H192.4ZM235.6 1170.3H257.2V1192H235.6ZM343.6 1170.3H365.2V1192H343.6ZM430 1192H451.6V1213.6H430ZM992.2 1213.6H1007.8V1235.3H992.2ZM820.4 1257H836V1278.7H820.4ZM836 1257H851.6V1278.7H836ZM742.3 1322H757.9V1343.7H742.3ZM711.1 1365.4H726.7V1387.1H711.1ZM1195.3 1365.4H1210.9V1387.1H1195.3ZM695.4 1387.1H711.1V1408.8H695.4ZM1210.9 1387.1H1226.5V1408.8H1210.9ZM1242.1 1408.8H1257.8V1430.4H1242.1Z"/><path fill="#4f306a" d="M278.8 1170.3H300.4V1192H278.8ZM365.2 1170.3H386.8V1192H365.2ZM430 1170.3H451.6V1192H430ZM473.2 1192H494.8V1213.6H473.2ZM494.8 1213.6H516.4V1235.3H494.8ZM1023.5 1213.6H1039.1V1235.3H1023.5ZM851.6 1235.3H867.3V1257H851.6ZM1085.9 1235.3H1101.6V1257H1085.9ZM538 1257H559.6V1278.7H538ZM804.8 1257H820.4V1278.7H804.8ZM1101.6 1257H1117.2V1278.7H1101.6ZM1164 1300.4H1179.7V1322H1164ZM581.2 1322H602.8V1343.7H581.2ZM711.1 1343.7H726.7V1365.4H711.1ZM646 1365.4H664.2V1387.1H646Z"/><path fill="#4d3066" d="M386.8 1170.3H408.4V1192H386.8ZM914.1 1192H929.7V1213.6H914.1ZM945.4 1192H961V1213.6H945.4ZM961 1192H976.6V1213.6H961ZM976.6 1192H992.2V1213.6H976.6ZM992.2 1192H1007.8V1213.6H992.2ZM1039.1 1213.6H1054.7V1235.3H1039.1ZM820.4 1235.3H836V1257H820.4ZM1117.2 1257H1132.8V1278.7H1117.2ZM1148.4 1278.7H1164V1300.4H1148.4ZM742.3 1300.4H757.9V1322H742.3ZM602.8 1343.7H624.4V1365.4H602.8ZM695.4 1343.7H711.1V1365.4H695.4ZM695.4 1365.4H711.1V1387.1H695.4ZM1226.5 1365.4H1242.1V1387.1H1226.5ZM1273.4 1365.4H1288.5V1387.1H1273.4ZM664.2 1387.1H679.8V1408.8H664.2ZM679.8 1387.1H695.4V1408.8H679.8ZM1226.5 1387.1H1242.1V1408.8H1226.5ZM1257.8 1387.1H1273.4V1408.8H1257.8Z"/><path fill="#4c3061" d="M408.4 1170.3H430V1192H408.4ZM473.2 1170.3H494.8V1192H473.2ZM961 1170.3H976.6V1192H961ZM494.8 1192H516.4V1213.6H494.8ZM898.5 1192H914.1V1213.6H898.5ZM1007.8 1192H1023.5V1213.6H1007.8ZM1023.5 1192H1039.1V1213.6H1023.5ZM516.4 1213.6H538V1235.3H516.4ZM867.3 1213.6H882.9V1235.3H867.3ZM1054.7 1213.6H1070.3V1235.3H1054.7ZM538 1235.3H559.6V1257H538ZM1101.6 1235.3H1117.2V1257H1101.6ZM789.2 1257H804.8V1278.7H789.2ZM773.5 1278.7H789.2V1300.4H773.5ZM581.2 1300.4H602.8V1322H581.2ZM1179.7 1300.4H1195.3V1322H1179.7ZM1195.3 1322H1210.9V1343.7H1195.3ZM1210.9 1343.7H1226.5V1365.4H1210.9ZM624.4 1365.4H646V1387.1H624.4ZM679.8 1365.4H695.4V1387.1H679.8Z"/><path fill="#4a2f5d" d="M451.6 1170.3H473.2V1192H451.6ZM929.7 1170.3H945.4V1192H929.7ZM945.4 1170.3H961V1192H945.4ZM976.6 1170.3H992.2V1192H976.6ZM516.4 1192H538V1213.6H516.4ZM882.9 1192H898.5V1213.6H882.9ZM1039.1 1192H1054.7V1213.6H1039.1ZM836 1213.6H851.6V1235.3H836ZM851.6 1213.6H867.3V1235.3H851.6ZM1070.3 1213.6H1085.9V1235.3H1070.3ZM1085.9 1213.6H1101.6V1235.3H1085.9ZM1101.6 1213.6H1117.2V1235.3H1101.6ZM1132.8 1257H1148.4V1278.7H1132.8ZM559.6 1278.7H581.2V1300.4H559.6ZM742.3 1278.7H757.9V1300.4H742.3ZM1164 1278.7H1179.7V1300.4H1164ZM726.7 1300.4H742.3V1322H726.7ZM711.1 1322H726.7V1343.7H711.1ZM646 1343.7H664.2V1365.4H646ZM664.2 1365.4H679.8V1387.1H664.2ZM1257.8 1365.4H1273.4V1387.1H1257.8ZM1242.1 1387.1H1257.8V1408.8H1242.1Z"/><path fill="#53308a" d="M106 1192H127.6V1213.6H106ZM214 1192H235.6V1213.6H214ZM300.4 1192H322V1213.6H300.4ZM322 1192H343.6V1213.6H322ZM494.8 1235.3H516.4V1257H494.8ZM1007.8 1235.3H1023.5V1257H1007.8ZM1023.5 1235.3H1039.1V1257H1023.5ZM1054.7 1257H1070.3V1278.7H1054.7ZM538 1300.4H559.6V1322H538ZM1117.2 1300.4H1132.8V1322H1117.2ZM742.3 1343.7H757.9V1365.4H742.3ZM602.8 1387.1H624.4V1408.8H602.8ZM1242.1 1430.4H1257.8V1452.1H1242.1Z"/><path fill="#54308f" d="M127.6 1192H149.2V1213.6H127.6ZM149.2 1192H170.8V1213.6H149.2ZM170.8 1192H192.4V1213.6H170.8ZM278.8 1192H300.4V1213.6H278.8ZM898.5 1235.3H914.1V1257H898.5ZM820.4 1278.7H836V1300.4H820.4ZM789.2 1300.4H804.8V1322H789.2ZM559.6 1322H581.2V1343.7H559.6ZM1148.4 1322H1164V1343.7H1148.4ZM1164 1343.7H1179.7V1365.4H1164ZM581.2 1365.4H602.8V1387.1H581.2ZM711.1 1387.1H726.7V1408.8H711.1ZM646 1430.4H664.2V1452.1H646ZM664.2 1430.4H679.8V1452.1H664.2ZM1273.4 1430.4H1288.5V1452.1H1273.4Z"/><path fill="#523192" d="M192.4 1192H214V1213.6H192.4ZM235.6 1192H257.2V1213.6H235.6ZM257.2 1192H278.8V1213.6H257.2ZM343.6 1192H365.2V1213.6H343.6ZM451.6 1213.6H473.2V1235.3H451.6ZM473.2 1235.3H494.8V1257H473.2ZM914.1 1235.3H929.7V1257H914.1ZM867.3 1257H882.9V1278.7H867.3ZM516.4 1278.7H538V1300.4H516.4ZM836 1278.7H851.6V1300.4H836ZM1132.8 1322H1148.4V1343.7H1132.8ZM726.7 1365.4H742.3V1387.1H726.7ZM1179.7 1365.4H1195.3V1387.1H1179.7ZM1195.3 1387.1H1210.9V1408.8H1195.3ZM695.4 1408.8H711.1V1430.4H695.4Z"/><path fill="#533084" d="M365.2 1192H386.8V1213.6H365.2ZM945.4 1213.6H961V1235.3H945.4ZM961 1213.6H976.6V1235.3H961ZM516.4 1257H538V1278.7H516.4ZM804.8 1278.7H820.4V1300.4H804.8ZM1101.6 1278.7H1117.2V1300.4H1101.6ZM1226.5 1408.8H1242.1V1430.4H1226.5ZM1273.4 1408.8H1288.5V1430.4H1273.4ZM1257.8 1430.4H1273.4V1452.1H1257.8Z"/><path fill="#52307f" d="M386.8 1192H408.4V1213.6H386.8ZM473.2 1213.6H494.8V1235.3H473.2ZM929.7 1213.6H945.4V1235.3H929.7ZM976.6 1213.6H992.2V1235.3H976.6ZM882.9 1235.3H898.5V1257H882.9ZM851.6 1257H867.3V1278.7H851.6ZM1070.3 1257H1085.9V1278.7H1070.3ZM1117.2 1278.7H1132.8V1300.4H1117.2ZM757.9 1322H773.5V1343.7H757.9ZM581.2 1343.7H602.8V1365.4H581.2ZM1179.7 1343.7H1195.3V1365.4H1179.7ZM624.4 1408.8H646V1430.4H624.4ZM646 1408.8H664.2V1430.4H646Z"/><path fill="#52307b" d="M408.4 1192H430V1213.6H408.4ZM1039.1 1235.3H1054.7V1257H1039.1ZM1085.9 1257H1101.6V1278.7H1085.9ZM773.5 1300.4H789.2V1322H773.5ZM1132.8 1300.4H1148.4V1322H1132.8ZM1164 1322H1179.7V1343.7H1164ZM726.7 1343.7H742.3V1365.4H726.7ZM679.8 1408.8H695.4V1430.4H679.8Z"/><path fill="#483b98" d="M106 1213.6H127.6V1235.3H106ZM149.2 1213.6H170.8V1235.3H149.2ZM192.4 1213.6H214V1235.3H192.4ZM300.4 1213.6H322V1235.3H300.4ZM343.6 1213.6H365.2V1235.3H343.6ZM1007.8 1257H1023.5V1278.7H1007.8ZM867.3 1278.7H882.9V1300.4H867.3ZM804.8 1322H820.4V1343.7H804.8ZM773.5 1343.7H789.2V1365.4H773.5ZM559.6 1365.4H581.2V1387.1H559.6ZM602.8 1430.4H624.4V1452.1H602.8ZM1242.1 1452.1H1257.8V1473.8H1242.1Z"/><path fill="#493898" d="M127.6 1213.6H149.2V1235.3H127.6ZM214 1213.6H235.6V1235.3H214ZM278.8 1213.6H300.4V1235.3H278.8ZM322 1213.6H343.6V1235.3H322ZM451.6 1235.3H473.2V1257H451.6ZM945.4 1235.3H961V1257H945.4ZM961 1235.3H976.6V1257H961ZM1054.7 1278.7H1070.3V1300.4H1054.7ZM820.4 1300.4H836V1322H820.4ZM1179.7 1387.1H1195.3V1408.8H1179.7ZM695.4 1430.4H711.1V1452.1H695.4ZM1210.9 1430.4H1226.5V1452.1H1210.9ZM664.2 1452.1H679.8V1473.8H664.2ZM1273.4 1452.1H1288.5V1473.8H1273.4Z"/><path fill="#493998" d="M170.8 1213.6H192.4V1235.3H170.8ZM235.6 1213.6H257.2V1235.3H235.6ZM257.2 1213.6H278.8V1235.3H257.2ZM386.8 1213.6H408.4V1235.3H386.8ZM473.2 1257H494.8V1278.7H473.2ZM898.5 1257H914.1V1278.7H898.5ZM789.2 1322H804.8V1343.7H789.2ZM1148.4 1343.7H1164V1365.4H1148.4ZM711.1 1408.8H726.7V1430.4H711.1ZM624.4 1452.1H646V1473.8H624.4Z"/><path fill="#4a3698" d="M365.2 1213.6H386.8V1235.3H365.2ZM494.8 1257H516.4V1278.7H494.8ZM851.6 1278.7H867.3V1300.4H851.6ZM1070.3 1278.7H1085.9V1300.4H1070.3ZM516.4 1300.4H538V1322H516.4ZM1117.2 1322H1132.8V1343.7H1117.2ZM1164 1365.4H1179.7V1387.1H1164ZM581.2 1387.1H602.8V1408.8H581.2ZM646 1452.1H664.2V1473.8H646ZM1257.8 1452.1H1273.4V1473.8H1257.8Z"/><path fill="#4d3496" d="M408.4 1213.6H430V1235.3H408.4ZM430 1213.6H451.6V1235.3H430ZM929.7 1235.3H945.4V1257H929.7ZM976.6 1235.3H992.2V1257H976.6ZM882.9 1257H898.5V1278.7H882.9ZM1023.5 1257H1039.1V1278.7H1023.5ZM1039.1 1257H1054.7V1278.7H1039.1ZM804.8 1300.4H820.4V1322H804.8ZM1101.6 1300.4H1117.2V1322H1101.6ZM773.5 1322H789.2V1343.7H773.5ZM559.6 1343.7H581.2V1365.4H559.6ZM742.3 1365.4H757.9V1387.1H742.3ZM726.7 1387.1H742.3V1408.8H726.7ZM1195.3 1408.8H1210.9V1430.4H1195.3ZM624.4 1430.4H646V1452.1H624.4ZM679.8 1430.4H695.4V1452.1H679.8Z"/><path fill="#3f49a1" d="M106 1235.3H127.6V1257H106ZM127.6 1235.3H149.2V1257H127.6ZM322 1235.3H343.6V1257H322ZM343.6 1235.3H365.2V1257H343.6ZM430 1257H451.6V1278.7H430ZM867.3 1300.4H882.9V1322H867.3ZM882.9 1300.4H898.5V1322H882.9ZM836 1322H851.6V1343.7H836ZM1085.9 1322H1101.6V1343.7H1085.9ZM804.8 1343.7H820.4V1365.4H804.8ZM538 1365.4H559.6V1387.1H538ZM559.6 1408.8H581.2V1430.4H559.6ZM581.2 1430.4H602.8V1452.1H581.2ZM726.7 1430.4H742.3V1452.1H726.7ZM1179.7 1430.4H1195.3V1452.1H1179.7ZM711.1 1452.1H726.7V1473.8H711.1ZM679.8 1473.8H695.4V1495.5H679.8ZM1257.8 1495.5H1273.4V1517.2H1257.8ZM1273.4 1495.5H1288.5V1517.2H1273.4Z"/><path fill="#41479f" d="M149.2 1235.3H170.8V1257H149.2ZM170.8 1235.3H192.4V1257H170.8ZM214 1235.3H235.6V1257H214ZM235.6 1235.3H257.2V1257H235.6ZM473.2 1278.7H494.8V1300.4H473.2ZM914.1 1278.7H929.7V1300.4H914.1ZM516.4 1343.7H538V1365.4H516.4ZM1132.8 1365.4H1148.4V1387.1H1132.8ZM1148.4 1387.1H1164V1408.8H1148.4ZM1164 1408.8H1179.7V1430.4H1164ZM624.4 1473.8H646V1495.5H624.4ZM1257.8 1473.8H1273.4V1495.5H1257.8Z"/><path fill="#42459e" d="M192.4 1235.3H214V1257H192.4ZM278.8 1235.3H300.4V1257H278.8ZM300.4 1235.3H322V1257H300.4ZM365.2 1235.3H386.8V1257H365.2ZM1007.8 1278.7H1023.5V1300.4H1007.8ZM820.4 1322H836V1343.7H820.4ZM1117.2 1343.7H1132.8V1365.4H1117.2ZM773.5 1365.4H789.2V1387.1H773.5ZM1273.4 1473.8H1288.5V1495.5H1273.4Z"/><path fill="#3e4ba2" d="M257.2 1235.3H278.8V1257H257.2ZM976.6 1278.7H992.2V1300.4H976.6ZM1039.1 1300.4H1054.7V1322H1039.1ZM1101.6 1343.7H1117.2V1365.4H1101.6ZM757.9 1387.1H773.5V1408.8H757.9ZM742.3 1408.8H757.9V1430.4H742.3ZM602.8 1452.1H624.4V1473.8H602.8ZM1195.3 1452.1H1210.9V1473.8H1195.3ZM1242.1 1473.8H1257.8V1495.5H1242.1Z"/><path fill="#43429d" d="M386.8 1235.3H408.4V1257H386.8ZM961 1257H976.6V1278.7H961ZM898.5 1278.7H914.1V1300.4H898.5ZM494.8 1300.4H516.4V1322H494.8ZM1054.7 1300.4H1070.3V1322H1054.7ZM559.6 1387.1H581.2V1408.8H559.6ZM1210.9 1452.1H1226.5V1473.8H1210.9Z"/><path fill="#463e9a" d="M408.4 1235.3H430V1257H408.4ZM914.1 1257H929.7V1278.7H914.1ZM929.7 1257H945.4V1278.7H929.7ZM992.2 1257H1007.8V1278.7H992.2ZM1070.3 1300.4H1085.9V1322H1070.3ZM1085.9 1300.4H1101.6V1322H1085.9ZM1132.8 1343.7H1148.4V1365.4H1132.8ZM757.9 1365.4H773.5V1387.1H757.9ZM1148.4 1365.4H1164V1387.1H1148.4ZM742.3 1387.1H757.9V1408.8H742.3ZM1179.7 1408.8H1195.3V1430.4H1179.7ZM679.8 1452.1H695.4V1473.8H679.8ZM1226.5 1452.1H1242.1V1473.8H1226.5ZM646 1473.8H664.2V1495.5H646Z"/><path fill="#473d99" d="M430 1235.3H451.6V1257H430ZM976.6 1257H992.2V1278.7H976.6ZM494.8 1278.7H516.4V1300.4H494.8ZM882.9 1278.7H898.5V1300.4H882.9ZM836 1300.4H851.6V1322H836ZM538 1343.7H559.6V1365.4H538Z"/><path fill="#4f3394" d="M992.2 1235.3H1007.8V1257H992.2ZM1085.9 1278.7H1101.6V1300.4H1085.9ZM538 1322H559.6V1343.7H538ZM757.9 1343.7H773.5V1365.4H757.9ZM602.8 1408.8H624.4V1430.4H602.8ZM1210.9 1408.8H1226.5V1430.4H1210.9ZM1226.5 1430.4H1242.1V1452.1H1226.5Z"/><path fill="#3c52a4" d="M106 1257H127.6V1278.7H106ZM127.6 1257H149.2V1278.7H127.6ZM149.2 1257H170.8V1278.7H149.2ZM170.8 1257H192.4V1278.7H170.8ZM192.4 1257H214V1278.7H192.4ZM214 1257H235.6V1278.7H214ZM235.6 1257H257.2V1278.7H235.6ZM257.2 1257H278.8V1278.7H257.2ZM278.8 1257H300.4V1278.7H278.8ZM300.4 1257H322V1278.7H300.4ZM343.6 1257H365.2V1278.7H343.6ZM430 1278.7H451.6V1300.4H430ZM914.1 1300.4H929.7V1322H914.1ZM992.2 1300.4H1007.8V1322H992.2ZM882.9 1322H898.5V1343.7H882.9ZM1054.7 1322H1070.3V1343.7H1054.7ZM494.8 1343.7H516.4V1365.4H494.8ZM836 1343.7H851.6V1365.4H836ZM804.8 1365.4H820.4V1387.1H804.8ZM789.2 1387.1H804.8V1408.8H789.2ZM1132.8 1387.1H1148.4V1408.8H1132.8ZM1164 1430.4H1179.7V1452.1H1164ZM581.2 1452.1H602.8V1473.8H581.2ZM711.1 1473.8H726.7V1495.5H711.1Z"/><path fill="#3c51a4" d="M322 1257H343.6V1278.7H322ZM365.2 1257H386.8V1278.7H365.2ZM386.8 1257H408.4V1278.7H386.8ZM451.6 1278.7H473.2V1300.4H451.6ZM961 1278.7H976.6V1300.4H961ZM898.5 1300.4H914.1V1322H898.5ZM1007.8 1300.4H1023.5V1322H1007.8ZM867.3 1322H882.9V1343.7H867.3ZM516.4 1365.4H538V1387.1H516.4ZM1101.6 1365.4H1117.2V1387.1H1101.6ZM757.9 1408.8H773.5V1430.4H757.9ZM1148.4 1408.8H1164V1430.4H1148.4ZM559.6 1430.4H581.2V1452.1H559.6ZM1179.7 1452.1H1195.3V1473.8H1179.7ZM602.8 1473.8H624.4V1495.5H602.8ZM1195.3 1473.8H1210.9V1495.5H1195.3Z"/><path fill="#3c4fa4" d="M408.4 1257H430V1278.7H408.4ZM929.7 1278.7H945.4V1300.4H929.7ZM473.2 1300.4H494.8V1322H473.2ZM494.8 1322H516.4V1343.7H494.8ZM851.6 1322H867.3V1343.7H851.6ZM789.2 1365.4H804.8V1387.1H789.2ZM1117.2 1365.4H1132.8V1387.1H1117.2ZM773.5 1387.1H789.2V1408.8H773.5Z"/><path fill="#44409c" d="M451.6 1257H473.2V1278.7H451.6ZM945.4 1257H961V1278.7H945.4ZM1023.5 1278.7H1039.1V1300.4H1023.5ZM851.6 1300.4H867.3V1322H851.6ZM516.4 1322H538V1343.7H516.4ZM789.2 1343.7H804.8V1365.4H789.2ZM581.2 1408.8H602.8V1430.4H581.2ZM726.7 1408.8H742.3V1430.4H726.7ZM711.1 1430.4H726.7V1452.1H711.1ZM695.4 1452.1H711.1V1473.8H695.4Z"/><path fill="#3c55a5" d="M106 1278.7H127.6V1300.4H106ZM127.6 1278.7H149.2V1300.4H127.6ZM149.2 1278.7H170.8V1300.4H149.2ZM170.8 1278.7H192.4V1300.4H170.8ZM192.4 1278.7H214V1300.4H192.4ZM214 1278.7H235.6V1300.4H214ZM235.6 1278.7H257.2V1300.4H235.6ZM257.2 1278.7H278.8V1300.4H257.2ZM278.8 1278.7H300.4V1300.4H278.8ZM300.4 1278.7H322V1300.4H300.4ZM322 1278.7H343.6V1300.4H322ZM343.6 1278.7H365.2V1300.4H343.6ZM365.2 1278.7H386.8V1300.4H365.2ZM408.4 1300.4H430V1322H408.4ZM430 1300.4H451.6V1322H430ZM451.6 1322H473.2V1343.7H451.6ZM898.5 1322H914.1V1343.7H898.5ZM929.7 1322H945.4V1343.7H929.7ZM945.4 1322H961V1343.7H945.4ZM976.6 1322H992.2V1343.7H976.6ZM992.2 1322H1007.8V1343.7H992.2ZM473.2 1343.7H494.8V1365.4H473.2ZM867.3 1343.7H882.9V1365.4H867.3ZM882.9 1343.7H898.5V1365.4H882.9ZM898.5 1343.7H914.1V1365.4H898.5ZM1023.5 1343.7H1039.1V1365.4H1023.5ZM1039.1 1343.7H1054.7V1365.4H1039.1ZM1054.7 1343.7H1070.3V1365.4H1054.7ZM836 1365.4H851.6V1387.1H836ZM851.6 1365.4H867.3V1387.1H851.6ZM1054.7 1365.4H1070.3V1387.1H1054.7ZM1070.3 1365.4H1085.9V1387.1H1070.3ZM494.8 1387.1H516.4V1408.8H494.8ZM804.8 1387.1H820.4V1408.8H804.8ZM820.4 1387.1H836V1408.8H820.4ZM1085.9 1387.1H1101.6V1408.8H1085.9ZM516.4 1408.8H538V1430.4H516.4ZM789.2 1408.8H804.8V1430.4H789.2ZM1117.2 1408.8H1132.8V1430.4H1117.2ZM773.5 1430.4H789.2V1452.1H773.5ZM1132.8 1430.4H1148.4V1452.1H1132.8ZM538 1452.1H559.6V1473.8H538ZM757.9 1452.1H773.5V1473.8H757.9ZM1148.4 1452.1H1164V1473.8H1148.4ZM742.3 1473.8H757.9V1495.5H742.3ZM1164 1473.8H1179.7V1495.5H1164ZM624.4 1495.5H646V1517.2H624.4ZM1226.5 1495.5H1242.1V1517.2H1226.5ZM1242.1 1495.5H1257.8V1517.2H1242.1Z"/><path fill="#3c54a4" d="M386.8 1278.7H408.4V1300.4H386.8ZM451.6 1300.4H473.2V1322H451.6ZM945.4 1300.4H961V1322H945.4ZM473.2 1322H494.8V1343.7H473.2ZM914.1 1322H929.7V1343.7H914.1ZM1007.8 1322H1023.5V1343.7H1007.8ZM494.8 1365.4H516.4V1387.1H494.8ZM1085.9 1365.4H1101.6V1387.1H1085.9ZM516.4 1387.1H538V1408.8H516.4ZM1101.6 1387.1H1117.2V1408.8H1101.6ZM1117.2 1387.1H1132.8V1408.8H1117.2ZM773.5 1408.8H789.2V1430.4H773.5ZM1132.8 1408.8H1148.4V1430.4H1132.8ZM538 1430.4H559.6V1452.1H538ZM1148.4 1430.4H1164V1452.1H1148.4ZM559.6 1452.1H581.2V1473.8H559.6ZM742.3 1452.1H757.9V1473.8H742.3ZM1164 1452.1H1179.7V1473.8H1164ZM581.2 1473.8H602.8V1495.5H581.2ZM1179.7 1473.8H1195.3V1495.5H1179.7ZM646 1495.5H664.2V1517.2H646Z"/><path fill="#3c53a4" d="M408.4 1278.7H430V1300.4H408.4ZM929.7 1300.4H945.4V1322H929.7ZM961 1300.4H976.6V1322H961ZM976.6 1300.4H992.2V1322H976.6ZM1023.5 1322H1039.1V1343.7H1023.5ZM1039.1 1322H1054.7V1343.7H1039.1ZM851.6 1343.7H867.3V1365.4H851.6ZM1070.3 1343.7H1085.9V1365.4H1070.3ZM820.4 1365.4H836V1387.1H820.4ZM538 1408.8H559.6V1430.4H538ZM757.9 1430.4H773.5V1452.1H757.9ZM726.7 1473.8H742.3V1495.5H726.7Z"/><path fill="#3d4da3" d="M945.4 1278.7H961V1300.4H945.4ZM992.2 1278.7H1007.8V1300.4H992.2ZM1023.5 1300.4H1039.1V1322H1023.5ZM1070.3 1322H1085.9V1343.7H1070.3ZM1226.5 1473.8H1242.1V1495.5H1226.5Z"/><path fill="#453f9b" d="M1039.1 1278.7H1054.7V1300.4H1039.1ZM1101.6 1322H1117.2V1343.7H1101.6ZM1164 1387.1H1179.7V1408.8H1164ZM1195.3 1430.4H1210.9V1452.1H1195.3ZM664.2 1473.8H679.8V1495.5H664.2Z"/><path fill="#3c56a6" d="M106 1300.4H127.6V1322H106ZM127.6 1300.4H149.2V1322H127.6ZM214 1300.4H235.6V1322H214ZM257.2 1300.4H278.8V1322H257.2ZM278.8 1300.4H300.4V1322H278.8ZM300.4 1300.4H322V1322H300.4ZM322 1300.4H343.6V1322H322ZM343.6 1300.4H365.2V1322H343.6ZM365.2 1300.4H386.8V1322H365.2ZM386.8 1300.4H408.4V1322H386.8ZM408.4 1322H430V1343.7H408.4ZM430 1322H451.6V1343.7H430ZM961 1322H976.6V1343.7H961ZM451.6 1343.7H473.2V1365.4H451.6ZM914.1 1343.7H929.7V1365.4H914.1ZM976.6 1343.7H992.2V1365.4H976.6ZM1007.8 1343.7H1023.5V1365.4H1007.8ZM473.2 1365.4H494.8V1387.1H473.2ZM867.3 1365.4H882.9V1387.1H867.3ZM882.9 1365.4H898.5V1387.1H882.9ZM1023.5 1365.4H1039.1V1387.1H1023.5ZM1039.1 1365.4H1054.7V1387.1H1039.1ZM473.2 1387.1H494.8V1408.8H473.2ZM836 1387.1H851.6V1408.8H836ZM1070.3 1387.1H1085.9V1408.8H1070.3ZM494.8 1408.8H516.4V1430.4H494.8ZM804.8 1408.8H820.4V1430.4H804.8ZM1070.3 1408.8H1085.9V1430.4H1070.3ZM1085.9 1408.8H1101.6V1430.4H1085.9ZM1101.6 1408.8H1117.2V1430.4H1101.6ZM516.4 1430.4H538V1452.1H516.4ZM789.2 1430.4H804.8V1452.1H789.2ZM804.8 1430.4H820.4V1452.1H804.8ZM1117.2 1430.4H1132.8V1452.1H1117.2ZM773.5 1452.1H789.2V1473.8H773.5ZM789.2 1452.1H804.8V1473.8H789.2ZM1132.8 1452.1H1148.4V1473.8H1132.8ZM559.6 1473.8H581.2V1495.5H559.6ZM757.9 1473.8H773.5V1495.5H757.9ZM602.8 1495.5H624.4V1517.2H602.8ZM664.2 1495.5H679.8V1517.2H664.2Z"/><path fill="#3c57a7" d="M149.2 1300.4H170.8V1322H149.2ZM170.8 1300.4H192.4V1322H170.8ZM192.4 1300.4H214V1322H192.4ZM235.6 1300.4H257.2V1322H235.6ZM106 1322H127.6V1343.7H106ZM149.2 1322H170.8V1343.7H149.2ZM170.8 1322H192.4V1343.7H170.8ZM192.4 1322H214V1343.7H192.4ZM235.6 1322H257.2V1343.7H235.6ZM257.2 1322H278.8V1343.7H257.2ZM278.8 1322H300.4V1343.7H278.8ZM300.4 1322H322V1343.7H300.4ZM343.6 1322H365.2V1343.7H343.6ZM365.2 1322H386.8V1343.7H365.2ZM430 1343.7H451.6V1365.4H430ZM929.7 1343.7H945.4V1365.4H929.7ZM945.4 1343.7H961V1365.4H945.4ZM961 1343.7H976.6V1365.4H961ZM992.2 1343.7H1007.8V1365.4H992.2ZM898.5 1365.4H914.1V1387.1H898.5ZM914.1 1365.4H929.7V1387.1H914.1ZM929.7 1365.4H945.4V1387.1H929.7ZM992.2 1365.4H1007.8V1387.1H992.2ZM851.6 1387.1H867.3V1408.8H851.6ZM867.3 1387.1H882.9V1408.8H867.3ZM1054.7 1387.1H1070.3V1408.8H1054.7ZM820.4 1408.8H836V1430.4H820.4ZM836 1408.8H851.6V1430.4H836ZM1054.7 1408.8H1070.3V1430.4H1054.7ZM494.8 1430.4H516.4V1452.1H494.8ZM1085.9 1430.4H1101.6V1452.1H1085.9ZM1101.6 1430.4H1117.2V1452.1H1101.6ZM516.4 1452.1H538V1473.8H516.4ZM1117.2 1452.1H1132.8V1473.8H1117.2ZM773.5 1473.8H789.2V1495.5H773.5ZM1132.8 1473.8H1148.4V1495.5H1132.8ZM1148.4 1473.8H1164V1495.5H1148.4Z"/><path fill="#3c58a8" d="M127.6 1322H149.2V1343.7H127.6ZM214 1322H235.6V1343.7H214ZM322 1322H343.6V1343.7H322ZM386.8 1322H408.4V1343.7H386.8ZM106 1343.7H127.6V1365.4H106ZM127.6 1343.7H149.2V1365.4H127.6ZM149.2 1343.7H170.8V1365.4H149.2ZM170.8 1343.7H192.4V1365.4H170.8ZM192.4 1343.7H214V1365.4H192.4ZM214 1343.7H235.6V1365.4H214ZM257.2 1343.7H278.8V1365.4H257.2ZM278.8 1343.7H300.4V1365.4H278.8ZM300.4 1343.7H322V1365.4H300.4ZM322 1343.7H343.6V1365.4H322ZM343.6 1343.7H365.2V1365.4H343.6ZM365.2 1343.7H386.8V1365.4H365.2ZM386.8 1343.7H408.4V1365.4H386.8ZM106 1365.4H127.6V1387.1H106ZM149.2 1365.4H170.8V1387.1H149.2ZM214 1365.4H235.6V1387.1H214ZM257.2 1365.4H278.8V1387.1H257.2ZM300.4 1365.4H322V1387.1H300.4ZM322 1365.4H343.6V1387.1H322ZM408.4 1365.4H430V1387.1H408.4ZM451.6 1365.4H473.2V1387.1H451.6ZM1007.8 1365.4H1023.5V1387.1H1007.8ZM149.2 1387.1H170.8V1408.8H149.2ZM214 1387.1H235.6V1408.8H214ZM343.6 1387.1H365.2V1408.8H343.6ZM882.9 1387.1H898.5V1408.8H882.9ZM914.1 1387.1H929.7V1408.8H914.1ZM929.7 1387.1H945.4V1408.8H929.7ZM961 1387.1H976.6V1408.8H961ZM1007.8 1387.1H1023.5V1408.8H1007.8ZM1039.1 1387.1H1054.7V1408.8H1039.1ZM473.2 1408.8H494.8V1430.4H473.2ZM851.6 1408.8H867.3V1430.4H851.6ZM820.4 1430.4H836V1452.1H820.4ZM804.8 1452.1H820.4V1473.8H804.8ZM538 1473.8H559.6V1495.5H538ZM1117.2 1473.8H1132.8V1495.5H1117.2ZM679.8 1495.5H695.4V1517.2H679.8ZM711.1 1495.5H726.7V1517.2H711.1ZM726.7 1495.5H742.3V1517.2H726.7ZM742.3 1495.5H757.9V1517.2H742.3Z"/><path fill="#3c59a9" d="M235.6 1343.7H257.2V1365.4H235.6ZM408.4 1343.7H430V1365.4H408.4ZM127.6 1365.4H149.2V1387.1H127.6ZM170.8 1365.4H192.4V1387.1H170.8ZM278.8 1365.4H300.4V1387.1H278.8ZM961 1365.4H976.6V1387.1H961ZM976.6 1365.4H992.2V1387.1H976.6ZM127.6 1387.1H149.2V1408.8H127.6ZM257.2 1387.1H278.8V1408.8H257.2ZM300.4 1387.1H322V1408.8H300.4ZM322 1387.1H343.6V1408.8H322ZM386.8 1387.1H408.4V1408.8H386.8ZM408.4 1387.1H430V1408.8H408.4ZM451.6 1387.1H473.2V1408.8H451.6ZM945.4 1387.1H961V1408.8H945.4ZM106 1408.8H127.6V1430.4H106ZM322 1408.8H343.6V1430.4H322ZM343.6 1408.8H365.2V1430.4H343.6ZM408.4 1408.8H430V1430.4H408.4ZM430 1408.8H451.6V1430.4H430ZM992.2 1408.8H1007.8V1430.4H992.2ZM127.6 1430.4H149.2V1452.1H127.6ZM867.3 1430.4H882.9V1452.1H867.3ZM882.9 1430.4H898.5V1452.1H882.9ZM914.1 1430.4H929.7V1452.1H914.1ZM1023.5 1430.4H1039.1V1452.1H1023.5ZM914.1 1452.1H929.7V1473.8H914.1ZM1101.6 1452.1H1117.2V1473.8H1101.6ZM695.4 1495.5H711.1V1517.2H695.4Z"/><path fill="#3c50a4" d="M820.4 1343.7H836V1365.4H820.4ZM1085.9 1343.7H1101.6V1365.4H1085.9ZM538 1387.1H559.6V1408.8H538ZM742.3 1430.4H757.9V1452.1H742.3ZM726.7 1452.1H742.3V1473.8H726.7ZM695.4 1473.8H711.1V1495.5H695.4ZM1210.9 1473.8H1226.5V1495.5H1210.9Z"/><path fill="#3d5aaa" d="M192.4 1365.4H214V1387.1H192.4ZM235.6 1365.4H257.2V1387.1H235.6ZM343.6 1365.4H365.2V1387.1H343.6ZM365.2 1365.4H386.8V1387.1H365.2ZM386.8 1365.4H408.4V1387.1H386.8ZM430 1365.4H451.6V1387.1H430ZM945.4 1365.4H961V1387.1H945.4ZM106 1387.1H127.6V1408.8H106ZM192.4 1387.1H214V1408.8H192.4ZM235.6 1387.1H257.2V1408.8H235.6ZM278.8 1387.1H300.4V1408.8H278.8ZM430 1387.1H451.6V1408.8H430ZM898.5 1387.1H914.1V1408.8H898.5ZM976.6 1387.1H992.2V1408.8H976.6ZM992.2 1387.1H1007.8V1408.8H992.2ZM1023.5 1387.1H1039.1V1408.8H1023.5ZM127.6 1408.8H149.2V1430.4H127.6ZM170.8 1408.8H192.4V1430.4H170.8ZM192.4 1408.8H214V1430.4H192.4ZM214 1408.8H235.6V1430.4H214ZM278.8 1408.8H300.4V1430.4H278.8ZM386.8 1408.8H408.4V1430.4H386.8ZM882.9 1408.8H898.5V1430.4H882.9ZM898.5 1408.8H914.1V1430.4H898.5ZM929.7 1408.8H945.4V1430.4H929.7ZM945.4 1408.8H961V1430.4H945.4ZM961 1408.8H976.6V1430.4H961ZM976.6 1408.8H992.2V1430.4H976.6ZM1007.8 1408.8H1023.5V1430.4H1007.8ZM1023.5 1408.8H1039.1V1430.4H1023.5ZM1039.1 1408.8H1054.7V1430.4H1039.1ZM192.4 1430.4H214V1452.1H192.4ZM214 1430.4H235.6V1452.1H214ZM257.2 1430.4H278.8V1452.1H257.2ZM322 1430.4H343.6V1452.1H322ZM365.2 1430.4H386.8V1452.1H365.2ZM386.8 1430.4H408.4V1452.1H386.8ZM451.6 1430.4H473.2V1452.1H451.6ZM945.4 1430.4H961V1452.1H945.4ZM992.2 1430.4H1007.8V1452.1H992.2ZM1039.1 1430.4H1054.7V1452.1H1039.1ZM1070.3 1430.4H1085.9V1452.1H1070.3ZM106 1452.1H127.6V1473.8H106ZM127.6 1452.1H149.2V1473.8H127.6ZM192.4 1452.1H214V1473.8H192.4ZM214 1452.1H235.6V1473.8H214ZM322 1452.1H343.6V1473.8H322ZM365.2 1452.1H386.8V1473.8H365.2ZM386.8 1452.1H408.4V1473.8H386.8ZM430 1452.1H451.6V1473.8H430ZM473.2 1452.1H494.8V1473.8H473.2ZM820.4 1452.1H836V1473.8H820.4ZM836 1452.1H851.6V1473.8H836ZM882.9 1452.1H898.5V1473.8H882.9ZM898.5 1452.1H914.1V1473.8H898.5ZM992.2 1452.1H1007.8V1473.8H992.2ZM149.2 1473.8H170.8V1495.5H149.2ZM192.4 1473.8H214V1495.5H192.4ZM386.8 1473.8H408.4V1495.5H386.8ZM430 1473.8H451.6V1495.5H430ZM451.6 1473.8H473.2V1495.5H451.6ZM820.4 1473.8H836V1495.5H820.4ZM851.6 1473.8H867.3V1495.5H851.6ZM867.3 1473.8H882.9V1495.5H867.3ZM961 1473.8H976.6V1495.5H961ZM976.6 1473.8H992.2V1495.5H976.6ZM581.2 1495.5H602.8V1517.2H581.2ZM1195.3 1517.2H1210.9V1538.8H1195.3ZM1210.9 1517.2H1226.5V1538.8H1210.9ZM1273.4 1517.2H1288.5V1538.8H1273.4Z"/><path fill="#3d5caa" d="M170.8 1387.1H192.4V1408.8H170.8ZM365.2 1387.1H386.8V1408.8H365.2ZM149.2 1408.8H170.8V1430.4H149.2ZM235.6 1408.8H257.2V1430.4H235.6ZM257.2 1408.8H278.8V1430.4H257.2ZM300.4 1408.8H322V1430.4H300.4ZM365.2 1408.8H386.8V1430.4H365.2ZM451.6 1408.8H473.2V1430.4H451.6ZM867.3 1408.8H882.9V1430.4H867.3ZM914.1 1408.8H929.7V1430.4H914.1ZM106 1430.4H127.6V1452.1H106ZM235.6 1430.4H257.2V1452.1H235.6ZM343.6 1430.4H365.2V1452.1H343.6ZM430 1430.4H451.6V1452.1H430ZM836 1430.4H851.6V1452.1H836ZM851.6 1430.4H867.3V1452.1H851.6ZM898.5 1430.4H914.1V1452.1H898.5ZM929.7 1430.4H945.4V1452.1H929.7ZM961 1430.4H976.6V1452.1H961ZM976.6 1430.4H992.2V1452.1H976.6ZM1054.7 1430.4H1070.3V1452.1H1054.7ZM170.8 1452.1H192.4V1473.8H170.8ZM235.6 1452.1H257.2V1473.8H235.6ZM343.6 1452.1H365.2V1473.8H343.6ZM494.8 1452.1H516.4V1473.8H494.8ZM851.6 1452.1H867.3V1473.8H851.6ZM867.3 1452.1H882.9V1473.8H867.3ZM929.7 1452.1H945.4V1473.8H929.7ZM976.6 1452.1H992.2V1473.8H976.6ZM1007.8 1452.1H1023.5V1473.8H1007.8ZM1039.1 1452.1H1054.7V1473.8H1039.1ZM1070.3 1452.1H1085.9V1473.8H1070.3ZM106 1473.8H127.6V1495.5H106ZM127.6 1473.8H149.2V1495.5H127.6ZM235.6 1473.8H257.2V1495.5H235.6ZM300.4 1473.8H322V1495.5H300.4ZM343.6 1473.8H365.2V1495.5H343.6ZM365.2 1473.8H386.8V1495.5H365.2ZM408.4 1473.8H430V1495.5H408.4ZM473.2 1473.8H494.8V1495.5H473.2ZM494.8 1473.8H516.4V1495.5H494.8ZM804.8 1473.8H820.4V1495.5H804.8ZM882.9 1473.8H898.5V1495.5H882.9ZM929.7 1473.8H945.4V1495.5H929.7ZM992.2 1473.8H1007.8V1495.5H992.2ZM1039.1 1473.8H1054.7V1495.5H1039.1ZM1070.3 1473.8H1085.9V1495.5H1070.3ZM1101.6 1473.8H1117.2V1495.5H1101.6ZM278.8 1495.5H300.4V1517.2H278.8ZM1226.5 1517.2H1242.1V1538.8H1226.5ZM1257.8 1517.2H1273.4V1538.8H1257.8Z"/><path fill="#3e5dab" d="M149.2 1430.4H170.8V1452.1H149.2ZM170.8 1430.4H192.4V1452.1H170.8ZM278.8 1430.4H300.4V1452.1H278.8ZM300.4 1430.4H322V1452.1H300.4ZM408.4 1430.4H430V1452.1H408.4ZM473.2 1430.4H494.8V1452.1H473.2ZM1007.8 1430.4H1023.5V1452.1H1007.8ZM149.2 1452.1H170.8V1473.8H149.2ZM257.2 1452.1H278.8V1473.8H257.2ZM278.8 1452.1H300.4V1473.8H278.8ZM300.4 1452.1H322V1473.8H300.4ZM408.4 1452.1H430V1473.8H408.4ZM451.6 1452.1H473.2V1473.8H451.6ZM945.4 1452.1H961V1473.8H945.4ZM961 1452.1H976.6V1473.8H961ZM1023.5 1452.1H1039.1V1473.8H1023.5ZM1054.7 1452.1H1070.3V1473.8H1054.7ZM1085.9 1452.1H1101.6V1473.8H1085.9ZM170.8 1473.8H192.4V1495.5H170.8ZM214 1473.8H235.6V1495.5H214ZM257.2 1473.8H278.8V1495.5H257.2ZM278.8 1473.8H300.4V1495.5H278.8ZM322 1473.8H343.6V1495.5H322ZM516.4 1473.8H538V1495.5H516.4ZM789.2 1473.8H804.8V1495.5H789.2ZM836 1473.8H851.6V1495.5H836ZM898.5 1473.8H914.1V1495.5H898.5ZM914.1 1473.8H929.7V1495.5H914.1ZM945.4 1473.8H961V1495.5H945.4ZM1007.8 1473.8H1023.5V1495.5H1007.8ZM1023.5 1473.8H1039.1V1495.5H1023.5ZM1054.7 1473.8H1070.3V1495.5H1054.7ZM1085.9 1473.8H1101.6V1495.5H1085.9ZM602.8 1517.2H624.4V1538.8H602.8ZM624.4 1517.2H646V1538.8H624.4ZM1242.1 1517.2H1257.8V1538.8H1242.1ZM624.4 1538.8H646V1560.5H624.4Z"/><path fill="#4b76be" d="M106 1495.5H127.6V1517.2H106ZM192.4 1495.5H214V1517.2H192.4ZM408.4 1495.5H430V1517.2H408.4ZM726.7 1538.8H742.3V1560.5H726.7Z"/><path fill="#4c79c1" d="M127.6 1495.5H149.2V1517.2H127.6ZM149.2 1495.5H170.8V1517.2H149.2ZM742.3 1517.2H757.9V1538.8H742.3ZM624.4 1560.5H646V1582.2H624.4ZM1242.1 1560.5H1257.8V1582.2H1242.1Z"/><path fill="#4a74bc" d="M170.8 1495.5H192.4V1517.2H170.8ZM386.8 1495.5H408.4V1517.2H386.8ZM430 1495.5H451.6V1517.2H430ZM538 1495.5H559.6V1517.2H538ZM773.5 1495.5H789.2V1517.2H773.5ZM1132.8 1495.5H1148.4V1517.2H1132.8ZM1148.4 1495.5H1164V1517.2H1148.4ZM1195.3 1538.8H1210.9V1560.5H1195.3Z"/><path fill="#486fb9" d="M214 1495.5H235.6V1517.2H214ZM235.6 1495.5H257.2V1517.2H235.6ZM1210.9 1538.8H1226.5V1560.5H1210.9Z"/><path fill="#4264b1" d="M257.2 1495.5H278.8V1517.2H257.2ZM300.4 1495.5H322V1517.2H300.4ZM322 1495.5H343.6V1517.2H322Z"/><path fill="#466db7" d="M343.6 1495.5H365.2V1517.2H343.6ZM365.2 1495.5H386.8V1517.2H365.2Z"/><path fill="#5080c8" d="M451.6 1495.5H473.2V1517.2H451.6ZM494.8 1495.5H516.4V1517.2H494.8ZM789.2 1495.5H804.8V1517.2H789.2ZM820.4 1495.5H836V1517.2H820.4ZM851.6 1495.5H867.3V1517.2H851.6ZM257.2 1517.2H278.8V1538.8H257.2ZM300.4 1517.2H322V1538.8H300.4ZM322 1517.2H343.6V1538.8H322ZM1148.4 1517.2H1164V1538.8H1148.4ZM257.2 1538.8H278.8V1560.5H257.2ZM278.8 1538.8H300.4V1560.5H278.8ZM343.6 1538.8H365.2V1560.5H343.6ZM581.2 1538.8H602.8V1560.5H581.2ZM1179.7 1538.8H1195.3V1560.5H1179.7ZM679.8 1560.5H695.4V1582.2H679.8Z"/><path fill="#5c9ee0" d="M473.2 1495.5H494.8V1517.2H473.2ZM992.2 1495.5H1007.8V1517.2H992.2ZM1039.1 1495.5H1054.7V1517.2H1039.1ZM1054.7 1495.5H1070.3V1517.2H1054.7ZM170.8 1517.2H192.4V1538.8H170.8ZM170.8 1538.8H192.4V1560.5H170.8Z"/><path fill="#5285cc" d="M516.4 1495.5H538V1517.2H516.4ZM804.8 1495.5H820.4V1517.2H804.8ZM836 1495.5H851.6V1517.2H836ZM235.6 1517.2H257.2V1538.8H235.6ZM343.6 1517.2H365.2V1538.8H343.6ZM300.4 1538.8H322V1560.5H300.4ZM322 1538.8H343.6V1560.5H322Z"/><path fill="#3e5eac" d="M559.6 1495.5H581.2V1517.2H559.6ZM1179.7 1495.5H1195.3V1517.2H1179.7ZM679.8 1517.2H695.4V1538.8H679.8ZM1242.1 1538.8H1257.8V1560.5H1242.1ZM1257.8 1538.8H1273.4V1560.5H1257.8Z"/><path fill="#4468b4" d="M757.9 1495.5H773.5V1517.2H757.9ZM1164 1517.2H1179.7V1538.8H1164ZM695.4 1538.8H711.1V1560.5H695.4ZM1226.5 1538.8H1242.1V1560.5H1226.5Z"/><path fill="#5995da" d="M867.3 1495.5H882.9V1517.2H867.3Z"/><path fill="#5b9ade" d="M882.9 1495.5H898.5V1517.2H882.9ZM898.5 1495.5H914.1V1517.2H898.5ZM914.1 1495.5H929.7V1517.2H914.1ZM1070.3 1495.5H1085.9V1517.2H1070.3ZM192.4 1517.2H214V1538.8H192.4ZM386.8 1517.2H408.4V1538.8H386.8ZM386.8 1538.8H408.4V1560.5H386.8ZM742.3 1538.8H757.9V1560.5H742.3Z"/><path fill="#61aeea" d="M929.7 1495.5H945.4V1517.2H929.7ZM961 1495.5H976.6V1517.2H961ZM559.6 1517.2H581.2V1538.8H559.6Z"/><path fill="#60aae8" d="M945.4 1495.5H961V1517.2H945.4ZM976.6 1495.5H992.2V1517.2H976.6ZM757.9 1517.2H773.5V1538.8H757.9Z"/><path fill="#5ea2e4" d="M1007.8 1495.5H1023.5V1517.2H1007.8ZM1023.5 1495.5H1039.1V1517.2H1023.5ZM602.8 1560.5H624.4V1582.2H602.8ZM695.4 1560.5H711.1V1582.2H695.4Z"/><path fill="#4972ba" d="M1085.9 1495.5H1101.6V1517.2H1085.9ZM1101.6 1495.5H1117.2V1517.2H1101.6ZM1117.2 1495.5H1132.8V1517.2H1117.2ZM581.2 1517.2H602.8V1538.8H581.2ZM711.1 1538.8H726.7V1560.5H711.1ZM646 1560.5H664.2V1582.2H646ZM664.2 1560.5H679.8V1582.2H664.2ZM1257.8 1560.5H1273.4V1582.2H1257.8ZM1273.4 1560.5H1288.5V1582.2H1273.4Z"/><path fill="#3f60ae" d="M1164 1495.5H1179.7V1517.2H1164ZM1195.3 1495.5H1210.9V1517.2H1195.3ZM1210.9 1495.5H1226.5V1517.2H1210.9ZM646 1517.2H664.2V1538.8H646ZM664.2 1517.2H679.8V1538.8H664.2ZM695.4 1517.2H711.1V1538.8H695.4ZM711.1 1517.2H726.7V1538.8H711.1ZM1179.7 1517.2H1195.3V1538.8H1179.7ZM602.8 1538.8H624.4V1560.5H602.8ZM646 1538.8H664.2V1560.5H646ZM664.2 1538.8H679.8V1560.5H664.2ZM679.8 1538.8H695.4V1560.5H679.8ZM1273.4 1538.8H1288.5V1560.5H1273.4Z"/><path fill="#62b6ec" d="M106 1517.2H127.6V1538.8H106ZM127.6 1517.2H149.2V1538.8H127.6ZM1132.8 1517.2H1148.4V1538.8H1132.8ZM106 1538.8H127.6V1560.5H106Z"/><path fill="#5fa6e6" d="M149.2 1517.2H170.8V1538.8H149.2ZM408.4 1517.2H430V1538.8H408.4ZM149.2 1538.8H170.8V1560.5H149.2ZM408.4 1538.8H430V1560.5H408.4ZM757.9 1538.8H773.5V1560.5H757.9Z"/><path fill="#548bd1" d="M214 1517.2H235.6V1538.8H214ZM192.4 1538.8H214V1560.5H192.4ZM235.6 1538.8H257.2V1560.5H235.6ZM1226.5 1560.5H1242.1V1582.2H1226.5Z"/><path fill="#4f7ec6" d="M278.8 1517.2H300.4V1538.8H278.8Z"/><path fill="#5790d5" d="M365.2 1517.2H386.8V1538.8H365.2ZM214 1538.8H235.6V1560.5H214ZM365.2 1538.8H386.8V1560.5H365.2Z"/><path fill="#76c0d4" d="M430 1517.2H451.6V1538.8H430ZM773.5 1538.8H789.2V1560.5H773.5ZM726.7 1560.5H742.3V1582.2H726.7Z"/><path fill="#7bc0ca" d="M451.6 1517.2H473.2V1538.8H451.6ZM473.2 1517.2H494.8V1538.8H473.2ZM789.2 1517.2H804.8V1538.8H789.2ZM804.8 1517.2H820.4V1538.8H804.8ZM820.4 1517.2H836V1538.8H820.4ZM836 1517.2H851.6V1538.8H836ZM1117.2 1517.2H1132.8V1538.8H1117.2ZM789.2 1538.8H804.8V1560.5H789.2ZM804.8 1538.8H820.4V1560.5H804.8ZM1148.4 1538.8H1164V1560.5H1148.4ZM192.4 1560.5H214V1582.2H192.4ZM365.2 1560.5H386.8V1582.2H365.2ZM386.8 1560.5H408.4V1582.2H386.8ZM742.3 1560.5H757.9V1582.2H742.3ZM1179.7 1560.5H1195.3V1582.2H1179.7ZM1195.3 1560.5H1210.9V1582.2H1195.3Z"/><path fill="#78c0cf" d="M494.8 1517.2H516.4V1538.8H494.8ZM1085.9 1517.2H1101.6V1538.8H1085.9ZM1101.6 1517.2H1117.2V1538.8H1101.6ZM127.6 1538.8H149.2V1560.5H127.6ZM170.8 1560.5H192.4V1582.2H170.8Z"/><path fill="#7fc0b7" d="M516.4 1517.2H538V1538.8H516.4ZM538 1517.2H559.6V1538.8H538Z"/><path fill="#456ab6" d="M726.7 1517.2H742.3V1538.8H726.7Z"/><path fill="#74c0d9" d="M773.5 1517.2H789.2V1538.8H773.5ZM430 1538.8H451.6V1560.5H430ZM214 1560.5H235.6V1582.2H214ZM235.6 1560.5H257.2V1582.2H235.6ZM257.2 1560.5H278.8V1582.2H257.2ZM278.8 1560.5H300.4V1582.2H278.8ZM322 1560.5H343.6V1582.2H322ZM343.6 1560.5H365.2V1582.2H343.6ZM711.1 1560.5H726.7V1582.2H711.1Z"/><path fill="#84c09d" d="M851.6 1517.2H867.3V1538.8H851.6ZM867.3 1517.2H882.9V1538.8H867.3ZM882.9 1517.2H898.5V1538.8H882.9ZM929.7 1517.2H945.4V1538.8H929.7ZM945.4 1517.2H961V1538.8H945.4ZM976.6 1517.2H992.2V1538.8H976.6ZM1007.8 1517.2H1023.5V1538.8H1007.8ZM1023.5 1517.2H1039.1V1538.8H1023.5ZM1054.7 1517.2H1070.3V1538.8H1054.7ZM757.9 1560.5H773.5V1582.2H757.9ZM1164 1560.5H1179.7V1582.2H1164Z"/><path fill="#84c096" d="M898.5 1517.2H914.1V1538.8H898.5ZM992.2 1517.2H1007.8V1538.8H992.2ZM1101.6 1538.8H1117.2V1560.5H1101.6Z"/><path fill="#83c0a3" d="M914.1 1517.2H929.7V1538.8H914.1ZM961 1517.2H976.6V1538.8H961ZM1039.1 1517.2H1054.7V1538.8H1039.1ZM451.6 1538.8H473.2V1560.5H451.6ZM836 1538.8H851.6V1560.5H836ZM106 1560.5H127.6V1582.2H106Z"/><path fill="#7ec0be" d="M1070.3 1517.2H1085.9V1538.8H1070.3ZM559.6 1538.8H581.2V1560.5H559.6ZM820.4 1538.8H836V1560.5H820.4Z"/><path fill="#88c058" d="M473.2 1538.8H494.8V1560.5H473.2Z"/><path fill="#88c057" d="M494.8 1538.8H516.4V1560.5H494.8ZM516.4 1538.8H538V1560.5H516.4ZM538 1538.8H559.6V1560.5H538Z"/><path fill="#84c090" d="M851.6 1538.8H867.3V1560.5H851.6ZM127.6 1560.5H149.2V1582.2H127.6Z"/><path fill="#87c05d" d="M867.3 1538.8H882.9V1560.5H867.3ZM882.9 1538.8H898.5V1560.5H882.9Z"/><path fill="#88c055" d="M898.5 1538.8H914.1V1560.5H898.5ZM914.1 1538.8H929.7V1560.5H914.1ZM929.7 1538.8H945.4V1560.5H929.7ZM945.4 1538.8H961V1560.5H945.4ZM961 1538.8H976.6V1560.5H961ZM976.6 1538.8H992.2V1560.5H976.6ZM992.2 1538.8H1007.8V1560.5H992.2ZM1007.8 1538.8H1023.5V1560.5H1007.8ZM1023.5 1538.8H1039.1V1560.5H1023.5ZM1039.1 1538.8H1054.7V1560.5H1039.1ZM1054.7 1538.8H1070.3V1560.5H1054.7ZM1070.3 1538.8H1085.9V1560.5H1070.3Z"/><path fill="#87c063" d="M1085.9 1538.8H1101.6V1560.5H1085.9ZM559.6 1560.5H581.2V1582.2H559.6ZM773.5 1560.5H789.2V1582.2H773.5Z"/><path fill="#82c0aa" d="M1117.2 1538.8H1132.8V1560.5H1117.2Z"/><path fill="#7dc0c5" d="M1132.8 1538.8H1148.4V1560.5H1132.8ZM149.2 1560.5H170.8V1582.2H149.2ZM408.4 1560.5H430V1582.2H408.4ZM581.2 1560.5H602.8V1582.2H581.2Z"/><path fill="#61b2ea" d="M1164 1538.8H1179.7V1560.5H1164Z"/><path fill="#67bbe8" d="M300.4 1560.5H322V1582.2H300.4Z"/><path fill="#84c083" d="M430 1560.5H451.6V1582.2H430Z"/><path fill="#88c04c" d="M451.6 1560.5H473.2V1582.2H451.6ZM473.2 1560.5H494.8V1582.2H473.2ZM789.2 1560.5H804.8V1582.2H789.2ZM804.8 1560.5H820.4V1582.2H804.8ZM820.4 1560.5H836V1582.2H820.4ZM836 1560.5H851.6V1582.2H836ZM851.6 1560.5H867.3V1582.2H851.6ZM882.9 1560.5H898.5V1582.2H882.9ZM914.1 1560.5H929.7V1582.2H914.1ZM945.4 1560.5H961V1582.2H945.4ZM976.6 1560.5H992.2V1582.2H976.6ZM1039.1 1560.5H1054.7V1582.2H1039.1ZM1101.6 1560.5H1117.2V1582.2H1101.6ZM1117.2 1560.5H1132.8V1582.2H1117.2Z"/><path fill="#88c04d" d="M494.8 1560.5H516.4V1582.2H494.8ZM867.3 1560.5H882.9V1582.2H867.3ZM898.5 1560.5H914.1V1582.2H898.5ZM929.7 1560.5H945.4V1582.2H929.7ZM961 1560.5H976.6V1582.2H961ZM1070.3 1560.5H1085.9V1582.2H1070.3ZM1085.9 1560.5H1101.6V1582.2H1085.9Z"/><path fill="#89c04c" d="M516.4 1560.5H538V1582.2H516.4ZM538 1560.5H559.6V1582.2H538ZM992.2 1560.5H1007.8V1582.2H992.2ZM1007.8 1560.5H1023.5V1582.2H1007.8ZM1023.5 1560.5H1039.1V1582.2H1023.5ZM1054.7 1560.5H1070.3V1582.2H1054.7Z"/><path fill="#88c054" d="M1132.8 1560.5H1148.4V1582.2H1132.8Z"/><path fill="#84c07d" d="M1148.4 1560.5H1164V1582.2H1148.4Z"/><path fill="#64b9ea" d="M1210.9 1560.5H1226.5V1582.2H1210.9Z"/><rect x="1195" y="910" width="15" height="32" fill="#2b2b2b"/></g><path d="M117 910V1582M297 910V1582M657 910V1582M968.7 910V1582M1281 910V1582" stroke="#fff" stroke-width="1.5" stroke-dasharray="5 3" fill="none" opacity="0.9"/><path d="M106 1582.4h12M1288.5 1582.4h-12M106 1492.7h12M1288.5 1492.7h-12M106 1403.1h12M1288.5 1403.1h-12M106 1313.4h12M1288.5 1313.4h-12M106 1223.8h12M1288.5 1223.8h-12M106 1134.1h12M1288.5 1134.1h-12M106 1044.4h12M1288.5 1044.4h-12M106 954.8h12M1288.5 954.8h-12M224.8 1582.2v-12M224.8 909.5v12M332.8 1582.2v-12M332.8 909.5v12M440.8 1582.2v-12M440.8 909.5v12M548.8 1582.2v-12M548.8 909.5v12M781.8 1582.2v-12M781.8 909.5v12M906.6 1582.2v-12M906.6 909.5v12M1031.4 1582.2v-12M1031.4 909.5v12M1156.2 1582.2v-12M1156.2 909.5v12" stroke="#fff" stroke-width="1.5" fill="none"/><path d="M106 909.5V1582.2H1288.5" stroke="#222" stroke-width="1.5" fill="none"/><text x="89" y="1592.5" font-size="30" text-anchor="end">0.2</text><text x="89" y="1501.4" font-size="30" text-anchor="end">0.4</text><text x="89" y="1412.2" font-size="30" text-anchor="end">0.6</text><text x="89" y="1324.4" font-size="30" text-anchor="end">0.8</text><text x="89" y="1235.8" font-size="30" text-anchor="end">1.0</text><text x="89" y="1143.7" font-size="30" text-anchor="end">1.2</text><text x="89" y="1055.7" font-size="30" text-anchor="end">1.4</text><text x="89" y="963.6" font-size="30" text-anchor="end">1.6</text><text transform="translate(23.5 1258) rotate(-90)" font-size="30.4" text-anchor="middle">Energy (meV)</text><text x="114" y="1622.3" font-size="30" text-anchor="middle">0</text><text x="222" y="1622.3" font-size="30" text-anchor="middle">-0.2</text><text x="330.5" y="1622.3" font-size="30" text-anchor="middle">-0.4</text><text x="439.5" y="1622.3" font-size="30" text-anchor="middle">-0.6</text><text x="548" y="1622.3" font-size="30" text-anchor="middle">-0.8</text><text x="655.8" y="1622.3" font-size="30" text-anchor="middle">-1</text><text x="781" y="1622.3" font-size="30" text-anchor="middle">-0.8</text><text x="905.8" y="1622.3" font-size="30" text-anchor="middle">-0.6</text><text x="1030.4" y="1622.3" font-size="30" text-anchor="middle">-0.4</text><text x="1155.8" y="1622.3" font-size="30" text-anchor="middle">-0.2</text><text x="1280.5" y="1622.3" font-size="30" text-anchor="middle">0</text><text x="387.3" y="1662.3" font-size="30.5" text-anchor="middle">(1/2-<tspan font-style="italic">K</tspan>/2, <tspan font-style="italic">K</tspan>, 0) (r.l.u.)</text><text x="968.9" y="1662.3" font-size="30.7" text-anchor="middle">(1, <tspan font-style="italic">K</tspan>, 0) (r.l.u.)</text><text x="5" y="883.6" font-size="35" text-anchor="start" font-weight="bold">c</text><text x="98.6" y="891.8" font-size="30" style="fill:#d0262c">M<tspan font-size="17.5" dy="10.5" dx="0.3">1</tspan></text><text x="287.2" y="891.8" font-size="30" style="fill:#3b7b34">K</text><text x="643" y="891.8" font-size="30" style="fill:#2a2c80"><tspan font-family="Liberation Serif, serif">Γ</tspan><tspan font-size="18" dy="10.5">1</tspan></text><text x="951" y="891.8" font-size="30" style="fill:#d0262c">M<tspan font-size="17.5" dy="10.5">2</tspan></text><text x="1266.7" y="891.8" font-size="30" style="fill:#2a2c80"><tspan font-family="Liberation Serif, serif">Γ</tspan><tspan font-size="18" dy="10.5">2</tspan></text><rect x="1322" y="1089" width="27.5" height="315" fill="url(#cm)" stroke="#333" stroke-width="1.2"/><text x="1335.5" y="1069.8" font-size="30" text-anchor="middle">70</text><text x="1335.5" y="1436.8" font-size="30" text-anchor="middle">0</text><text transform="translate(1372.5 1247) rotate(90)" font-size="30.4" text-anchor="middle">Intensity (arb. unit)</text></svg></body></html>
